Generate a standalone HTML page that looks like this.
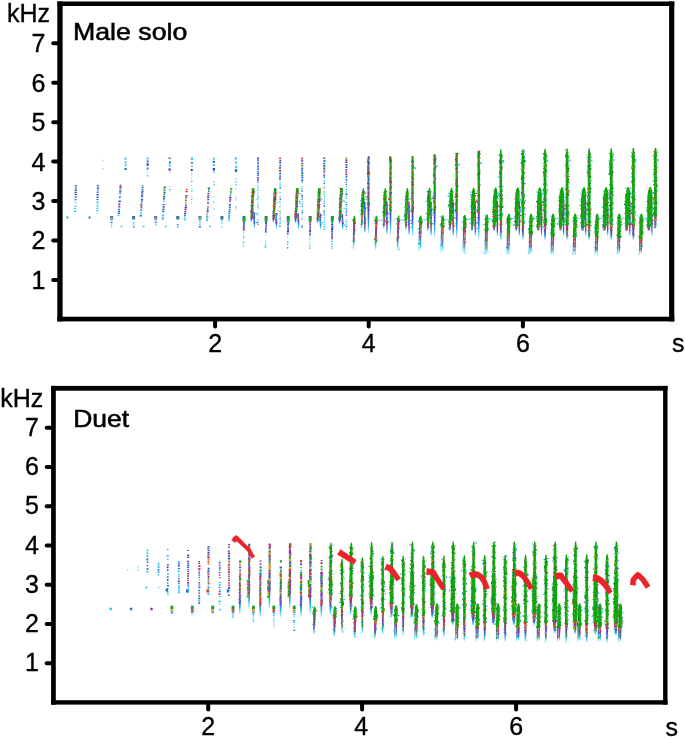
<!DOCTYPE html>
<html><head><meta charset="utf-8"><style>
html,body{margin:0;padding:0;background:#fff;width:685px;height:740px;overflow:hidden;font-family:"Liberation Sans",sans-serif}
svg{display:block;will-change:transform}
</style></head><body><svg width="685" height="740" viewBox="0 0 685 740" font-family="'Liberation Sans', sans-serif"><style>text{stroke:#000;stroke-width:0.35px}</style><rect width="685" height="740" fill="#fff"/><defs><linearGradient id="ta" x1="0" y1="0" x2="0" y2="1"><stop offset="0" stop-color="#7040b0"/><stop offset="0.3" stop-color="#3a58d4"/><stop offset="0.65" stop-color="#2cb8ec"/><stop offset="1" stop-color="#c4f0fa"/></linearGradient><linearGradient id="tb" x1="0" y1="0" x2="0" y2="1"><stop offset="0" stop-color="#2f6ad8"/><stop offset="0.5" stop-color="#2cc0ee"/><stop offset="1" stop-color="#c4f0fa"/></linearGradient><linearGradient id="tp" x1="0" y1="0" x2="0" y2="1"><stop offset="0" stop-color="#d8302c"/><stop offset="0.3" stop-color="#8a3aa8"/><stop offset="0.55" stop-color="#3560d8"/><stop offset="0.8" stop-color="#2cc8ee"/><stop offset="1" stop-color="#c4f0fa"/></linearGradient><linearGradient id="tg" x1="0" y1="0" x2="0" y2="1"><stop offset="0" stop-color="#0fa80f"/><stop offset="0.3" stop-color="#3560d8"/><stop offset="0.7" stop-color="#2cc8ee"/><stop offset="1" stop-color="#c4f0fa"/></linearGradient><linearGradient id="tc" x1="0" y1="0" x2="0" y2="1"><stop offset="0" stop-color="#2cc8ee"/><stop offset="1" stop-color="#d0f4fc"/></linearGradient></defs><g><path fill="#0fa80f" d="M251.9 188.5 251.7 193.5 251.4 198.4 251.2 203.4 250.9 208.3 250.7 213.3 250.4 218.2 252.5 218.2 252.8 213.3 253.2 208.3 253.5 203.4 253.8 198.4 254.2 193.5 254.5 188.5zM273.9 188.4 273.7 193.4 273.5 198.5 273.2 203.5 273 208.5 272.7 213.6 272.5 218.6 274.6 218.6 274.9 213.6 275.3 208.5 275.6 203.5 276 198.5 276.3 193.4 276.6 188.4zM296 188.3 295.7 193.4 295.5 198.5 295.2 203.7 295 208.8 294.8 213.9 294.5 219 296.7 219 297 213.9 297.4 208.8 297.7 203.7 298.1 198.5 298.4 193.4 298.8 188.3zM318 188.2 317.8 193.4 317.5 198.6 317.3 203.8 317 209 316.8 214.2 316.6 219.3 318.8 219.3 319.2 214.2 319.5 209 319.9 203.8 320.2 198.6 320.6 193.4 320.9 188.2zM340 188.2 339.8 193.4 339.5 198.7 339.3 203.9 339.1 209.2 338.8 214.4 338.6 219.7 340.9 219.7 341.3 214.4 341.6 209.2 342 203.9 342.3 198.7 342.7 193.4 343 188.2zM353.8 216 353.7 216.5 353.6 217 353.5 217.5 353.4 218 353.2 218.5 353.1 219 353 219.5 353 220 353 220.5 353 220.9 355.6 220.9 355.6 220.5 355.6 220 355.6 219.5 355.5 219 355.4 218.5 355.3 218 355.2 217.5 355.2 217 355.1 216.5 355 216zM362.9 188.1 362.2 190.9 361.8 193.7 361.5 196.5 361.4 199.3 361.3 202.1 361.2 204.8 361.2 207.6 361.1 210.4 361.1 213.2 361 216 363.2 216 363.4 213.2 363.6 210.4 363.7 207.6 363.9 204.8 364.1 202.1 364.2 199.3 364.3 196.5 364.3 193.7 364.1 190.9 363.7 188.1zM375.9 215.8 375.7 216.3 375.6 216.9 375.5 217.4 375.4 218 375.2 218.5 375.1 219.1 375 219.6 375 220.1 375 220.7 375 221.2 377.7 221.2 377.7 220.7 377.7 220.1 377.7 219.6 377.7 219.1 377.6 218.5 377.5 218 377.4 217.4 377.3 216.9 377.2 216.3 377.1 215.8zM384.9 188 384.2 191 383.8 194.1 383.5 197.1 383.4 200.1 383.3 203.2 383.2 206.2 383.2 209.2 383.1 212.3 383.1 215.3 383 218.3 385.2 218.3 385.4 215.3 385.6 212.3 385.8 209.2 386 206.2 386.2 203.2 386.4 200.1 386.5 197.1 386.5 194.1 386.3 191 385.8 188zM389.5 156.5 389.5 165.6 389.5 174.8 389.5 183.9 389.5 193.1 389.5 202.2 389.5 211.4 391.5 211.4 391.5 202.2 391.5 193.1 391.5 183.9 391.5 174.8 391.5 165.6 391.5 156.5zM397.9 215.6 397.8 216.2 397.7 216.8 397.5 217.4 397.4 218 397.2 218.6 397.1 219.1 397.1 219.7 397.1 220.3 397 220.9 397 221.5 399.8 221.5 399.8 220.9 399.8 220.3 399.8 219.7 399.8 219.1 399.7 218.6 399.6 218 399.5 217.4 399.4 216.8 399.3 216.2 399.2 215.6zM407 187.9 406.1 191.2 405.7 194.5 405.5 197.8 405.4 201 405.3 204.3 405.2 207.6 405.1 210.9 405.1 214.2 405 217.5 405 220.7 407.3 220.7 407.5 217.5 407.7 214.2 407.9 210.9 408.1 207.6 408.3 204.3 408.5 201 408.6 197.8 408.6 194.5 408.5 191.2 407.9 187.9zM411.5 156 411.5 165.4 411.5 174.7 411.5 184.1 411.5 193.5 411.5 202.9 411.5 212.2 413.6 212.2 413.6 202.9 413.6 193.5 413.6 184.1 413.6 174.7 413.6 165.4 413.6 156zM420 215.4 419.8 216.2 419.6 217.1 419.4 217.9 419.2 218.7 419.1 219.6 419.1 220.4 419.1 221.3 419 222.1 419 222.9 419 223.8 421.8 223.8 421.8 222.9 421.8 222.1 421.9 221.3 421.9 220.4 421.9 219.6 421.9 218.7 421.7 217.9 421.6 217.1 421.4 216.2 421.3 215.4zM429 187.8 428.1 191.4 427.7 194.9 427.5 198.5 427.3 202 427.2 205.5 427.2 209.1 427.1 212.6 427.1 216.2 427 219.7 427 223.2 429.3 223.2 429.5 219.7 429.8 216.2 430 212.6 430.2 209.1 430.4 205.5 430.6 202 430.8 198.5 430.8 194.9 430.7 191.4 430 187.8zM430.1 201.8 430.1 205.8 430.1 209.8 430.2 213.8 430.2 217.8 430.2 221.8 430.2 225.8 431.9 225.8 431.9 221.8 431.9 217.8 431.9 213.8 431.8 209.8 431.8 205.8 431.8 201.8zM433.6 154.3 433.6 164.1 433.6 173.8 433.6 183.6 433.6 193.3 433.6 203 433.6 212.8 435.7 212.8 435.7 203 435.7 193.3 435.7 183.6 435.7 173.8 435.7 164.1 435.7 154.3zM442.1 215.2 441.8 216.3 441.5 217.4 441.2 218.5 441.1 219.7 441.1 220.8 441.1 221.9 441 223 441 224.1 441 225.2 440.9 226.3 443.9 226.3 443.9 225.2 443.9 224.1 444 223 444 221.9 444 220.8 444.1 219.7 444 218.5 443.8 217.4 443.6 216.3 443.4 215.2zM451.1 187.8 450 191.4 449.6 195.1 449.4 198.7 449.2 202.4 449.2 206.1 449.1 209.7 449.1 213.4 449 217 449 220.7 448.9 224.4 451.4 224.4 451.7 220.7 451.9 217 452.1 213.4 452.4 209.7 452.6 206.1 452.8 202.4 453 198.7 453 195.1 452.9 191.4 452.1 187.8zM452.2 201.8 452.2 205.7 452.2 209.7 452.2 213.7 452.3 217.7 452.3 221.7 452.3 225.7 454 225.7 454 221.7 454 217.7 453.9 213.7 453.9 209.7 453.9 205.7 453.9 201.8zM455.6 152.7 455.6 162.7 455.6 172.7 455.6 182.7 455.6 192.8 455.6 202.8 455.6 212.8 457.8 212.8 457.8 202.8 457.8 192.8 457.8 182.7 457.8 172.7 457.8 162.7 457.8 152.7zM464.1 215 463.7 216.4 463.4 217.8 463.2 219.2 463.1 220.6 463.1 222 463 223.4 463 224.7 463 226.1 462.9 227.5 462.9 228.9 466 228.9 466 227.5 466 226.1 466.1 224.7 466.1 223.4 466.1 222 466.2 220.6 466.2 219.2 466.1 217.8 465.8 216.4 465.5 215zM473.1 187.7 472 191.5 471.5 195.2 471.3 199 471.1 202.8 471.1 206.6 471.1 210.4 471 214.2 471 217.9 470.9 221.7 470.9 225.5 473.5 225.5 473.8 221.7 474 217.9 474.3 214.2 474.5 210.4 474.8 206.6 475 202.8 475.2 199 475.3 195.2 475.1 191.5 474.3 187.7zM474.2 201.7 474.3 205.7 474.3 209.7 474.3 213.7 474.3 217.7 474.4 221.7 474.4 225.7 476.1 225.7 476.1 221.7 476 217.7 476 213.7 476 209.7 476 205.7 475.9 201.7zM477.6 150.8 477.6 161.2 477.6 171.5 477.6 181.8 477.6 192.1 477.6 202.4 477.6 212.7 479.9 212.7 479.9 202.4 479.9 192.1 479.9 181.8 479.9 171.5 479.9 161.2 479.9 150.8zM486.1 214.4 485.7 216.1 485.2 217.8 485.1 219.5 485.1 221.2 485.1 222.9 485 224.6 485 226.3 484.9 228 484.9 229.7 484.9 231.5 488 231.5 488.1 229.7 488.1 228 488.2 226.3 488.2 224.6 488.2 222.9 488.3 221.2 488.3 219.5 488.3 217.8 488 216.1 487.6 214.4zM495.1 187.6 493.9 191.5 493.4 195.4 493.2 199.3 493.1 203.2 493 207.1 493 211 493 214.9 492.9 218.8 492.9 222.8 492.8 226.7 495.6 226.7 495.9 222.8 496.2 218.8 496.4 214.9 496.7 211 497 207.1 497.2 203.2 497.4 199.3 497.5 195.4 497.3 191.5 496.4 187.6zM496.3 201.6 496.3 205.6 496.4 209.6 496.4 213.6 496.4 217.6 496.4 221.7 496.5 225.7 498.2 225.7 498.1 221.7 498.1 217.6 498.1 213.6 498.1 209.6 498 205.6 498 201.6zM500.3 149 499.6 156.3 499.6 163.6 499.6 170.8 499.6 178.1 499.6 185.4 499.6 192.7 499.6 200 499.6 207.2 499.6 214.5 499.6 221.8 502.1 221.8 502.1 214.5 502.1 207.2 502.1 200 502.1 192.7 502.1 185.4 502.1 178.1 502.1 170.8 502.1 163.6 502.1 156.3 501.4 149zM508.2 213.8 507.7 215.7 507.2 217.6 507.2 219.5 507.1 221.4 507.1 223.3 507 225.3 507 227.2 506.9 229.1 506.9 231 506.8 232.9 510.1 232.9 510.2 231 510.2 229.1 510.3 227.2 510.3 225.3 510.4 223.3 510.4 221.4 510.5 219.5 510.5 217.6 510.1 215.7 509.7 213.8zM517.2 187.5 515.9 191.4 515.4 195.4 515.2 199.3 515 203.2 515 207.2 515 211.1 514.9 215 514.9 219 514.9 222.9 514.9 226.8 517.8 226.8 518 222.9 518.3 219 518.6 215 518.9 211.1 519.1 207.2 519.4 203.2 519.6 199.3 519.7 195.4 519.5 191.4 518.5 187.5zM518.4 201.5 518.4 205.5 518.4 209.6 518.5 213.6 518.5 217.6 518.5 221.6 518.5 225.7 520.2 225.7 520.2 221.6 520.2 217.6 520.2 213.6 520.1 209.6 520.1 205.5 520.1 201.5zM522.4 148.9 521.6 156.3 521.6 163.7 521.6 171.1 521.6 178.5 521.6 185.9 521.6 193.3 521.6 200.7 521.6 208.2 521.6 215.6 521.6 223 524.2 223 524.2 215.6 524.2 208.2 524.2 200.7 524.2 193.3 524.2 185.9 524.2 178.5 524.2 171.1 524.2 163.7 524.2 156.3 523.5 148.9zM530.3 213.8 529.7 215.9 529.2 218 529.2 220.1 529.1 222.1 529.1 224.2 529 226.3 529 228.4 528.9 230.5 528.9 232.6 528.8 234.7 532.2 234.7 532.2 232.6 532.3 230.5 532.3 228.4 532.4 226.3 532.4 224.2 532.5 222.1 532.5 220.1 532.6 218 532.3 215.9 531.8 213.8zM539.2 187.4 537.9 191.4 537.4 195.3 537.2 199.3 537 203.3 537 207.2 537 211.2 536.9 215.1 536.9 219.1 536.9 223.1 536.9 227 539.9 227 540.2 223.1 540.4 219.1 540.7 215.1 541 211.2 541.3 207.2 541.6 203.3 541.8 199.3 541.8 195.3 541.6 191.4 540.6 187.4zM540.5 201.4 540.5 205.5 540.5 209.5 540.5 213.5 540.6 217.6 540.6 221.6 540.6 225.6 542.3 225.6 542.3 221.6 542.3 217.6 542.2 213.5 542.2 209.5 542.2 205.5 542.2 201.4zM544.4 148.7 543.7 156.3 543.7 163.8 543.7 171.4 543.7 178.9 543.7 186.4 543.7 194 543.7 201.5 543.7 209.1 543.7 216.6 543.7 224.2 546.4 224.2 546.4 216.6 546.4 209.1 546.4 201.5 546.4 194 546.4 186.4 546.4 178.9 546.4 171.4 546.4 163.8 546.4 156.3 545.6 148.7zM552.3 213.8 551.7 216.1 551.3 218.3 551.2 220.6 551.2 222.9 551.1 225.1 551.1 227.4 551 229.7 551 231.9 550.9 234.2 550.9 236.5 554.2 236.5 554.3 234.2 554.3 231.9 554.4 229.7 554.4 227.4 554.5 225.1 554.6 222.9 554.6 220.6 554.7 218.3 554.4 216.1 553.9 213.8zM561.3 187.3 559.9 191.3 559.4 195.3 559.1 199.3 559 203.3 559 207.3 559 211.3 558.9 215.2 558.9 219.2 558.9 223.2 558.9 227.2 562 227.2 562.3 223.2 562.6 219.2 562.9 215.2 563.2 211.3 563.5 207.3 563.8 203.3 563.9 199.3 564 195.3 563.8 191.3 562.7 187.3zM562.5 201.3 562.6 205.4 562.6 209.4 562.6 213.5 562.6 217.5 562.7 221.6 562.7 225.6 564.4 225.6 564.4 221.6 564.3 217.5 564.3 213.5 564.3 209.4 564.3 205.4 564.2 201.3zM566.5 148.6 565.7 156.3 565.7 163.9 565.7 171.6 565.7 179.3 565.7 187 565.7 194.7 565.7 202.3 565.7 210 565.7 217.7 565.7 225.4 568.5 225.4 568.5 217.7 568.5 210 568.5 202.3 568.5 194.7 568.5 187 568.5 179.3 568.5 171.6 568.5 163.9 568.5 156.3 567.7 148.6zM574.4 213.8 573.7 216.1 573.4 218.4 573.3 220.8 573.2 223.1 573.2 225.4 573.1 227.7 573.1 230 573 232.3 573 234.7 572.9 237 576.3 237 576.4 234.7 576.4 232.3 576.5 230 576.5 227.7 576.6 225.4 576.6 223.1 576.7 220.8 576.8 218.4 576.5 216.1 575.9 213.8zM583.4 187.2 581.9 191.3 581.4 195.3 581.2 199.3 581 203.3 581 207.3 581 211.3 581 215.3 581 219.3 581 223.4 580.9 227.4 584.1 227.4 584.4 223.4 584.7 219.3 585 215.3 585.3 211.3 585.6 207.3 585.8 203.3 586 199.3 586.1 195.3 585.9 191.3 584.8 187.2zM584.6 201.2 584.6 205.3 584.7 209.4 584.7 213.4 584.7 217.5 584.7 221.5 584.8 225.6 586.5 225.6 586.4 221.5 586.4 217.5 586.4 213.4 586.4 209.4 586.3 205.3 586.3 201.2zM588.5 148.4 587.8 156.1 587.8 163.9 587.8 171.6 587.8 179.3 587.8 187 587.8 194.7 587.8 202.4 587.8 210.1 587.8 217.9 587.8 225.6 590.6 225.6 590.6 217.9 590.6 210.1 590.6 202.4 590.6 194.7 590.6 187 590.6 179.3 590.6 171.6 590.6 163.9 590.6 156.1 589.8 148.4zM596.5 213.8 595.8 216.2 595.4 218.5 595.4 220.9 595.3 223.3 595.2 225.6 595.2 228 595.1 230.4 595.1 232.8 595 235.1 595 237.5 598.4 237.5 598.4 235.1 598.5 232.8 598.6 230.4 598.6 228 598.7 225.6 598.7 223.3 598.8 220.9 598.8 218.5 598.6 216.2 598 213.8zM605.4 187.2 604 191.2 603.5 195.2 603.2 199.3 603.1 203.3 603.1 207.4 603.1 211.4 603 215.4 603 219.5 603 223.5 603 227.6 606.2 227.6 606.5 223.5 606.8 219.5 607.1 215.4 607.4 211.4 607.6 207.4 607.9 203.3 608.1 199.3 608.2 195.2 608 191.2 606.9 187.2zM606.7 201.2 606.7 205.2 606.7 209.3 606.8 213.4 606.8 217.4 606.8 221.5 606.8 225.6 608.5 225.6 608.5 221.5 608.5 217.4 608.5 213.4 608.4 209.3 608.4 205.2 608.4 201.2zM610.6 148.3 609.8 156 609.8 163.8 609.8 171.5 609.8 179.3 609.8 187 609.8 194.8 609.8 202.5 609.8 210.3 609.8 218 609.8 225.8 612.7 225.8 612.7 218 612.7 210.3 612.7 202.5 612.7 194.8 612.7 187 612.7 179.3 612.7 171.5 612.7 163.8 612.7 156 611.9 148.3zM618.5 213.8 617.8 216.2 617.5 218.6 617.4 221.1 617.4 223.5 617.3 225.9 617.2 228.3 617.2 230.7 617.1 233.2 617.1 235.6 617 238 620.5 238 620.5 235.6 620.6 233.2 620.6 230.7 620.7 228.3 620.8 225.9 620.8 223.5 620.9 221.1 620.9 218.6 620.7 216.2 620.1 213.8zM627.5 187.1 626.1 191.1 625.5 195.2 625.3 199.3 625.2 203.3 625.1 207.4 625.1 211.5 625.1 215.5 625.1 219.6 625.1 223.7 625.1 227.7 628.2 227.7 628.5 223.7 628.8 219.6 629.1 215.5 629.4 211.5 629.7 207.4 630 203.3 630.2 199.3 630.3 195.2 630.1 191.1 628.9 187.1zM628.8 201.1 628.8 205.2 628.8 209.2 628.8 213.3 628.9 217.4 628.9 221.5 628.9 225.5 630.6 225.5 630.6 221.5 630.6 217.4 630.5 213.3 630.5 209.2 630.5 205.2 630.5 201.1zM632.7 148.1 631.9 155.9 631.9 163.7 631.9 171.5 631.9 179.3 631.9 187.1 631.9 194.9 631.9 202.6 631.9 210.4 631.9 218.2 631.9 226 634.8 226 634.8 218.2 634.8 210.4 634.8 202.6 634.8 194.9 634.8 187.1 634.8 179.3 634.8 171.5 634.8 163.7 634.8 155.9 634 148.1zM640.6 213.8 639.9 216.3 639.5 218.7 639.5 221.2 639.4 223.7 639.4 226.2 639.3 228.6 639.2 231.1 639.2 233.6 639.1 236 639.1 238.5 642.6 238.5 642.6 236 642.7 233.6 642.7 231.1 642.8 228.6 642.9 226.2 642.9 223.7 643 221.2 643 218.7 642.8 216.3 642.2 213.8zM649.6 187 648.1 191.1 647.5 195.2 647.3 199.3 647.2 203.4 647.2 207.5 647.2 211.6 647.2 215.6 647.1 219.7 647.1 223.8 647.1 227.9 650.3 227.9 650.6 223.8 650.9 219.7 651.2 215.6 651.5 211.6 651.8 207.5 652.1 203.4 652.3 199.3 652.4 195.2 652.2 191.1 651 187zM650.9 201 650.9 205.1 650.9 209.2 650.9 213.2 650.9 217.3 651 221.4 651 225.5 652.7 225.5 652.7 221.4 652.6 217.3 652.6 213.2 652.6 209.2 652.6 205.1 652.6 201zM654.7 148 654 154.9 654 161.8 654 168.7 654 175.5 654 182.4 654 189.3 654 196.2 654 203.1 654 210 654 216.8 656.9 216.8 656.9 210 656.9 203.1 656.9 196.2 656.9 189.3 656.9 182.4 656.9 175.5 656.9 168.7 656.9 161.8 656.9 154.9 656.1 148zM314 606.5 313.8 607.3 313.6 608.1 313.4 609 313.1 609.8 313.1 610.6 313.1 611.5 313 612.3 313 613.1 313 613.9 313 614.8 315.8 614.8 315.8 613.9 315.8 613.1 315.8 612.3 315.9 611.5 315.9 610.6 315.9 609.8 315.7 609 315.5 608.1 315.4 607.3 315.2 606.5zM330.4 542.7 329.7 547.9 329.7 553.1 329.6 558.2 329.6 563.4 329.4 568.6 329.2 573.8 329 579 329 584.2 329 589.3 328.9 594.5 332 594.5 332.1 589.3 332.1 584.2 332.2 579 332.1 573.8 331.9 568.6 331.9 563.4 331.9 558.2 332 553.1 332 547.9 331.4 542.7zM334.3 606.3 334.1 607.4 333.8 608.5 333.5 609.6 333.4 610.6 333.4 611.7 333.4 612.8 333.3 613.8 333.3 614.9 333.3 616 333.3 617.1 336.2 617.1 336.2 616 336.2 614.9 336.2 613.8 336.3 612.8 336.3 611.7 336.3 610.6 336.3 609.6 336.1 608.5 335.9 607.4 335.6 606.3zM341.5 558.7 340.9 563.7 340.9 568.7 340.9 573.7 340.9 578.7 340.9 583.7 340.9 588.7 340.9 593.7 340.9 598.7 340.9 603.7 340.9 608.7 343.1 608.7 343.1 603.7 343.1 598.7 343.1 593.7 343.1 588.7 343.1 583.7 343.1 578.7 343.1 573.7 343.1 568.7 343.1 563.7 342.5 558.7zM350.8 542.4 350.1 547.8 350 553.3 350 558.7 349.9 564.1 349.7 569.6 349.5 575 349.3 580.4 349.3 585.9 349.2 591.3 349.2 596.7 352.5 596.7 352.5 591.3 352.6 585.9 352.6 580.4 352.6 575 352.4 569.6 352.3 564.1 352.3 558.7 352.4 553.3 352.4 547.8 351.8 542.4zM354.7 606.2 354.4 607.4 354 608.7 353.8 610 353.8 611.2 353.7 612.5 353.7 613.8 353.7 615 353.6 616.3 353.6 617.6 353.6 618.8 356.6 618.8 356.6 617.6 356.6 616.3 356.7 615 356.7 613.8 356.7 612.5 356.8 611.2 356.8 610 356.6 608.7 356.3 607.4 356.1 606.2zM361.9 557.3 361.2 562.7 361.2 568 361.2 573.3 361.2 578.6 361.2 584 361.2 589.3 361.2 594.6 361.2 600 361.2 605.3 361.2 610.6 363.5 610.6 363.5 605.3 363.5 600 363.5 594.6 363.5 589.3 363.5 584 363.5 578.6 363.5 573.3 363.5 568 363.5 562.7 362.9 557.3zM371.1 542.1 370.4 547.8 370.4 553.5 370.3 559.2 370.3 564.8 370 570.5 369.7 576.2 369.6 581.9 369.6 587.6 369.5 593.3 369.5 599 372.9 599 373 593.3 373 587.6 373.1 581.9 373.1 576.2 372.9 570.5 372.7 564.8 372.7 559.2 372.8 553.5 372.8 547.8 372.2 542.1zM375.1 606 374.7 607.5 374.3 608.9 374.1 610.4 374.1 611.9 374 613.3 374 614.8 374 616.3 373.9 617.7 373.9 619.2 373.9 620.7 377 620.7 377 619.2 377 617.7 377.1 616.3 377.1 614.8 377.1 613.3 377.2 611.9 377.2 610.4 377.1 608.9 376.8 607.5 376.5 606zM382.2 556 381.6 561.7 381.6 567.3 381.6 573 381.6 578.6 381.6 584.3 381.6 590 381.6 595.6 381.6 601.3 381.6 606.9 381.6 612.6 383.9 612.6 383.9 606.9 383.9 601.3 383.9 595.6 383.9 590 383.9 584.3 383.9 578.6 383.9 573 383.9 567.3 383.9 561.7 383.3 556zM391.5 541.8 390.8 548 390.8 554.1 390.7 560.3 390.6 566.5 390.3 572.7 390 578.8 389.9 585 389.9 591.2 389.8 597.3 389.8 603.5 393.4 603.5 393.5 597.3 393.5 591.2 393.5 585 393.6 578.8 393.4 572.7 393.1 566.5 393.1 560.3 393.2 554.1 393.2 548 392.6 541.8zM395.4 605.2 395 606.9 394.5 608.6 394.4 610.3 394.4 612 394.4 613.7 394.3 615.4 394.3 617.1 394.2 618.9 394.2 620.6 394.2 622.3 397.4 622.3 397.4 620.6 397.4 618.9 397.5 617.1 397.5 615.4 397.6 613.7 397.6 612 397.6 610.3 397.7 608.6 397.3 606.9 396.9 605.2zM402.6 555.8 402 561.7 402 567.5 402 573.3 402 579.1 402 585 402 590.8 402 596.6 402 602.4 402 608.3 402 614.1 404.4 614.1 404.4 608.3 404.4 602.4 404.4 596.6 404.4 590.8 404.4 585 404.4 579.1 404.4 573.3 404.4 567.5 404.4 561.7 403.7 555.8zM411.9 541.5 411.2 547.9 411.1 554.4 411.1 560.8 411 567.2 410.5 573.6 410.2 580.1 410.2 586.5 410.1 592.9 410.1 599.3 410.1 605.8 413.8 605.8 413.9 599.3 414 592.9 414 586.5 414.1 580.1 413.9 573.6 413.5 567.2 413.5 560.8 413.6 554.4 413.6 547.9 413 541.5zM415.8 604.3 415.3 606.3 414.8 608.2 414.8 610.1 414.8 612.1 414.7 614 414.7 616 414.6 617.9 414.6 619.8 414.5 621.8 414.5 623.7 417.7 623.7 417.8 621.8 417.8 619.8 417.9 617.9 417.9 616 417.9 614 418 612.1 418 610.1 418.1 608.2 417.7 606.3 417.3 604.3zM423 555.7 422.3 561.7 422.3 567.7 422.3 573.6 422.3 579.6 422.3 585.6 422.3 591.6 422.3 597.6 422.3 603.6 422.3 609.6 422.3 615.6 424.8 615.6 424.8 609.6 424.8 603.6 424.8 597.6 424.8 591.6 424.8 585.6 424.8 579.6 424.8 573.6 424.8 567.7 424.8 561.7 424.1 555.7zM432.3 541.5 431.5 548 431.5 554.4 431.4 560.9 431.3 567.3 430.8 573.8 430.5 580.2 430.5 586.7 430.4 593.1 430.4 599.6 430.4 606 434.3 606 434.4 599.6 434.5 593.1 434.5 586.7 434.6 580.2 434.3 573.8 434 567.3 434 560.9 434 554.4 434.1 548 433.4 541.5zM436.2 603.5 435.6 605.7 435.2 607.9 435.2 610 435.1 612.2 435.1 614.4 435 616.5 435 618.7 434.9 620.9 434.9 623.1 434.8 625.2 438.1 625.2 438.1 623.1 438.2 620.9 438.2 618.7 438.3 616.5 438.3 614.4 438.4 612.2 438.4 610 438.5 607.9 438.2 605.7 437.7 603.5zM443.4 555.5 442.7 561.7 442.7 567.8 442.7 574 442.7 580.1 442.7 586.3 442.7 592.5 442.7 598.6 442.7 604.8 442.7 611 442.7 617.1 445.2 617.1 445.2 611 445.2 604.8 445.2 598.6 445.2 592.5 445.2 586.3 445.2 580.1 445.2 574 445.2 567.8 445.2 561.7 444.5 555.5zM452.7 541.5 451.9 548.6 451.9 555.7 451.8 562.9 451.7 570 451.2 577.1 450.8 584.2 450.8 591.3 450.7 598.4 450.7 605.6 450.7 612.7 454.8 612.7 454.9 605.6 454.9 598.4 455 591.3 455 584.2 454.8 577.1 454.4 570 454.4 562.9 454.4 555.7 454.5 548.6 453.8 541.5zM456.6 603.5 455.9 605.8 455.6 608.2 455.5 610.5 455.5 612.8 455.4 615.2 455.4 617.5 455.3 619.8 455.3 622.2 455.2 624.5 455.2 626.8 458.5 626.8 458.5 624.5 458.6 622.2 458.6 619.8 458.7 617.5 458.7 615.2 458.8 612.8 458.8 610.5 458.9 608.2 458.6 605.8 458.1 603.5zM463.8 555.3 463.1 561.9 463.1 568.5 463.1 575.1 463.1 581.7 463.1 588.2 463.1 594.8 463.1 601.4 463.1 608 463.1 614.5 463.1 621.1 465.6 621.1 465.6 614.5 465.6 608 465.6 601.4 465.6 594.8 465.6 588.2 465.6 581.7 465.6 575.1 465.6 568.5 465.6 561.9 464.9 555.3zM473.1 541.5 472.3 548.6 472.2 555.8 472.2 562.9 472.1 570.1 471.5 577.2 471.2 584.4 471.2 591.5 471.1 598.7 471.1 605.8 471.1 613 475.1 613 475.3 605.8 475.3 598.7 475.4 591.5 475.4 584.4 475.2 577.2 474.8 570.1 474.8 562.9 474.8 555.8 474.9 548.6 474.2 541.5zM477 603.5 476.3 605.8 476 608.2 475.9 610.5 475.9 612.9 475.8 615.2 475.8 617.6 475.7 619.9 475.7 622.3 475.6 624.6 475.6 627 478.9 627 478.9 624.6 479 622.3 479 619.9 479.1 617.6 479.1 615.2 479.2 612.9 479.2 610.5 479.3 608.2 479 605.8 478.5 603.5zM484.1 555.2 483.4 561.9 483.4 568.6 483.4 575.3 483.4 582 483.4 588.7 483.4 595.5 483.4 602.2 483.4 608.9 483.4 615.6 483.4 622.3 486 622.3 486 615.6 486 608.9 486 602.2 486 595.5 486 588.7 486 582 486 575.3 486 568.6 486 561.9 485.3 555.2zM493.4 541.5 492.7 548.7 492.6 555.9 492.6 563 492.4 570.2 491.9 577.4 491.6 584.6 491.5 591.7 491.5 598.9 491.4 606.1 491.5 613.3 495.5 613.3 495.7 606.1 495.7 598.9 495.8 591.7 495.8 584.6 495.6 577.4 495.2 570.2 495.2 563 495.2 555.9 495.3 548.7 494.6 541.5zM497.4 603.5 496.7 605.9 496.3 608.2 496.3 610.6 496.2 613 496.2 615.3 496.1 617.7 496.1 620.1 496 622.4 496 624.8 495.9 627.1 499.3 627.1 499.3 624.8 499.4 622.4 499.4 620.1 499.5 617.7 499.5 615.3 499.6 613 499.6 610.6 499.7 608.2 499.4 605.9 498.9 603.5zM504.5 555 503.8 561.8 503.8 568.5 503.8 575.3 503.8 582.1 503.8 588.9 503.8 595.6 503.8 602.4 503.8 609.2 503.8 615.9 503.8 622.7 506.4 622.7 506.4 615.9 506.4 609.2 506.4 602.4 506.4 595.6 506.4 588.9 506.4 582.1 506.4 575.3 506.4 568.5 506.4 561.8 505.7 555zM513.8 541.5 513.1 548.7 513 555.9 513 563.1 512.8 570.3 512.2 577.5 511.9 584.8 511.9 592 511.8 599.2 511.8 606.4 511.9 613.6 515.9 613.6 516.1 606.4 516.2 599.2 516.2 592 516.3 584.8 516.1 577.5 515.6 570.3 515.5 563.1 515.6 555.9 515.7 548.7 515 541.5zM517.7 603.5 517.1 605.9 516.7 608.3 516.7 610.6 516.6 613 516.6 615.4 516.5 617.8 516.5 620.2 516.4 622.5 516.4 624.9 516.3 627.3 519.7 627.3 519.7 624.9 519.8 622.5 519.8 620.2 519.9 617.8 519.9 615.4 520 613 520 610.6 520.1 608.3 519.8 605.9 519.3 603.5zM524.9 554.8 524.2 561.7 524.2 568.5 524.2 575.3 524.2 582.1 524.2 589 524.2 595.8 524.2 602.6 524.2 609.5 524.2 616.3 524.2 623.1 526.8 623.1 526.8 616.3 526.8 609.5 526.8 602.6 526.8 595.8 526.8 589 526.8 582.1 526.8 575.3 526.8 568.5 526.8 561.7 526.1 554.8zM534.2 541.5 533.5 548.7 533.4 556 533.3 563.2 533.2 570.5 532.6 577.7 532.3 584.9 532.3 592.2 532.2 599.4 532.2 606.7 532.2 613.9 536.3 613.9 536.5 606.7 536.6 599.4 536.6 592.2 536.7 584.9 536.5 577.7 536 570.5 535.9 563.2 536 556 536 548.7 535.4 541.5zM538.1 603.5 537.4 605.9 537.1 608.3 537 610.7 537 613.1 536.9 615.5 536.9 617.9 536.8 620.3 536.8 622.7 536.7 625.1 536.7 627.5 540.1 627.5 540.1 625.1 540.2 622.7 540.2 620.3 540.3 617.9 540.3 615.5 540.4 613.1 540.4 610.7 540.5 608.3 540.2 605.9 539.7 603.5zM545.3 554.7 544.6 561.6 544.6 568.4 544.6 575.3 544.6 582.2 544.6 589.1 544.6 596 544.6 602.9 544.6 609.8 544.6 616.6 544.6 623.5 547.2 623.5 547.2 616.6 547.2 609.8 547.2 602.9 547.2 596 547.2 589.1 547.2 582.2 547.2 575.3 547.2 568.4 547.2 561.6 546.5 554.7zM554.6 541.5 553.8 549.5 553.8 557.4 553.7 565.4 553.6 573.3 553 581.3 552.7 589.3 552.6 597.2 552.6 605.2 552.5 613.2 552.6 621.1 556.7 621.1 556.9 613.2 557 605.2 557 597.2 557.1 589.3 556.9 581.3 556.4 573.3 556.3 565.4 556.4 557.4 556.4 549.5 555.8 541.5zM558.5 603.5 557.8 605.9 557.5 608.3 557.4 610.7 557.4 613.2 557.3 615.6 557.3 618 557.2 620.4 557.2 622.8 557.1 625.2 557.1 627.6 560.5 627.6 560.5 625.2 560.6 622.8 560.6 620.4 560.7 618 560.7 615.6 560.8 613.2 560.8 610.7 560.9 608.3 560.6 605.9 560 603.5zM565.7 554.5 565 561.4 565 568.4 565 575.3 565 582.3 565 589.2 565 596.2 565 603.1 565 610.1 565 617 565 623.9 567.6 623.9 567.6 617 567.6 610.1 567.6 603.1 567.6 596.2 567.6 589.2 567.6 582.3 567.6 575.3 567.6 568.4 567.6 561.4 566.9 554.5zM575 541.5 574.2 549.5 574.2 557.6 574.1 565.6 573.9 573.7 573.3 581.7 573.1 589.8 573 597.8 573 605.9 572.9 613.9 573 622 577.1 622 577.3 613.9 577.4 605.9 577.4 597.8 577.5 589.8 577.3 581.7 576.8 573.7 576.7 565.6 576.8 557.6 576.8 549.5 576.2 541.5zM578.9 603.5 578.2 605.9 577.8 608.4 577.8 610.8 577.7 613.2 577.7 615.7 577.6 618.1 577.6 620.5 577.5 622.9 577.5 625.4 577.4 627.8 580.9 627.8 580.9 625.4 581 622.9 581 620.5 581.1 618.1 581.1 615.7 581.2 613.2 581.2 610.8 581.3 608.4 581.1 605.9 580.4 603.5zM586.1 554.3 585.3 561.3 585.3 568.3 585.3 575.3 585.3 582.3 585.3 589.3 585.3 596.4 585.3 603.4 585.3 610.4 585.3 617.4 585.3 624.4 588 624.4 588 617.4 588 610.4 588 603.4 588 596.4 588 589.3 588 582.3 588 575.3 588 568.3 588 561.3 587.3 554.3zM595.4 541.5 594.6 549.6 594.6 557.8 594.5 565.9 594.3 574.1 593.7 582.2 593.4 590.3 593.4 598.5 593.3 606.6 593.3 614.7 593.4 622.9 597.5 622.9 597.7 614.7 597.8 606.6 597.8 598.5 597.9 590.3 597.7 582.2 597.2 574.1 597.1 565.9 597.2 557.8 597.2 549.6 596.6 541.5zM599.3 603.5 598.6 605.9 598.2 608.4 598.2 610.8 598.1 613.3 598.1 615.7 598 618.2 598 620.6 597.9 623.1 597.9 625.5 597.8 628 601.3 628 601.3 625.5 601.4 623.1 601.4 620.6 601.5 618.2 601.5 615.7 601.6 613.3 601.6 610.8 601.7 608.4 601.5 605.9 600.8 603.5zM606.5 554.2 605.7 561.2 605.7 568.3 605.7 575.4 605.7 582.4 605.7 589.5 605.7 596.5 605.7 603.6 605.7 610.7 605.7 617.7 605.7 624.8 608.4 624.8 608.4 617.7 608.4 610.7 608.4 603.6 608.4 596.5 608.4 589.5 608.4 582.4 608.4 575.4 608.4 568.3 608.4 561.2 607.7 554.2zM615.8 541.5 615 549.7 614.9 558 614.9 566.2 614.7 574.4 614.1 582.6 613.8 590.9 613.8 599.1 613.7 607.3 613.7 615.5 613.8 623.8 617.9 623.8 618.1 615.5 618.2 607.3 618.2 599.1 618.3 590.9 618.1 582.6 617.6 574.4 617.5 566.2 617.6 558 617.6 549.7 617 541.5zM619.7 603.5 618.9 606 618.6 608.4 618.5 610.9 618.5 613.4 618.4 615.8 618.4 618.3 618.3 620.7 618.3 623.2 618.2 625.7 618.2 628.1 621.7 628.1 621.7 625.7 621.8 623.2 621.8 620.7 621.9 618.3 621.9 615.8 622 613.4 622 610.9 622.1 608.4 621.9 606 621.2 603.5z"/><path fill="#2f6ad8" d="M253.2 212.3 253.3 214.2 253.3 216 253.4 217.9 253.4 219.8 253.4 221.6 253.5 223.5 255.1 223.5 255 221.6 255 219.8 255 217.9 254.9 216 254.9 214.2 254.8 212.3zM275.3 212.7 275.3 214.6 275.4 216.5 275.4 218.3 275.5 220.2 275.5 222.1 275.6 223.9 277.2 223.9 277.1 222.1 277.1 220.2 277 218.3 277 216.5 276.9 214.6 276.9 212.7zM297.4 213.2 297.4 215 297.5 216.9 297.5 218.8 297.6 220.6 297.6 222.5 297.7 224.3 299.3 224.3 299.2 222.5 299.2 220.6 299.1 218.8 299.1 216.9 299 215 299 213.2zM319.4 213.6 319.5 215.4 319.5 217.3 319.6 219.2 319.6 221 319.7 222.9 319.7 224.8 321.3 224.8 321.3 222.9 321.2 221 321.2 219.2 321.1 217.3 321.1 215.4 321 213.6zM341.5 214 341.6 215.9 341.6 217.7 341.7 219.6 341.7 221.5 341.8 223.3 341.8 225.2 343.4 225.2 343.4 223.3 343.3 221.5 343.3 219.6 343.2 217.7 343.2 215.9 343.1 214zM363.9 202.1 363.9 205.7 363.9 209.3 363.9 212.9 363.9 216.5 364 220.1 364 223.7 365.7 223.7 365.7 220.1 365.6 216.5 365.6 212.9 365.6 209.3 365.6 205.7 365.6 202.1zM367.5 156.9 367.5 165.9 367.5 174.8 367.5 183.7 367.5 192.6 367.5 201.6 367.5 210.5 369.4 210.5 369.4 201.6 369.4 192.6 369.4 183.7 369.4 174.8 369.4 165.9 369.4 156.9zM385.9 202 386 205.7 386 209.5 386 213.2 386 216.9 386 220.7 386.1 224.4 387.8 224.4 387.7 220.7 387.7 216.9 387.7 213.2 387.7 209.5 387.7 205.7 387.6 202zM408 201.9 408 205.8 408.1 209.6 408.1 213.5 408.1 217.4 408.1 221.2 408.1 225.1 409.8 225.1 409.8 221.2 409.8 217.4 409.8 213.5 409.8 209.6 409.7 205.8 409.7 201.9z"/><g><path d="M250.5 217.7 252.4 217.7 251.7 222.3 250.7 222.3z" fill="url(#ta)"/><path d="M253.6 223 255 223 254.9 228.3 253.9 228.3z" fill="url(#tb)"/><path d="M272.6 218.1 274.5 218.1 273.8 222.7 272.8 222.7z" fill="url(#ta)"/><path d="M275.7 223.4 277.1 223.4 277 228.7 276 228.7z" fill="url(#tb)"/><path d="M294.6 218.5 296.6 218.5 295.9 223.2 294.8 223.2z" fill="url(#ta)"/><path d="M297.7 223.8 299.2 223.8 299.1 229.2 298.1 229.2z" fill="url(#tb)"/><path d="M316.7 218.8 318.7 218.8 318 223.6 316.9 223.6z" fill="url(#ta)"/><path d="M319.8 224.3 321.2 224.3 321.1 229.6 320.1 229.6z" fill="url(#tb)"/><path d="M338.7 219.2 340.8 219.2 340.1 224 338.9 224z" fill="url(#ta)"/><path d="M341.9 224.7 343.3 224.7 343.2 230 342.2 230z" fill="url(#tb)"/><path d="M353.1 220.4 355.4 220.4 354.1 249 352.8 249z" fill="url(#tp)"/><path d="M361.2 215.5 363 215.5 362.2 228 361 228z" fill="url(#tp)"/><path d="M364.1 223.2 365.6 223.2 365.4 233 364.4 233z" fill="url(#tp)"/><path d="M367.5 210 369.3 210 368.9 233.4 367.9 233.4z" fill="url(#ta)"/><path d="M375.2 220.7 377.5 220.7 376.1 249.7 374.8 249.7z" fill="url(#tp)"/><path d="M383.2 217.8 385.1 217.8 384.3 229 383.1 229z" fill="url(#tp)"/><path d="M386.2 223.9 387.7 223.9 387.5 234 386.5 234z" fill="url(#tp)"/><path d="M389.6 210.9 391.4 210.9 391 234.9 390 234.9z" fill="url(#ta)"/><path d="M397.2 221 399.5 221 398.2 250.3 396.9 250.3z" fill="url(#tp)"/><path d="M405.1 220.2 407.1 220.2 406.4 230 405.2 230z" fill="url(#tp)"/><path d="M408.2 224.6 409.8 224.6 409.6 235 408.6 235z" fill="url(#tp)"/><path d="M411.6 211.7 413.5 211.7 413.1 236.4 412 236.4z" fill="url(#ta)"/><path d="M419.1 223.3 420.4 223.3 419.3 251 418.3 251z" fill="url(#tg)"/><path d="M420.4 223.3 421.7 223.3 420.9 250 419.8 250z" fill="url(#tp)"/><path d="M427.1 222.7 429.1 222.7 428.4 231 427.2 231z" fill="url(#tp)"/><path d="M430.3 225.2 431.8 225.2 431.6 236 430.6 236z" fill="url(#tp)"/><path d="M433.7 212.3 435.6 212.3 435.2 237.8 434.1 237.8z" fill="url(#ta)"/><path d="M441.1 225.8 442.4 225.8 441.4 252.3 440.3 252.3z" fill="url(#tg)"/><path d="M442.5 225.8 443.8 225.8 443 251.3 441.9 251.3z" fill="url(#tp)"/><path d="M449.1 223.9 451.2 223.9 450.5 231 449.3 231z" fill="url(#tp)"/><path d="M452.4 225.2 453.9 225.2 453.7 236 452.7 236z" fill="url(#tp)"/><path d="M455.7 212.3 457.7 212.3 457.3 238.5 456.2 238.5z" fill="url(#ta)"/><path d="M463.1 228.4 464.4 228.4 463.4 253.7 462.4 253.7z" fill="url(#tg)"/><path d="M464.5 228.4 465.8 228.4 465.1 252.7 464 252.7z" fill="url(#tp)"/><path d="M471.1 225 473.3 225 472.6 231 471.4 231z" fill="url(#tp)"/><path d="M474.5 225.2 476 225.2 475.8 236 474.8 236z" fill="url(#tp)"/><path d="M477.8 212.2 479.8 212.2 479.4 239.3 478.2 239.3z" fill="url(#ta)"/><path d="M485 231 486.4 231 485.5 255 484.4 255z" fill="url(#tg)"/><path d="M486.5 231 487.9 231 487.2 254 486.1 254z" fill="url(#tp)"/><path d="M493.1 226.2 495.4 226.2 494.7 231 493.4 231z" fill="url(#tp)"/><path d="M496.5 225.2 498.1 225.2 497.9 236 496.9 236z" fill="url(#tp)"/><path d="M499.8 221.3 501.9 221.3 501.5 240 500.2 240z" fill="url(#tp)"/><path d="M507 232.4 508.4 232.4 507.5 255 506.4 255z" fill="url(#tg)"/><path d="M508.6 232.4 510 232.4 509.3 254 508.2 254z" fill="url(#tp)"/><path d="M515.1 226.3 517.5 226.3 516.8 231 515.5 231z" fill="url(#tp)"/><path d="M518.6 225.2 520.1 225.2 519.9 236 518.9 236z" fill="url(#tp)"/><path d="M521.8 222.5 524 222.5 523.6 240 522.3 240z" fill="url(#tp)"/><path d="M529 234.2 530.4 234.2 529.6 255 528.5 255z" fill="url(#tg)"/><path d="M530.6 234.2 532 234.2 531.4 254 530.3 254z" fill="url(#tp)"/><path d="M537.1 226.5 539.7 226.5 538.9 231 537.5 231z" fill="url(#tp)"/><path d="M540.7 225.1 542.2 225.1 542 236 541 236z" fill="url(#tp)"/><path d="M543.9 223.7 546.2 223.7 545.7 240 544.3 240z" fill="url(#tp)"/><path d="M551 236 552.5 236 551.7 255 550.5 255z" fill="url(#tg)"/><path d="M552.6 236 554.1 236 553.5 254 552.4 254z" fill="url(#tp)"/><path d="M559.1 226.7 561.8 226.7 561 231 559.6 231z" fill="url(#tp)"/><path d="M562.8 225.1 564.3 225.1 564.1 236 563.1 236z" fill="url(#tp)"/><path d="M565.9 224.9 568.3 224.9 567.8 240 566.4 240z" fill="url(#tp)"/><path d="M573.1 236.5 574.5 236.5 573.7 255 572.6 255z" fill="url(#tg)"/><path d="M574.7 236.5 576.1 236.5 575.6 254 574.5 254z" fill="url(#tp)"/><path d="M581.2 226.9 583.9 226.9 583.1 231 581.6 231z" fill="url(#tp)"/><path d="M584.8 225.1 586.4 225.1 586.2 236 585.2 236z" fill="url(#tp)"/><path d="M588 225.1 590.4 225.1 589.9 240 588.5 240z" fill="url(#tp)"/><path d="M595.1 237 596.6 237 595.8 255 594.6 255z" fill="url(#tg)"/><path d="M596.8 237 598.2 237 597.7 254 596.5 254z" fill="url(#tp)"/><path d="M603.2 227.1 605.9 227.1 605.2 231 603.7 231z" fill="url(#tp)"/><path d="M606.9 225.1 608.5 225.1 608.2 236 607.2 236z" fill="url(#tp)"/><path d="M610 225.3 612.5 225.3 612 240 610.5 240z" fill="url(#tp)"/><path d="M617.2 237.5 618.6 237.5 617.9 255 616.7 255z" fill="url(#tg)"/><path d="M618.8 237.5 620.3 237.5 619.8 254 618.6 254z" fill="url(#tp)"/><path d="M625.3 227.2 628 227.2 627.3 231 625.8 231z" fill="url(#tp)"/><path d="M629 225 630.5 225 630.3 236 629.3 236z" fill="url(#tp)"/><path d="M632.1 225.5 634.5 225.5 634 240 632.6 240z" fill="url(#tp)"/><path d="M639.2 238 640.7 238 640 255 638.8 255z" fill="url(#tg)"/><path d="M640.9 238 642.4 238 641.9 254 640.7 254z" fill="url(#tp)"/><path d="M647.4 227.4 650.1 227.4 649.4 231 647.9 231z" fill="url(#tp)"/><path d="M651.1 225 652.6 225 652.4 236 651.4 236z" fill="url(#tp)"/><path d="M654.2 216.3 656.6 216.3 656.1 229 654.7 229z" fill="url(#tp)"/><path d="M238.9 602.4 240.8 602.4 240.3 614 239.1 614z" fill="url(#tb)"/><path d="M248 592.5 250 592.5 249.5 608.8 248.3 608.8z" fill="url(#tb)"/><path d="M259.3 604.5 261.2 604.5 260.7 617 259.5 617z" fill="url(#tb)"/><path d="M268.4 592.5 270.4 592.5 269.9 608.8 268.7 608.8z" fill="url(#tb)"/><path d="M279.7 604.6 281.6 604.6 281.1 617.2 279.9 617.2z" fill="url(#tb)"/><path d="M288.8 592.4 290.8 592.4 290.3 608.8 289.1 608.8z" fill="url(#tb)"/><path d="M300.1 604.7 302 604.7 301.5 617.3 300.3 617.3z" fill="url(#tb)"/><path d="M309.2 596.6 311.2 596.6 310.7 614.5 309.5 614.5z" fill="url(#tb)"/><path d="M313.2 614.2 315.6 614.2 314.5 634 313.1 634z" fill="url(#tp)"/><path d="M320.5 604.8 322.4 604.8 321.9 617.5 320.7 617.5z" fill="url(#tb)"/><path d="M329.1 594 331.8 594 330.9 614.7 329.7 614.7z" fill="url(#tp)"/><path d="M333.5 616.6 335.9 616.6 334.9 637 333.5 637z" fill="url(#tp)"/><path d="M341 608.2 342.9 608.2 342.6 633 341.4 633z" fill="url(#tp)"/><path d="M349.4 596.2 352.2 596.2 351.3 614.8 350.1 614.8z" fill="url(#tp)"/><path d="M353.8 618.3 356.3 618.3 355.3 637.8 353.8 637.8z" fill="url(#tp)"/><path d="M361.4 610.1 363.4 610.1 363 633.8 361.8 633.8z" fill="url(#tp)"/><path d="M369.7 598.5 372.7 598.5 371.7 615 370.5 615z" fill="url(#tp)"/><path d="M374.1 620.2 376.7 620.2 375.7 638.6 374.2 638.6z" fill="url(#tp)"/><path d="M381.8 612.1 383.8 612.1 383.4 634.6 382.2 634.6z" fill="url(#tp)"/><path d="M390 603 393.1 603 392.1 618 390.8 618z" fill="url(#tp)"/><path d="M394.3 621.8 395.7 621.8 395 639.4 393.9 639.4z" fill="url(#tg)"/><path d="M395.8 621.8 397.2 621.8 396.7 638.4 395.6 638.4z" fill="url(#tp)"/><path d="M402.1 613.6 404.2 613.6 403.8 635.4 402.6 635.4z" fill="url(#tp)"/><path d="M410.4 605.3 413.5 605.3 412.5 618 411.2 618z" fill="url(#tp)"/><path d="M414.7 623.2 416 623.2 415.3 640.2 414.2 640.2z" fill="url(#tg)"/><path d="M416.2 623.2 417.6 623.2 417.1 639.2 416 639.2z" fill="url(#tp)"/><path d="M422.5 615.1 424.6 615.1 424.2 636.2 422.9 636.2z" fill="url(#tp)"/><path d="M430.7 605.5 434 605.5 433 618 431.5 618z" fill="url(#tp)"/><path d="M435 624.8 436.4 624.8 435.7 641 434.6 641z" fill="url(#tg)"/><path d="M436.6 624.8 437.9 624.8 437.5 640 436.4 640z" fill="url(#tp)"/><path d="M442.9 616.6 445 616.6 444.6 637 443.3 637z" fill="url(#tp)"/><path d="M451 612.2 454.5 612.2 453.4 625.5 451.9 625.5z" fill="url(#tp)"/><path d="M455.4 626.3 456.8 626.3 456.1 641.1 455 641.1z" fill="url(#tg)"/><path d="M456.9 626.3 458.3 626.3 457.9 640.1 456.8 640.1z" fill="url(#tp)"/><path d="M463.2 620.6 465.4 620.6 465 641 463.7 641z" fill="url(#tp)"/><path d="M471.4 612.5 474.8 612.5 473.8 625.5 472.3 625.5z" fill="url(#tp)"/><path d="M475.7 626.5 477.1 626.5 476.5 641.2 475.4 641.2z" fill="url(#tg)"/><path d="M477.3 626.5 478.7 626.5 478.3 640.2 477.2 640.2z" fill="url(#tp)"/><path d="M483.6 621.8 485.8 621.8 485.4 641.2 484.1 641.2z" fill="url(#tp)"/><path d="M491.8 612.8 495.2 612.8 494.2 625.5 492.6 625.5z" fill="url(#tp)"/><path d="M496.1 626.6 497.5 626.6 496.9 641.3 495.8 641.3z" fill="url(#tg)"/><path d="M497.7 626.6 499.1 626.6 498.7 640.3 497.6 640.3z" fill="url(#tp)"/><path d="M504 622.2 506.2 622.2 505.8 641.5 504.5 641.5z" fill="url(#tp)"/><path d="M512.2 613.1 515.6 613.1 514.6 625.5 513 625.5z" fill="url(#tp)"/><path d="M516.5 626.8 517.9 626.8 517.3 641.4 516.1 641.4z" fill="url(#tg)"/><path d="M518.1 626.8 519.5 626.8 519.1 640.4 518 640.4z" fill="url(#tp)"/><path d="M524.4 622.6 526.6 622.6 526.2 641.8 524.8 641.8z" fill="url(#tp)"/><path d="M532.6 613.4 536 613.4 535 625.5 533.4 625.5z" fill="url(#tp)"/><path d="M536.9 627 538.3 627 537.7 641.6 536.5 641.6z" fill="url(#tg)"/><path d="M538.5 627 539.9 627 539.5 640.6 538.4 640.6z" fill="url(#tp)"/><path d="M544.8 623 547 623 546.6 642 545.2 642z" fill="url(#tp)"/><path d="M552.9 620.6 556.4 620.6 555.4 633.5 553.8 633.5z" fill="url(#tp)"/><path d="M557.2 627.1 558.7 627.1 558 641.7 556.9 641.7z" fill="url(#tg)"/><path d="M558.9 627.1 560.3 627.1 559.9 640.7 558.8 640.7z" fill="url(#tp)"/><path d="M565.2 623.4 567.4 623.4 566.9 642.2 565.6 642.2z" fill="url(#tp)"/><path d="M573.3 621.5 576.8 621.5 575.8 634.1 574.2 634.1z" fill="url(#tp)"/><path d="M577.6 627.3 579.1 627.3 578.4 641.8 577.3 641.8z" fill="url(#tg)"/><path d="M579.2 627.3 580.7 627.3 580.3 640.8 579.2 640.8z" fill="url(#tp)"/><path d="M585.5 623.9 587.8 623.9 587.3 642.5 586 642.5z" fill="url(#tp)"/><path d="M593.7 622.4 597.2 622.4 596.2 634.8 594.6 634.8z" fill="url(#tp)"/><path d="M598 627.5 599.5 627.5 598.8 641.9 597.6 641.9z" fill="url(#tg)"/><path d="M599.6 627.5 601.1 627.5 600.7 640.9 599.6 640.9z" fill="url(#tp)"/><path d="M605.9 624.3 608.2 624.3 607.7 642.8 606.4 642.8z" fill="url(#tp)"/><path d="M614.1 623.3 617.6 623.3 616.6 635.4 614.9 635.4z" fill="url(#tp)"/><path d="M618.4 627.6 619.8 627.6 619.2 642 618 642z" fill="url(#tg)"/><path d="M620 627.6 621.5 627.6 621.1 641 619.9 641z" fill="url(#tp)"/></g><path fill="#2f6ad8" d="M74.6 185.3h2.5v1.2h-2.5zM74.9 187.4h1.9v1.3h-1.9zM74.5 191.8h2.4v1.3h-2.4zM74.5 193.8h2.6v1.2h-2.6zM74.7 196.3h1.9v1.5h-1.9zM74.5 199h2v1.3h-2zM96.8 184.9h2.3v1.3h-2.3zM96.7 187.2h2.4v1.6h-2.4zM97.1 189.5h2v1.1h-2zM96.8 191.6h1.8v1.3h-1.8zM96.3 196.8h2.5v1.3h-2.5zM96.5 198.9h2.2v1.1h-2.2zM110.5 222h2v1h-2zM119.8 184.6h1.6v1.1h-1.6zM119.4 187.8h2.1v1.3h-2.1zM119.3 189.7h2.1v1h-2.1zM119.2 195.7h1.8v1h-1.8zM118.8 197.3h1.8v0.9h-1.8zM118.2 202.7h2.2v0.9h-2.2zM118 203.9h2.4v1.1h-2.4zM118.1 207.4h2.3v0.9h-2.3zM118 208.9h1.8v1.2h-1.8zM118.1 210.5h1.9v1.4h-1.9zM117.7 212.6h2.2v1.3h-2.2zM124.5 168h2.2v2.1h-2.2zM133 226.6h1.5v1.2h-1.5zM141.5 185.6h2.1v0.9h-2.1zM141.6 188.8h1.7v1.1h-1.7zM141.4 190.6h2.2v1.3h-2.2zM141 192.2h2.4v1.4h-2.4zM141 194.2h2.3v1.5h-2.3zM141.2 197.4h1.6v0.9h-1.6zM140.8 198.9h2.4v1.3h-2.4zM140.7 200.6h2.1v1h-2.1zM140.8 202.2h1.7v1.4h-1.7zM140.6 206.3h1.7v1.6h-1.7zM140.3 208.4h2.1v0.9h-2.1zM140.4 209.7h1.6v1.4h-1.6zM139.6 215h2.1v1.5h-2.1zM146.7 160.5h2.1v1.7h-2.1zM146.6 167.5h1.8v2.1h-1.8zM154.8 221.8h2v1.2h-2zM163.4 188.5h2.1v1.3h-2.1zM163.1 195.8h2.1v1.5h-2.1zM163 197.6h2v1.2h-2zM162.9 199.2h1.9v0.9h-1.9zM163 200.7h1.9v0.9h-1.9zM162.4 203.9h2.2v1.2h-2.2zM162.6 205.7h1.9v1.5h-1.9zM162.6 207.6h2.1v1h-2.1zM162.3 209.1h2v1.5h-2zM162.1 210.9h2.2v1.4h-2.2zM161.7 218.6h1.9v1.1h-1.9zM168.6 157.5h2.1v1.6h-2.1zM168.9 161.3h1.7v2.4h-1.7zM176.9 224h1.6v1.2h-1.6zM185.4 196.8h1.6v1.1h-1.6zM185 205h1.7v1.6h-1.7zM184.3 211h2v1h-2zM184 212.4h2.3v1.5h-2.3zM184.1 214.5h1.7v1.4h-1.7zM190.7 161.9h2.4v1.7h-2.4zM198.9 226h2v1.4h-2zM207.7 187.6h2.3v1.3h-2.3zM208 189.2h1.8v0.9h-1.8zM207.3 194.8h1.9v1.6h-1.9zM207.1 196.7h2.1v1.5h-2.1zM207.1 202.2h2v1.5h-2zM206.9 208.3h1.6v1.6h-1.6zM206.1 219.5h1.8v1.3h-1.8zM212.7 160.7h2.1v2.3h-2.1zM229.6 195.3h1.6v1.2h-1.6zM228.9 203.7h2v1.5h-2zM228.8 205.6h1.9v1h-1.9zM228.9 207.1h1.8v1.2h-1.8zM228.8 209.1h1.8v1.3h-1.8zM228.4 211h2v1.2h-2zM228.2 212.8h2.1v1h-2.1zM228.1 216.5h2v1.2h-2zM243.1 222h2v1.1h-2zM243.1 224.6h1.7v1.5h-1.7zM257.1 159.6h1.7v1.8h-1.7zM257.3 162.2h1.7v1.5h-1.7zM257.3 164.2h1.5v1.3h-1.5zM257.1 166h1.9v1.5h-1.9zM257.2 168.2h1.8v1.8h-1.8zM257.3 170.9h1.5v1.5h-1.5zM257.1 172.7h1.7v1.2h-1.7zM257.2 174.5h1.8v1.5h-1.8zM257.1 177h1.7v1.9h-1.7zM257.3 181.4h1.3v1.4h-1.3zM257.5 196.5h1.2v1.1h-1.2zM257.3 206.3h1.1v1.1h-1.1zM257.2 223.4h1.4v1.4h-1.4zM265.1 223h2v1.3h-2zM264.9 227.8h1.8v1.7h-1.8zM264.9 231.1h1.7v1.7h-1.7zM279.3 162.1h1.7v1.7h-1.7zM279.4 164.7h1.6v1.8h-1.6zM279.1 167.1h1.8v1.9h-1.8zM279.3 172.6h1.7v1.9h-1.7zM279.4 187h1.6v1.5h-1.6zM279.4 196.5h1.3v1h-1.3zM279.6 198.5h1.3v1.4h-1.3zM279.5 213.2h1.4v0.9h-1.4zM279.5 217.6h1.2v1.5h-1.2zM279.3 225.3h1.3v1.4h-1.3zM287.3 222h2v1.5h-2zM287.1 223.5h1.9v1.4h-1.9zM287.1 225.2h1.8v1h-1.8zM287.2 227.8h1.9v1.4h-1.9zM286.9 232.4h1.8v1.8h-1.8zM286.8 247.3h1.6v1.2h-1.6zM301.2 159.8h2v2h-2zM301.2 167.5h2v2.1h-2zM301.1 170.1h1.9v1.4h-1.9zM301.4 172.1h1.8v1.9h-1.8zM301.4 176.3h1.8v2.1h-1.8zM301.3 190.5h1.6v1.2h-1.6zM301.2 194.6h1.6v1.4h-1.6zM301.5 196.6h1.4v1.2h-1.4zM301.5 198.6h1.3v1.5h-1.3zM301.6 205.9h1.3v1h-1.3zM301.6 212.1h1.5v1.1h-1.5zM301.4 225.3h1.6v1.1h-1.6zM301.4 227h1.3v1h-1.3zM309.2 225.2h1.7v1.5h-1.7zM309.2 228.8h1.8v0.9h-1.8zM309.2 232.4h1.7v1.6h-1.7zM309.1 234.3h1.6v1.5h-1.6zM323.3 157.4h2v1.7h-2zM323.5 159.9h1.9v2.2h-1.9zM323.3 162.7h1.9v1.7h-1.9zM323.3 174.5h1.8v1.5h-1.8zM323.4 176.3h1.7v1.4h-1.7zM323.4 187.3h1.6v1h-1.6zM323.4 205.3h1.6v1.4h-1.6zM323.4 210.5h1.4v1.5h-1.4zM331.4 222h1.7v1.7h-1.7zM331.5 225.4h1.8v1.7h-1.8zM331.2 230.8h1.9v1.6h-1.9zM331.2 234.3h1.8v1h-1.8zM345.5 163.9h2v1.9h-2zM345.4 175.7h1.9v1.5h-1.9zM345.6 179.3h1.6v1.6h-1.6zM345.5 182.2h1.6v1h-1.6zM345.6 184.1h1.4v0.9h-1.4zM345.5 193.3h1.8v1.6h-1.8zM345.6 204h1.7v1.3h-1.7zM345.5 210.4h1.8v1.1h-1.8zM345.5 212.2h1.7v1h-1.7zM345.5 214.5h1.5v1.3h-1.5zM345.6 225.8h1.7v1.3h-1.7zM146.4 558.6h1.9v2h-1.9zM146.7 561.4h1.6v1.7h-1.6zM146.7 564.7h1.5v1.5h-1.5zM146.7 567.9h1.6v2h-1.6zM166.9 563.9h1.9v1.7h-1.9zM166.7 576.3h2v1.5h-2zM166.9 579h1.7v2h-1.7zM167 582.4h1.4v1.4h-1.4zM178 563h1.8v1.4h-1.8zM177.8 565h2v1.7h-2zM177.9 568h2.1v1.3h-2.1zM178.1 577.8h1.6v1.5h-1.6zM178.2 583h1.5v1.1h-1.5zM187.1 550.1h2.1v1h-2.1zM187.3 562.4h1.9v1.8h-1.9zM187.1 564.8h2.2v1.4h-2.2zM187 566.7h2.2v1.3h-2.2zM187.2 568.9h1.9v1.5h-1.9zM187.1 575.2h2.1v1.6h-2.1zM187.3 584.5h1.9v1.4h-1.9zM198.2 562.8h1.9v1.1h-1.9zM198.3 570.4h1.8v1.2h-1.8zM198.4 572.2h1.6v1.6h-1.6zM198.4 574.6h1.7v1.1h-1.7zM198.6 576.8h1.4v1.2h-1.4zM198.1 584.5h2.2v1.1h-2.2zM198.4 586.6h1.9v1.7h-1.9zM198.3 589.7h1.8v1.6h-1.8zM198.3 594.9h1.8v1.7h-1.8zM198.2 597.6h2v1.6h-2zM198.3 602.3h1.8v1.7h-1.8zM207.5 546h1.9v1.8h-1.9zM207.3 548.2h2.3v1.4h-2.3zM207.4 553.5h2.2v1.9h-2.2zM207.4 570.1h2.2v1.6h-2.2zM207.5 580.5h1.9v1.3h-1.9zM207.5 586.7h2v1.5h-2zM218.6 562.3h2.1v1.1h-2.1zM218.9 564.4h1.5v1.8h-1.5zM218.8 574.4h1.5v1.7h-1.5zM218.9 577.2h1.6v1.1h-1.6zM218.6 586.8h1.8v1.1h-1.8zM218.8 591.1h2v1.2h-2zM228 546.4h1.7v1.7h-1.7zM227.8 550.6h1.9v1.8h-1.9zM228.1 555.3h1.9v2h-1.9zM227.9 559.5h2.3v1.1h-2.3zM227.9 568.9h2.2v1.6h-2.2zM228.2 577.9h1.7v1.7h-1.7zM228 587h2.2v1.9h-2.2zM228.1 594.3h1.6v1.6h-1.6zM239.1 566.6h2.1v1.6h-2.1zM239.1 577.3h1.8v1h-1.8zM239 593.5h1.7v1.3h-1.7zM238.9 596.3h1.9v1.8h-1.9zM238.7 597.8h2.2v1.3h-2.2zM239.2 599.9h1.7v1h-1.7zM238.7 600.7h2.2v1.8h-2.2zM238.7 602.2h2.2v1.5h-2.2zM248.1 543.8h2.2v2.1h-2.2zM248.5 555.1h1.9v1.7h-1.9zM248.1 556.9h2.1v1.3h-2.1zM248.1 559h2.3v1.5h-2.3zM248 564.2h2.1v1.5h-2.1zM248.1 577.7h1.9v1.9h-1.9zM248.1 580.6h2.1v1.1h-2.1zM247.9 581.6h2.2v2h-2.2zM248.2 586h1.9v1.3h-1.9zM247.8 588.9h2.3v1.4h-2.3zM248.1 590.1h2.1v1.3h-2.1zM252.7 612.5h1.5v1h-1.5zM259.6 566.3h1.9v2.1h-1.9zM259.3 572.4h2.2v1.6h-2.2zM259.4 573.9h2.3v1.3h-2.3zM259.5 575.1h1.9v1.1h-1.9zM259.4 601.3h2v1h-2zM268.5 551.1h2.3v1.7h-2.3zM268.5 558.7h2.3v1.6h-2.3zM268.7 562.7h1.9v1.1h-1.9zM268.7 570.7h1.9v1.7h-1.9zM268.5 574h2.1v1.9h-2.1zM268.4 575.7h2.1v2.2h-2.1zM268.4 577.6h2.4v1.2h-2.4zM268.4 581.6h2.3v1.2h-2.3zM268.4 582.5h2.4v2h-2.4zM268.1 584.5h2.5v1.7h-2.5zM268.2 586.2h2.4v1.7h-2.4zM279.6 566.6h2.4v1.9h-2.4zM279.8 584.8h2v2.1h-2zM279.7 593.6h1.9v2.2h-1.9zM279.5 598.8h1.9v2h-1.9zM279.8 602.5h1.9v1.3h-1.9zM279.5 603.6h2.2v1.6h-2.2zM288.9 561.3h2.3v2h-2.3zM288.7 586h2.3v1.9h-2.3zM288.8 588.9h2.3v1.5h-2.3zM293.2 620h1.7v1.2h-1.7zM293.3 629.8h1.9v1.1h-1.9zM300.1 563.1h1.9v2.1h-1.9zM300.1 572.1h2.1v1.5h-2.1zM300.2 584h2.2v1.6h-2.2zM299.9 589h2.3v1.6h-2.3zM299.9 595.3h2.4v1.4h-2.4zM300.2 597.9h2v1h-2zM300 598.7h2.2v1.5h-2.2zM299.8 602.4h2.2v2h-2.2zM299.8 604.3h2.2v1.7h-2.2zM309.3 549.4h2.1v1.8h-2.1zM309.2 557.8h2.6v1.1h-2.6zM309.2 562.1h2.4v2h-2.4zM309.2 564.2h2.4v1.2h-2.4zM309.2 578.3h2.5v1.9h-2.5zM309.1 583.7h2.3v1.5h-2.3zM309.3 585.2h2.2v1.4h-2.2zM309.1 589.9h2.3v2h-2.3zM320.7 560h1.9v1.3h-1.9zM320.4 571.8h2.3v1.6h-2.3zM320.2 577.1h2.5v1.6h-2.5zM320.4 581.2h2.4v1.9h-2.4zM320.5 583.9h2v1.1h-2zM320.3 595.3h2.3v2.1h-2.3z"/><path fill="#2a3cc0" d="M74.5 189.5h2.6v1.3h-2.6zM96.5 194h2.2v1.5h-2.2zM119.1 191.3h2.3v0.9h-2.3zM119.3 192.8h1.6v0.9h-1.6zM118.7 200.6h2.1v1.3h-2.1zM146.5 163.3h2.2v2.4h-2.2zM163.6 192h1.9v1.3h-1.9zM168.5 168.4h2.3v2h-2.3zM184.7 207.1h2.2v1.4h-2.2zM190.7 168.9h2v2.1h-2zM207.3 198.9h1.8v1h-1.8zM206.7 210.5h2v1.4h-2zM212.8 167.9h2.2v2.5h-2.2zM229.1 196.9h2.3v1.1h-2.3zM234.8 169.2h2.3v2.5h-2.3zM242.9 223.3h2v1.1h-2zM257.2 157.4h1.7v1.9h-1.7zM265.1 222h2v1h-2zM279.4 160h1.7v1.5h-1.7zM279.2 175.4h1.9v1.4h-1.9zM279.1 177.6h1.7v2h-1.7zM287 231h1.9v1.1h-1.9zM301.3 179.2h1.9v2.1h-1.9zM309.1 231.1h1.8v1h-1.8zM323.4 167.6h1.8v2h-1.8zM323.2 170.4h1.9v1.3h-1.9zM331.2 224.1h2v1.2h-2zM331.3 227.2h2v1.6h-2zM331.2 228.8h1.9v1.8h-1.9zM331.3 237.6h1.7v1.3h-1.7zM345.2 161.5h2.1v1.5h-2.1zM345.4 166.4h2v1.7h-2zM345.3 169.1h1.8v1.3h-1.8zM157.6 569.3h1.7v1.4h-1.7zM166.8 566.5h1.7v1.8h-1.7zM167 569.6h1.5v1.4h-1.5zM166.9 584.9h2.1v1.4h-2.1zM187.2 554.5h1.9v1.6h-1.9zM187.3 556.8h2v1.2h-2zM207.5 552h2.1v1.1h-2.1zM207.7 567.7h1.8v1.9h-1.8zM207.7 575.9h1.6v1.8h-1.6zM227.9 557.9h2.2v1.1h-2.2z"/><path fill="#94e2f4" d="M74 201.6h2.5v1.5h-2.5zM96.1 212.5h1.8v1.3h-1.8zM147 171.5h1.3v1.6h-1.3zM168.9 171.5h1.5v1h-1.5zM169 185.9h1.4v1.3h-1.4zM191.1 171.5h1.1v1.2h-1.1zM190.9 173.8h1.5v1.6h-1.5zM191.1 177.6h1v1.5h-1zM191.1 184.4h1.2v1.3h-1.2zM191 187.9h1.7v1.2h-1.7zM190.9 196.2h1.6v1.1h-1.6zM191.1 202.2h1.2v1.6h-1.2zM212.9 181.1h1.8v1.7h-1.8zM213.4 196.6h1.2v1.1h-1.2zM213.2 208.2h1.5v1.6h-1.5zM235.2 177.8h1.7v1.7h-1.7zM235.4 187.8h1.4v1.4h-1.4zM235.1 196.5h1.7v1.2h-1.7zM235 198.8h1.7v1.6h-1.7zM235.1 208.6h1.4v1.3h-1.4zM242.9 232.3h1.8v1.1h-1.8zM242.9 243.9h1.3v1.2h-1.3zM257.4 183.4h1.2v0.9h-1.2zM257.3 202.9h1.4v1.1h-1.4zM257.5 214.8h1.1v1.2h-1.1zM265.1 234.2h1.4v1.3h-1.4zM264.9 242.5h1.6v1.4h-1.6zM279.4 180.4h1.4v1h-1.4zM279.6 203.8h1.3v1h-1.3zM287.1 234.3h1.2v1.4h-1.2zM287 236.9h1.4v1.1h-1.4zM301.3 179.4h1.5v0.9h-1.5zM301.6 213.9h1.3v1.3h-1.3zM301.5 216.2h1.4v1.1h-1.4zM309 236.6h1.6v1.4h-1.6zM309.1 238.6h1.5v1.3h-1.5zM308.9 240.7h1.9v0.9h-1.9zM309.3 242.6h1.2v1.3h-1.2zM323.5 184.7h1.5v1.3h-1.5zM331.1 238.8h1.7v1.2h-1.7zM345.4 219h1.8v0.9h-1.8zM126.8 569h1.6v1.6h-1.6zM137.5 566h1.5v1.4h-1.5zM137.4 569.1h1.4v1.6h-1.4zM191.3 614.4h1.8v1.1h-1.8zM272.8 616.4h1.7v1.2h-1.7zM273 624.2h1.7v1.2h-1.7zM272.8 626.4h1.8v0.9h-1.8zM293.3 612.5h1.7v0.9h-1.7zM293.4 623.8h1.7v1.4h-1.7zM293.2 626.1h1.9v1.1h-1.9z"/><path fill="#2ccbee" d="M74.1 205.9h2.5v1.1h-2.5zM74.1 208h1.8v1.1h-1.8zM73.9 210.4h2.4v1.6h-2.4zM96.3 201.2h2.2v1.2h-2.2zM96.5 203.2h2.1v1.1h-2.1zM96.5 205.4h2v1.4h-2zM96.4 207.8h1.9v1.3h-1.9zM96.2 209.9h2.1v1.4h-2.1zM111 219.8h1.3v1.2h-1.3zM111 223.7h1.3v1.1h-1.3zM110.9 225.9h1.3v1h-1.3zM117.4 214.7h2.1v1.4h-2.1zM124.6 157.5h1.7v2.3h-1.7zM124.5 161.4h2.2v1.6h-2.2zM124.6 164h1.8v2.3h-1.8zM132.7 222.1h1.6v1.4h-1.6zM132.8 224.6h1.6v1h-1.6zM140 211.9h1.8v1.1h-1.8zM139.9 213.4h2v1.2h-2zM146.7 157.5h2v1.9h-2zM146.8 175.1h1.6v1.5h-1.6zM155 219.8h1.4v1.1h-1.4zM155.1 224.2h1.5v1.3h-1.5zM161.9 214.6h2.2v1.4h-2.2zM161.9 216.7h2.2v1.2h-2.2zM168.6 164.7h2.4v1.6h-2.4zM169 189.1h1.8v1.1h-1.8zM176.9 226.1h1.7v1.3h-1.7zM184.1 216.3h1.7v1.2h-1.7zM183.8 218.1h1.9v1.1h-1.9zM184.1 219.8h1.8v0.9h-1.8zM190.8 157.5h2.2v2.6h-2.2zM191.1 165.4h1.7v1.7h-1.7zM190.9 180.8h1.7v1.2h-1.7zM191.3 190.3h1.2v1.7h-1.2zM191 198.7h1.5v1.2h-1.5zM199.1 219.8h1.6v1.1h-1.6zM199.1 221.6h1.7v1.2h-1.7zM199.2 223.7h1.5v1.3h-1.5zM206.2 214.2h1.8v1.3h-1.8zM206 215.9h2.4v1.1h-2.4zM206 217.3h2.3v1.5h-2.3zM213 157.5h1.6v2.3h-1.6zM212.8 164.2h2.3v1.7h-2.3zM213.1 171.5h1.7v1.6h-1.7zM213.3 183.9h1.4v1.7h-1.4zM213.1 201.3h1.5v1.1h-1.5zM221.1 219.8h1.5v1.4h-1.5zM221.1 222.5h1.7v1h-1.7zM221.1 226.5h1.5v1h-1.5zM228.3 214.5h2v1.5h-2zM228.1 218.2h2.2v1.1h-2.2zM228.1 219.8h1.7v1.3h-1.7zM234.7 157.4h2.3v2h-2.3zM234.8 161.5h2v2.2h-2zM235.1 165.8h2v2.2h-2zM235.5 171.4h1.1v1.1h-1.1zM235.2 181.4h1.4v1.3h-1.4zM235.5 183.9h1.2v1.6h-1.2zM235.2 206.3h1.4v1.1h-1.4zM242.9 229.8h1.6v1.4h-1.6zM242.9 235.7h1.3v1.2h-1.3zM243 237.4h1.2v1.4h-1.2zM242.7 241.8h1.8v1.1h-1.8zM242.7 245.7h1.4v1.1h-1.4zM257.4 185.2h1.2v1.1h-1.2zM257.4 187h1.4v1.4h-1.4zM257.4 189.6h1.4v1.5h-1.4zM257.3 192.2h1.3v0.9h-1.3zM257.3 194h1.2v1.3h-1.2zM257.2 198.2h1.5v1.1h-1.5zM257.6 200.7h1.1v1h-1.1zM257.3 204.6h1.3v1h-1.3zM257.5 208.4h1.1v0.9h-1.1zM257.2 212.7h1.5v1.1h-1.5zM257.4 218.9h1.3v1.4h-1.3zM257.4 221.3h1.5v1.1h-1.5zM265.2 232.1h1.3v1h-1.3zM264.9 240.4h1.3v1h-1.3zM264.6 244.7h1.6v1.2h-1.6zM264.6 246.6h2v1.2h-2zM279.4 182.5h1.5v1h-1.5zM279.4 184.4h1.5v1.5h-1.5zM279.2 192h1.5v1.1h-1.5zM279.2 201.1h1.5v1.4h-1.5zM279.2 206h1.4v1.6h-1.4zM279.4 215.4h1.4v1.1h-1.4zM279.5 219.8h1.3v1.5h-1.3zM279.3 222.6h1.6v1.5h-1.6zM287 241h1.5v1.5h-1.5zM287.1 243.6h1.2v1.3h-1.2zM301.5 181.4h1.6v1.4h-1.6zM301.7 186.1h1.3v1h-1.3zM301.4 188h1.3v1.4h-1.3zM301.6 201.2h1.3v1.2h-1.3zM301.5 203.5h1.5v1.4h-1.5zM301.4 209.8h1.4v1.6h-1.4zM301.3 218.2h1.6v1.2h-1.6zM309 244.9h1.5v1.4h-1.5zM308.8 247.4h1.7v1.4h-1.7zM323.5 180.7h1.5v1.5h-1.5zM323.5 191.3h1.6v1.5h-1.6zM323.4 194h1.4v1.3h-1.4zM323.6 196.3h1.4v1h-1.4zM323.6 198.5h1.6v0.9h-1.6zM323.5 200.4h1.3v1.5h-1.3zM323.4 202.7h1.7v1.4h-1.7zM323.6 214.4h1.6v1.4h-1.6zM323.6 216.9h1.5v1h-1.5zM323.6 219.3h1.4v1h-1.4zM323.4 221.4h1.5v1.3h-1.5zM323.5 223.7h1.7v1.1h-1.7zM323.4 226.1h1.7v1.4h-1.7zM323.5 228.7h1.7v1.4h-1.7zM330.9 240.7h1.9v1.4h-1.9zM331.2 243.1h1.5v1.5h-1.5zM330.9 245.5h1.6v1h-1.6zM330.8 247.4h1.7v1.4h-1.7zM345.3 177.4h1.7v1.1h-1.7zM345.6 186.3h1.5v1h-1.5zM345.6 188.5h1.7v1.6h-1.7zM345.5 191.2h1.6v1.3h-1.6zM345.5 195.8h1.4v1.3h-1.4zM345.3 197.8h1.8v1h-1.8zM345.5 202.1h1.7v0.9h-1.7zM345.5 206.3h1.4v1h-1.4zM345.6 208.1h1.6v1.6h-1.6zM345.5 220.9h1.8v1.3h-1.8zM345.5 223.5h1.6v1.2h-1.6zM345.3 228.4h1.7v1h-1.7zM146.5 549.5h1.7v1.8h-1.7zM146.5 552.3h1.6v1.7h-1.6zM146.3 555.1h1.9v1.8h-1.9zM146.2 570.9h2.1v1.7h-2.1zM157.8 562.8h1.7v2.1h-1.7zM157.6 565.7h2v2.2h-2zM157.5 571.6h2.2v1.4h-2.2zM157.8 574h1.4v1.5h-1.4zM166.9 548.8h1.6v1.5h-1.6zM166.6 555h2.1v1.7h-2.1zM167 558.4h1.5v1.6h-1.5zM167.2 573h1.5v2h-1.5zM166.9 587.7h1.6v1.8h-1.6zM166.9 590.8h1.6v2.2h-1.6zM166.9 593.8h1.9v1.2h-1.9zM171.2 612.5h1.5v1.4h-1.5zM177.9 561h2.2v1.4h-2.2zM177.6 570.4h2.2v1.7h-2.2zM178 573.4h1.6v1.3h-1.6zM178 575.4h1.7v1.4h-1.7zM178 584.9h1.7v1.4h-1.7zM177.9 587.1h2v1.4h-2zM177.9 589.4h2v1.5h-2zM177.9 591.5h2.1v1.7h-2.1zM187.3 586.6h2v1.2h-2zM187.1 588.6h2.1v1.8h-2.1zM187.4 591h1.6v1.7h-1.6zM191.5 612.5h1.3v1.1h-1.3zM198.4 579.2h1.9v1.4h-1.9zM198.1 599.8h2.1v1.6h-2.1zM207.6 584.8h2v1h-2zM207.7 588.7h1.7v1.7h-1.7zM207.7 590.9h1.8v1.6h-1.8zM207.4 593.5h2.3v1.5h-2.3zM212.1 612.5h1.4v1h-1.4zM218.8 560.7h1.5v1h-1.5zM218.8 569.3h1.7v1.7h-1.7zM218.8 581.8h1.8v1.4h-1.8zM218.7 583.9h2.2v1.6h-2.2zM218.9 589.1h1.6v1.4h-1.6zM219 596h1.5v1.3h-1.5zM218.6 600.5h2.1v1.7h-2.1zM218.8 603.6h1.6v1.2h-1.6zM218.9 608.8h1.8v1.7h-1.8zM228 589.6h1.8v1.5h-1.8zM232.5 612.5h1.4v1.4h-1.4zM232.2 614.6h1.7v1.1h-1.7zM232 616.5h2v1.3h-2zM239 572.1h2v2.1h-2zM252.3 614.1h2v1.3h-2zM252.6 616.4h1.4v1.2h-1.4zM252.4 618.8h1.8v1h-1.8zM252.5 620.7h1.9v1.3h-1.9zM272.8 612.5h2v1.3h-2zM272.9 614.8h1.7v1.1h-1.7zM273 618.2h1.4v1.4h-1.4zM272.8 620.4h1.9v1.1h-1.9zM273.3 622.5h1.3v1h-1.3zM293.1 614h2.1v1.2h-2.1zM293.5 616.2h1.4v1.3h-1.4zM293.3 621.6h2v1.3h-2zM300.3 569.6h1.8v1.7h-1.8z"/><path fill="#e0302a" d="M119.3 186.1h2.4v1.3h-2.4zM118.2 205.7h2.1v1.4h-2.1zM141 196.1h2.1v0.9h-2.1zM140.1 204.3h2.3v1.5h-2.3zM185.9 188.7h1.7v1.5h-1.7zM185.4 191h2.3v1.2h-2.3zM185.2 194.9h2.4v1.5h-2.4zM184.4 209.1h2.3v1.2h-2.3zM207.6 192.7h1.9v1.5h-1.9zM207 206.3h1.8v1.3h-1.8zM242.8 228.9h2v1.3h-2zM279.2 157.4h1.7v1.9h-1.7zM279.1 169.9h1.9v1.8h-1.9zM301.3 157.4h1.7v1.8h-1.7zM301.3 162.7h1.9v1.5h-1.9zM309.3 222h1.6v1.4h-1.6zM323.4 172.4h1.8v1.2h-1.8zM345.3 159.3h2.1v1.8h-2.1zM345.3 171.3h1.9v1.4h-1.9zM186.9 560.7h2.2v1.3h-2.2zM187.1 572.9h2.1v1.5h-2.1zM198.3 560.9h1.8v1.3h-1.8zM198.3 565.2h2.2v1.8h-2.2zM198.2 568.1h2.2v1.6h-2.2zM198.3 582h1.7v1.5h-1.7zM198.5 592.4h1.6v1.7h-1.6zM207.5 550.1h2.3v1.2h-2.3zM207.4 556.1h2v2h-2zM207.5 558.5h2.4v1h-2.4zM207.6 560.5h1.6v1.9h-1.6zM207.5 574.2h1.9v1.3h-1.9zM207.7 582.5h1.8v1.7h-1.8zM218.7 572.1h1.9v1.2h-1.9zM228.2 544h1.8v1.6h-1.8zM227.9 552.8h2.3v1.7h-2.3zM227.9 565.3h1.8v1.3h-1.8zM227.8 567.2h2.1v1.3h-2.1zM227.8 571.3h2.3v2h-2.3zM227.9 575.9h1.9v1h-1.9zM228.1 582.3h1.7v1.5h-1.7zM228.1 584.6h1.7v1.6h-1.7zM239.3 574h1.9v1.6h-1.9zM239.1 584.8h2v1.1h-2zM238.8 588h2v2h-2zM238.6 599h2.1v1.2h-2.1zM248.3 545.6h1.8v2h-1.8zM248.3 551.8h1.9v1.1h-1.9zM248.1 552.8h2.2v1h-2.2zM248.3 558h2.3v1.3h-2.3zM248.1 560.6h2.3v2h-2.3zM248.3 569.3h2v1.8h-2zM248.4 572.1h2v2.1h-2zM248.2 576.1h1.9v1.8h-1.9zM248.2 587.3h2.1v1.8h-2.1zM246.7 583.4h2v1.4h-2zM246.9 590.3h1.7v1.2h-1.7zM259.2 575.9h2.1v1.1h-2.1zM259.2 578.6h2.1v1.9h-2.1zM259.4 583.2h1.9v1.5h-1.9zM259 591.5h2.2v1h-2.2zM259 594.2h2.2v1.1h-2.2zM259.2 595.2h2v1.4h-2zM259.2 596.7h1.8v1.3h-1.8zM259.4 597.7h2v2.2h-2zM259.3 599.8h1.9v1.6h-1.9zM259.1 602.1h2.3v1.1h-2.3zM259.2 603.1h2.2v2h-2.2zM268.8 544.6h2.2v1.7h-2.2zM268.7 557.2h2.2v1.6h-2.2zM268.6 566.4h2.4v1.2h-2.4zM268.4 572.5h2.4v1.7h-2.4zM268.5 580.4h2.1v1.4h-2.1zM267.1 580h1.7v1.3h-1.7zM267.5 583.1h1.5v1.5h-1.5zM279.5 573.7h2.3v1.9h-2.3zM279.8 575.4h2v1.5h-2zM279.8 588h2.1v1h-2.1zM288.8 545.1h2.5v2.1h-2.5zM289.1 553.1h2.3v1.5h-2.3zM288.9 555.2h2v1.6h-2zM288.8 568.5h2.5v1.3h-2.5zM288.7 569.8h2.4v2.1h-2.4zM288.7 575.1h2.3v1.9h-2.3zM288.7 583.6h2.2v1.6h-2.2zM287.7 594h1.8v1.1h-1.8zM300.1 560.1h2v2.2h-2zM299.9 575.3h2.5v1.4h-2.5zM300.2 580.7h2.1v1.3h-2.1zM299.8 591.4h2.4v1.6h-2.4zM300.1 592.9h1.9v1.6h-1.9zM309.1 572.6h2.5v1.4h-2.5zM309 573.7h2.5v1.6h-2.5zM309.3 588.1h2.3v2h-2.3zM309.2 593.6h2.1v1.4h-2.1zM308 591.2h1.7v1.4h-1.7zM307.9 594.8h2.1v1.7h-2.1zM308.2 596.3h1.9v1.5h-1.9zM320.7 562.1h1.8v2.2h-1.8zM320.2 597.4h2.5v1.2h-2.5zM320.4 601.9h2.3v2.1h-2.3zM320.2 604h2.2v1.8h-2.2z"/><path fill="#0fa80f" d="M141.8 187h1.6v1.3h-1.6zM163.6 186.6h2.3v1.5h-2.3zM163.5 190.2h1.9v1.2h-1.9zM163.5 193.7h1.6v1.6h-1.6zM185.1 199.6h1.7v1.4h-1.7zM207.9 190.6h1.7v1.5h-1.7zM230 188h2.4v0.9h-2.4zM230.1 189.4h2v1.1h-2zM229.9 191.2h1.8v1.6h-1.8zM229.6 193.5h1.9v1h-1.9zM279.3 211h1.4v1h-1.4zM301.3 165.1h1.9v1.4h-1.9zM301.2 174.5h2v1.4h-2zM323.3 165h1.9v2h-1.9zM323.5 183.1h1.5v0.9h-1.5zM323.6 212.8h1.5v1h-1.5zM345.3 157.4h1.8v1.2h-1.8zM239 560.6h2.4v2.1h-2.4zM239 578h2.3v2.2h-2.3zM238.7 585.8h2.2v1.3h-2.2zM239 590h1.8v1.8h-1.8zM248.2 562.4h1.8v2h-1.8zM248.1 570.8h2.3v1.3h-2.3zM248.1 579.5h1.8v1.3h-1.8zM246.7 580h1.7v1.8h-1.7zM247 587h1.7v1.4h-1.7zM246.9 588.4h1.8v1h-1.8zM246.7 595.5h1.8v1.3h-1.8zM259.4 569.5h2.3v2h-2.3zM259.2 580.5h1.9v1.1h-1.9zM259.2 586.4h1.8v1.4h-1.8zM259.2 587.7h2.3v1.8h-2.3zM259.2 592.5h2.3v2h-2.3zM268.6 556.3h2.3v1.2h-2.3zM268.7 561.3h2v1.5h-2zM267.1 581.4h1.7v1.8h-1.7zM267.2 586.3h1.5v1.7h-1.5zM267.1 587.9h2.1v1.5h-2.1zM267.2 589.3h1.6v1.1h-1.6zM267.2 595.8h1.9v1.9h-1.9zM279.9 560.3h2v2.2h-2zM280 569.6h1.8v2.1h-1.8zM279.6 572.3h2.1v1.4h-2.1zM279.9 580.2h2.1v2.2h-2.1zM279.6 582.1h2.2v1.5h-2.2zM279.7 583.4h2.4v1.4h-2.4zM279.5 586.9h2.3v1.3h-2.3zM279.5 589h2v1.3h-2zM279.5 591.2h2.3v1.3h-2.3zM289 543.2h2.5v1.9h-2.5zM288.9 556.5h2v1.9h-2zM289 558.3h2v1h-2zM289 564.5h2.2v1.3h-2.2zM289 565.6h2.3v1.7h-2.3zM288.6 573.9h2.5v1.5h-2.5zM287.7 582h1.4v1.6h-1.4zM287.7 585.1h1.9v1.2h-1.9zM287.6 586.3h2v1.6h-2zM287.9 589.3h1.4v1.8h-1.4zM287.7 591h1.7v1.8h-1.7zM287.8 592.9h1.7v1.2h-1.7zM287.6 595h2.1v1.2h-2.1zM300 573.6h2.3v1.9h-2.3zM300 582h2.3v1.3h-2.3zM299.7 585.4h2.5v2.2h-2.5zM299.8 587.6h2.4v1.4h-2.4zM300 590.5h1.9v1.1h-1.9zM299.9 594.4h2.1v1.1h-2.1zM309.5 545h2v1.7h-2zM309.3 547.5h2.6v2h-2.6zM309.2 551h2.2v1.6h-2.2zM309.2 556.1h2.6v1.9h-2.6zM309.3 558.7h2.4v1.9h-2.4zM309.2 565.4h2.2v1.9h-2.2zM309.3 577h2.2v1.5h-2.2zM307.6 580h2.1v1.7h-2.1zM307.7 581.6h1.8v1.7h-1.8zM307.6 583.2h2.1v1.1h-2.1zM307.8 584.5h1.9v1.9h-1.9zM308 586.2h2.2v1.1h-2.2zM308.1 589.2h1.5v1.8h-1.5zM308.1 592.7h1.8v1.9h-1.8zM320.6 565.9h2.1v1.7h-2.1zM320.7 568.6h1.8v1.8h-1.8zM320.4 575.7h2.2v1.5h-2.2zM320.3 578.7h2.3v1.7h-2.3zM320.5 585h2.4v1.1h-2.4zM320.6 589.2h2.1v1.2h-2.1zM320.3 590.3h2.1v1.4h-2.1z"/><path fill="#e09a2a" d="M185.4 198.2h1.8v1.1h-1.8zM185.2 201.8h1.7v1h-1.7zM207.1 200.6h2.1v1h-2.1zM206.2 212.4h2v1.4h-2zM187 579.4h2v1.7h-2zM207.6 563.1h2v1.6h-2zM207.6 578.1h1.9v1.9h-1.9zM227.9 561.3h2.4v1.8h-2.4zM239 563.7h2.1v2h-2.1zM239 572.6h2.1v1.6h-2.1zM238.9 580.2h2.1v1.5h-2.1zM239.2 586.9h1.7v1.1h-1.7zM246.7 581.7h1.7v1.7h-1.7zM246.9 584.7h1.7v1.3h-1.7zM247 586h1.5v1.1h-1.5zM246.7 591.7h1.9v1.2h-1.9zM247.2 593h1.4v1h-1.4zM246.8 594.1h1.9v1.4h-1.9zM268.3 552.7h2.4v1.4h-2.4zM268.3 553.8h2.5v1.4h-2.5zM268.4 565h2.4v1.4h-2.4zM268.4 567.7h2.4v1.1h-2.4zM267 584.6h2v1.7h-2zM267.5 590.4h1.5v1.7h-1.5zM289 548.2h2v1.5h-2zM288.9 559.4h2.5v1.9h-2.5zM288.8 567.2h2.3v1.3h-2.3zM289 577.1h2.1v1.8h-2.1zM287.5 583.6h1.5v1.6h-1.5zM287.7 587.8h1.9v1.7h-1.9zM287.6 596.2h1.9v1.6h-1.9zM299.9 579.2h2.2v1.4h-2.2zM299.8 583h2.3v1h-2.3zM309.1 543h2.6v2h-2.6zM309.3 552.7h2.2v1.4h-2.2zM309.1 580.2h2.6v2h-2.6zM308.1 587.4h2.1v1.7h-2.1z"/><path fill="#8a3aa8" d="M184.9 203.5h1.9v1h-1.9zM229.1 198.4h2.4v1.3h-2.4zM229.1 200.3h1.9v1.4h-1.9zM242.9 226.2h2v1.2h-2zM242.7 227.5h2v1.2h-2zM257.1 179.4h1.9v1.7h-1.9zM265.2 224.4h1.8v1.1h-1.8zM265.3 225.8h1.6v1.7h-1.6zM265 229.6h1.6v1.3h-1.6zM287.2 226.4h1.6v1.3h-1.6zM287.1 229.3h1.9v1.7h-1.9zM309.3 223.5h1.6v1.4h-1.6zM309.4 227h1.6v1.8h-1.6zM309.3 229.9h1.9v1.1h-1.9zM331.4 232.7h1.6v1.4h-1.6zM331.2 235.6h1.7v1.8h-1.7zM345.4 173.6h2v1.7h-2zM177.8 580.4h2.1v1.8h-2.1zM187.5 571.1h1.6v1.2h-1.6zM187.1 577.7h1.9v1.4h-1.9zM187.1 581.7h2.1v2h-2.1zM207.2 572.6h2.4v1.2h-2.4zM218.8 567.2h2v1.6h-2zM218.5 593.3h2.1v1.6h-2.1zM228.1 563.7h1.9v1.2h-1.9zM228 574.2h1.7v1.2h-1.7zM228.2 579.9h1.7v1.4h-1.7zM239.2 569.6h1.8v1.6h-1.8zM238.9 575.6h1.9v1.7h-1.9zM238.9 581.8h1.8v1h-1.8zM238.9 582.9h1.8v2h-1.8zM238.7 591.7h2v2h-2zM238.8 594.7h2.3v1.6h-2.3zM248.4 547.6h1.8v1.7h-1.8zM248 549.3h2.2v1.3h-2.2zM248.2 550.5h2.2v1.4h-2.2zM248.2 553.8h1.9v1.6h-1.9zM248.4 565.6h1.9v2.1h-1.9zM248.2 567.6h2.1v1.8h-2.1zM248.1 574h2.1v2.2h-2.1zM248.1 583.6h2.3v1.2h-2.3zM248.1 584.5h2.1v1.5h-2.1zM248 591.5h2v2.1h-2zM259.5 560.4h2v1.3h-2zM259.7 563.2h1.6v1.9h-1.6zM259.4 576.8h1.9v1.9h-1.9zM259.6 581.6h1.8v1.7h-1.8zM259.4 584.5h1.9v2h-1.9zM259.1 589.5h2.1v1.9h-2.1zM268.6 543.5h1.9v1.4h-1.9zM268.8 546.2h2.1v1.5h-2.1zM268.4 547.6h2.4v1.2h-2.4zM268.4 555h2.3v1.4h-2.3zM268.6 560.2h1.9v1.3h-1.9zM268.5 569.9h2.4v1h-2.4zM268.6 587.7h2.1v2.1h-2.1zM268.2 589.7h2.3v1.7h-2.3zM268.3 591.4h2v1.4h-2zM279.7 578.6h2.1v1.4h-2.1zM279.7 590.4h1.9v1h-1.9zM279.7 595.6h1.9v2.1h-1.9zM279.3 597.5h2.4v1.4h-2.4zM279.5 600.6h2.4v2.1h-2.4zM288.8 547h2.3v1.5h-2.3zM288.8 549.6h2.2v2.1h-2.2zM288.8 551.8h2.4v1.5h-2.4zM289 554.4h2.3v1.1h-2.3zM288.8 563.2h2.5v1.2h-2.5zM288.8 572h2.3v2.2h-2.3zM288.6 578.7h2.2v1.2h-2.2zM288.8 580h2.5v2h-2.5zM288.6 581.9h2.5v1.9h-2.5zM289 585h2v1.2h-2zM288.6 587.7h2.4v1.5h-2.4zM289 590.5h2v2h-2zM288.9 592.2h2v1h-2zM300.1 576.4h2v1.9h-2zM300.2 578.1h2v1.1h-2zM299.9 596.7h2.4v1.2h-2.4zM299.9 600.3h2.3v2.1h-2.3zM309.6 546.6h2v1.1h-2zM309 554h2.6v2.2h-2.6zM309.3 560.7h2.3v1.7h-2.3zM309.1 568.8h2.6v1.8h-2.6zM309 570.5h2.3v2h-2.3zM308.9 575.4h2.6v1.8h-2.6zM309.1 586.6h2.2v1.6h-2.2zM309.2 591.9h2.2v1.7h-2.2zM308.9 594.9h2.5v2h-2.5zM320.5 572h2.6v1.4h-2.6zM320.2 573.2h2.4v1.4h-2.4zM320.6 574.5h2.1v1.4h-2.1zM320.1 580.2h2.6v1h-2.6zM320.4 582.9h2.5v1.2h-2.5zM320.4 585.9h2.3v1.6h-2.3zM320.5 591.5h2.1v2.1h-2.1zM320.4 593.6h2.5v1.8h-2.5zM320.5 598.6h2.1v1.4h-2.1zM320.4 599.8h2.4v1.3h-2.4zM320.3 600.8h2.5v1.4h-2.5z"/><path fill="#b8b41c" d="M246.8 589.4h1.8v1h-1.8zM246.9 596.8h1.7v1.1h-1.7zM268.6 548.8h1.9v1.4h-1.9zM268.7 550.3h2.2v1h-2.2zM268.7 563.5h2.2v1.7h-2.2zM268.4 568.6h2.3v1.6h-2.3zM268.3 578.6h2.3v1.8h-2.3zM267.4 592.3h1.5v1.9h-1.5zM267.4 594.3h1.9v1.4h-1.9zM279.6 576.7h2.1v1.9h-2.1zM279.7 592.6h2v1.3h-2zM287.8 580h1.6v2h-1.6zM299.9 566.9h2.3v1.4h-2.3zM309.3 567.4h2.3v1.2h-2.3zM309 582.3h2.2v1.5h-2.2zM320.1 587.4h2.6v1.8h-2.6z"/><path fill="#20b8a0" d="M66.4 216.5h2v2h-2z"/><path fill="#2f6ad8" d="M88.5 216.5h2v2h-2zM110.1 216h3v3.6h-3zM132.1 216h3v3.6h-3zM154.2 216h3v3.6h-3zM176.3 216h3v3.6h-3zM198.4 216h3v3.6h-3zM220.4 216h3v3.6h-3zM242.5 216h3v3.6h-3zM252.3 208.5h1.4v1.2h-1.4zM251.5 214.3h1v1.3h-1zM251.3 213.1h1v1h-1zM252.7 201.9h1v0.9h-1zM252.6 204.9h1.1v1.3h-1.1zM252.3 202.2h1.2v1h-1.2zM250.9 195.4h1.4v1.4h-1.4zM251.3 217.3h1v1.1h-1zM250.6 210.9h1v1.3h-1zM252.3 211.1h0.9v1.3h-0.9zM252.8 189.1h1.4v1.3h-1.4zM255.6 222.1h1.7v0.8h-1.7zM264.6 216h3v3.6h-3zM273.6 215.8h1v1.2h-1zM274.4 188h1.1v1.3h-1.1zM273.9 192.8h0.9v1h-0.9zM274.4 208h0.8v0.8h-0.8zM273.3 197.4h1.2v1.2h-1.2zM273.4 204.3h1.4v1h-1.4zM274.9 189.4h1v1.2h-1zM272.6 213.3h1v0.8h-1zM275.1 199.3h1.3v1.5h-1.3zM272.5 215.2h1.4v1h-1.4zM273 213.9h1.4v1.4h-1.4zM273.4 193.6h1.2v1.1h-1.2zM273.1 215.3h1.4v1.5h-1.4zM274.7 197.7h1.3v0.8h-1.3zM286.7 216h3v3.6h-3zM296.2 202.7h1.3v0.8h-1.3zM296.2 198.4h1.1v1.2h-1.1zM295.2 216.7h1v1h-1zM297.1 200.5h0.9v1.4h-0.9zM296.8 198.1h1.2v0.9h-1.2zM295.4 199h1v0.9h-1zM296.3 204.3h1.4v1.4h-1.4zM295.5 207h1.4v0.8h-1.4zM296.8 194.7h1.2v0.8h-1.2zM299.2 202.7h1.7v0.9h-1.7zM298.8 193.3h1.7v0.8h-1.7zM308.7 216h3v3.6h-3zM318.2 212.7h1v1.1h-1zM318.6 210.6h1v1.5h-1zM317.2 200.9h1.4v1.1h-1.4zM318.4 198.7h1v1.3h-1zM317.9 214.4h1.2v1.2h-1.2zM317.4 198.6h1v0.8h-1zM318.5 202.8h1.3v1h-1.3zM316.6 217.9h0.9v1.1h-0.9zM317.3 214.3h1.4v1.5h-1.4zM319 199.4h0.8v1.3h-0.8zM318.3 197.3h0.8v1h-0.8zM318.7 204.1h1.3v1.2h-1.3zM319.3 197.6h1.1v1.4h-1.1zM320.7 198.7h1.3v1h-1.3zM330.8 216h3v3.6h-3zM340.6 211.1h1.3v1.1h-1.3zM338.9 206.7h0.8v1.3h-0.8zM340.4 215.5h1.3v1.2h-1.3zM340.2 198.1h1.4v1.2h-1.4zM340.7 199.1h0.9v1.3h-0.9zM338.5 217.5h0.8v1.2h-0.8zM339.6 202.8h1.1v1.1h-1.1zM341.9 193.4h1.1v1.4h-1.1zM339.9 211.9h0.8v1.4h-0.8zM338.6 218.5h1.2v0.8h-1.2zM339.7 217.1h0.9v1.1h-0.9zM340.2 202.9h1.4v1h-1.4zM343.7 224.4h1.1v1h-1.1zM354.8 222h0.9v1h-0.9zM353.8 224.8h1.2v1.5h-1.2zM362.5 199.5h0.9v1.2h-0.9zM361 198.3h0.9v1.2h-0.9zM362.1 202.1h1.2v1h-1.2zM359.6 210.6h0.9v1h-0.9zM364.3 190.7h0.9v1.2h-0.9zM363.9 218.1h1.4v1.1h-1.4zM363.5 202.7h1.2v0.9h-1.2zM366.7 202.2h1.4v1.1h-1.4zM365.2 196.4h1.9v0.9h-1.9zM368 178.6h0.9v0.8h-0.9zM367.6 160.4h0.8v1.1h-0.8zM368.3 177.9h1v0.9h-1zM368.1 158h1.1v1.4h-1.1zM366.8 160.9h1.4v1.5h-1.4zM367.9 162.5h1.5v1h-1.5zM367.9 171.8h1.4v1.1h-1.4zM367.4 176.1h1v1h-1zM367.6 206.7h1.4v0.8h-1.4zM367.3 173.7h1v1.1h-1zM367.9 194.2h1.4v1.1h-1.4zM368.5 158.3h1.1v1.4h-1.1zM367.7 182.2h0.8v1.2h-0.8zM368.1 204.6h0.8v1h-0.8zM367.4 159.4h1v1.3h-1zM375.2 235.6h1.2v1h-1.2zM382.9 206.6h1.1v0.8h-1.1zM382.9 224.8h1.3v1.1h-1.3zM383.1 225.2h1.2v0.9h-1.2zM386.3 222.3h1.1v1.5h-1.1zM386.5 211.4h1.3v1.3h-1.3zM386.9 204.8h1.3v1.1h-1.3zM386.2 217.4h1.5v1.3h-1.5zM386 202.6h1.3v1.2h-1.3zM387 221.3h1.9v1.2h-1.9zM388.4 213.1h1.7v1.1h-1.7zM390.2 172h1.3v1.2h-1.3zM389.3 180h1.1v1h-1.1zM390.1 181h1.4v1.2h-1.4zM389.5 181.2h1.4v1.2h-1.4zM391 163.5h0.9v0.8h-0.9zM390.7 192.6h1.3v1.5h-1.3zM390.5 160.3h1.4v0.8h-1.4zM389.3 196.3h0.9v0.9h-0.9zM389.2 204.7h1.2v1.2h-1.2zM390.8 201.6h1v1.3h-1zM390.7 166.1h1.2v1.1h-1.2zM390.7 159.2h1.4v1.3h-1.4zM390.2 193.5h1.1v0.9h-1.1zM396.9 229.5h1.4v1.3h-1.4zM396.9 223.6h1v0.9h-1zM398.2 228.2h1.3v1.4h-1.3zM407.4 202.4h1v1.1h-1zM405.1 203.5h0.9v1.2h-0.9zM408.6 207.3h1v1.2h-1zM404.5 199.6h1.1v0.9h-1.1zM404.2 214.9h1.3v1.1h-1.3zM404.4 212.2h1.1v1.2h-1.1zM403.6 215.7h0.9v1.2h-0.9zM405.8 223.7h1.3v1.5h-1.3zM408.2 211.7h1.5v0.9h-1.5zM407.7 217.1h1.4v1.2h-1.4zM407.5 221.5h1.4v1.4h-1.4zM408.8 224.1h0.9v1.3h-0.9zM409.9 220.1h1.5v0.9h-1.5zM413 162.4h1v0.8h-1zM411.1 176.5h0.9v1.4h-0.9zM412.3 209.2h1.2v1.1h-1.2zM411.6 161.8h1.4v0.9h-1.4zM412.6 175.7h1.1v0.9h-1.1zM410.9 165.3h1.3v1h-1.3zM411.6 161.9h1.5v1h-1.5zM418 220.6h1.1v1.3h-1.1zM420.4 230.7h1.2v0.9h-1.2zM418.6 231.7h1.3v1.2h-1.3zM419.8 239h1v1h-1zM420.7 232.1h0.9v1.3h-0.9zM426.6 218.7h1v1.3h-1zM428.9 190.8h1v0.8h-1zM430.8 191.4h1.1v0.9h-1.1zM429.6 218.1h1.4v1h-1.4zM426.7 190.9h1.4v1.4h-1.4zM431.4 198.6h0.8v1.1h-0.8zM430.4 218.3h1.4v0.9h-1.4zM429.7 222.7h1.3v1h-1.3zM430.1 208.6h1.4v1.5h-1.4zM429.8 211.9h1v1.3h-1zM430.4 214.5h1.1v0.8h-1.1zM430.6 210.6h1.3v1h-1.3zM431.2 207.8h1.3v1.4h-1.3zM433.6 182h1v1.4h-1zM435 156.7h0.9v1h-0.9zM433.1 159.8h1.4v0.9h-1.4zM434 198.7h1.4v1.2h-1.4zM433.8 180.1h0.9v0.9h-0.9zM434.2 173h1.1v0.9h-1.1zM433.5 176.2h1.1v1.1h-1.1zM434.7 164.7h1v1h-1zM433.4 197.4h0.9v1.2h-0.9zM433.8 197.4h1.3v1h-1.3zM434.9 156.9h1.5v1.4h-1.5zM433.6 209.8h1.2v1.3h-1.2zM433.7 194.8h1.3v1.4h-1.3zM435.1 205.5h1.1v1.3h-1.1zM433.3 198.3h1.4v1.3h-1.4zM434.8 183.6h1v0.9h-1zM441.4 243.2h0.9v1.1h-0.9zM442.7 227.3h1.1v1h-1.1zM447.7 195.9h1.2v1.2h-1.2zM448.5 192.8h1.1v1.2h-1.1zM449.2 227.9h0.9v1h-0.9zM448.7 228.3h1.2v1.2h-1.2zM452.9 204.6h1.4v1.4h-1.4zM453.2 209.2h0.8v0.9h-0.8zM452.9 201.8h1.1v1.4h-1.1zM451.7 218h1.4v1.4h-1.4zM452.7 203.7h0.8v0.9h-0.8zM453.1 212.1h1.3v1h-1.3zM455.6 202.4h1.1v1.2h-1.1zM457 171.5h1.5v1.4h-1.5zM455.6 192.8h1.3v1.4h-1.3zM456.9 189.6h1v1.4h-1zM455.5 180h1.1v1.4h-1.1zM464.6 238.5h0.9v1.5h-0.9zM472.4 223.4h1.2v1h-1.2zM472.3 194h1v1.2h-1zM474.4 213.6h0.8v1.2h-0.8zM470.2 194.3h0.9v1.2h-0.9zM470.1 191.6h1.2v0.9h-1.2zM471.2 227.6h1.1v1.3h-1.1zM474.9 224.5h1.2v1.2h-1.2zM474.8 205.4h0.9v0.9h-0.9zM474.4 223.7h1.3v0.9h-1.3zM474.9 223.9h1.1v1.4h-1.1zM474.4 209.4h1.5v1.2h-1.5zM474.1 211.3h1v1.3h-1zM475.5 220.6h0.9v1.2h-0.9zM476.5 222.3h1.4v1.2h-1.4zM475.5 209.4h1.7v1.2h-1.7zM478.6 180.9h0.9v1.2h-0.9zM477.3 155.2h0.9v1h-0.9zM477 163h1.4v0.9h-1.4zM478.4 190h1.3v0.8h-1.3zM478.9 177h1.1v1.2h-1.1zM478.1 202.3h1.1v1.3h-1.1zM483.4 224.1h0.9v1.2h-0.9zM485.2 237.6h1.2v1h-1.2zM485.7 244.3h0.9v0.8h-0.9zM486.9 235.5h1.3v1.2h-1.3zM495.5 209.8h0.9v1.1h-0.9zM494.1 194.4h1.3v1.2h-1.3zM493.3 226.2h1v1.2h-1zM496.6 201.1h1.4v1h-1.4zM496.9 206.4h0.9v1.3h-0.9zM496.4 221.1h1.3v1.1h-1.3zM498.5 215.2h1.6v1.1h-1.6zM500.7 159.6h0.9v1h-0.9zM499.9 176.5h0.7v0.8h-0.7zM501.2 193.6h0.9v1.1h-0.9zM502.8 206.2h0.9v0.9h-0.9zM501.1 231.3h1.2v1h-1.2zM501.1 223.7h1v1.3h-1zM506.5 246.4h1.2v1.5h-1.2zM518.3 221.7h1.2v0.9h-1.2zM514 221h1v1.2h-1zM516.3 227.2h0.9v1.2h-0.9zM518.4 214.4h1.2v0.9h-1.2zM519.5 210.9h1.2v1.5h-1.2zM518.5 201.9h1.1v1.1h-1.1zM519.2 201.2h1.1v1.1h-1.1zM518.1 204.8h1.2v1h-1.2zM518.7 221.4h1.2v1.1h-1.2zM521 192.1h1.9v1.3h-1.9zM521.7 182.2h1.3v0.8h-1.3zM520.6 162.7h1.1v1.2h-1.1zM524.1 183h1.4v1.3h-1.4zM524.8 213.6h0.9v1.4h-0.9zM524 150.3h1.1v1.2h-1.1zM519.8 209.5h1.3v1.3h-1.3zM522.3 229.1h0.9v0.9h-0.9zM522.4 230.4h1.2v1.2h-1.2zM522.5 232.6h1.3v0.9h-1.3zM529.4 241.6h0.9v1h-0.9zM530.7 238h1.3v1.2h-1.3zM530.7 244.3h1v1.5h-1zM538.2 228.7h1.1v1.5h-1.1zM541.4 217h1.2v0.9h-1.2zM541.1 219.9h1.5v1.1h-1.5zM541.2 213.9h1.4v1h-1.4zM545.8 218h0.8v1.2h-0.8zM545 210.7h1.1v0.8h-1.1zM544.7 151.8h1.2v0.9h-1.2zM542.8 153.8h0.9v1.2h-0.9zM546.8 189.6h1v1.3h-1zM546.1 222.2h1.4v0.9h-1.4zM544.2 226.6h0.9v0.8h-0.9zM545.4 224.2h1.3v1h-1.3zM551.6 242.7h1v1.2h-1zM560.3 210.6h0.9v1h-0.9zM557.3 223.1h1v1.3h-1zM563.5 187.2h0.9v1.1h-0.9zM563.3 211.1h1.2v1.1h-1.2zM560.4 228h1.4v1.4h-1.4zM563 204h0.9v1h-0.9zM562 217.3h1.4v1.4h-1.4zM563.2 204.9h1.1v1.3h-1.1zM562 215.3h1.4v1h-1.4zM564.5 219.7h1.5v1.2h-1.5zM565.1 212.4h2v1h-2zM565.9 212.3h0.8v1.3h-0.8zM566.5 162.1h0.9v1.1h-0.9zM566.5 210.8h0.8v1.1h-0.8zM567.2 219.4h0.9v1h-0.9zM566.5 193.7h1v1.1h-1zM564.2 208.5h1.3v1.4h-1.3zM564 213.1h1.1v1.2h-1.1zM564.2 196.8h0.9v1h-0.9zM569.1 165.2h1.2v0.9h-1.2zM568.7 175.9h0.9v1.3h-0.9zM568.6 182h1.3v1.2h-1.3zM565.9 231.2h1.3v1.1h-1.3zM567.2 235h1.1v1.3h-1.1zM574.4 223h1v0.8h-1zM576.4 216.9h1.2v0.8h-1.2zM572.9 238.3h1v1.2h-1zM573.7 245.7h1v1.2h-1zM572.8 244.1h1.2v0.9h-1.2zM573.3 240.4h0.8v0.9h-0.8zM573.8 249.7h1.1v1.4h-1.1zM583.2 215.1h1.1v1h-1.1zM582.7 195.6h1.3v0.8h-1.3zM582.5 210.9h0.7v0.9h-0.7zM581.6 227.3h1v1h-1zM584.2 201.8h1.3v1.2h-1.3zM584.2 218.8h1.4v1.4h-1.4zM585.4 213.8h1.5v1h-1.5zM585.3 222h1.1v1.1h-1.1zM584.9 204.4h1.1v1.1h-1.1zM585.4 209.2h1.1v0.9h-1.1zM586.8 191.7h1.7v1.3h-1.7zM586.4 224.1h1.7v0.9h-1.7zM588.4 169.9h1v1.2h-1zM588.4 159.2h1.2v1.1h-1.2zM589.3 171.3h1v0.8h-1zM590.3 164.4h1.3v0.9h-1.3zM586.7 170.9h0.8v1.3h-0.8zM587 209.6h1v0.9h-1zM586.7 224.2h0.9v1.1h-0.9zM586.9 221.7h0.8v0.8h-0.8zM590.4 167.4h0.9v1h-0.9zM586.6 200.3h0.8v0.9h-0.8zM587.9 234.4h1v1.1h-1zM596.7 217.6h1.1v1.3h-1.1zM595.9 247.9h1.3v1.4h-1.3zM605.7 224.3h1.1v1h-1.1zM603.1 229.3h1.3v1.1h-1.3zM607.9 213.3h0.9v1.1h-0.9zM606.3 202.9h1.5v1.1h-1.5zM607.1 215.9h0.8v1.3h-0.8zM606.2 221.7h1.3v0.8h-1.3zM606.3 210.8h0.9v1.2h-0.9zM608.5 195.6h1.5v1h-1.5zM608.6 209.6h1.4v1h-1.4zM609.2 193.8h1.9v1h-1.9zM610.6 179.5h1.3v1h-1.3zM610.2 223.1h1v1.2h-1zM608.3 173.6h1.3v1.2h-1.3zM612.6 207.7h1.1v1.1h-1.1zM610.9 225.1h1.4v1.3h-1.4zM621.2 223.8h1.3v1.3h-1.3zM620.3 236h1.3v1.4h-1.3zM618.1 240.3h0.9v1h-0.9zM618.9 247.2h1.3v1.2h-1.3zM625.2 216.2h1.2v1h-1.2zM624.2 204.2h1.4v1h-1.4zM625.1 188.2h1.4v0.9h-1.4zM630 218.8h0.9v1.1h-0.9zM629.5 217.4h1v1h-1zM629.2 216.6h1.4v0.8h-1.4zM629.1 222.4h1.5v1.3h-1.5zM633.9 202.7h1v1h-1zM632.6 181.7h1v0.9h-1zM632.3 172h1.2v0.7h-1.2zM631.8 187.6h0.9v0.7h-0.9zM634.1 188.5h0.8v1h-0.8zM633.2 219.3h1.1v1.1h-1.1zM630.3 192.9h1v1.3h-1zM630.7 154.8h0.8v1.3h-0.8zM633.1 227.7h1.3v0.9h-1.3zM642.9 221.7h1v0.8h-1zM640.9 248.4h1.1v1h-1.1zM652.9 193.1h1.2v0.9h-1.2zM648.2 228.7h1.3v1.1h-1.3zM650.8 224.1h1.1v1h-1.1zM651 211.1h0.9v1.5h-0.9zM653.4 192.2h2v1.1h-2zM652.4 207.7h1.9v0.9h-1.9zM653.5 226.5h2v1.3h-2zM655.5 174.7h1.1v1h-1.1zM656.8 184.8h1.1v1h-1.1zM652.7 155.6h0.9v1.4h-0.9zM653.8 217.3h1v0.9h-1zM654.4 222h1.2v1.2h-1.2zM129.9 607.8h2.4v2.4h-2.4zM165.6 588.5h2.4v3h-2.4zM170.8 605.5h2.2v1h-2.2zM170.7 611.6h2.4v1.2h-2.4zM186 589.5h2.4v3h-2.4zM191.2 605.5h2.2v1h-2.2zM191.1 611.6h2.4v1.2h-2.4zM211.6 605.5h2.2v1h-2.2zM211.5 611.6h2.4v1.2h-2.4zM226.8 589.5h2.4v3h-2.4zM231.9 605.5h2.2v1h-2.2zM231.8 611.6h2.4v1.2h-2.4zM252.3 605.5h2.2v1h-2.2zM252.2 611.6h2.4v1.2h-2.4zM272.7 605.5h2.2v1h-2.2zM272.6 611.6h2.4v1.2h-2.4zM293.1 605.5h2.2v1h-2.2zM293 611.6h2.4v1.2h-2.4zM313.2 627.4h1.2v1h-1.2zM314.4 619h1.4v1.1h-1.4zM314.2 624.8h0.9v1.1h-0.9zM329.9 578.8h0.9v1.2h-0.9zM331.4 555.5h1v1.2h-1zM329.3 592.3h0.8v0.8h-0.8zM328.8 576.4h1v1h-1zM331.3 562.5h0.8v1.2h-0.8zM330 590h0.7v0.9h-0.7zM332 554.8h1.3v1.4h-1.3zM332.6 574h0.9v0.8h-0.9zM330.3 606h1.2v1.2h-1.2zM331.2 594.3h0.9v1.3h-0.9zM335.7 607.8h1.2v1.2h-1.2zM334.9 621h1.2v1.5h-1.2zM334.9 618.7h1.2v0.9h-1.2zM340.9 601.7h1v0.8h-1zM341.5 574.2h1.2v1.2h-1.2zM341 591.8h1.1v0.8h-1.1zM342.1 598.3h0.8v1.2h-0.8zM339.1 602.1h1.2v1h-1.2zM343.7 598.9h1.1v1h-1.1zM341.1 615.1h1.4v1h-1.4zM348.8 594.2h1.3v0.9h-1.3zM351.1 573.8h0.7v1.1h-0.7zM352.5 582.7h1.1v1.1h-1.1zM354.8 608h1.1v0.9h-1.1zM354.5 625.1h1.4v1.1h-1.4zM362.2 602.6h0.9v1.2h-0.9zM362 563.3h0.8v0.9h-0.8zM362.2 576.4h0.9v1h-0.9zM361.5 584.4h0.8v1.3h-0.8zM362.7 563.5h1.2v0.8h-1.2zM361.9 613.6h0.9v0.9h-0.9zM362.4 611.7h1.4v1.3h-1.4zM362.4 625.2h1.3v1.2h-1.3zM369.9 590.4h0.9v0.7h-0.9zM371 569.9h1v0.8h-1zM369.3 579.3h1.3v1.2h-1.3zM371.1 565.9h1.3v0.9h-1.3zM371.6 595h0.9v0.8h-0.9zM368.6 565.7h1.3v1.3h-1.3zM372.8 552.9h1.3v1.1h-1.3zM373.2 572.2h0.9v1.1h-0.9zM371.5 606.6h0.8v1.3h-0.8zM371.9 598.8h1.3v0.8h-1.3zM376.6 615.3h1v1.2h-1zM373.9 632.7h1.4v1.1h-1.4zM381.2 570.5h0.9v1.1h-0.9zM381.1 569.6h1.2v0.9h-1.2zM382.1 568.4h1.3v0.9h-1.3zM383.2 590.8h1.1v1h-1.1zM381.3 558.2h1.2v1.2h-1.2zM382.9 561.3h0.8v0.7h-0.8zM384.6 589.3h1v1.3h-1zM380.6 560.8h0.9v1.3h-0.9zM382.3 615.9h0.9v1.4h-0.9zM382.3 623h1.2v1.3h-1.2zM390.7 572h0.8v1.1h-0.8zM389.3 565.1h1v1h-1zM389 586.2h1.2v1.2h-1.2zM391.1 603.4h1.2v1h-1.2zM391 606.7h0.8v0.9h-0.8zM390.7 611.2h0.8v0.9h-0.8zM396.3 619h1.3v1h-1.3zM395.1 618.6h0.9v1h-0.9zM397.9 614.9h1.3v1.3h-1.3zM396 625.7h1.3v0.8h-1.3zM402.7 561.8h1.1v0.8h-1.1zM400.2 573.4h1.2v1.1h-1.2zM404.9 558.4h1v0.9h-1zM402.8 623.4h1.3v1.2h-1.3zM402.7 626.9h0.9v0.9h-0.9zM410 600.6h0.9v0.8h-0.9zM411.7 574.1h1v1.3h-1zM412.6 604.9h0.7v1.2h-0.7zM411.9 558.5h0.8v1h-0.8zM409.5 544.3h1.1v1.1h-1.1zM414.7 584.7h0.8v0.9h-0.8zM415.8 617.1h1.1v0.8h-1.1zM415.8 614.1h1v1.1h-1zM413.4 615.7h0.8v1.1h-0.8zM416 632h0.9v1.2h-0.9zM415.3 625.5h1.2v1.5h-1.2zM423.7 595.3h1.1v0.8h-1.1zM422 605.1h0.8v1.3h-0.8zM422 574.8h1.2v0.9h-1.2zM422.6 622.2h1.3v1.1h-1.3zM422.3 627h1v0.9h-1zM423.9 620.5h1v1.2h-1zM431 585.4h0.7v1.1h-0.7zM431.8 589h1.2v1.2h-1.2zM429.6 584.4h1.2v1.3h-1.2zM431.5 606.5h1.4v1h-1.4zM431.9 607.1h0.8v1.3h-0.8zM431.5 607h0.9v1.3h-0.9zM437.1 609.8h1v1h-1zM435.2 615.2h0.8v0.9h-0.8zM442.4 612h0.8v1.2h-0.8zM442.5 600.6h0.7v1.3h-0.7zM442.6 586.8h1v1h-1zM444.7 584.1h0.9v1.2h-0.9zM443.7 604.3h1v1.2h-1zM445.8 576.6h1.1v1.3h-1.1zM445.1 580.8h1v0.9h-1zM441.8 559h1v1.2h-1zM455.6 593h0.9v1.3h-0.9zM449 589.8h1.2v1.2h-1.2zM454.9 589.1h0.9v1.3h-0.9zM452.8 620.5h0.9v1.4h-0.9zM451.1 614.4h0.9v1.2h-0.9zM455.2 615.7h1.3v0.8h-1.3zM463.4 599.3h1.1v1h-1.1zM464 586.6h1.1v0.8h-1.1zM465 609.1h1.1v0.7h-1.1zM466.1 583h0.9v1.2h-0.9zM464.7 627.9h1.1v1.3h-1.1zM473.5 551.5h1.3v0.8h-1.3zM472.4 608.4h0.8v0.9h-0.8zM475.6 542.5h0.9v1.4h-0.9zM470.3 569.5h1.3v1.2h-1.3zM470 605.5h1.2v1h-1.2zM475.6 603.8h1.1v1.4h-1.1zM473.5 615h1.2v1.3h-1.2zM471.7 616.5h1v0.8h-1zM472.9 615.3h1.1v1.3h-1.1zM471.8 614.3h1.3v1.3h-1.3zM474 618.3h1.2v1.1h-1.2zM475.5 636.2h1.4v1.4h-1.4zM485.3 601.5h1v0.8h-1zM483.2 602.5h0.8v1.1h-0.8zM485.4 619.8h1.1v0.8h-1.1zM481.6 574.1h1.3v1h-1.3zM485.7 606.1h1.2v1h-1.2zM484 632.6h1.3v1.1h-1.3zM484 623.8h0.9v1.2h-0.9zM485.1 621.8h1v1.4h-1zM494.6 603.2h1v1h-1zM493.7 574h1.3v1.2h-1.3zM493 577.4h1.1v1h-1.1zM490.5 601h0.9v1.1h-0.9zM492.4 617.4h0.9v1.3h-0.9zM493 615.5h1.3v1.4h-1.3zM498.7 610.7h1.2v1.2h-1.2zM505.5 581.5h1v0.7h-1zM506.2 555.5h1v1.4h-1zM502.4 557.2h1.2v0.8h-1.2zM506.3 573.6h1.3v1.4h-1.3zM502.7 610.1h1v0.9h-1zM505.2 632.9h1.3v1.5h-1.3zM504.1 623.1h1v0.8h-1zM504.1 627.5h1.1v1.5h-1.1zM512.1 575h1.1v1.3h-1.1zM514.6 593.7h1.3v0.7h-1.3zM512.7 600h0.8v0.9h-0.8zM513.6 554.8h1.2v1.1h-1.2zM513.3 551.3h1v1.3h-1zM514.2 553.7h1.1v0.7h-1.1zM515.4 559.3h0.8v1.4h-0.8zM510.6 586.6h0.9v1.1h-0.9zM515.4 557.6h1.2v1.3h-1.2zM512.3 618.6h1.4v1.1h-1.4zM513.1 617.2h1v0.9h-1zM517.2 624.2h1.1v0.8h-1.1zM516.4 610.5h1.2v0.9h-1.2zM515.6 619.4h1v1.2h-1zM518 636.3h1.1v1.1h-1.1zM526 610.9h1v0.9h-1zM526.1 565.2h1v1h-1zM524.2 561.6h1v1.2h-1zM525.7 585.4h1.3v0.9h-1.3zM527.4 601.1h1.1v0.9h-1.1zM522.6 615.3h1v1.1h-1zM527.3 574.1h1.3v1.3h-1.3zM527 590.5h1.3v1h-1.3zM523 602.9h1.3v1h-1.3zM525.2 625.3h1v1.4h-1zM533.6 549h0.8v0.8h-0.8zM536.9 596.2h1.4v0.9h-1.4zM536.1 576.2h1.3v1h-1.3zM531.4 590.1h1v1.3h-1zM531.5 582.4h1.2v0.9h-1.2zM533.3 620.1h0.9v0.8h-0.9zM535.8 609.4h1v0.9h-1zM538.5 632.5h1.2v0.9h-1.2zM544.7 562h0.7v1h-0.7zM546.3 607.4h0.9v1h-0.9zM545.2 589.5h1.2v0.7h-1.2zM545.6 574.5h1v1.1h-1zM543.8 559h0.9v0.9h-0.9zM547.3 557.9h1.2v1.1h-1.2zM547.1 564.3h1v1.2h-1zM555.7 560.6h1.3v1.3h-1.3zM555 624.8h1v0.8h-1zM553.2 622.5h1.2v1h-1.2zM554.4 628.8h1.1v1h-1.1zM558.7 606.5h0.7v1.2h-0.7zM556.1 615.9h0.9v1h-0.9zM561.6 606.5h0.8v0.9h-0.8zM558 627.6h1.3v1.4h-1.3zM557.2 632h1.1v0.8h-1.1zM566 568h1v1.2h-1zM566.7 603.1h1v0.7h-1zM566.5 585.5h1v1h-1zM565.8 597h1.2v1.2h-1.2zM563.5 590h1v1.3h-1zM567.5 606.3h1.3v1.3h-1.3zM565.2 626.1h1.1v1.3h-1.1zM566.1 633.6h0.9v1h-0.9zM565.6 631.8h1.3v1.2h-1.3zM575.9 575.1h0.9v1.2h-0.9zM575.2 545h1v1.1h-1zM573.8 556.1h0.9v1.1h-0.9zM577.3 591.7h0.9v1.2h-0.9zM578.2 630.1h0.9v0.9h-0.9zM586.5 569.1h1v0.8h-1zM585.9 603.4h1v0.8h-1zM585.1 606.1h0.8v0.8h-0.8zM587 615.5h1v0.8h-1zM583.8 601.5h1v1.4h-1zM585.2 629.5h1.1v1.2h-1.1zM586.6 631.9h1.4v1.1h-1.4zM593.8 579h1.2v1h-1.2zM597.7 604.7h1.3v1.1h-1.3zM593.7 556.5h0.9v0.9h-0.9zM594.9 625.2h1.3v1.3h-1.3zM596 627.8h1.2v1.2h-1.2zM600.2 615.3h0.8v1.2h-0.8zM598.1 609.7h1.1v1.2h-1.1zM596.4 623.4h1v0.8h-1zM599.4 632.3h1v0.9h-1zM607.1 562.8h0.9v1.2h-0.9zM607.1 563.2h1.3v0.9h-1.3zM606.4 576.3h1.1v1.1h-1.1zM606 565.4h1.1v0.8h-1.1zM604.3 620.4h1.3v0.9h-1.3zM608.2 565.3h1.3v0.9h-1.3zM606.3 637.2h1.2v1h-1.2zM605.6 625.2h1v1.2h-1zM617.4 583.8h1v0.9h-1zM615.3 602.9h0.9v1h-0.9zM615.5 545.4h1.1v0.8h-1.1zM619 620.5h1.2v0.7h-1.2zM622.3 620.6h1.2v0.9h-1.2zM620.4 629.1h0.9v1.2h-0.9z"/><path fill="#94e2f4" d="M102.2 168.1h1.5v1.5h-1.5zM102.4 159.8h1.2v1.2h-1.2zM351.5 219.1h0.8v1.1h-0.8zM355.2 233.4h1v1.2h-1zM352.3 237.7h0.8v0.8h-0.8zM351.2 247.4h1.2v1.1h-1.2zM354.9 240.1h0.8v1h-0.8zM364.4 195.7h0.8v0.8h-0.8zM360.2 226.2h1v0.7h-1zM360.3 227.4h0.8v0.8h-0.8zM374.2 245.9h0.9v0.8h-0.9zM373.8 222.9h1.2v1.2h-1.2zM381.5 215.3h1v1.3h-1zM386.7 193.4h1v0.9h-1zM382.8 190.4h1.1v1.2h-1.1zM386.5 192.3h0.9v1.2h-0.9zM382.5 204.3h1v0.8h-1zM385 222.1h1.2v0.9h-1.2zM398.6 247.3h0.9v1h-0.9zM395.8 222.9h1v0.8h-1zM404.8 192.1h1.2v1.3h-1.2zM404.9 193.9h0.9v1.2h-0.9zM404.6 196.2h1.2v1.1h-1.2zM421.8 225.1h0.9v0.8h-0.9zM420.8 241.4h0.9v1.1h-0.9zM421 245.7h0.9v1.2h-0.9zM425.6 216h1.3v1.2h-1.3zM439.6 224.2h1.2v1h-1.2zM440.1 240.8h0.9v0.8h-0.9zM440.1 236.6h0.9v1.1h-0.9zM442.8 237.2h1v1.1h-1zM443.1 240.1h0.8v0.9h-0.8zM452.2 222.3h1v1.2h-1zM447.7 206.7h1.4v1.4h-1.4zM452.2 219.8h1.3v0.8h-1.3zM453.4 190.6h1v1h-1zM448 227.8h0.9v1h-0.9zM464.6 252.3h0.9v1.1h-0.9zM462 246.8h1v1h-1zM474.8 203.4h1v1.1h-1zM470 230.2h1.1v0.8h-1.1zM486.6 249.6h1.1v1.1h-1.1zM487.2 249.9h1.1v1h-1.1zM484 239.3h1.1v1.1h-1.1zM496.7 213.4h0.8v1.1h-0.8zM498.2 177.1h1.4v1.2h-1.4zM498.7 183.3h1.3v1h-1.3zM498.2 208.7h1.4v1.3h-1.4zM498.8 164h0.9v1.4h-0.9zM502.2 172.1h1v1h-1zM502.3 185.7h1.3v1.3h-1.3zM501.9 222h1v1.2h-1zM501.4 238.1h0.8v0.8h-0.8zM498.6 234.4h1.2v1.1h-1.2zM510.7 213.9h0.9v1.1h-0.9zM506 228.8h1.1v1.2h-1.1zM510.6 222.2h1v1.3h-1zM509.8 244.1h0.8v0.7h-0.8zM518.1 220h0.9v1.2h-0.9zM520.6 163.3h1.2v0.8h-1.2zM524.6 198.8h1v0.9h-1zM524.2 156.7h1.3v0.9h-1.3zM520 159.2h1v0.9h-1zM520.7 201.5h1.3v1.4h-1.3zM520.9 211.8h0.9v1h-0.9zM524.3 225.7h0.9v0.7h-0.9zM527.8 222h0.8v0.8h-0.8zM527.9 252.4h0.9v1.1h-0.9zM528.3 253h1v0.9h-1zM542 196.5h1.1v1h-1.1zM541.5 202.3h1.3v1.1h-1.3zM536.3 194.5h1v1h-1zM536 211.7h1.2v0.8h-1.2zM546.9 184.4h1.2v1.3h-1.2zM546.1 181.5h0.9v1.1h-0.9zM542.5 197.9h1.2v0.8h-1.2zM542.4 180.6h0.8v1.3h-0.8zM545.7 236.7h1v0.8h-1zM543.3 230h0.7v1h-0.7zM549.7 214.4h0.9v1.2h-0.9zM549.6 227.5h0.9v1.3h-0.9zM557.3 203.4h1v1.3h-1zM562.4 222.4h1.2v0.8h-1.2zM568.2 190h1.1v0.9h-1.1zM568.5 170.6h1.2v1h-1.2zM564.8 180.2h1.2v0.9h-1.2zM564.4 177.3h0.9v1.1h-0.9zM564.1 173.9h1v1.3h-1zM568.8 214h0.8v0.9h-0.8zM564.5 188.1h1.4v1.3h-1.4zM565 233.8h0.8v0.9h-0.8zM575.7 245.6h1.2v0.8h-1.2zM579.4 204.5h1.4v1.3h-1.4zM579.8 224.9h1.2v1h-1.2zM579.7 205h1v1.2h-1zM579.9 222.9h0.9v1.1h-0.9zM590.9 214.4h0.9v1h-0.9zM591.2 216.6h0.9v1.2h-0.9zM590.4 195.3h1.3v1.2h-1.3zM587 191.5h0.9v0.8h-0.9zM586.9 159.2h0.9v1.3h-0.9zM590.5 178.5h1.2v1.4h-1.2zM590.5 231.8h1.1v0.8h-1.1zM594.2 227.4h1.2v1.1h-1.2zM594.3 214.6h1.1v0.8h-1.1zM593.7 239.6h1.2v0.7h-1.2zM594.2 249.9h0.9v0.9h-0.9zM601.9 216.5h0.9v1.1h-0.9zM601.2 224.2h1.3v1.1h-1.3zM608 203.7h1.3v1.2h-1.3zM612.4 201.6h1.4v1.1h-1.4zM612.9 175.8h0.9v1.3h-0.9zM608.5 188.7h0.8v1.3h-0.8zM609.1 236.6h1.2v0.8h-1.2zM621.1 228h0.9v1.3h-0.9zM621.1 214.2h0.8v1h-0.8zM620.3 233.3h1.4v1.3h-1.4zM616.4 238.3h1.2v1.1h-1.2zM616.3 247.2h0.9v0.8h-0.9zM619.7 247.5h0.9v0.9h-0.9zM624.3 197.1h0.9v1.2h-0.9zM623.5 217.8h0.9v1.1h-0.9zM624.2 207.2h0.9v1.1h-0.9zM631 165.4h1v1.1h-1zM630.6 188.6h1.2v1.2h-1.2zM630.5 177.2h0.9v0.9h-0.9zM635 178.3h1.3v0.9h-1.3zM630.8 180.1h0.9v0.9h-0.9zM634.6 205.6h1v0.8h-1zM634.8 165.8h1.1v1.2h-1.1zM635 225h1.2v0.9h-1.2zM630.8 175.7h1.3v1h-1.3zM635.4 173.2h1v1.3h-1zM634.3 237.2h0.7v0.9h-0.7zM638.8 215.8h1v1h-1zM638.2 237.8h0.9v1.4h-0.9zM642.1 244.5h0.9v1.1h-0.9zM638.2 253.5h0.9v1h-0.9zM646.3 217.3h1v1.3h-1zM647.1 188.2h1.2v1.3h-1.2zM652.4 190h0.9v1.3h-0.9zM650 226.3h1.3v0.9h-1.3zM645.7 224.7h1.4v1.3h-1.4zM657.3 188.2h1.3v1.1h-1.3zM657.3 207.2h1.2v1h-1.2zM652.9 171.6h0.9v1.1h-0.9zM653 201.8h1v1h-1zM657.1 201.7h1.1v0.9h-1.1zM657.2 189.7h1.2v1.2h-1.2zM656.6 225.1h0.8v0.9h-0.8zM656.7 222.8h1.1v1.1h-1.1zM157.7 586.5h1.6v2h-1.6zM312.5 622.1h0.7v1.1h-0.7zM328.6 556.8h0.8v1h-0.8zM327.9 547.3h1.3v0.9h-1.3zM331.8 583.9h1.3v1.4h-1.3zM332.3 579.9h0.9v1h-0.9zM328.1 608.4h0.9v1h-0.9zM328.1 598.8h0.9v0.7h-0.9zM331.8 600.8h0.9v1.1h-0.9zM332.1 606.9h1.3v1.4h-1.3zM339.4 564.9h1v0.8h-1zM343.4 596.3h1.1v1.2h-1.1zM343.6 570.5h1.4v1.4h-1.4zM342.8 584.2h1.2v1.4h-1.2zM339.4 562.8h0.8v1.4h-0.8zM342.5 619.5h1.2v0.9h-1.2zM340 622.7h0.9v1.2h-0.9zM343.3 613.8h0.9v1.1h-0.9zM348.6 564.5h1.1v0.9h-1.1zM348.7 547.2h1.3v1.2h-1.3zM348.4 570.6h1.2v0.9h-1.2zM352.1 558.1h1v1.3h-1zM352.4 571.4h1.2v1.4h-1.2zM352.8 553.8h0.9v1.4h-0.9zM353.1 573.2h1v1h-1zM348.7 612.1h1.2v1.2h-1.2zM351.8 603.9h1.2v1.2h-1.2zM352.1 612.2h1.3v1.1h-1.3zM352.9 632.7h1.1v1.2h-1.1zM352.6 635.9h1.1v0.7h-1.1zM363.3 579.4h0.9v1.3h-0.9zM359.7 608.6h1.2v1.3h-1.2zM360.4 602.5h1v1h-1zM363.6 603.1h1.1v1.2h-1.1zM363.3 604.7h0.9v0.9h-0.9zM360.2 585.8h0.9v1h-0.9zM360.4 558.4h0.8v1.4h-0.8zM363.4 613.7h0.9v0.8h-0.9zM373.2 564.4h1.2v1h-1.2zM368.7 545.6h1.2v0.9h-1.2zM369.6 543.6h1v0.8h-1zM372.3 555.6h1.3v1h-1.3zM373.1 577.1h0.8v1h-0.8zM373.2 582.8h1.3v1.3h-1.3zM368.6 603.8h0.9v0.8h-0.9zM372.2 603h0.8v1.1h-0.8zM372.4 604.8h1.1v1h-1.1zM372.7 618.2h1v0.9h-1zM373.2 636.2h1v0.7h-1zM375.9 630.1h1v0.8h-1zM380.5 602.6h1.3v1h-1.3zM384.1 609h1.4v1.1h-1.4zM383.9 609.9h1.1v1.3h-1.1zM384.6 591.8h0.9v1h-0.9zM383.9 626.4h0.8v1.1h-0.8zM380.6 631.4h1.2v0.9h-1.2zM383.7 627.8h0.9v1h-0.9zM393.3 550.4h0.9v1.4h-0.9zM393.2 601.9h1.2v0.9h-1.2zM393.7 574.6h1.1v0.9h-1.1zM389.3 571.9h0.8v0.9h-0.8zM389.9 546.7h0.9v1.4h-0.9zM393.7 552.7h0.9v0.9h-0.9zM389 608.9h1.2v0.8h-1.2zM393.5 608.5h1v0.9h-1zM396.6 634.4h1.1v0.8h-1.1zM396.5 635.3h0.9v1.1h-0.9zM400.6 611.6h1v1.3h-1zM404.5 608.8h0.9v1.1h-0.9zM401 578.3h0.9v1.1h-0.9zM404.6 597.7h0.9v0.9h-0.9zM404.3 612.2h0.9v0.8h-0.9zM400.8 609.5h1.1v1.2h-1.1zM403.9 614.1h1v1.2h-1zM400.8 615.7h1v0.8h-1zM401.7 624.2h0.8v0.7h-0.8zM414.3 603.2h1.2v1.3h-1.2zM414 561.6h0.8v1.2h-0.8zM413.5 594.6h1.4v0.9h-1.4zM409.8 569.2h1v1h-1zM413.6 572.1h0.9v1.3h-0.9zM409.8 616.5h1v1.1h-1zM413.4 620.7h1.3v1.4h-1.3zM413.3 620.1h1.1v0.9h-1.1zM417.1 625.8h1.1v0.9h-1.1zM425 577.3h1.4v1h-1.4zM421.3 594.7h1.3v1.4h-1.3zM425.1 585.7h1.3v1.2h-1.3zM421.6 589.1h0.9v1.2h-0.9zM424.7 582.9h1.4v1.3h-1.4zM424.8 572.1h1v1.3h-1zM420.7 589.9h1.3v0.9h-1.3zM422.1 630.6h0.8v1.2h-0.8zM435 591.3h1.1v0.9h-1.1zM430.2 552.6h1.3v1h-1.3zM434.3 543.4h1.1v1.3h-1.1zM430.4 546.5h1v1.1h-1zM430.5 555.5h0.9v0.9h-0.9zM434.1 553.9h0.8v1.1h-0.8zM429.6 607.3h0.8v0.8h-0.8zM433.7 608.9h1v0.8h-1zM434 628.6h1.1v0.9h-1.1zM437.9 630.3h1.1v1.1h-1.1zM441 575.6h1.4v1.2h-1.4zM441.1 564.5h0.9v1h-0.9zM441.3 581.1h1.1v1.2h-1.1zM441.8 574.2h1.1v0.8h-1.1zM445.4 578.4h1v1.3h-1zM441 597.2h1.1v1h-1.1zM454.5 569.6h1v0.8h-1zM449.5 577.5h1.1v0.9h-1.1zM454.6 559h1.3v1.2h-1.3zM450.6 556.8h1.1v1.1h-1.1zM455 570.2h0.9v0.9h-0.9zM450 586.1h1v1.4h-1zM450.6 619.7h0.9v1h-0.9zM454 617.8h1.3v1.2h-1.3zM458.6 615.4h0.9v1.1h-0.9zM454.2 620.9h1v1.4h-1zM457.8 631.6h0.8v0.9h-0.8zM461.8 561.4h1.1v1.1h-1.1zM465.9 602h0.9v1.2h-0.9zM462.2 591.8h1.1v1.3h-1.1zM462.3 614.3h0.8v1.1h-0.8zM462.2 582.8h0.8v1h-0.8zM465.7 590.7h1.1v1.3h-1.1zM462.2 598h1v1h-1zM461.5 556.8h1.4v1.1h-1.4zM461.5 568.3h1.1v0.9h-1.1zM462.1 632.6h1.1v0.9h-1.1zM469.3 609h1.1v1.1h-1.1zM475 541.1h1.3v1.2h-1.3zM471 567.4h0.8v1.4h-0.8zM469.9 601.7h1.1v0.8h-1.1zM470.4 579.6h1.3v1.4h-1.3zM471.4 561.8h1.1v1.1h-1.1zM475.3 587.3h1v1.4h-1zM471 616.7h0.8v0.9h-0.8zM479 614.6h0.9v1.2h-0.9zM474.8 617.1h1v1.3h-1zM474.7 630.4h1v0.7h-1zM485.9 564.8h1v1.3h-1zM482.2 609.4h1.4v1.2h-1.4zM481.8 563h0.8v1.3h-0.8zM482.3 559.4h1v1.2h-1zM485.7 627.3h1v1.1h-1zM495.6 601.9h1.3v1.1h-1.3zM495.8 612.3h1.1v0.9h-1.1zM495.2 553.4h0.9v1.2h-0.9zM496 586.2h0.9v1.3h-0.9zM495.2 572.2h1.3v1.1h-1.3zM495.7 609.4h1.4v0.9h-1.4zM491.2 544.7h1.3v0.9h-1.3zM491.4 571.6h1.3v1h-1.3zM495.1 613.8h1.2v1.1h-1.2zM495.1 615.5h1.3v1h-1.3zM495.4 629.3h1v1.2h-1zM503 598.5h0.9v1.1h-0.9zM506.9 559.7h1v1.2h-1zM502.7 564.2h1.1v1h-1.1zM502.8 556.7h1.4v1h-1.4zM505.9 634.5h1.1v0.9h-1.1zM506.2 624.7h0.9v0.9h-0.9zM512.3 548.1h1v1.4h-1zM511.7 570.6h1.3v0.9h-1.3zM515.9 543.9h1.1v1.1h-1.1zM515.8 566.3h1v1.1h-1zM511 590.7h1.3v0.8h-1.3zM511.1 585h0.8v1.1h-0.8zM516.6 604.3h1v1.2h-1zM516.1 614h0.8v1h-0.8zM519.3 625h1.3v1.2h-1.3zM520.2 606.3h0.9v0.9h-0.9zM515.5 629.4h0.7v0.8h-0.7zM526.8 571.6h1.3v1.2h-1.3zM526.8 605.7h0.9v1h-0.9zM527.1 561h1v0.9h-1zM523.1 589.8h1.1v1.3h-1.1zM526.9 624.5h1.1v1.1h-1.1zM523.7 637.7h1.2v1.1h-1.2zM526.5 640h1v0.9h-1zM535.9 552.8h1.1v1.3h-1.1zM531.5 577.4h1v1.2h-1zM532.1 551.7h1.2v1.1h-1.2zM536.6 601h1.3v0.9h-1.3zM536.1 615.1h0.8v0.8h-0.8zM540.4 621.8h0.9v1.2h-0.9zM535.8 603.9h1.1v1.4h-1.1zM547.7 614.2h1v1h-1zM543.6 588.8h1v1.2h-1zM547.1 613.2h1.1v1.2h-1.1zM543.4 568.5h1v1.3h-1zM543 616.4h1.1v1.1h-1.1zM544.1 641.4h0.9v1h-0.9zM552.1 576.4h1.2v1.1h-1.2zM556.9 612.2h1.4v1h-1.4zM556.3 565.9h1.4v1h-1.4zM551.2 603.2h1v1.3h-1zM551.1 584.6h1.1v1.2h-1.1zM556.9 594.1h0.9v0.9h-0.9zM557 614.9h1.3v1.2h-1.3zM552.2 549.4h0.9v1.3h-0.9zM556.9 551h0.8v1.1h-0.8zM552.8 551.8h1.4v1.4h-1.4zM552 560.2h1.2v1.3h-1.2zM551.6 590.4h1.4v1.3h-1.4zM552.4 627.3h0.7v0.8h-0.7zM555.6 632.9h1.2v1.1h-1.2zM555.7 623.1h1v1.3h-1zM560.4 615.1h1.4v0.8h-1.4zM561.2 614.8h0.8v1.1h-0.8zM567.5 584.9h0.9v1.1h-0.9zM564.1 603.7h1.2v0.9h-1.2zM567.9 562h1.3v1.4h-1.3zM567.7 614.6h1.4v1.3h-1.4zM563.6 608.2h1.1v1.2h-1.1zM563.8 596.1h1.1v1.4h-1.1zM564.2 590.1h1v1.1h-1zM564.7 641.1h0.8v1.1h-0.8zM572 587.9h1.1v0.8h-1.1zM577 566.7h1.1v1.1h-1.1zM577.7 620.8h1.1v1h-1.1zM573.1 561.7h1.3v1.1h-1.3zM571.7 590.9h0.8v1.2h-0.8zM576.4 564.8h1.2v1.2h-1.2zM571.1 615.7h1.4v1h-1.4zM577 564.4h1.1v1.3h-1.1zM577.2 572.6h1.2v0.8h-1.2zM577.1 546.6h1v1.3h-1zM572.6 625.3h0.8v0.8h-0.8zM581.1 614.5h1.2v1.3h-1.2zM588.6 595.9h1.1v0.9h-1.1zM588.3 619.3h0.9v0.8h-0.9zM584.1 597.3h1.4v0.9h-1.4zM588.7 587h0.9v1.2h-0.9zM584.9 635.6h0.9v1.2h-0.9zM584.3 631.9h0.9v0.9h-0.9zM597.9 591.7h1.3v1h-1.3zM592.4 613.1h1.1v1.4h-1.1zM597.8 600.2h1.4v1.2h-1.4zM591.8 605.7h0.9v1.3h-0.9zM602.3 609.5h1v1.2h-1zM601.3 616.8h1.3v1.1h-1.3zM601 630.9h0.8v0.7h-0.8zM604.2 585.9h1.2v1.3h-1.2zM603.9 623.4h1.3v1h-1.3zM608 573.8h1.4v1.3h-1.4zM608.8 578.7h1.3v1h-1.3zM604.2 568.5h1v1h-1zM608.2 569.8h1.2v1.4h-1.2zM605.3 632.7h0.9v1.2h-0.9zM608.4 629.5h0.8v1h-0.8zM608.2 628h1.1v0.8h-1.1zM613.6 548.6h1v1.3h-1zM617.4 573.6h0.9v1.1h-0.9zM618 570.9h0.8v1.4h-0.8zM617.8 623h0.9v1.1h-0.9zM614 558.4h1v1.1h-1zM617.9 578.8h1.2v1.2h-1.2zM614.2 555.4h1v1.3h-1zM614.1 552.8h1v0.8h-1zM621.9 608.3h1v1.4h-1zM621.9 626.1h1.2v1h-1.2zM617.7 639h1v0.7h-1zM621.6 630.5h0.8v0.8h-0.8z"/><path fill="#e09a2a" d="M110.7 216.8h1.8v2h-1.8zM154.8 216.8h1.8v2h-1.8zM199 216.8h1.8v2h-1.8zM252.9 192.2h1v1.4h-1zM251.8 200.8h1v1.5h-1zM251 198.4h1.2v1.1h-1.2zM253.4 188.8h0.9v1.4h-0.9zM251.6 197.6h1.1v1.3h-1.1zM252.1 203.1h1v0.9h-1zM251.4 197.4h1v1.4h-1zM251.7 201.3h1.5v1.3h-1.5zM252.3 200.5h1.2v1h-1.2zM252.3 209h0.9v0.9h-0.9zM272.5 205.1h1.4v1.4h-1.4zM273.8 213.2h1.5v1.2h-1.5zM274.6 199.9h1v1.3h-1zM273.1 193.4h1.2v1.1h-1.2zM273.9 204.8h1.4v1h-1.4zM274.1 194.1h1v1.3h-1zM294.7 203.6h1.4v1.3h-1.4zM295.2 207.3h0.8v1h-0.8zM294.8 205.6h1.3v1.1h-1.3zM297.1 201.1h1.2v1.3h-1.2zM318.4 210.7h1.4v1.2h-1.4zM316.6 211.7h1v1.1h-1zM318.5 203.1h1.4v1.4h-1.4zM319.7 196.2h0.9v1.2h-0.9zM318.4 203.2h1.2v1.2h-1.2zM316.7 207.6h1.4v1.5h-1.4zM341 207.3h1v1.2h-1zM338.5 212.5h0.9v1.3h-0.9zM339.9 190.3h1.1v1h-1.1zM339.6 201.7h1.3v1h-1.3zM353.1 226.4h1.1v0.9h-1.1zM352.5 240.9h0.9v1.2h-0.9zM352.8 234.4h1v1.4h-1zM361.9 193.6h1.2v0.9h-1.2zM361.9 215.6h1.4v1.3h-1.4zM368.4 175h1.4v1.3h-1.4zM367.4 168.4h1.4v1h-1.4zM368.2 184.6h1.4v1.3h-1.4zM367.1 159.3h1.3v1.2h-1.3zM368.1 189h1.2v1.3h-1.2zM368.5 157.1h1.4v1.3h-1.4zM375.4 224.4h0.9v1.2h-0.9zM374.3 236.3h1.3v1.4h-1.3zM374.6 226h1.1v0.9h-1.1zM375.8 225.2h1.1v1h-1.1zM374.7 225.4h1.4v1.3h-1.4zM383.4 202h0.7v1.2h-0.7zM383.5 217.6h1.2v0.8h-1.2zM385.7 200.5h0.9v1.2h-0.9zM382.8 221.4h1.3v0.9h-1.3zM389.4 160.8h1.1v1.2h-1.1zM390.8 199.2h0.8v1.1h-0.8zM390.2 198.3h1.4v0.9h-1.4zM399.3 220.7h0.8v0.8h-0.8zM397.1 227.3h0.8v1.2h-0.8zM396.6 237.5h1v1.4h-1zM396.8 222.1h1.2v0.9h-1.2zM396.7 240.6h0.9v1.5h-0.9zM405.4 212h0.9v1.1h-0.9zM412.3 195.5h1v1.2h-1zM412.8 182.9h0.9v1.5h-0.9zM411.3 175.2h0.9v1.3h-0.9zM411.2 194.4h1v1.3h-1zM411.5 200.8h1.4v1.2h-1.4zM412 169.2h1.3v1.2h-1.3zM412.5 202.1h1.4v1.3h-1.4zM411.8 156.5h1.1v1.1h-1.1zM411.1 198.9h1.5v1.2h-1.5zM411.9 164.5h0.9v1h-0.9zM419.5 235h0.8v0.9h-0.8zM419.3 237.2h0.9v1.1h-0.9zM426.9 220.5h1.3v0.8h-1.3zM429.1 193.7h1v0.9h-1zM434 203.3h1v1.3h-1zM435 207.9h1.3v1.3h-1.3zM434.2 198.7h1v0.9h-1zM433.5 172.7h1v1.1h-1zM434.2 164.2h1.2v1.5h-1.2zM434.2 166.2h1.1v1h-1.1zM433.9 179h0.9v0.9h-0.9zM435.2 200.2h0.9v1.4h-0.9zM442.4 222.1h1.1v0.9h-1.1zM441.9 237.1h1.2v0.9h-1.2zM441.9 231.1h1.1v1.5h-1.1zM442.8 227h1.2v1.3h-1.2zM441.9 241h0.9v1.1h-0.9zM442.3 238.3h1.4v0.9h-1.4zM440.7 227.6h1.3v1h-1.3zM450.2 213.7h1v1h-1zM455.8 192.2h1.3v0.9h-1.3zM455.6 210.5h1.2v1.4h-1.2zM456.1 157.1h1.3v1.1h-1.3zM456.4 171.3h1.4v1.2h-1.4zM455.2 192.4h1.4v1.4h-1.4zM455.5 173.4h0.9v0.8h-0.9zM456.5 198.2h1.1v1.4h-1.1zM457.1 169.9h0.9v1.2h-0.9zM464.9 231.3h1v0.9h-1zM464.1 234.9h1.4v1.3h-1.4zM462.7 241.7h1.3v1.2h-1.3zM463.7 243.7h1.2v1h-1.2zM463.2 237.4h1.1v1.5h-1.1zM473.5 210.6h1.1v0.8h-1.1zM471.2 226h1.1v1.4h-1.1zM479 173.5h1.3v1.1h-1.3zM478.9 158.1h0.9v1.4h-0.9zM477.8 182.9h0.8v1.1h-0.8zM479.1 165.6h0.9v1.2h-0.9zM477.3 171.9h1.3v0.9h-1.3zM477.8 195.6h1.4v1.4h-1.4zM485.5 241.3h0.9v1.3h-0.9zM487 234.6h0.9v1.2h-0.9zM484.9 240.7h1.2v1.3h-1.2zM486.2 245.5h0.9v1.2h-0.9zM485.7 247.6h0.9v1.3h-0.9zM495.5 210.5h0.8v0.7h-0.8zM493.3 228.3h1.3v1.2h-1.3zM500.7 190.5h1.2v0.8h-1.2zM499.8 166.2h0.9v0.9h-0.9zM508.8 217h0.8v0.9h-0.8zM508.4 240.7h1.3v1.1h-1.3zM508.1 236.4h1v0.9h-1zM507.7 245.9h1v1.2h-1zM508 236.8h1v1.3h-1zM506.8 246h1.2v0.8h-1.2zM518.2 195.7h0.8v0.9h-0.8zM518.3 207.4h0.8v1.1h-0.8zM523.4 168.1h0.9v1.1h-0.9zM521.1 186h1.2v1.3h-1.2zM523.1 235.1h1.1v1.3h-1.1zM529.6 219.6h1.2v0.9h-1.2zM529 244.4h1.3v0.9h-1.3zM530.4 241.7h1.4v1.5h-1.4zM537.7 229.1h1v1.4h-1zM543.9 173.9h0.9v1h-0.9zM562.8 208.5h0.8v0.9h-0.8zM560.7 215.9h1v0.7h-1zM566.1 177.6h0.8v1.2h-0.8zM566.3 190.9h1.2v1.3h-1.2zM565.7 174.3h1.1v0.7h-1.1zM567.2 174.2h0.8v1.1h-0.8zM567.8 186.7h1.1v0.9h-1.1zM565.7 235.4h1.2v1.1h-1.2zM575.5 235.1h1.2v1.1h-1.2zM574.2 248.9h1.1v1.2h-1.1zM574.3 241h1.2v1.2h-1.2zM574.6 241.5h0.8v0.9h-0.8zM588 189.6h1v1.1h-1zM588.9 230.9h1.2v1.5h-1.2zM589.6 226h0.9v1.4h-0.9zM597.3 229.5h0.8v1.3h-0.8zM595.7 237.5h1.1v1.5h-1.1zM596.2 238.3h0.8v1h-0.8zM596.2 247.4h1.2v1.5h-1.2zM605.5 213.2h0.8v1h-0.8zM603.4 228.1h1.3v0.9h-1.3zM611.6 171.5h1.1v0.8h-1.1zM610.4 224.9h1v0.8h-1zM611.7 229.8h1.2v1.1h-1.2zM610.5 233.5h0.9v1h-0.9zM611.2 229.8h1v0.9h-1zM618.1 226.8h0.9v0.9h-0.9zM618.8 242.4h1.1v1.4h-1.1zM625.1 209h0.9v1h-0.9zM625.5 229.5h1v0.9h-1zM631.7 204.5h1.3v0.7h-1.3zM634.1 184.7h1.1v1h-1.1zM633.4 164.3h0.8v1.3h-0.8zM640.2 236.7h1.1v0.8h-1.1zM639.3 238h1.1v1.3h-1.1zM640.9 243.2h1v1.4h-1zM653.5 212.8h0.9v1.1h-0.9zM653.6 152.4h1v1.1h-1zM654.1 198.9h1.3v1.2h-1.3zM655.9 193.6h1.2v1.2h-1.2zM655.3 181.9h0.7v0.9h-0.7zM655.6 217.6h1.2v1.3h-1.2zM170.5 609.3h2.8v2.2h-2.8zM211.2 609.3h2.8v2.2h-2.8zM252 609.3h2.8v2.2h-2.8zM292.8 609.3h2.8v2.2h-2.8zM313.7 627.9h1.1v1.4h-1.1zM330.4 558.5h1.3v0.9h-1.3zM329.8 588.4h0.9v0.8h-0.9zM330.6 594.1h1.2v0.9h-1.2zM329.2 598.2h0.8v1.2h-0.8zM333 623.9h1.1v1h-1.1zM333.8 621.2h1v1.2h-1zM341.4 567.1h1.1v0.7h-1.1zM342 623.4h1.3v1h-1.3zM342.4 613.4h0.9v1h-0.9zM351.9 583.9h1.1v1h-1.1zM351.9 582.2h1v1h-1zM350.5 564.4h0.8v0.9h-0.8zM349.9 556.2h1v0.7h-1zM350.9 581.7h0.9v0.9h-0.9zM350.1 602.9h1v1.4h-1zM353.6 626.6h1v1.4h-1zM353.5 626.6h1.4v0.9h-1.4zM353.3 622.5h1v1.2h-1zM362.3 560.5h0.7v0.8h-0.7zM362.6 582.4h0.9v1h-0.9zM360.7 579.9h1.2v0.8h-1.2zM361.7 619.7h1.3v1.4h-1.3zM362.1 624.7h1.4v1.1h-1.4zM371 569.6h0.8v0.7h-0.8zM370.9 549.7h1.2v0.8h-1.2zM370.2 604.5h1.1v1.2h-1.1zM382.7 593.1h1.2v1h-1.2zM381.5 626.6h1.1v1.4h-1.1zM391.1 569.8h0.9v0.7h-0.9zM391.2 554.1h1v0.8h-1zM391.8 553.4h1v0.8h-1zM389.9 590.6h1v1h-1zM390.8 571.8h0.9v1h-0.9zM391.7 605.8h1.3v1h-1.3zM390.2 612.9h1.2v1.3h-1.2zM394.4 627.4h1.2v0.8h-1.2zM395.2 624.3h0.9v1.1h-0.9zM403.9 609.9h0.8v1.2h-0.8zM402.8 624.7h0.9v0.9h-0.9zM403.3 624.6h1v1h-1zM409.9 597.7h1v1h-1zM412.5 596.7h1.2v0.8h-1.2zM410 597.9h1v1.1h-1zM412.2 569h1.2v0.9h-1.2zM410.3 580.4h1.2v1.1h-1.2zM412.2 595.3h1.1v0.7h-1.1zM413.3 587h0.9v1.1h-0.9zM413.1 566.4h0.9v0.9h-0.9zM412.4 613.4h1v1.2h-1zM415.8 622.2h0.7v0.9h-0.7zM415.7 632.7h1.4v1.2h-1.4zM414.4 634.1h1.1v1h-1.1zM424 607.5h1.3v1.2h-1.3zM424.2 597.2h0.7v1h-0.7zM424 571h1v0.8h-1zM424 599.5h1v0.9h-1zM424.2 592.4h0.8v1.2h-0.8zM431.4 548.9h1.1v1.1h-1.1zM431.6 546.1h0.8v0.7h-0.8zM431.8 602.4h1.2v0.9h-1.2zM431 581.4h1v0.9h-1zM432.2 560.2h0.8v1.1h-0.8zM431 613.1h0.8v1.2h-0.8zM434.9 624.7h0.8v1.4h-0.8zM443.8 569.1h1.3v1h-1.3zM444.2 559h0.8v1h-0.8zM442.7 607.8h0.8v1h-0.8zM442.5 579.1h1.2v1h-1.2zM443.5 627.9h0.9v1.3h-0.9zM452.5 550.9h0.7v0.8h-0.7zM452.4 591h1.2v1h-1.2zM451.5 616.5h0.9v1h-0.9zM451.2 615.5h1v0.9h-1zM457.1 607.8h0.8v0.8h-0.8zM455.1 634.4h1.1v1.3h-1.1zM455.6 634h1v0.9h-1zM463 584.8h0.9v0.9h-0.9zM464.3 615.3h1.2v1.1h-1.2zM464.3 605.2h0.8v1.2h-0.8zM464.1 631.7h1v1.1h-1zM471.3 614.6h1.2v1.1h-1.2zM472.1 620.7h1.2v0.9h-1.2zM472 615.3h1.4v1.3h-1.4zM471.4 615.4h1v1h-1zM478.4 625.2h0.7v0.8h-0.7zM478.2 621.2h1.3v1h-1.3zM477.3 621.4h1v0.9h-1zM477.5 626.7h1.2v1.3h-1.2zM476.3 636.2h1.4v0.9h-1.4zM483.4 571.6h1v0.7h-1zM483.6 605.9h1.2v0.9h-1.2zM484 564.8h1.1v1h-1.1zM483.2 564.7h0.9v1.1h-0.9zM483.1 560.9h1.2v1.2h-1.2zM484.8 601.8h1.1v0.8h-1.1zM494 609.2h0.7v1.3h-0.7zM494.1 577.9h0.9v1.1h-0.9zM491.4 609.5h0.8v0.9h-0.8zM494.6 603.6h0.9v1h-0.9zM494.1 614.8h0.9v1.1h-0.9zM497.7 636.1h1.2v0.9h-1.2zM496.2 632.5h1v1.2h-1zM497.5 628.6h1.3v1.2h-1.3zM504.4 584.6h0.7v1.2h-0.7zM505.2 568h0.9v1h-0.9zM503.3 609h1.3v0.7h-1.3zM504.5 600.7h0.9v1.2h-0.9zM504.9 575h0.8v0.8h-0.8zM504.1 615.7h0.9v0.8h-0.9zM503.9 627h1.2v0.9h-1.2zM505.1 623.5h1.3v1h-1.3zM514.6 587h0.9v1h-0.9zM511.9 602.6h1.2v1.3h-1.2zM513.3 596.6h0.9v1.3h-0.9zM514 603.1h1.3v1.3h-1.3zM511.7 583.8h1.2v1h-1.2zM512.6 616.3h1v0.9h-1zM514.5 617.7h0.9v1.3h-0.9zM516.5 625.6h0.9v1h-0.9zM516.6 612.6h1.2v1.1h-1.2zM516.3 627.6h1v0.8h-1zM524.9 613.1h1.1v0.7h-1.1zM524.6 612.5h1.2v1.1h-1.2zM523.7 568.7h1.3v1.3h-1.3zM524.9 635.8h1.3v1.3h-1.3zM525 629.5h1v0.8h-1zM523.8 625.8h1.3v1.1h-1.3zM525.7 629h0.8v1h-0.8zM524.7 625.8h0.9v0.8h-0.9zM534.4 579.6h1.3v1h-1.3zM533 582.3h1.2v0.9h-1.2zM534.5 562.1h1v0.7h-1zM534.2 564.5h1.3v0.7h-1.3zM532.4 613.9h1.3v1.1h-1.3zM533.9 618.1h1.4v0.8h-1.4zM532.9 613.7h1.1v1.4h-1.1zM538 632.9h1.2v0.8h-1.2zM538.3 631.7h1.3v0.9h-1.3zM537.5 629h1v1.1h-1zM544.6 583.4h0.8v1.2h-0.8zM544.9 574.5h1.2v1h-1.2zM545.9 590.4h1.3v0.7h-1.3zM545.7 624.9h1v1h-1zM546.2 635.9h0.9v1.4h-0.9zM544.6 632.1h1.3v0.9h-1.3zM552.6 585.6h0.7v1.1h-0.7zM554.2 562.6h1v0.8h-1zM553.2 560.4h1.1v1.1h-1.1zM555.7 574.3h1.2v1.1h-1.2zM554 551.5h1.1v1h-1.1zM553.3 569.1h1.1v1.2h-1.1zM555.4 604.2h1v1.3h-1zM565.9 601.7h0.8v0.7h-0.8zM565.8 627h1.2v1h-1.2zM565 635.2h1.3v1.2h-1.3zM566.2 633.9h1.2v1.3h-1.2zM576.3 605.2h0.7v0.7h-0.7zM574.2 607.9h1.2v1.2h-1.2zM573.4 587.9h1.2v1h-1.2zM573.8 628.4h1v1.3h-1zM573.1 622h1.3v1.5h-1.3zM573.9 629.2h0.9v1.2h-0.9zM574 621.8h1v0.9h-1zM580.6 608.9h0.9v1.2h-0.9zM578.1 627.6h1v0.9h-1zM577.8 635.4h0.9v1.1h-0.9zM577.3 630h1v0.9h-1zM587.4 600h0.8v1.3h-0.8zM585.1 560.1h1.2v0.8h-1.2zM586.9 635.8h1v1h-1zM586.4 633.3h1.1v1.1h-1.1zM594.5 569.8h1v1.3h-1zM596.7 587.5h0.7v0.8h-0.7zM598.7 631.4h1.1v1.4h-1.1zM598.9 636.2h1.1v0.9h-1.1zM600 627.9h0.9v1.4h-0.9zM606.3 559.7h0.9v0.9h-0.9zM606.1 599.7h0.9v0.8h-0.9zM607.2 584.9h1.1v0.7h-1.1zM605.9 622.6h1.1v1.1h-1.1zM607.3 624.7h0.8v1h-0.8zM605.6 627.3h1v1.1h-1zM614 587.4h0.9v1.2h-0.9zM615.7 564.6h0.9v1.1h-0.9zM616.5 594.5h1.2v1.2h-1.2zM615.2 571.2h1v0.7h-1zM614.2 625.7h1.1v1.2h-1.1zM614.5 624.3h1.1v1h-1.1zM619 635.6h1.1v1.1h-1.1zM619.8 628.2h1.4v1.2h-1.4zM619.1 637.1h1v1h-1z"/><path fill="#0fa80f" d="M110.8 216.1h1.6v1h-1.6zM132.7 216.8h1.8v2h-1.8zM154.9 216.1h1.6v1h-1.6zM176.9 216.8h1.8v2h-1.8zM199.1 216.1h1.6v1h-1.6zM221 216.8h1.8v2h-1.8zM243.1 216.8h1.8v2h-1.8zM243.2 216.1h1.6v1h-1.6zM242.5 219.3h3v2.4h-3zM265.2 216.8h1.8v2h-1.8zM264.6 219.3h3v2.4h-3zM287.3 216.8h1.8v2h-1.8zM287.4 216.1h1.6v1h-1.6zM286.7 219.3h3v2.4h-3zM309.3 216.8h1.8v2h-1.8zM308.7 219.3h3v2.4h-3zM331.4 216.8h1.8v2h-1.8zM331.5 216.1h1.6v1h-1.6zM330.8 219.3h3v2.4h-3zM352.1 220h1v0.8h-1zM354.3 230.3h1v1h-1zM354 222.4h1.2v1.4h-1.2zM353.6 240.9h1.3v1.2h-1.3zM353.7 231.2h1.3v1.4h-1.3zM354.2 221h1.1v1.2h-1.1zM363.2 210.3h1.1v1.3h-1.1zM361 199.1h1.2v1.6h-1.2zM360.3 206h0.9v1h-0.9zM363.7 205.7h1v0.8h-1zM360.2 213.4h1.1v1.2h-1.1zM363.4 202h1.2v1.1h-1.2zM361.3 194.2h0.8v1.2h-0.8zM364.1 198.2h1v1.2h-1zM360.8 223.5h1.1v0.9h-1.1zM360.7 223.7h1v1.3h-1zM361.5 221.1h1.3v1.2h-1.3zM367.6 160.7h0.8v1.1h-0.8zM368.6 179h1.1v0.9h-1.1zM368.6 204.1h1.3v1.3h-1.3zM367.1 167.1h0.9v1.1h-0.9zM367.1 165.7h0.8v0.8h-0.8zM374.1 220h1.2v1.4h-1.2zM375.8 240.1h1.3v1h-1.3zM374.9 241.9h1.3v1h-1.3zM374.5 238h1.3v1h-1.3zM375.8 240h1.1v1.2h-1.1zM375.7 240.7h1.3v1.3h-1.3zM382.7 207.3h0.7v1.4h-0.7zM385.5 207h0.8v0.9h-0.8zM383.2 194.8h0.9v1.2h-0.9zM382.7 212.5h1v1.1h-1zM382.8 207.6h0.7v1.5h-0.7zM386.2 198.4h0.8v1.3h-0.8zM385.4 212h0.8v1h-0.8zM385.9 195.3h0.9v1.2h-0.9zM383.9 192.3h0.9v1.1h-0.9zM384.1 218.8h1.3v0.8h-1.3zM383.9 223.7h1.2v0.8h-1.2zM390 192.4h1.2v0.9h-1.2zM389 160.8h1.3v0.9h-1.3zM389.3 173.3h1.1v1.2h-1.1zM390.3 167.5h1.2v1.3h-1.2zM389.3 208h1v1.2h-1zM390.6 161.3h1.4v0.9h-1.4zM390.6 209.6h1.2v1.3h-1.2zM390.7 192.3h1.3v0.9h-1.3zM389.1 191.9h1.5v1.3h-1.5zM390.8 206.2h0.9v1.5h-0.9zM389.8 201.4h0.9v1h-0.9zM389.1 208.7h1.2v1.3h-1.2zM389.5 197.9h1.1v1.4h-1.1zM390.6 181.7h1.4v1.3h-1.4zM389.8 176.3h1.4v1.3h-1.4zM390.2 174.2h1.2v1h-1.2zM390.8 188.3h0.9v1.3h-0.9zM389.3 159.2h0.8v1h-0.8zM389.3 177h1.2v0.9h-1.2zM396.9 219h0.8v1.4h-0.8zM396.8 228.3h1.1v1h-1.1zM397.2 227h0.8v1.3h-0.8zM396.9 237.3h1v1.3h-1zM407.9 209.4h0.9v1.6h-0.9zM404.4 209.4h0.7v1.5h-0.7zM404.6 216.1h1.1v1.4h-1.1zM404.8 206.7h1.1v1.1h-1.1zM404.2 213.8h1.1v1.2h-1.1zM407.6 209.3h0.8v1.4h-0.8zM404.6 217.7h1v1.4h-1zM404.5 216.3h0.8v1.2h-0.8zM404.1 219.2h1.1v1.5h-1.1zM405.3 197.5h0.8v0.8h-0.8zM404.4 206.1h0.9v1.5h-0.9zM405.1 225.1h1v0.9h-1zM404.7 221.5h0.9v1.5h-0.9zM406.2 224.1h1v1.3h-1zM411.7 181.5h1.5v1.4h-1.5zM411.3 200.9h1v1.2h-1zM413 166.1h0.9v1.4h-0.9zM412.6 184h1.5v1.4h-1.5zM411.3 160.6h1.1v1.4h-1.1zM411.1 207.9h1.2v1.1h-1.2zM411.4 171.8h1.3v0.9h-1.3zM412.1 210.5h1.3v1.4h-1.3zM411.6 188h1.3v1h-1.3zM412.3 183.6h0.9v0.8h-0.9zM411.8 202.1h0.8v1h-0.8zM411 195.6h1.2v1.3h-1.2zM412.6 181.6h1.2v1.4h-1.2zM411.9 162.8h1.1v0.9h-1.1zM412.1 205.7h1.3v0.9h-1.3zM411.7 185.1h1.4v1.2h-1.4zM412.9 201.2h1v1.3h-1zM412 207.9h1.2v1.3h-1.2zM411.4 192.7h1.4v0.9h-1.4zM411.3 198h1.1v1.3h-1.1zM411.9 182.2h1.4v1.1h-1.4zM412.9 173.6h1.3v1h-1.3zM420.7 223.5h1v1.4h-1zM419.8 230.2h1.3v1.2h-1.3zM419.6 225.9h1.3v1.3h-1.3zM420.1 223.7h1.1v1.2h-1.1zM420.6 226.5h1.3v0.9h-1.3zM420.2 239.4h0.9v0.9h-0.9zM418.4 243.1h1.4v1.5h-1.4zM427 204.1h1v1.3h-1zM426.3 212.8h1v1.4h-1zM430.5 201.2h0.8v0.8h-0.8zM429.4 212.3h1v1.4h-1zM430.3 208.8h0.7v1.5h-0.7zM430.1 204.7h1v1.4h-1zM427.4 197.6h0.8v1.1h-0.8zM427.5 192.4h0.7v1.2h-0.7zM428 225.8h0.9v1h-0.9zM433.5 171.2h1.3v0.8h-1.3zM434.2 174.3h1.4v1h-1.4zM434.9 208.6h0.9v1h-0.9zM434.9 161.8h1.3v1.3h-1.3zM434.6 191.8h1.2v1h-1.2zM434.4 166.9h1.5v0.9h-1.5zM434.3 209.9h0.8v1.2h-0.8zM433.4 174.5h1.1v0.9h-1.1zM433.1 162.3h1.1v0.9h-1.1zM434.7 198.1h0.8v1.1h-0.8zM433.9 208.2h1.3v1.1h-1.3zM433.5 209.6h1.4v1.2h-1.4zM435.3 195.2h0.9v0.9h-0.9zM434 197.4h1.2v1.5h-1.2zM434.7 195.8h1.3v1.1h-1.3zM434.7 188.7h1.5v0.9h-1.5zM435.2 186.9h1.1v1.2h-1.1zM433.3 182.3h1.5v1.4h-1.5zM434.6 206.7h1.2v1.2h-1.2zM434.1 190.1h1.1v1.3h-1.1zM433.7 206.9h1.1v1h-1.1zM434 206.6h1v1.2h-1zM433.1 181.3h1.3v1.1h-1.3zM440.3 223.3h0.9v1.2h-0.9zM440.3 224.3h0.9v1.1h-0.9zM443.8 225.6h1v1.4h-1zM444 222.8h0.7v1h-0.7zM442.5 232.1h1.4v1h-1.4zM442.6 226.6h1.1v0.9h-1.1zM452.4 192h1.1v1.2h-1.1zM451.5 218h1.1v1.3h-1.1zM451.8 211.2h1.1v1h-1.1zM451.5 219h0.9v0.9h-0.9zM449.9 193.4h0.8v1.3h-0.8zM452.7 191.7h0.9v1.2h-0.9zM448.4 205.8h0.8v1.1h-0.8zM451.5 213.5h1v1h-1zM448.8 201.1h1.1v1.1h-1.1zM449.5 225h0.9v1.4h-0.9zM448.8 226.7h0.9v1.2h-0.9zM456.5 154.9h1.1v1.2h-1.1zM457.1 199.7h1v1h-1zM456.7 182.1h1.2v1.3h-1.2zM457.1 153.2h1.5v1.4h-1.5zM456.3 196h1.1v1.1h-1.1zM455.9 208.4h0.9v0.8h-0.9zM456 157.8h1.3v1.2h-1.3zM457.1 190.1h1.1v1.3h-1.1zM456.7 154.2h1v1.4h-1zM456.3 196.4h1.5v0.8h-1.5zM455.6 178.8h1v0.9h-1zM456.4 168.4h1.2v1.4h-1.2zM455.1 208.8h1.1v1.2h-1.1zM455.6 199.3h1.5v1h-1.5zM455.9 194.7h1.3v1.1h-1.3zM456 185.2h1.3v1h-1.3zM457.3 198.9h0.8v1h-0.8zM456.3 157.8h0.9v1.3h-0.9zM457 186.5h0.9v0.8h-0.9zM455.8 171.9h1v1.3h-1zM456.9 177h0.9v1.1h-0.9zM456.4 165.5h1.2v0.9h-1.2zM456.8 179.9h1.5v0.9h-1.5zM455.4 160.2h1v1.5h-1zM455.2 183h1.3v1.4h-1.3zM456.8 178.9h1.2v1.1h-1.2zM456.3 182.6h1.4v1.5h-1.4zM456.9 186.8h1.3v1.2h-1.3zM457.2 193.7h1v1.4h-1zM455.2 168.6h1.2v1.3h-1.2zM455.9 174.3h0.9v1.4h-0.9zM465.6 226h1.2v1.5h-1.2zM462.9 221.3h0.8v1.2h-0.8zM462.6 229h1.2v1h-1.2zM463.7 243.5h1.1v1.1h-1.1zM470.9 201.4h0.8v1.5h-0.8zM473.7 219.9h1v1.4h-1zM470.5 204.9h0.8v1.5h-0.8zM474.3 206.4h0.9v1.5h-0.9zM470.6 198.9h0.9v1.1h-0.9zM470.5 217.8h0.8v1.4h-0.8zM470.9 196.3h1.1v1.4h-1.1zM474.8 199.4h0.9v1h-0.9zM470.4 204.6h1.2v1.4h-1.2zM473.6 220.7h1.1v1h-1.1zM471.2 195.9h1.2v1.5h-1.2zM473.9 213.2h0.7v1.1h-0.7zM471.5 228.8h1.1v0.9h-1.1zM471.8 225.8h1.3v1.2h-1.3zM477.5 190.2h1v1.3h-1zM477.7 199.5h1.5v0.8h-1.5zM479.3 205h0.8v0.9h-0.8zM478.2 178.6h1.4v1h-1.4zM477.9 158.3h1.1v1.5h-1.1zM478 190.5h1.1v0.9h-1.1zM479 170.8h1.3v1.4h-1.3zM477.2 210.8h1.4v0.8h-1.4zM477.7 209.1h1.3v1.5h-1.3zM477.9 194.6h1.4v1.3h-1.4zM478 200.3h1.1v0.8h-1.1zM477.4 195.3h1.1v1h-1.1zM478.3 171.8h0.8v1.5h-0.8zM478.1 181.5h0.8v1.5h-0.8zM478.1 206h1.2v0.9h-1.2zM478.4 204.1h1.1v1.1h-1.1zM478 197.2h1.1v1.4h-1.1zM477.7 157.7h1.1v1.1h-1.1zM479 208h1.3v1h-1.3zM479 180h1.2v1.3h-1.2zM478.5 185.5h1.2v1.5h-1.2zM477.2 202.7h1.5v0.8h-1.5zM478.9 169.7h1.5v1h-1.5zM477.8 186.1h1v1.3h-1zM479.4 185.1h1.1v1h-1.1zM479 161.3h1v0.8h-1zM477.2 164.4h1.5v1.4h-1.5zM478.8 180h1.3v1.1h-1.3zM477.3 175.2h0.9v1h-0.9zM478.5 180.6h1.3v0.8h-1.3zM479.1 202h0.9v0.9h-0.9zM477.7 177.4h1v1.2h-1zM478.3 207.9h1.2v0.8h-1.2zM478.7 187.8h1.4v1.5h-1.4zM477.6 168.5h1v1.4h-1zM477.3 209.1h0.8v1.5h-0.8zM478.1 198.2h1.3v1h-1.3zM479.2 157.2h1.4v1.4h-1.4zM477.7 210.1h1.5v1.2h-1.5zM477.5 152.6h1.1v1.1h-1.1zM478.5 187.6h1.4v1.4h-1.4zM478.9 178.1h1.4v0.9h-1.4zM479.1 156.7h0.8v1.1h-0.8zM477.1 200.7h1.1v0.9h-1.1zM477.8 152.8h1.4v1.4h-1.4zM478.1 176.9h1v1.2h-1zM484.4 218.5h1.1v1.4h-1.1zM484.7 223.6h0.8v1.5h-0.8zM487.8 222.2h0.8v1.1h-0.8zM488.2 221.5h0.8v1h-0.8zM485.1 237.6h1.3v1.4h-1.3zM485.9 240.3h1.3v1.1h-1.3zM484.5 240.4h1.4v0.8h-1.4zM486.2 246.3h1.2v0.8h-1.2zM485.2 235.1h1.1v1.3h-1.1zM492.5 200.7h1.1v1.1h-1.1zM496.7 208.9h0.8v1.1h-0.8zM493.3 195.9h0.7v1.5h-0.7zM496.9 206.4h1.2v0.9h-1.2zM496.5 208.9h0.8v1.4h-0.8zM492.4 203.2h1.2v0.8h-1.2zM492.1 208.7h1.1v1.3h-1.1zM491.8 220h1.2v1.2h-1.2zM496.6 192.6h0.9v0.9h-0.9zM492.6 201h1.1v1.6h-1.1zM498.8 218.1h0.8v1h-0.8zM498.7 155.1h1.1v0.9h-1.1zM499.2 192.7h1v0.9h-1zM499.1 203.8h1v0.9h-1zM501.7 188.6h0.7v1.2h-0.7zM502 198.1h1.1v1.6h-1.1zM501.9 160h0.9v1h-0.9zM501.7 185.7h0.8v1.2h-0.8zM499.1 209.6h1v0.9h-1zM501.9 201.3h1.1v1.2h-1.1zM501.4 162.3h1.1v1.3h-1.1zM501.7 154.7h1.2v1.1h-1.2zM499.2 172h1.1v0.8h-1.1zM499.1 153.9h0.7v1h-0.7zM498.7 160.6h1.1v1.5h-1.1zM501.5 194.8h0.9v1h-0.9zM501.6 193.6h0.9v1.1h-0.9zM499.3 159.6h0.8v1.2h-0.8zM501.7 214h1.2v1.4h-1.2zM499.2 194.3h1v1h-1zM501.9 203.7h1.2v1.1h-1.2zM501 226.8h1.1v0.8h-1.1zM501 224h1.3v1.3h-1.3zM499.9 225.2h1v1.2h-1zM506.8 221.4h0.8v1.3h-0.8zM510.3 221.7h0.8v0.9h-0.8zM510.2 218.5h0.8v1.2h-0.8zM506.6 237.4h1.3v1.2h-1.3zM506.7 233.8h1v1.4h-1zM506.8 246.2h1v1.1h-1zM508.4 232.7h1.1v1.3h-1.1zM508.6 234.9h1.2v1.3h-1.2zM507.3 239.2h1.1v1.3h-1.1zM508.5 243.4h1.2v1.2h-1.2zM507 235.5h1.4v0.8h-1.4zM517.5 224.6h1v1.1h-1zM514.3 207.5h0.9v1.6h-0.9zM518.6 215h0.8v1h-0.8zM518.8 208.7h0.9v1.4h-0.9zM514.6 216.1h1v1.4h-1zM514.6 207.6h0.8v1.3h-0.8zM518.7 205.1h1.1v1.6h-1.1zM521.2 161.9h1v1h-1zM523.5 194.7h1.2v0.8h-1.2zM523.8 200.4h0.8v1.1h-0.8zM523.8 164.3h1v1.3h-1zM521.1 181.8h0.7v1.1h-0.7zM523.9 220.8h0.8v1h-0.8zM523.6 177.2h1.1v0.9h-1.1zM521.1 170.7h0.9v1h-0.9zM524.2 172.1h0.8v0.9h-0.8zM524 195.8h0.8v1h-0.8zM521.4 195h0.9v0.9h-0.9zM520.9 177.7h1.2v1h-1.2zM523.6 177.3h0.9v1.5h-0.9zM521.2 178.9h0.9v1h-0.9zM523.9 222.4h1.1v1.1h-1.1zM523.8 172.4h1v1.5h-1zM521.2 201.9h0.7v1h-0.7zM523.8 208h1v0.9h-1zM520.9 177.7h1.1v1.4h-1.1zM521.2 176.2h0.9v0.8h-0.9zM523.9 156h0.7v1.4h-0.7zM521.1 161.6h1.1v1.2h-1.1zM524.1 161.6h1.2v1.4h-1.2zM521.3 205.7h1v1.1h-1zM523.7 164.7h1.1v1.3h-1.1zM522.1 224h1.2v1.5h-1.2zM522.6 228.9h1.1v1.2h-1.1zM521.5 229.1h1.2v1.1h-1.2zM528.6 232.1h0.7v1.4h-0.7zM528.2 229.2h1.1v1.1h-1.1zM532.1 220.8h0.9v1.1h-0.9zM528.2 228.1h1v0.9h-1zM532 231.1h1v1.3h-1zM532.5 218h1.2v1.2h-1.2zM532.1 217.8h0.9v1.3h-0.9zM531.1 235.7h1.3v1.1h-1.3zM530.7 235.1h1v1.3h-1zM529 246.3h1.2v1.2h-1.2zM540.9 209.7h0.9v1.4h-0.9zM541.8 200.6h0.8v1.3h-0.8zM539.6 222.8h0.8v1.6h-0.8zM541.5 202.5h0.8v1h-0.8zM536.2 220.3h1v1.1h-1zM541.1 206.5h0.8v1h-0.8zM536.6 200.5h1v1.5h-1zM536.2 224.3h1.1v1.3h-1.1zM540.5 219.1h0.7v1.3h-0.7zM539.7 221.1h1.1v1.6h-1.1zM536 226.2h1.1v1.3h-1.1zM543.2 219.1h0.8v1.2h-0.8zM545.8 157.8h1v1.1h-1zM543.1 168.1h0.9v1h-0.9zM543 190.4h0.8v1.4h-0.8zM545.8 193.3h1.1v1h-1.1zM546.2 199.6h0.8v1.1h-0.8zM546 154.4h0.7v1h-0.7zM546.2 219h0.8v0.9h-0.8zM542.7 152.7h1v1h-1zM545.7 155.7h1.2v0.8h-1.2zM543.2 184h0.7v1.3h-0.7zM543 210.1h1v1.1h-1zM543.2 174.4h1v1.6h-1zM542.8 171.7h1.2v1.6h-1.2zM546.3 155.3h1.2v1.5h-1.2zM542.7 189.9h1.1v1.2h-1.1zM542.9 221.3h0.9v1.2h-0.9zM543.2 173h1.1v1.1h-1.1zM543 171h0.8v0.9h-0.8zM546 220.8h1v1.1h-1zM544.3 227.5h1.4v0.8h-1.4zM554 220.4h1.2v1.3h-1.2zM553.9 233.3h1v1.4h-1zM554.1 225.2h1.1v1h-1.1zM554 235.4h1.2v1h-1.2zM550.5 232.5h1v1.2h-1zM550.7 229.6h1.1v1.3h-1.1zM554.2 225.9h1v1.5h-1zM550.9 225.3h0.8v1.5h-0.8zM550.7 235.9h1.2v1.2h-1.2zM551.1 244.2h1.3v1.1h-1.3zM550.8 236.1h0.9v0.9h-0.9zM562.4 219.9h1.1v1.3h-1.1zM558.7 210.6h0.9v1.1h-0.9zM563.6 203.4h0.8v1h-0.8zM558.7 196.6h1.1v1.6h-1.1zM561.8 223.8h0.8v1.5h-0.8zM558.4 210.1h1v1.3h-1zM561.5 224.7h0.9v1.2h-0.9zM559.1 195.2h1v0.9h-1zM559.1 197.1h1.1v1.2h-1.1zM563.2 211.1h0.8v1.2h-0.8zM558.3 200.1h0.9v1.1h-0.9zM563.6 199.4h1v0.9h-1zM558.5 197.1h1.2v1.4h-1.2zM558.6 212.2h1.2v1.2h-1.2zM568.4 212.9h1.1v1h-1.1zM568.1 192.2h1.2v1.2h-1.2zM568.2 190.2h0.9v1.3h-0.9zM568 223.4h0.9v1.1h-0.9zM564.8 220.1h0.9v0.9h-0.9zM568.6 205h0.8v1h-0.8zM567.9 219.4h0.9v1.4h-0.9zM568.2 178.7h1v1h-1zM568.1 156.8h1.2v1h-1.2zM568.2 178.6h0.7v0.9h-0.7zM568.4 215h0.8v1.6h-0.8zM564.8 189h1.1v1.1h-1.1zM565 223.8h1v1h-1zM568 186.9h0.7v1.2h-0.7zM565.7 230.7h0.9v1.2h-0.9zM572.8 229.6h0.8v1.1h-0.8zM572.6 220.4h1.2v1.5h-1.2zM576 224.3h1.1v1.5h-1.1zM572.8 217.7h1.1v1.2h-1.1zM576.1 226.7h1.1v1.4h-1.1zM576.4 220.6h0.9v1h-0.9zM576.8 224.4h0.8v1.2h-0.8zM576.2 221.8h1.1v1.4h-1.1zM575.2 236.7h1v1.1h-1zM573 240.9h1v1.3h-1zM574.8 236.6h0.8v1.1h-0.8zM581.7 191.4h0.9v0.9h-0.9zM585.5 194.4h1.2v0.9h-1.2zM580.4 200.8h0.9v1h-0.9zM584.6 216.6h0.9v1h-0.9zM580.3 204.7h1.1v1.6h-1.1zM580.7 202.5h0.9v0.9h-0.9zM580.3 214.2h1v1.6h-1zM585.5 194.1h1.2v1h-1.2zM585 214h0.9v1h-0.9zM580.5 214h0.8v1h-0.8zM585.3 208.5h1.1v1.5h-1.1zM590.6 224.9h0.9v1.1h-0.9zM587.2 161h0.9v0.9h-0.9zM590.3 165.4h1v1.3h-1zM589.9 191.5h1v1.5h-1zM587.2 201h1.1v1.4h-1.1zM587 206.3h1.2v0.8h-1.2zM590.5 165.6h0.8v0.9h-0.8zM589.9 176.3h1.1v1.2h-1.1zM590.6 221.2h0.9v1.1h-0.9zM586.9 203.3h1v1.6h-1zM590.5 209.8h0.7v1h-0.7zM586.9 175.6h1v0.8h-1zM590.1 213.4h0.8v0.9h-0.8zM590.5 168.7h0.8v1.6h-0.8zM590.3 210.9h0.9v0.8h-0.9zM587.4 157.1h0.9v1.4h-0.9zM587.3 214.5h0.9v0.9h-0.9zM589.1 233.9h1.2v1.2h-1.2zM588.2 232.9h1.4v1.3h-1.4zM589 229.5h1.2v1.1h-1.2zM588.8 227.8h1.1v0.9h-1.1zM588.3 235.4h1.2v1.3h-1.2zM588.5 227h1v1.2h-1zM587.6 230.1h1.3v1.4h-1.3zM598.3 227.9h0.9v1.1h-0.9zM598.1 236.6h0.9v1.1h-0.9zM594.6 228h0.8v0.8h-0.8zM594.9 228.6h0.7v1.3h-0.7zM594.8 226.9h0.8v1.3h-0.8zM597.3 239.2h1v1.2h-1zM595 248.9h1.2v1.3h-1.2zM595.9 248.5h1.3v1.1h-1.3zM595.6 248.2h0.8v1.2h-0.8zM595.2 243.1h1.1v1.3h-1.1zM594.9 241.7h1.3v1.4h-1.3zM602.4 221.3h1.2v1.1h-1.2zM608.3 198h0.9v1.2h-0.9zM602.7 223.9h0.8v0.9h-0.8zM602.6 197h1.1v1.1h-1.1zM602.3 206.6h0.8v1.1h-0.8zM602.8 203h0.7v1.5h-0.7zM603.8 193.4h1v1.4h-1zM606.2 219.2h0.9v0.8h-0.9zM602.5 218.6h0.9v0.9h-0.9zM607.3 190.8h0.8v1h-0.8zM602.4 224.3h1v0.9h-1zM602.8 198.4h0.9v1.3h-0.9zM602.6 215h0.8v1.2h-0.8zM603.1 197.5h0.9v1.3h-0.9zM609.2 196.1h0.7v1h-0.7zM612.1 184.3h0.9v1.3h-0.9zM609.1 184h1v1.1h-1zM612.6 171.2h1.1v1.6h-1.1zM608.9 162.9h1.1v1.6h-1.1zM609.1 220.2h0.9v1h-0.9zM609.1 162.4h0.8v1.1h-0.8zM608.8 189.8h1.1v1.5h-1.1zM609.2 219.1h0.9v1.3h-0.9zM612 155.7h1.2v1.5h-1.2zM612 185.3h0.9v1.3h-0.9zM608.8 160.7h1.2v1.1h-1.2zM612.4 184.4h0.7v0.9h-0.7zM612.1 192.5h1.1v1.2h-1.1zM609.3 197.8h1.1v1.2h-1.1zM609 217.2h0.9v1.4h-0.9zM611.2 226.3h1.3v0.8h-1.3zM610.6 225.5h1v1h-1zM610.6 228.3h1.3v1.3h-1.3zM616.2 234.4h0.8v0.9h-0.8zM620.3 219.2h1.2v1.2h-1.2zM620.8 224.8h0.9v0.9h-0.9zM616.6 235h1.1v1.2h-1.1zM616.8 229.5h0.8v1h-0.8zM620.4 220h1v1.1h-1zM620.1 236.5h1v1.5h-1zM618.6 237.4h1.4v1.5h-1.4zM617.2 246.2h1.4v0.8h-1.4zM618.3 246.2h0.9v1.3h-0.9zM624.4 202.8h1.1v1.2h-1.1zM629.5 191.5h1v0.9h-1zM625.3 196.6h0.9v1.6h-0.9zM628.8 215.3h0.8v1.5h-0.8zM628.4 224h1.1v0.8h-1.1zM628.8 216h1v1.1h-1zM629.5 192h0.9v0.9h-0.9zM625.1 196.3h1.2v1h-1.2zM624.4 201.1h1v1h-1zM629.2 207.3h1.1v1.5h-1.1zM626.1 191.6h1v1.2h-1zM624.3 204.1h1.2v1.2h-1.2zM628.6 215.4h0.9v0.9h-0.9zM624.5 212.9h1v1.3h-1zM634.7 205.7h0.9v0.9h-0.9zM631.1 152.2h0.7v1.4h-0.7zM631.1 173h0.8v1h-0.8zM634.5 167.1h1v1.5h-1zM631.2 181.8h1v1h-1zM634.6 220.6h0.8v1.5h-0.8zM631.7 156.3h0.8v1.3h-0.8zM631.4 207.2h1v0.9h-1zM634.2 179.5h1.1v1.4h-1.1zM631.4 207.7h1.1v0.8h-1.1zM634.7 199h1.1v1.6h-1.1zM630.9 202.8h1.1v1.5h-1.1zM634.6 165.1h0.8v1h-0.8zM634.4 188.4h0.7v0.9h-0.7zM631 206.2h1v1h-1zM631.2 222.8h0.8v1.5h-0.8zM634.6 191.6h1.1v0.9h-1.1zM634.4 172.4h1v0.9h-1zM634.6 162h0.8v1.2h-0.8zM633.1 234.5h1.2v1.1h-1.2zM642.6 225.5h1.1v0.9h-1.1zM639.1 223.2h1v1h-1zM642.7 220h1v1.1h-1zM642.3 230.8h0.8v1h-0.8zM642.3 225.1h0.9v1.3h-0.9zM642.2 232.8h0.9v1.2h-0.9zM639.5 238.6h1.4v1.2h-1.4zM641.4 239.8h1v1.3h-1zM639.9 245.9h1.1v1.2h-1.1zM646.4 220.9h0.7v0.8h-0.7zM646.4 218.1h1v1.3h-1zM646.8 209h0.7v1.1h-0.7zM646.4 207.1h0.9v0.8h-0.9zM651.2 208.4h1.1v1.1h-1.1zM650.5 217.6h1v0.9h-1zM646.8 224.4h0.9v1.3h-0.9zM646.8 210.5h0.8v1.2h-0.8zM650.6 218h0.7v1.2h-0.7zM651.6 192.1h0.8v1.3h-0.8zM651.7 207.4h0.9v1.6h-0.9zM656.8 159.2h1v1.3h-1zM656.5 176.7h1.1v1.2h-1.1zM656.5 179.6h1.2v1.3h-1.2zM656.3 184.2h1.1v1.1h-1.1zM656.3 210.2h0.8v0.8h-0.8zM656.7 155.2h1.2v0.9h-1.2zM653.7 161.5h0.7v1.5h-0.7zM653.1 197.4h1.1v1.3h-1.1zM653.5 192.3h1.1v1.1h-1.1zM656.4 167h1.2v1.3h-1.2zM656.2 215h1.1v0.8h-1.1zM656.5 184.9h1v1.3h-1zM653.1 158.4h0.9v1.2h-0.9zM653.1 184.1h0.8v1.4h-0.8zM653.5 154.2h1v1.2h-1zM653.6 215.1h1.1v1.1h-1.1zM653.2 165.6h1.1v0.9h-1.1zM656.5 191.2h1v1h-1zM653.5 162.2h0.9v1.6h-0.9zM655.2 224.8h1.1v1.4h-1.1zM655.3 225.1h1v0.9h-1zM170.4 606.3h3v2.6h-3zM190.8 606.3h3v2.6h-3zM211.2 606.3h3v2.6h-3zM231.5 606.3h3v2.6h-3zM251.9 606.3h3v2.6h-3zM272.3 606.3h3v2.6h-3zM292.7 606.3h3v2.6h-3zM312.2 613.4h1v0.9h-1zM313.9 620.7h0.9v1.4h-0.9zM314.4 617.2h0.9v1.4h-0.9zM314.2 615.6h1.2v1h-1.2zM313.6 622.8h1.2v1h-1.2zM314.5 617.7h1v1.1h-1zM313.6 619h1.3v0.9h-1.3zM331.5 589.4h1.1v1.5h-1.1zM328.9 570.2h0.7v1.2h-0.7zM329 546.5h0.8v1.2h-0.8zM328.8 557.6h1v1.2h-1zM331.8 584.4h1.2v1.6h-1.2zM331.9 586.8h0.8v0.8h-0.8zM332 584.9h1.1v0.9h-1.1zM329.1 560.3h1.1v0.9h-1.1zM328.3 571.9h1.1v0.8h-1.1zM328.6 563.6h0.9v0.9h-0.9zM328.1 588.8h1.2v1.5h-1.2zM329.3 597.4h0.9v1.1h-0.9zM329.2 595.1h1.1v1.4h-1.1zM330.4 594.2h0.8v1.3h-0.8zM332.7 615.6h1.1v0.8h-1.1zM335.6 615.6h1.1v1.6h-1.1zM332.9 617.1h1.3v1.3h-1.3zM334.8 621.8h0.8v1.4h-0.8zM334.9 623h1v0.9h-1zM334.6 630.6h0.8v1h-0.8zM339.9 569.6h1.2v1.4h-1.2zM340.1 599.1h0.9v1.4h-0.9zM342.9 576.4h0.9v1h-0.9zM342.9 602.8h1.2v1.2h-1.2zM342.6 571.1h1.1v1.4h-1.1zM340.3 601.5h0.8v1h-0.8zM342.7 567.5h0.7v1.3h-0.7zM340.6 581.6h0.8v1.3h-0.8zM340.5 582.9h0.9v0.9h-0.9zM340.3 567.2h0.7v0.9h-0.7zM343 604.5h0.9v1h-0.9zM342.8 601.3h1.1v1h-1.1zM342.7 587.4h1.1v1.5h-1.1zM342.5 587.6h1.2v1h-1.2zM341.6 611.8h1.1v0.9h-1.1zM341.5 618h1.2v1.4h-1.2zM341.9 609.8h1v1.2h-1zM341.9 626.3h1.2v1.3h-1.2zM340.6 614.6h1.3v1.1h-1.3zM348.9 580.1h0.9v1.2h-0.9zM349.6 565.8h1v1h-1zM352.4 547h0.8v1.3h-0.8zM349.5 547h1.1v0.8h-1.1zM349.3 552.9h1v1.4h-1zM352 548.5h1.1v0.9h-1.1zM352.3 552.3h0.9v1.3h-0.9zM349.6 555.8h1.2v1.2h-1.2zM348.6 594.6h0.8v1.1h-0.8zM349.9 608h0.9v0.9h-0.9zM349.2 596.2h1v1.1h-1zM349.6 602.7h0.9v1.3h-0.9zM352.9 613.9h1v1.5h-1zM356.6 615.7h0.9v1.4h-0.9zM354.7 628.5h1.4v0.9h-1.4zM353.4 618.3h1.1v1.3h-1.1zM360.9 562.5h0.9v1.3h-0.9zM360.5 599.1h0.8v1h-0.8zM360.5 565.8h1v1.2h-1zM363.1 579.2h1v1h-1zM363.2 600.5h0.7v0.9h-0.7zM360.6 579.4h0.8v1h-0.8zM363.1 566h0.9v1.6h-0.9zM360.2 580.9h1.2v0.9h-1.2zM363.3 578.7h0.9v0.9h-0.9zM361 575.2h0.7v1.1h-0.7zM360.4 569.3h0.9v1.2h-0.9zM360.4 594.9h0.9v1.6h-0.9zM360.8 567.2h1.1v1.4h-1.1zM360.8 600.3h0.7v1.2h-0.7zM360.9 575.3h0.7v1h-0.7zM362.8 584.2h1.1v0.9h-1.1zM362.2 621h1.1v1.3h-1.1zM361.6 625.8h1.4v1.1h-1.4zM361.9 624h0.9v1h-0.9zM361.6 621.1h1v1.3h-1zM361.6 619h1v1h-1zM361 610.9h1.2v1.4h-1.2zM372.2 562.3h0.9v1.3h-0.9zM373.1 588.6h0.8v1.1h-0.8zM369.8 563.4h0.9v1.2h-0.9zM369.3 575.7h1v0.9h-1zM369.7 556.9h0.7v1h-0.7zM368.6 580.9h1.2v1.3h-1.2zM372.8 578h1.1v1.4h-1.1zM369.5 572.5h1.2v1.4h-1.2zM368.6 593h0.9v1.4h-0.9zM372.7 576.4h0.8v1.3h-0.8zM372.8 594.2h1v1.2h-1zM372.5 551.2h1.2v1.1h-1.2zM372.1 554h1.1v1.5h-1.1zM370 558h0.9v1.1h-0.9zM368.7 593.3h1.1v1.1h-1.1zM371.2 601.4h1.1v1.1h-1.1zM369.8 608.1h1v0.9h-1zM373 618.2h1.1v1.1h-1.1zM373.5 617.9h0.9v0.9h-0.9zM374.4 632.3h1v1.2h-1zM383.7 582.2h1.1v1.4h-1.1zM381.3 570h1v1.2h-1zM383.4 610.3h1.2v1.4h-1.2zM380.7 563.6h1.2v1.2h-1.2zM383.8 608.5h1.2v1.5h-1.2zM383.6 583.9h1.1v1h-1.1zM383.4 583.1h1v1.4h-1zM380.8 583.2h1v0.8h-1zM381 588.5h0.7v1.5h-0.7zM383.4 607.9h0.8v1.2h-0.8zM381.1 611.1h1.1v1h-1.1zM380.6 568.6h1v1.5h-1zM380.8 579.9h1.1v1.1h-1.1zM380.6 607h0.9v1.4h-0.9zM382.5 617.5h1v1.1h-1zM381.9 619.6h0.9v1.4h-0.9zM382.1 627.1h1v1.1h-1zM382.3 624.5h1.1v1.4h-1.1zM382.8 625.4h1.1v0.9h-1.1zM392.5 571.3h1.1v0.9h-1.1zM393 574.7h0.9v1.5h-0.9zM389.6 580.7h0.9v1.5h-0.9zM388.9 602.1h0.8v0.9h-0.8zM393.2 580.3h1v1.3h-1zM389 587.3h0.9v1h-0.9zM390 558h1.1v1.2h-1.1zM393.2 572.4h1.1v1.4h-1.1zM390.1 550.2h1v1.1h-1zM390.3 551.5h1.1v1.1h-1.1zM392.9 581.2h1.1v1.5h-1.1zM389.9 551.3h1.1v1.3h-1.1zM393.4 579.2h0.8v1.1h-0.8zM390 560.1h0.8v1.5h-0.8zM392.9 575.3h0.9v0.9h-0.9zM389.8 574.7h0.8v1.1h-0.8zM389.8 565.1h1v1.2h-1zM389.8 605.9h1.1v1.2h-1.1zM391.4 604.7h1.4v1.4h-1.4zM394.1 611.3h0.7v1.1h-0.7zM394 609h1.1v1.5h-1.1zM397 618.6h1.1v1.5h-1.1zM394.2 610h1.1v1h-1.1zM397.3 610h0.8v0.8h-0.8zM395.3 625h0.8v1.1h-0.8zM395.2 632.4h0.8v0.9h-0.8zM394.9 622.7h1.1v0.9h-1.1zM401.1 582.6h1v1.1h-1zM401.5 586.4h0.9v1h-0.9zM403.9 571.3h0.8v0.9h-0.8zM401.6 607.1h1v1.5h-1zM401.3 602.4h0.9v1.3h-0.9zM401.5 563.8h1.2v1.4h-1.2zM403.7 594.6h1.1v1.1h-1.1zM403.8 579.7h0.9v1.4h-0.9zM404.4 568.7h0.8v1.1h-0.8zM404.2 573.8h1.2v1.6h-1.2zM401.4 577.2h1.1v0.8h-1.1zM401 579.7h1.1v1h-1.1zM401.5 588.4h1v1.5h-1zM404.2 563.1h1v1.2h-1zM401 608.2h1v1.2h-1zM401.4 559.3h1v1.4h-1zM403.8 589h1.2v1h-1.2zM401.1 608.4h1v0.9h-1zM402.2 624.4h1.1v1.3h-1.1zM403.4 623.4h0.8v1.4h-0.8zM402.1 629.2h1.2v1.4h-1.2zM403.1 616.3h1.2v1h-1.2zM410.6 552.8h0.9v1h-0.9zM410.3 572.1h1v0.8h-1zM410.4 564h0.9v1.6h-0.9zM413.6 603.7h0.9v1.3h-0.9zM409.8 582.4h0.9v1.5h-0.9zM413.4 597.9h0.9v1.3h-0.9zM410.2 574.9h0.8v0.9h-0.8zM410.1 572.9h0.8v1.4h-0.8zM409.6 581.9h1.1v1.3h-1.1zM413.4 593.1h0.8v1.5h-0.8zM413 564.1h1.2v1.1h-1.2zM413.6 549.5h0.8v1h-0.8zM413.7 585.1h1.1v1.4h-1.1zM413.4 576.2h0.8v1.6h-0.8zM409.2 596h0.9v1.2h-0.9zM410.2 564h0.8v1.5h-0.8zM409.5 586.3h1v1.6h-1zM412.1 606.7h1.1v0.9h-1.1zM410.7 614.2h1.1v1.2h-1.1zM412.1 613.1h0.8v0.9h-0.8zM412.1 613.4h0.9v1.3h-0.9zM412.3 608.3h1v1.5h-1zM414.1 614.6h1.2v1.1h-1.2zM414.1 612.5h1v1.2h-1zM418.1 609.2h1v1.1h-1zM417.9 609.9h1v1.5h-1zM413.6 619.1h1.1v1.2h-1.1zM414.1 621.9h1v1.1h-1zM415.9 630.8h1.2v1.3h-1.2zM414.4 627.4h1.3v1.3h-1.3zM415.8 623.2h1.3v1.1h-1.3zM422.1 579.6h0.9v1.3h-0.9zM424.5 579.7h1.2v1.2h-1.2zM424.3 581.3h1v1h-1zM424.5 611.8h1.1v1.4h-1.1zM421.8 570.7h1.1v1.4h-1.1zM424.7 564.9h1.1v1.3h-1.1zM421.9 598.1h1v1.3h-1zM421.8 614.5h0.9v0.9h-0.9zM421.4 608.8h0.9v1h-0.9zM424.2 609.8h1v1.4h-1zM421.6 574.6h0.7v1.1h-0.7zM424.6 609.6h0.9v1.1h-0.9zM424.5 582.9h1v1.3h-1zM424.6 566.7h1.1v1.6h-1.1zM424.4 583.6h1.2v1.1h-1.2zM424.6 573.6h0.8v1.3h-0.8zM421.7 575.2h1.1v1.5h-1.1zM424 572.1h1.2v1.3h-1.2zM422 620.5h1.3v1h-1.3zM422.2 616h1v1.4h-1zM423.6 628.6h1.2v1h-1.2zM422.4 627.1h1v1.1h-1zM422.9 628.2h1.1v1h-1.1zM422.3 616.6h1.3v1.2h-1.3zM431.2 552.9h0.8v1.4h-0.8zM433.5 561.3h0.9v1.6h-0.9zM434.4 593h0.8v1.2h-0.8zM433.6 567.2h1v1.4h-1zM434.2 576.4h0.8v1.5h-0.8zM430.6 571h0.7v1h-0.7zM430.6 572.5h0.9v1.2h-0.9zM430.8 564.1h1.1v1h-1.1zM430.8 545.8h1.2v1.3h-1.2zM430.5 575.4h0.8v1.2h-0.8zM433.8 555.9h1.1v1.1h-1.1zM433.6 545.1h1.1v1.1h-1.1zM433.9 582h1v1.6h-1zM430.6 557h1v1h-1zM434 564.9h0.9v1.3h-0.9zM433.8 601.5h1.1v1h-1.1zM434.2 586h1v1.4h-1zM430.4 573.8h0.8v1.1h-0.8zM431.2 610.3h0.8v0.8h-0.8zM431.7 613.3h1v1.1h-1zM431.2 614.2h1v1h-1zM434.2 620.1h0.9v1.3h-0.9zM434.5 621.7h0.7v0.9h-0.7zM433.9 620.5h1.2v1.2h-1.2zM434.6 617.2h1v1.2h-1zM437.9 621.6h1.1v1h-1.1zM434.6 634.9h1.4v1.3h-1.4zM434.9 627.4h1.3v1.1h-1.3zM436.5 630.1h1.2v1.2h-1.2zM435.4 629.4h1.3v0.9h-1.3zM442.2 589h0.9v0.8h-0.9zM441.9 583.5h1v0.9h-1zM444.8 613h1.1v1.1h-1.1zM442 565.2h0.8v1.5h-0.8zM444.7 593.7h1.1v1.4h-1.1zM442.2 574.8h0.9v1.5h-0.9zM444.9 607.4h1.1v1.1h-1.1zM442.2 614.1h1.1v1.4h-1.1zM444.8 591.2h1.1v1.1h-1.1zM441.7 615.1h1.1v1.5h-1.1zM442.1 570.8h1.1v0.8h-1.1zM441.7 593.2h1.1v0.9h-1.1zM445.1 567.1h0.9v1h-0.9zM444.7 563.7h1v1.6h-1zM444.5 608.3h1.1v0.8h-1.1zM442.2 568.8h0.8v1.3h-0.8zM444.1 625.6h0.8v1.3h-0.8zM443.2 625.6h1.3v1.1h-1.3zM451.3 545.2h1.2v1.6h-1.2zM450.8 573.8h1.1v1.2h-1.1zM450 582.4h0.8v1.2h-0.8zM454.3 589.9h1.2v1.1h-1.2zM454.7 611.8h0.9v0.9h-0.9zM450.1 603.3h0.9v1.3h-0.9zM451.3 551.5h1v1.2h-1zM450.3 598.6h0.7v1.1h-0.7zM451.3 567.1h1.1v0.8h-1.1zM454.5 583.8h0.7v1h-0.7zM453.7 559.2h1v1.3h-1zM450.4 580h0.9v1.4h-0.9zM454.9 588.7h1.1v0.9h-1.1zM454.4 588.3h1v0.9h-1zM454.5 581.2h1.1v1.5h-1.1zM450.4 611h0.9v1.2h-0.9zM454 560.5h0.7v1h-0.7zM454.1 566.6h1.1v0.9h-1.1zM450.7 573.4h0.9v1.2h-0.9zM454.6 578.2h0.9v1.4h-0.9zM454 552.5h1.2v1.4h-1.2zM450.8 567.9h1.1v1.5h-1.1zM451.2 548.7h0.9v0.9h-0.9zM454.1 576.5h1.2v0.9h-1.2zM453 619.2h1.2v1.2h-1.2zM451.6 620.8h1v1.2h-1zM451.4 612.1h1v1.5h-1zM451.1 619.7h1.3v1.5h-1.3zM452.6 620.8h1.2v1.3h-1.2zM454.8 611.6h1v1.1h-1zM458.5 607.6h1.2v1.4h-1.2zM455.3 608.6h1v1.4h-1zM458.5 621.2h0.7v0.9h-0.7zM456.8 633.6h1v0.9h-1zM455.1 627.7h0.8v1.1h-0.8zM456.9 634.2h0.9v1.2h-0.9zM457 636.6h1.1v1.5h-1.1zM462.5 592.4h0.8v1.2h-0.8zM462.6 558.9h1.2v1.4h-1.2zM465.5 604.7h1.2v1.4h-1.2zM465.5 583.1h1.1v1.6h-1.1zM462.8 560.5h0.9v1.5h-0.9zM462.5 584.1h1.1v1.5h-1.1zM465.1 602.2h0.8v1.5h-0.8zM462.4 598.6h1.1v1h-1.1zM464.9 565.4h0.9v1.1h-0.9zM465.2 579h0.9v1.4h-0.9zM462.4 560.2h0.7v0.9h-0.7zM465.7 603.8h0.9v1.2h-0.9zM465.4 569.6h1.2v1.2h-1.2zM465.3 577.8h1.1v1.2h-1.1zM462.6 560.3h0.9v1.4h-0.9zM465.1 597.9h1.1v1.3h-1.1zM462.2 593.6h1v1.5h-1zM465.5 590.7h1.1v1.2h-1.1zM462.1 579.2h1.1v1.1h-1.1zM465.4 609.1h1v1h-1zM462.5 604.1h1.2v1.6h-1.2zM462.3 563h1.1v1.3h-1.1zM465.5 572.6h1.1v0.9h-1.1zM463.1 621.3h1.3v1.4h-1.3zM463.5 620.7h1v1.3h-1zM462.9 621.9h1v1h-1zM464.3 625.7h1.3v1.4h-1.3zM464.1 634.9h1.2v1h-1.2zM475 590.4h1v1.5h-1zM470.2 609.8h1.1v1.1h-1.1zM470.7 582.2h0.7v1.1h-0.7zM471.8 547h1.1v1.1h-1.1zM474.9 589h1v1.2h-1zM474.3 553.3h0.9v1.2h-0.9zM475.1 589.2h0.9v1.2h-0.9zM471 587.7h0.7v1.1h-0.7zM474.9 600.9h0.9v1.3h-0.9zM471.6 574.5h0.9v1.3h-0.9zM474.5 566.4h1.2v1.5h-1.2zM470.9 597.1h0.7v1.5h-0.7zM474.3 554.1h0.9v1.4h-0.9zM471.4 545.4h1.2v1.4h-1.2zM475.3 589.8h1v1.4h-1zM471.7 612.3h1.3v1.4h-1.3zM472.5 615.6h1.1v0.9h-1.1zM471.9 615.1h1.1v0.8h-1.1zM478.8 623.4h1v1.3h-1zM478.8 618.1h0.8v1.2h-0.8zM478.7 622.6h0.8v1.5h-0.8zM475.1 617.5h0.9v1.1h-0.9zM475.2 621.1h0.9v1h-0.9zM478 627.6h1.1v0.8h-1.1zM477.5 630.7h0.9v1.1h-0.9zM477.5 626.7h0.9v1.1h-0.9zM482.5 584.3h0.8v0.9h-0.8zM482.9 579.2h0.9v1.5h-0.9zM483 585h1.1v1.5h-1.1zM483.2 621.2h0.8v1h-0.8zM482.9 609.8h1.1v1.1h-1.1zM485.7 621.2h1v0.9h-1zM482.8 571.1h0.7v1.4h-0.7zM482.7 559.8h0.8v1.4h-0.8zM485.8 562.4h0.7v1.3h-0.7zM485.9 574.9h0.9v1.4h-0.9zM482.5 615.5h0.9v1.1h-0.9zM483.1 604.5h0.8v1.2h-0.8zM483.1 581.3h0.8v1.1h-0.8zM486 572.4h0.9v1.5h-0.9zM483.2 560.2h0.8v1.2h-0.8zM482.8 614.6h1.1v1.5h-1.1zM485.5 594.3h1.1v1.1h-1.1zM485.6 593.5h1v0.9h-1zM484.7 623.3h1.3v1.4h-1.3zM495.3 607.8h1.2v0.8h-1.2zM491.8 556.4h0.9v1.3h-0.9zM495 557.4h0.7v1.1h-0.7zM490.9 581.8h1.2v1h-1.2zM491.8 575.2h1.1v1.1h-1.1zM495.2 594.1h1.1v1.5h-1.1zM494.7 557.8h1.1v1.2h-1.1zM495 605.4h1.1v1.4h-1.1zM492.1 573.9h0.8v1.2h-0.8zM491.9 563.4h0.9v1.4h-0.9zM495.5 582.1h0.8v1.1h-0.8zM490.9 600.1h1v1h-1zM495.5 594.4h1.1v0.9h-1.1zM491.2 601.7h0.9v1.3h-0.9zM492 550.5h1.1v0.9h-1.1zM491 599.8h1.1v1.5h-1.1zM491.7 555.4h1v1h-1zM493.7 612.8h1.3v1.2h-1.3zM493.1 615.4h1.3v1h-1.3zM492.7 615.4h0.9v1.1h-0.9zM492.4 618.3h1.4v1h-1.4zM495.7 614.5h1.1v0.9h-1.1zM495.8 623.4h0.9v1.4h-0.9zM495.6 609.4h0.7v0.9h-0.7zM495 623.4h1.1v1.2h-1.1zM495.9 610h0.9v0.8h-0.9zM499.4 608.4h1.2v1.2h-1.2zM499.5 615.5h1v1.4h-1zM496.1 608h0.9v1.1h-0.9zM496 637h1.3v1.5h-1.3zM496.7 630.8h0.9v1.1h-0.9zM496.1 630.3h0.9v1.5h-0.9zM503 566.5h1v1.4h-1zM506.4 561.9h0.9v1.2h-0.9zM505.8 569.5h1.1v1.1h-1.1zM506.2 609.5h0.9v1.4h-0.9zM503.5 621.1h0.9v1.1h-0.9zM505.8 572.1h1.1v1.3h-1.1zM506.3 619.7h0.7v1.3h-0.7zM506.1 578.1h0.9v1.4h-0.9zM505.9 587.4h0.8v0.8h-0.8zM503 576.6h1.1v1.1h-1.1zM505.8 612.6h0.9v0.8h-0.9zM503.1 617.4h1v1.5h-1zM505.9 560.6h0.8v1.4h-0.8zM506.2 573.4h0.9v1.2h-0.9zM505.5 629.5h1v1.1h-1zM504.2 626.6h1.3v0.8h-1.3zM504.7 629.9h0.8v1.1h-0.8zM510.7 605.5h1.2v1.3h-1.2zM511.3 596.7h0.9v1.1h-0.9zM512.4 569.8h0.9v1.1h-0.9zM512.8 552.1h1v1.1h-1zM515.4 560.5h0.9v0.8h-0.9zM515.6 595.1h0.9v1.5h-0.9zM516.1 582.9h1v0.9h-1zM512.1 572.1h0.7v1.3h-0.7zM515.5 548.9h0.8v1.2h-0.8zM512 578h0.7v0.9h-0.7zM515.7 583.6h1.1v1.4h-1.1zM511.8 578.9h0.9v0.9h-0.9zM515.4 549.8h1.2v1.3h-1.2zM512.8 558.7h0.8v1.4h-0.8zM515.7 593h0.9v1.4h-0.9zM512.2 551.9h0.9v1.1h-0.9zM515.3 553.7h0.8v1.2h-0.8zM515.9 603.2h1v1.5h-1zM512.3 560.2h1.1v0.8h-1.1zM512.3 557.4h0.9v1.1h-0.9zM515.3 567.2h0.9v1.4h-0.9zM515.1 565.1h1v1.4h-1zM515.7 607.2h0.8v1h-0.8zM512.3 560.1h0.9v1h-0.9zM515.4 604.9h1.1v1.5h-1.1zM512.1 617.3h1.1v1.1h-1.1zM513 616.6h1v1.3h-1zM513.1 621h1v1.3h-1zM516.3 608.6h0.9v1.5h-0.9zM515.9 626.5h0.8v0.9h-0.8zM516 624.8h1v1.3h-1zM515.8 614.1h0.9v1.5h-0.9zM519.3 611.7h1.2v1.6h-1.2zM516 617.2h0.8v1h-0.8zM519.6 621h1.1v1.3h-1.1zM518.4 629.5h1v1.1h-1zM526.7 574.2h1.1v1.5h-1.1zM523.2 622.2h1.1v1.1h-1.1zM526.8 595.7h0.9v1.3h-0.9zM523.3 615.5h1.1v1.5h-1.1zM526.2 575.6h1v1h-1zM523.9 592.4h0.7v1.3h-0.7zM526.2 600.6h1.1v1.5h-1.1zM523.5 585.1h0.9v0.8h-0.9zM526.8 572.9h0.8v1.2h-0.8zM526.3 598.6h1v1h-1zM523.2 580.6h1.1v0.9h-1.1zM523.4 574.7h1.1v1.4h-1.1zM523.6 596h0.9v1.5h-0.9zM526.2 595.2h0.9v0.9h-0.9zM526.6 617.4h0.8v1.4h-0.8zM526.1 565.7h1.2v1.3h-1.2zM526.3 600.7h1.2v1.4h-1.2zM523.4 600h0.8v1.4h-0.8zM523.7 569.5h0.9v1.3h-0.9zM523.5 599.5h0.7v1.6h-0.7zM524.2 631.7h1.4v1.2h-1.4zM525.3 628.1h1v1.1h-1zM535.6 553.7h1v1.4h-1zM532.8 546.2h0.7v1.3h-0.7zM531.8 596.7h0.7v1.3h-0.7zM531.2 610.5h1.1v0.9h-1.1zM535.6 567.4h0.9v1.2h-0.9zM531.7 600.2h1.1v1.5h-1.1zM536.5 582.9h1.1v1.4h-1.1zM536 549.7h1.1v1.1h-1.1zM532.4 562.5h1v1.1h-1zM535.6 577h1v1.3h-1zM535.5 549h1.1v1.6h-1.1zM535.7 565.8h0.8v1h-0.8zM536 562.5h0.8v1.2h-0.8zM531.8 595.8h1v0.8h-1zM531.6 583.7h1.1v1.1h-1.1zM535.6 567.2h1.1v1.5h-1.1zM532.8 564h0.8v1.2h-0.8zM532 582.9h1v1.5h-1zM531.6 580.5h1.1v1.6h-1.1zM535.9 573.9h0.8v0.9h-0.8zM532.7 560.4h1.1v0.9h-1.1zM531.5 585.4h0.7v1.4h-0.7zM532.5 555h0.9v1.3h-0.9zM533.5 613.2h0.9v1.5h-0.9zM535 615.5h0.9v1.1h-0.9zM540 616.5h0.8v1.6h-0.8zM536.5 612.2h1.2v1.2h-1.2zM536.4 616.9h0.9v1.5h-0.9zM537.2 636h1.1v1.5h-1.1zM539.2 629.6h0.8v1.3h-0.8zM544.2 604h0.8v1.4h-0.8zM547.2 562.3h0.8v1.3h-0.8zM543.9 576.4h1.1v1h-1.1zM544.1 579.4h0.9v0.9h-0.9zM546.6 579.3h1.1v1h-1.1zM544.3 568.1h0.9v1h-0.9zM544.1 566.1h1.2v1.5h-1.2zM543.8 579.1h1.1v1.4h-1.1zM546.9 621.6h0.8v1.1h-0.8zM544 612.8h1.1v1.2h-1.1zM544.3 620.8h0.7v1.4h-0.7zM544 571.2h1v0.9h-1zM543.7 559.1h1.2v1h-1.2zM543.8 593.3h1v1.4h-1zM547.1 579.4h0.9v1.6h-0.9zM545 633.6h0.8v1.4h-0.8zM545.7 625.6h1.4v1.3h-1.4zM556.2 575.9h1.2v1.5h-1.2zM553.3 545.1h0.7v1.3h-0.7zM556.1 613h1.2v0.8h-1.2zM552.9 557.6h1.2v1.5h-1.2zM552.1 583.6h1v0.8h-1zM552.1 613.2h1v1.5h-1zM553.6 551.5h0.9v1.1h-0.9zM556.6 584.1h0.8v1.4h-0.8zM552.3 589.8h1v0.9h-1zM552.2 586.6h1.1v1.3h-1.1zM551.9 589.8h0.9v1.3h-0.9zM556.5 614.3h0.9v1.4h-0.9zM556.6 592.4h0.8v0.9h-0.8zM552.2 600.2h1.1v1.3h-1.1zM556.3 568.8h1v1.1h-1zM552 617.1h0.9v1.1h-0.9zM552.3 608.9h0.8v1.4h-0.8zM553.1 561.7h0.9v1.1h-0.9zM553.1 557.2h0.9v0.9h-0.9zM553.3 548.9h1v1.1h-1zM556.3 569.9h0.8v1.4h-0.8zM554.1 624.4h1.1v0.8h-1.1zM561 608.4h0.8v1.3h-0.8zM560.1 622.8h0.7v1.6h-0.7zM557 611.3h1.1v1.1h-1.1zM560.4 621h0.9v0.9h-0.9zM559.4 627.5h1.2v1.2h-1.2zM567.3 581.1h1.1v1.2h-1.1zM567.5 590.2h1v1.3h-1zM566.9 619.7h1v1.4h-1zM567.6 567.3h1v1.4h-1zM564 612.8h1v0.9h-1zM567 623.1h1.2v1.5h-1.2zM567 586h0.9v1.1h-0.9zM566.9 613.8h1v0.8h-1zM564.3 579.3h0.8v0.9h-0.8zM567.3 609.6h0.8v1.4h-0.8zM567.4 558.8h1.1v1.6h-1.1zM567 558.9h1.2v1.3h-1.2zM567.2 620.6h0.8v0.8h-0.8zM567.1 567.9h0.7v1.3h-0.7zM564.1 601.9h0.9v1h-0.9zM564.3 622.4h0.9v1h-0.9zM567.2 568.3h0.8v1.1h-0.8zM566.7 625h0.9v1.5h-0.9zM565.7 624.1h0.9v1h-0.9zM565.9 634.9h1.2v1.3h-1.2zM566.4 627.1h1.2v1.2h-1.2zM573.4 563.3h1v1.3h-1zM572.3 614h0.8v1.1h-0.8zM572.8 593h0.8v1.1h-0.8zM576.3 555.2h1.1v1.4h-1.1zM573.6 555.1h0.9v1.2h-0.9zM572.7 592.3h0.7v1.5h-0.7zM577.3 606.5h1.1v0.9h-1.1zM572.6 597.6h0.8v1h-0.8zM576.7 548.2h1v1.6h-1zM573.4 559.6h0.9v1h-0.9zM572.1 599h1.2v1.5h-1.2zM572.1 601.2h1.2v1.5h-1.2zM572.5 600.9h0.8v1h-0.8zM572.4 612.9h1.1v1.5h-1.1zM572.5 599.2h0.8v1.1h-0.8zM572.8 576.5h1v1.5h-1zM573.5 548h0.9v1.3h-0.9zM574.1 628h0.9v1h-0.9zM573.8 626.1h0.9v1.4h-0.9zM577.3 609h1.2v1.1h-1.2zM580.6 625h0.7v1h-0.7zM577.4 614h0.8v1.1h-0.8zM581.2 614.4h0.9v1.2h-0.9zM581 622.2h1.1v1.3h-1.1zM576.9 624h1.1v1.5h-1.1zM576.9 622.2h1.2v1.2h-1.2zM581.2 617.2h0.8v0.9h-0.8zM577.7 631.1h1.2v1.3h-1.2zM577.7 636.4h1.1v0.8h-1.1zM577.4 627.6h0.9v1.2h-0.9zM587.7 609.2h1v1.2h-1zM588.1 611.2h0.7v1.4h-0.7zM587.5 576.9h0.8v1.5h-0.8zM584.5 595.6h1.2v1.3h-1.2zM587.4 617.5h0.8v1.5h-0.8zM585.1 621.1h0.8v0.9h-0.8zM587.3 571.1h1.2v1.5h-1.2zM587.5 598h0.9v1.2h-0.9zM587.3 623.4h1.1v0.9h-1.1zM584.3 620.1h1.2v1.2h-1.2zM587.6 579.3h0.9v1.3h-0.9zM587.5 559.4h0.9v1.2h-0.9zM587.8 559.5h1.1v1.6h-1.1zM584.8 561.8h0.8v1.1h-0.8zM584.9 568.7h0.8v1.1h-0.8zM587.4 589.5h1v1.5h-1zM584.5 567.2h1.2v1.2h-1.2zM585.5 630.7h0.9v1h-0.9zM594.1 571.8h0.8v1.3h-0.8zM597.2 566.9h0.7v0.9h-0.7zM593.6 576.4h1.2v1.6h-1.2zM592.7 621.9h0.8v1h-0.8zM597.9 598.1h0.7v0.9h-0.7zM597.2 547.8h0.8v1.4h-0.8zM593.5 576.6h0.8v1.5h-0.8zM596.8 557.7h1.1v0.8h-1.1zM594 557.1h0.8v0.9h-0.8zM596.6 569.2h0.7v1h-0.7zM597.5 611.5h0.9v1.1h-0.9zM597 566.7h0.9v1.3h-0.9zM597.1 579.2h1.2v1h-1.2zM597.6 592.5h0.8v1.2h-0.8zM597.3 619h0.8v1.5h-0.8zM597.1 607.3h1v1.3h-1zM597.3 545.5h0.8v1.3h-0.8zM596.8 564.5h0.7v1.3h-0.7zM592.7 607h1v0.9h-1zM597.4 579h0.8v1.2h-0.8zM592.8 583.6h1v0.9h-1zM593.1 596.9h0.7v1.1h-0.7zM595.4 623.8h1.3v1.2h-1.3zM594.5 624.5h0.8v0.9h-0.8zM596.1 629.9h0.9v1.4h-0.9zM601 625.3h1.2v0.8h-1.2zM601.6 613.4h1v0.9h-1zM601.2 619.3h1v0.9h-1zM597.7 610.4h1.1v1.4h-1.1zM601.7 607.8h1.1v1.4h-1.1zM597.8 631.7h0.8v1.1h-0.8zM599.3 636.4h1v1.5h-1zM597.8 637.6h1.1v1.1h-1.1zM607.7 598.4h1.1v1h-1.1zM608.2 582h1v0.9h-1zM608.2 600.2h0.9v1.4h-0.9zM608.4 613.7h0.7v1.1h-0.7zM604.9 602.4h0.9v1.4h-0.9zM604.8 620.4h1.1v1.5h-1.1zM608 611.2h0.9v1.4h-0.9zM605.1 572.5h1.1v1.3h-1.1zM604.9 609.7h1.1v1.3h-1.1zM608 588.5h1.1v1.2h-1.1zM608.3 569.7h0.7v1.4h-0.7zM605.5 582.8h0.7v1.6h-0.7zM607.7 589.3h1.1v1.1h-1.1zM604.8 624.1h1.1v1.2h-1.1zM607.9 580.7h1v1.3h-1zM608 613.9h1.1v1.4h-1.1zM606.6 637h1.3v1.3h-1.3zM605.5 626.5h0.9v1.2h-0.9zM607.3 627.6h1.4v1.4h-1.4zM607.3 635.5h1v1.1h-1zM617.4 559.4h0.8v1.1h-0.8zM617.6 573.6h0.8v1.4h-0.8zM614.1 571.7h0.7v1.2h-0.7zM618.2 615.5h0.8v1.4h-0.8zM617.4 544.9h1v1.4h-1zM612.9 602.9h0.9v1.1h-0.9zM617.2 571.8h0.7v1.2h-0.7zM614.2 577.4h0.8v1.4h-0.8zM617 569.2h0.8v1.3h-0.8zM613.1 615.4h1v0.9h-1zM612.7 616.5h1.1v1.4h-1.1zM614.1 564.8h1.1v1.5h-1.1zM614 547.6h1v1.4h-1zM612.9 601.1h1.2v1.4h-1.2zM618 614.4h1.1v1.1h-1.1zM614.4 556.4h0.8v1.2h-0.8zM613.3 589.9h1v1.4h-1zM617.7 595.7h0.9v1.2h-0.9zM614.8 551.6h0.7v0.9h-0.7zM617.7 613.5h0.7v1.3h-0.7zM617.6 581.6h0.8v1.1h-0.8zM613.5 603.5h0.7v0.9h-0.7zM617.5 574.8h1.2v1h-1.2zM615.9 627.6h0.9v1.2h-0.9zM614.6 631.8h1.3v0.8h-1.3zM615.2 631.2h0.9v0.9h-0.9zM617.9 611.3h1.1v1.2h-1.1zM622 618.3h0.7v0.9h-0.7zM621.6 613.4h0.7v1.4h-0.7zM621.1 625.6h1.1v1.2h-1.1zM617.5 625.8h0.7v1.3h-0.7zM620 631.6h0.9v1.2h-0.9zM619.6 634h0.9v1.2h-0.9z"/><path fill="#2ccbee" d="M120.7 225.7h1.8v1.6h-1.8zM142.7 225.7h1.8v1.6h-1.8zM164.8 225.7h1.8v1.6h-1.8zM209 225.7h1.8v1.6h-1.8zM253.6 219.4h1.3v1.5h-1.3zM253.1 217.5h1.5v0.9h-1.5zM254.6 212.7h1.6v0.9h-1.6zM255.6 213.7h1.7v1.2h-1.7zM255.8 199h1.2v0.8h-1.2zM275.6 216.2h1.2v1.3h-1.2zM275.6 218.1h1.1v1.3h-1.1zM277.3 209.7h1.5v1h-1.5zM276.7 193.2h1.2v0.9h-1.2zM277.2 213.9h1.1v1.1h-1.1zM276.6 202h1.5v1h-1.5zM297.9 223.6h1.2v1.3h-1.2zM297.6 219.4h1.3v0.9h-1.3zM299.6 205.7h1.1v0.9h-1.1zM319.9 221.1h1.1v1.5h-1.1zM320.2 222.9h0.8v1.1h-0.8zM321.7 221.7h1.3v0.8h-1.3zM321.1 223.2h1.2v0.9h-1.2zM321.6 215.3h1.1v1h-1.1zM341 214.2h1.4v0.9h-1.4zM341.9 223.8h1.1v1.2h-1.1zM343.8 200.9h1.6v1.1h-1.6zM343.6 207.7h1.4v1h-1.4zM343.2 200.3h1.4v0.9h-1.4zM351.8 240.6h0.8v0.9h-0.8zM364.6 195.7h1.1v1.3h-1.1zM360 200h1v0.8h-1zM360.5 203.5h0.8v1.1h-0.8zM364.9 222.2h0.9v1.4h-0.9zM364.1 209.8h1v1h-1zM363.7 222.5h1.2v1h-1.2zM365.3 199.1h1.6v1h-1.6zM365.4 207.4h1.9v1.1h-1.9zM373.8 216.2h1.1v0.9h-1.1zM373.8 244.2h1.1v0.9h-1.1zM377 239.3h1.1v0.9h-1.1zM373.6 238.9h1.1v1h-1.1zM383.1 192h1v1.1h-1zM385.9 205.8h1.4v0.9h-1.4zM382.2 223.8h1v0.9h-1zM386 208h0.8v1.3h-0.8zM385.9 215.7h1.4v1h-1.4zM385.4 216h1.4v0.9h-1.4zM388.5 213h1.6v1.2h-1.6zM387.7 197.3h1.6v0.9h-1.6zM395.3 218h1.4v1.4h-1.4zM398.8 249h1v1.1h-1zM396.2 223.7h0.9v1h-0.9zM398.5 248.8h1v1h-1zM406.4 226h1.1v0.9h-1.1zM408.8 215.6h1.3v0.9h-1.3zM407.6 210.6h1v1.3h-1zM409.6 198.5h1.1v1.2h-1.1zM410.2 227h1.4v1h-1.4zM409.6 211h1.7v1h-1.7zM413.9 167.1h1.8v1.8h-1.8zM422 221.2h1v0.9h-1zM420.3 244.3h1.1v0.9h-1.1zM417.8 228.1h1.2v1.1h-1.2zM430.7 208.9h1.1v1h-1.1zM425.5 200.9h1.4v1h-1.4zM429.4 217.1h1.2v1h-1.2zM428.6 226.8h1v0.9h-1zM430.3 207.8h1.4v1h-1.4zM429.9 218.6h1.3v1h-1.3zM430.4 214.7h1v1.2h-1zM431 220.7h1v1.2h-1zM432.6 195.3h1.6v0.9h-1.6zM431.3 212.5h2v1.2h-2zM432.1 223.1h2v1.1h-2zM432 195.9h1.4v1h-1.4zM432.3 214.7h1.2v1h-1.2zM435.9 165.4h1.8v1.8h-1.8zM439.7 216.1h1v0.8h-1zM443.2 247.6h0.7v0.8h-0.7zM451.5 219.1h1.2v1.2h-1.2zM447.9 195.3h1.2v1.4h-1.2zM447.7 204.8h1v1.3h-1zM453.3 216.8h1.1v1.5h-1.1zM451.8 216.7h1.4v1.2h-1.4zM452.8 214h1.3v1h-1.3zM451.9 208.7h1v1.1h-1zM453.8 210.1h1.1v1.1h-1.1zM454.5 210.2h1.2v1.1h-1.2zM453.6 212.3h1.3v1h-1.3zM455.1 223.3h1.1v1.2h-1.1zM458 163.8h1.8v1.8h-1.8zM461.3 227.4h1.3v1.2h-1.3zM461.6 221.8h0.9v1.3h-0.9zM462 220.4h0.9v0.8h-0.9zM465.1 240.5h1.1v0.8h-1.1zM465 252.6h0.9v1h-0.9zM473.7 223.8h1.1v0.8h-1.1zM469.4 222.6h1.3v1.1h-1.3zM470.2 208.8h1.3v1.3h-1.3zM473.5 223.6h1.3v1h-1.3zM474.7 209.6h0.9v1.3h-0.9zM476.8 228.2h1.9v1h-1.9zM476.6 211h1.8v1.3h-1.8zM476.1 227.2h1.3v1.2h-1.3zM480.1 161.9h1.8v1.8h-1.8zM488.4 217.7h1.1v1h-1.1zM484.1 215.4h1.3v0.8h-1.3zM488.4 220.5h0.9v0.9h-0.9zM483.6 252.3h1.1v1.1h-1.1zM496 224.2h1.2v1.3h-1.2zM497.5 198h1v1.2h-1zM491.5 219.5h1.2v0.9h-1.2zM498.2 195h0.8v1.1h-0.8zM491.9 206.3h1.1v1.2h-1.1zM497.8 198h1.2v0.9h-1.2zM493.4 189.2h0.9v1.3h-0.9zM497.2 191.9h1.1v0.9h-1.1zM498.4 214h1.2v1h-1.2zM498.8 193.3h1.8v0.8h-1.8zM498 204.9h1.5v0.8h-1.5zM498 192.9h1.1v1.2h-1.1zM499 211.7h1.2v1.2h-1.2zM497.7 218.1h1.4v1.2h-1.4zM498.1 194.7h1.5v1h-1.5zM501.9 213h1.3v1.1h-1.3zM498.7 185.7h1.1v0.8h-1.1zM502.6 160.8h1.3v1.3h-1.3zM498 194.3h1v1.2h-1zM502.2 186.2h1.2v0.9h-1.2zM502 205.3h1.3v1h-1.3zM498.3 176.4h1v1.4h-1zM498.6 211.9h0.8v1h-0.8zM502.1 196.7h1.1v0.8h-1.1zM502.7 162h1.2v1.2h-1.2zM498.5 185.9h1.2v1.4h-1.2zM502.2 160h2v2h-2zM510.5 218.3h1.3v1.2h-1.3zM509.4 236.8h1.1v0.8h-1.1zM509.2 252.8h1.1v0.7h-1.1zM509.1 246.5h1v0.7h-1zM513.1 224.7h1.2v1.2h-1.2zM513.6 215.7h1v0.9h-1zM513.8 224.1h1.4v1.3h-1.4zM519.1 210.4h1.4v1h-1.4zM518.9 218.8h0.8v0.8h-0.8zM518.2 218.6h1v1.1h-1zM518.5 209.9h1v1.3h-1zM519.6 214.8h1.6v1h-1.6zM519.9 207.6h1.1v0.8h-1.1zM521 196.2h1.8v1.1h-1.8zM519.7 198.8h1.7v1.2h-1.7zM521.1 208h1.5v1.3h-1.5zM520.3 210.4h1.4v1.1h-1.4zM520.1 199.6h2v1.3h-2zM520.3 153.9h1.3v0.9h-1.3zM524.8 200.1h1.4v1.3h-1.4zM524.9 153.7h0.9v1.1h-0.9zM524.4 209.4h1v0.9h-1zM524.1 157.7h1.4v1.1h-1.4zM520.9 182.9h1v1.3h-1zM523.9 221.7h1.2v1.1h-1.2zM521.1 228.8h1v1.1h-1zM524.1 223h1v1h-1zM524.2 159.9h2v2h-2zM533.3 216h1v1.4h-1zM532.6 229.4h0.9v1.1h-0.9zM527.8 220.8h0.8v1h-0.8zM527.9 229.2h0.9v1.1h-0.9zM527.8 251.1h1v0.8h-1zM531.6 250.3h0.7v1.2h-0.7zM542 192.4h1.2v0.9h-1.2zM536.2 191.4h1.3v1.3h-1.3zM535.3 205.9h1.3v1.2h-1.3zM541.7 193.5h1.3v1.2h-1.3zM542 201.8h0.9v1.3h-0.9zM541.6 216.5h0.8v1.2h-0.8zM540.4 217.1h0.8v1.2h-0.8zM540.6 211.1h1.3v1.1h-1.3zM542.9 199h1.6v0.8h-1.6zM543.2 194.3h1v1h-1zM542.2 226.6h1.2v1.2h-1.2zM542.7 225.8h1.2v0.9h-1.2zM543.5 227.9h1.1v1.2h-1.1zM542.9 202.6h1.5v1h-1.5zM543.3 203.6h1.4v1.2h-1.4zM542.9 175.6h0.9v1.3h-0.9zM546.2 173.4h1.3v0.9h-1.3zM542 162.9h0.9v1.2h-0.9zM546.3 191h0.8v0.8h-0.8zM546.1 211.9h1.3v1.2h-1.3zM546.8 176.3h1v1h-1zM546.1 198.8h1.4v1.2h-1.4zM542.3 189h1.4v1.2h-1.4zM542.9 192.3h0.9v1.4h-0.9zM542.8 175.2h1v1.1h-1zM546.9 184.4h1.1v0.9h-1.1zM546.2 228.2h1.2v0.9h-1.2zM546.3 159.7h2v2h-2zM549.8 231.9h1.1v1.3h-1.1zM554.8 219.3h1.4v1h-1.4zM550.5 216.3h1.3v0.9h-1.3zM550.5 251h0.8v1.2h-0.8zM553.5 251.5h0.8v1h-0.8zM550.4 245.7h0.8v0.9h-0.8zM564.1 193.5h1.1v1.2h-1.1zM558.6 189h1v0.9h-1zM558.1 208.4h0.8v1h-0.8zM557.3 223.6h1.2v1.3h-1.2zM563.3 218.1h1.2v0.9h-1.2zM562.1 208.8h1.4v1h-1.4zM563.8 224.3h0.9v1h-0.9zM562.7 203.6h1v1.4h-1zM563.7 218.8h1.7v1h-1.7zM564.3 205h1.9v1.3h-1.9zM565.1 200.8h1.8v1.1h-1.8zM564.1 221.3h1.6v1.3h-1.6zM564.1 208.2h1.1v1h-1.1zM564 220.5h1.2v1.3h-1.2zM564.7 149.3h1.1v1.4h-1.1zM564.6 196.9h0.9v1.3h-0.9zM568.4 191.8h1.2v1.4h-1.2zM568.6 190.5h1.1v1.2h-1.1zM568.5 207.4h0.8v1.1h-0.8zM568.7 174h1.2v1.1h-1.2zM565.5 233.3h1v1h-1zM568.4 159.6h2v2h-2zM577.1 226h0.9v1.2h-0.9zM572.4 217.4h1.2v0.8h-1.2zM576.1 235.6h1.3v1.3h-1.3zM577.2 214.9h1.1v1.3h-1.1zM575.2 253.3h1v1.1h-1zM572.1 253.8h0.9v1h-0.9zM585.4 209.8h0.9v1.4h-0.9zM584.8 220.7h1.2v1.1h-1.2zM581.3 189.1h1.1v1.2h-1.1zM579.6 199.2h0.8v1.3h-0.8zM585.6 203.4h1.1v1.2h-1.1zM580.1 193.2h1.2v0.9h-1.2zM584.4 204.9h1v0.8h-1zM584.1 209.7h1.3v1.5h-1.3zM584.3 219.5h1.5v1.4h-1.5zM584.1 219.8h1.3v0.9h-1.3zM586 209.3h1.8v0.8h-1.8zM586.2 209.3h1.1v0.9h-1.1zM587.3 210.4h1.8v1.1h-1.8zM587 196.8h2v0.9h-2zM587 217.8h1.8v1.3h-1.8zM586.8 201.3h1.3v1.1h-1.3zM587.1 196.2h0.8v1.3h-0.8zM586.9 205.2h1.2v0.9h-1.2zM586.7 207.1h0.9v0.8h-0.9zM586.9 192.5h1.2v1h-1.2zM586.4 154.4h1.1v0.8h-1.1zM590.3 198.8h1v1.3h-1zM586.7 225.3h1v1.1h-1zM590.5 159.4h2v2h-2zM598.9 218.9h1.1v1.2h-1.1zM594.2 231h1.2v1.2h-1.2zM598.7 217.3h0.9v1.1h-0.9zM597.4 254.1h1v1.1h-1zM607.3 208.2h1.2v1.2h-1.2zM607.8 207.2h0.9v1.2h-0.9zM607.6 211.9h1.2v1.2h-1.2zM601.8 206.6h1.2v0.8h-1.2zM608.5 198.1h1.2v1.4h-1.2zM602.6 190.8h1v0.9h-1zM608.8 193.9h0.9v1.1h-0.9zM607.7 221.4h0.9v0.8h-0.9zM607.4 214.9h1.3v1.4h-1.3zM606.1 220.5h1.4v1.2h-1.4zM607.1 215.3h1.3v1.2h-1.3zM608.4 193.1h1.2v0.9h-1.2zM608.4 199.2h1.5v1.1h-1.5zM608.3 195.1h1.9v1h-1.9zM609.3 219h1.8v1h-1.8zM608.2 199.7h1.2v0.9h-1.2zM608.3 167h1.1v1.2h-1.1zM609 164.1h0.8v0.9h-0.8zM612.6 152.6h1v1.1h-1zM608.9 222h1v1.2h-1zM608.6 194h1.4v1.3h-1.4zM609 216.3h1v1.2h-1zM613.1 191.6h1.3v1h-1.3zM612.8 156.7h1.1v0.9h-1.1zM613 154.1h1.2v1.1h-1.2zM612.6 189.8h1.3v1h-1.3zM608.5 212.4h1.3v1.4h-1.3zM608.4 159.7h0.9v1h-0.9zM608.9 152.9h1.2v1.2h-1.2zM612.7 194.8h1.3v0.9h-1.3zM609.1 228.1h1.2v0.8h-1.2zM612.5 159.3h2v2h-2zM616.1 222.5h1v0.9h-1zM630.2 201.4h0.8v0.8h-0.8zM623.6 222.9h1.3v0.8h-1.3zM630 191.6h1.3v1.2h-1.3zM629.6 187.6h1.4v1h-1.4zM630.6 192.7h1.1v1.3h-1.1zM628.3 219.8h1.4v1.2h-1.4zM629.7 203.5h0.8v1.4h-0.8zM628.9 206.5h1.4v1h-1.4zM629.1 213.2h1.5v1.2h-1.5zM631.6 194.2h1.1v1h-1.1zM630.7 226.5h1.4v0.8h-1.4zM630.4 206.4h1.2v1.1h-1.2zM631.1 212.2h1.1v1.1h-1.1zM631.8 222.6h1.1v1.2h-1.1zM630.5 224h1.2v1.1h-1.2zM631.1 219.5h1.6v0.8h-1.6zM630.5 221.8h1.4v1.2h-1.4zM630.6 176.6h1.1v1h-1.1zM635.6 170.1h0.8v1.3h-0.8zM634.6 211h1.4v1.3h-1.4zM630.9 208.6h1.1v1.2h-1.1zM630.9 156.5h1.3v1.2h-1.3zM634.8 214.5h0.9v1.4h-0.9zM634.7 211.8h1.2v1.4h-1.2zM631.5 230h1v1.1h-1zM634.6 159.1h2v2h-2zM637.8 215.5h1.2v1.1h-1.2zM642.7 227.7h1.4v1.3h-1.4zM642.8 218.6h1v1.4h-1zM641.9 245.9h1.1v0.9h-1.1zM651.4 214.5h0.8v1.3h-0.8zM646.4 208.2h1v1h-1zM645.5 219.8h0.9v0.9h-0.9zM650.9 216.3h1.2v0.9h-1.2zM651.8 216.7h1.4v0.9h-1.4zM651.9 223.4h1.5v1.3h-1.5zM650.8 200.8h0.8v0.8h-0.8zM651 212.3h1v1.4h-1zM651.6 205.3h0.9v1.4h-0.9zM651.3 224.5h1.4v1.5h-1.4zM652.6 209h1.6v0.8h-1.6zM653.3 204.1h1.9v0.9h-1.9zM652.5 203.5h1.4v1h-1.4zM652 193.1h1.6v0.9h-1.6zM652.5 209h1.3v0.9h-1.3zM652.3 213.6h2v1.2h-2zM657.3 161.4h1v1h-1zM657 203.1h1v1.2h-1zM656.6 149.3h1.4v1h-1.4zM652.7 176.4h1.1v1.2h-1.1zM653.1 179.6h1.2v1.1h-1.2zM652.7 181h1.4v1.1h-1.4zM652.7 210.4h1.1v1.1h-1.1zM652.6 174.1h1.1v1.2h-1.1zM656.8 171.3h1v1h-1zM656.7 159h2v2h-2zM109.5 607.8h2.4v2.4h-2.4zM145.5 586.4h1.8v2.2h-1.8zM178.1 586.5h1.6v2h-1.6zM311.9 606.8h1.2v1.2h-1.2zM316.3 610.4h1.3v1.1h-1.3zM312.2 624.1h1.1v0.9h-1.1zM314.5 631.2h1.1v1.1h-1.1zM331.5 558.6h1.2v0.9h-1.2zM328.1 577.4h1v1.2h-1zM327.4 579h0.9v1.1h-0.9zM332.2 544.7h1.2v1.2h-1.2zM327.4 591.8h0.8v1h-0.8zM332.2 592h1.2v1h-1.2zM330.9 614.2h0.8v0.8h-0.8zM331.9 607.2h0.9v1.2h-0.9zM332.3 629.1h1.1v1h-1.1zM332.3 618.7h0.7v0.7h-0.7zM332.6 621.8h1.1v0.7h-1.1zM343.4 579.6h1v0.8h-1zM342.7 569h1.3v0.9h-1.3zM343.6 577.9h1.3v1.2h-1.3zM343.3 595.4h1.3v1h-1.3zM339.7 601.5h1.2v1.2h-1.2zM343.2 631.3h0.9v1.1h-0.9zM348.9 560.5h1.2v1.3h-1.2zM352.8 567.5h1.4v1.3h-1.4zM347.7 587.8h0.8v1h-0.8zM348.6 560.6h0.8v0.9h-0.8zM352.3 563.9h1.4v1.4h-1.4zM352 606.2h0.9v0.7h-0.9zM357.2 612.2h1.3v1h-1.3zM351.9 618.4h1.3v0.8h-1.3zM355.6 636h0.8v1.2h-0.8zM360.2 606.8h1.2v1h-1.2zM360 594.5h1v1.2h-1zM364.1 586.5h1v1.2h-1zM360.4 567.9h1.2v0.9h-1.2zM363.5 595.2h0.8v1h-0.8zM363.5 572.4h1.4v1.3h-1.4zM363.7 615h0.8v1.1h-0.8zM360.5 632.2h0.7v0.9h-0.7zM360.4 622.4h0.7v1h-0.7zM373.5 595.9h1.3v0.8h-1.3zM368.3 577.5h1.3v0.8h-1.3zM372.9 580.4h1.1v0.9h-1.1zM373.1 556.1h1v1h-1zM368.1 574.6h0.9v1.2h-0.9zM377 620h1.2v0.8h-1.2zM372.7 605.4h0.9v1.4h-0.9zM372.9 635.3h0.9v1h-0.9zM380.3 558.7h1.1v1.4h-1.1zM380.8 598h1v0.9h-1zM384.4 598.9h1.1v1.3h-1.1zM384.4 593.1h1.2v1.3h-1.2zM380.5 607.5h1.1v1.3h-1.1zM380.6 593.2h1v1h-1zM380.6 581.3h1.1v1.1h-1.1zM384.2 586.1h1.4v1h-1.4zM380.9 628.8h0.9v1.2h-0.9zM392.9 567.7h0.9v0.9h-0.9zM388.8 571.3h1.1v1.1h-1.1zM388.8 589.3h1.3v1.2h-1.3zM389.8 552.6h1.2v1.1h-1.2zM389.8 568.7h0.9v1.2h-0.9zM393.7 553h1.3v0.9h-1.3zM393.1 568.8h1.2v1.2h-1.2zM389.5 615.8h0.9v1.1h-0.9zM392.8 614.4h1.2v1.2h-1.2zM393.4 606.1h0.9v1.2h-0.9zM393.1 630.4h0.9v0.8h-0.9zM405 595.3h0.9v1.1h-0.9zM405 569.4h1v0.9h-1zM404.1 594.7h1.1v1.2h-1.1zM400.8 583.8h0.9v1.1h-0.9zM400.9 590h1.1v1.3h-1.1zM400.4 578.5h1.2v0.8h-1.2zM401.3 634.9h0.9v0.7h-0.9zM409 597h1.3v1.3h-1.3zM413.9 550.3h1.2v1.1h-1.2zM409.2 585.7h1.3v1.3h-1.3zM409.3 567.3h0.9v1.4h-0.9zM414.3 585.9h1.1v0.8h-1.1zM409.2 570.9h0.8v1.4h-0.8zM409.1 588.5h0.9v1.3h-0.9zM409.6 556.9h1v1h-1zM413.8 591.8h1.3v1.1h-1.3zM410.2 615.6h0.7v1.2h-0.7zM413.1 622.8h0.9v1h-0.9zM417.3 623.9h0.8v1h-0.8zM417.4 629.5h1.1v0.8h-1.1zM421.3 599.6h1.1v1h-1.1zM424.8 590.3h1.4v1.3h-1.4zM421.5 577.2h1.3v1.2h-1.3zM421.5 576.7h1.1v0.8h-1.1zM420.8 575.8h1.3v1.1h-1.3zM425.2 560.8h1.4v0.8h-1.4zM425 577.7h0.8v0.8h-0.8zM421.4 618.3h1v0.8h-1zM424.6 621.9h0.8v0.9h-0.8zM424 632.7h1.2v1.1h-1.2zM430.6 552.5h0.8v1.4h-0.8zM430 552.7h0.8v1.3h-0.8zM430.4 550.8h1v1h-1zM429.8 576.6h0.8v0.8h-0.8zM434.5 594.1h0.9v1.2h-0.9zM434.3 551.1h0.9v1.1h-0.9zM434.2 567h1.3v0.8h-1.3zM429.6 585.4h0.8v1h-0.8zM429.5 579.6h1.1v1.2h-1.1zM433.7 611.7h0.9v1.2h-0.9zM438.7 622.9h1.2v1h-1.2zM438.3 621.7h0.9v1.2h-0.9zM438.2 605.2h1.3v1.3h-1.3zM433.7 615h1.3v1h-1.3zM434 629.6h1.1v1h-1.1zM441.5 558.3h1v1.2h-1zM441.7 587.6h1.1v1.2h-1.1zM445.6 608.7h1.2v1.2h-1.2zM441.9 581.9h1.1v1.4h-1.1zM442 568.9h1v1h-1zM445.2 566.3h1.1v1.3h-1.1zM444.7 620.9h1v0.9h-1zM441.8 619.1h0.9v0.8h-0.9zM441.8 627.7h1.2v1h-1.2zM454.9 580.6h1.2v1.2h-1.2zM449.8 577.6h0.9v1.1h-0.9zM454.6 545.6h1.2v1.1h-1.2zM454.7 607.6h0.9v1h-0.9zM449.6 576h1v1.4h-1zM449.3 610.4h0.9v1.2h-0.9zM454.8 552.8h0.9v1.2h-0.9zM454.6 587.5h1.3v1.2h-1.3zM454.2 613.8h1.1v0.8h-1.1zM459.3 607.2h1.4v1.3h-1.4zM458.6 614h0.9v0.9h-0.9zM454.2 638.8h1.1v1.1h-1.1zM461.8 593.7h1.1v1h-1.1zM465.9 570.2h1.1v1.3h-1.1zM461.9 604.5h0.9v1.2h-0.9zM462 566.2h0.8v1.2h-0.8zM461.2 570h1.4v1.4h-1.4zM462.2 591.7h1.1v1.3h-1.1zM462.4 623h1.1v1.1h-1.1zM465.4 631.7h0.7v1.1h-0.7zM475.4 588.6h1.2v1.2h-1.2zM471.1 550.7h1.1v0.9h-1.1zM470.2 604.6h1.1v1.4h-1.1zM470.3 589.6h1.2v0.9h-1.2zM469.4 594.1h1v0.9h-1zM475.1 596.9h1.3v1.3h-1.3zM475 615.3h0.9v0.9h-0.9zM478.9 619.2h1.3v1.4h-1.3zM474.8 612.2h0.9v1.3h-0.9zM478.1 635.6h0.9v1.1h-0.9zM482.4 599.9h1v0.8h-1zM481.8 603.5h1.3v1.1h-1.3zM486.4 593.5h1.3v1.2h-1.3zM486.5 589.6h0.9v0.9h-0.9zM486.7 570.9h0.9v1.2h-0.9zM481.8 600.2h0.9v0.8h-0.9zM486.4 605.6h1v1.2h-1zM481.8 559.9h1.1v1.2h-1.1zM485.8 621.7h1.4v1h-1.4zM482.5 562.9h1.2v1.3h-1.2zM483 638.2h1v0.9h-1zM483.1 628.3h0.7v1.1h-0.7zM490.9 571h1.2v1.4h-1.2zM490.6 603.5h1.1v1.1h-1.1zM496.1 578.9h1.2v0.9h-1.2zM495 541.8h1v1.3h-1zM491.4 542.7h1.3v0.9h-1.3zM495.7 603.5h1.4v1.1h-1.4zM491.4 552.4h1v1.1h-1zM491.7 556.5h1.1v0.9h-1.1zM491.2 619.4h1.1v0.8h-1.1zM495.1 619.7h1.1v1.1h-1.1zM495 616.9h1v0.9h-1zM494.4 613.1h1.3v1.3h-1.3zM495.2 609.9h0.9v1h-0.9zM498.8 632.9h1.1v1.1h-1.1zM502.5 571.8h0.9v0.9h-0.9zM506.9 597.2h1.1v0.9h-1.1zM502.5 608.5h1.3v0.9h-1.3zM506 619.7h1.3v0.9h-1.3zM506.6 579.9h1.3v1.2h-1.3zM502.9 562.8h0.9v0.8h-0.9zM506.4 617.7h1v1.4h-1zM502.9 572.1h0.8v1.1h-0.8zM503 628.7h1.1v0.9h-1.1zM510.4 581.3h1v1.1h-1zM510.2 608.4h1.2v1.3h-1.2zM512.3 549.7h1v0.9h-1zM515.4 550.7h1.1v0.9h-1.1zM515.8 610.6h1.1v0.8h-1.1zM515.3 568.1h1.1v1.4h-1.1zM515.9 547.9h1.3v1.4h-1.3zM512.1 558.8h1.2v0.9h-1.2zM511.1 613.9h1v0.8h-1zM520.1 616.2h1v1.4h-1zM515 606.1h1.4v0.9h-1.4zM519.2 635h1.1v0.7h-1.1zM522.5 593.7h1.1v1.3h-1.1zM526.5 618.4h1.1v1.2h-1.1zM522.8 585h1.2v1.2h-1.2zM526.7 583.2h1v1.1h-1zM526.7 616h1v0.8h-1zM526.8 596.1h0.8v1.1h-0.8zM522.6 586.1h1.3v0.9h-1.3zM523.1 566.8h0.9v1.3h-0.9zM537.3 583h0.9v0.8h-0.9zM536.8 582.5h0.9v1.1h-0.9zM531.9 543.3h1.3v1h-1.3zM536.7 610.9h1v1.1h-1zM536.5 600.7h0.9v1.1h-0.9zM532.3 543.8h1.2v1.2h-1.2zM531.4 593.1h1v1.2h-1zM536.4 600.7h0.9v1.1h-0.9zM536.5 581.7h1.2v0.8h-1.2zM537.1 605h1.2v1.1h-1.2zM531.2 613.7h1v0.7h-1zM540.8 616.7h0.9v0.9h-0.9zM540.8 616.2h1.1v1.1h-1.1zM536.2 628.5h0.7v0.8h-0.7zM538.8 636.8h1.2v1.1h-1.2zM543.4 611.7h1.2v1.4h-1.2zM543.7 605h1v1.3h-1zM543.3 594h1.3v0.9h-1.3zM547.2 621.5h0.8v0.9h-0.8zM547 580.4h1v1.4h-1zM547.4 595.2h1.3v1.2h-1.3zM547 588.8h0.9v0.9h-0.9zM547.8 588h0.9v1.3h-0.9zM543.7 584h1v1h-1zM543.6 624.2h1v0.9h-1zM546.8 629.2h1v0.8h-1zM552.2 582.8h0.8v1.1h-0.8zM557.4 617.8h1v1.3h-1zM556.1 544.2h1.3v1h-1.3zM552.3 559.9h0.8v0.9h-0.8zM552.8 561.5h0.9v0.8h-0.9zM557.7 608.8h0.9v1.3h-0.9zM552.4 557.6h1.4v0.9h-1.4zM556.7 603.6h1.1v1h-1.1zM559.5 637.8h1v0.8h-1zM556.1 629.3h0.8v1.1h-0.8zM563.5 568.8h1.4v1.4h-1.4zM567.9 569h1v0.9h-1zM568.1 556.3h0.9v1.3h-0.9zM563.7 582.1h1.2v1h-1.2zM568.1 619.2h1.3v1.2h-1.3zM563.4 615h1.2v0.8h-1.2zM568 582.4h1.3v0.8h-1.3zM567.9 611h1.1v1.1h-1.1zM564.7 636.1h1v1h-1zM567.6 628.2h0.8v1.2h-0.8zM577.3 609.5h1.1v0.8h-1.1zM572.1 621.5h1.3v0.8h-1.3zM572.9 548.6h1.2v0.8h-1.2zM577.1 613.1h1.2v1h-1.2zM577.5 588.3h1.2v1.2h-1.2zM572.2 596.4h1v1.1h-1zM572.3 599h1v1.1h-1zM571.4 603.5h1v0.9h-1zM577.3 576.9h1.1v1.1h-1.1zM572.5 624.3h0.8v0.9h-0.8zM580.9 609.2h1.4v1h-1.4zM580.6 621.9h1.4v1.3h-1.4zM576.2 618h1.3v0.9h-1.3zM581.1 618.6h1.1v1h-1.1zM576.8 606.8h1.3v1.1h-1.3zM576.3 629.3h0.9v0.9h-0.9zM580.5 631.4h1.1v0.7h-1.1zM587.8 615.2h1v1.2h-1zM583.9 607.5h1.2v1.3h-1.2zM588.2 615h1.2v0.9h-1.2zM587.8 613.8h1.3v0.8h-1.3zM583.7 560.6h1.3v1.3h-1.3zM588.4 623.3h0.9v1.1h-0.9zM583.8 611.1h1.3v1h-1.3zM588.5 586.5h1.4v0.9h-1.4zM588.7 606.2h0.8v1.4h-0.8zM587.7 602.6h1.4v0.8h-1.4zM583.7 592.2h1.1v0.9h-1.1zM587.8 610.1h1v1h-1zM584.6 635h1.2v1h-1.2zM593 547h1.2v0.9h-1.2zM592.7 622h0.9v1.3h-0.9zM598.3 592.7h1.1v1.3h-1.1zM592.7 568.8h1.1v1.2h-1.1zM593.4 546.3h1.3v1.4h-1.3zM593.8 546.6h1.1v1.4h-1.1zM592.3 616.2h1.1v0.9h-1.1zM592.2 608.3h1.2v0.8h-1.2zM598 600.7h1v1.2h-1zM591.5 616.1h1.3v0.8h-1.3zM593.3 546.1h0.8v1.4h-0.8zM597.6 558.4h1.3v1.1h-1.3zM597.9 618.9h1v0.9h-1zM593.4 574.5h0.9v1.3h-0.9zM593.1 629.3h0.9v0.9h-0.9zM593.1 629.7h0.8v1.2h-0.8zM601.9 611h1.2v1.2h-1.2zM601.9 608.3h1.3v0.8h-1.3zM596.6 618.9h1v1.1h-1zM600.6 636.2h0.9v0.7h-0.9zM608.8 575.1h0.9v1.2h-0.9zM604.9 563.8h1.2v1.3h-1.2zM604.6 592.6h1.3v1h-1.3zM604.7 620.8h1.4v1.2h-1.4zM608.9 603.6h1.1v1.1h-1.1zM608.1 597.8h1.4v1.2h-1.4zM609 574.5h0.9v1.3h-0.9zM608.7 578.3h0.8v1.3h-0.8zM608.8 593.3h1.1v1.2h-1.1zM613.3 577.5h1.4v0.9h-1.4zM618 579h1.3v1h-1.3zM618.2 604h1.3v1.3h-1.3zM612.6 582.9h1.1v1.4h-1.1zM613.3 553.3h1.1v0.9h-1.1zM618.1 552.5h1.3v1.3h-1.3zM613.7 547.1h1.3v1.2h-1.3zM618 567.7h1.3v1.2h-1.3zM617.9 560h1.1v1.3h-1.1zM612.9 576.7h1.4v1.1h-1.4zM618.5 594.6h1v1h-1zM612.1 588.1h1.2v0.9h-1.2zM617.6 629.6h0.9v1.1h-0.9zM613.4 628.4h0.8v1.2h-0.8zM617.5 618.2h1.3v1.3h-1.3zM617.1 620.1h0.9v1.1h-0.9zM622.3 611.9h1.4v1.3h-1.4z"/><path fill="#e0302a" d="M132.8 216.1h1.6v1h-1.6zM177 216.1h1.6v1h-1.6zM221.1 216.1h1.6v1h-1.6zM253.3 191.5h1v1.4h-1zM252.9 192h1.1v1h-1.1zM252.4 188.2h0.9v1.2h-0.9zM252.7 196.4h1v1.3h-1zM251.1 212.8h0.9v1.1h-0.9zM251.8 210.5h1.4v1.2h-1.4zM251.5 199.7h1.1v1.5h-1.1zM251.9 201.2h1.2v1.5h-1.2zM253.2 193.8h1.2v1.1h-1.2zM251.6 215.3h0.8v1.2h-0.8zM251.4 191.8h1.5v1.1h-1.5zM251.4 215.5h1.4v1.4h-1.4zM253.5 191.5h1.4v1.1h-1.4zM253.2 192.3h0.9v1.4h-0.9zM251 196.4h1.3v0.8h-1.3zM251.3 208.1h1.2v0.9h-1.2zM251 207.4h1.2v0.9h-1.2zM251.3 201.9h0.9v1.2h-0.9zM253.3 218h1.1v1.2h-1.1zM253.1 216.3h1.2v1.4h-1.2zM265.3 216.1h1.6v1h-1.6zM274.1 208.9h1.2v1.3h-1.2zM274.3 215.1h1v0.8h-1zM273.2 201.3h1.4v1.3h-1.4zM274.7 197.6h1.1v0.9h-1.1zM275 194h1.4v1h-1.4zM273.7 203h1.3v1.3h-1.3zM273.6 205.4h1.5v1h-1.5zM273.6 195.8h1.1v1.4h-1.1zM274.2 207.1h1.3v0.9h-1.3zM275.1 198.4h1.4v1.4h-1.4zM272.4 217.9h1.2v1.3h-1.2zM275.2 192.1h1.3v1.4h-1.3zM273.5 217.3h1.4v1.5h-1.4zM274.4 194.5h0.9v1h-0.9zM275 194.1h1v1h-1zM273.7 199.5h0.9v0.9h-0.9zM272.9 200.6h0.9v1.3h-0.9zM276.3 213.1h1.2v1h-1.2zM275.5 222.1h1.1v1.5h-1.1zM275.1 219.4h0.8v1.2h-0.8zM296 192.5h1.1v1.1h-1.1zM297.3 194.7h1.3v0.8h-1.3zM296.4 190h1.5v1.2h-1.5zM294.9 215.3h1.5v1.1h-1.5zM295.8 192.8h1.4v1.4h-1.4zM297 195.5h1.1v1.4h-1.1zM296 214.9h1.4v1h-1.4zM296.8 206.2h0.8v1h-0.8zM296 215h1.4v1.1h-1.4zM295.8 199.6h1.3v0.9h-1.3zM295.6 197.1h1.5v1.2h-1.5zM294.1 213.8h1.5v1.5h-1.5zM294.9 195.7h1.4v0.9h-1.4zM296.5 192.7h0.9v1.4h-0.9zM294.4 211h1.1v1.2h-1.1zM297.7 219.8h0.8v1.2h-0.8zM297.1 214.3h1.1v1.3h-1.1zM297.9 217.9h1.2v1.4h-1.2zM299 200.8h1v1h-1zM309.4 216.1h1.6v1h-1.6zM318.5 199h1.3v1.1h-1.3zM318.1 203.7h1.4v1.3h-1.4zM318.9 190.5h0.9v1.2h-0.9zM319.2 200.4h0.8v1.4h-0.8zM318.4 197.7h1.2v0.8h-1.2zM317.3 206.2h1.5v0.8h-1.5zM319.5 190.4h1.1v0.9h-1.1zM317.4 214.6h1v1.4h-1zM318.2 216.2h1.4v1.4h-1.4zM316.6 204.5h1.3v0.9h-1.3zM318.7 207.1h1.5v1.1h-1.5zM319.8 189.6h1.1v1.3h-1.1zM317.6 214.5h1.4v1.4h-1.4zM319 219.3h1.3v1.3h-1.3zM320.1 217.4h1v0.9h-1zM319.3 216.4h1.2v1.4h-1.2zM338.7 206.7h1.2v1.2h-1.2zM340.5 196.9h1.4v0.8h-1.4zM338.8 211.2h1.2v1.1h-1.2zM339 204.3h1.5v0.8h-1.5zM339.7 217.6h0.9v0.9h-0.9zM340.5 198.8h1.2v1.3h-1.2zM340.8 204.6h1.3v1.4h-1.3zM340 212.6h1.4v1.3h-1.4zM342.7 222.6h1v1.4h-1zM341.9 221.9h0.9v1.4h-0.9zM353.6 218.3h0.7v1.2h-0.7zM353.8 238.5h0.8v0.8h-0.8zM353.9 229.2h0.9v0.9h-0.9zM354.6 222.6h1.2v1.3h-1.2zM353.8 229.6h1.4v1.3h-1.4zM354.5 225.9h0.8v1.1h-0.8zM353.4 239h1.2v1.5h-1.2zM361.7 212.2h1.3v1h-1.3zM361.4 198h0.9v0.8h-0.9zM360.9 223.9h0.9v1h-0.9zM363.9 222h1.4v1.4h-1.4zM363.8 201.6h1v1.4h-1zM364.9 208h0.9v1.3h-0.9zM363.7 213.3h1.2v1.1h-1.2zM365.2 192.5h1.3v1.2h-1.3zM368.2 171.5h1v1.5h-1zM368.1 206h1.4v1.1h-1.4zM367.8 193.9h0.8v1.3h-0.8zM367.5 165.4h1.1v1.3h-1.1zM367.5 197.4h1.3v1h-1.3zM367.1 169.7h1.2v1.2h-1.2zM368.1 188.3h1.2v1.2h-1.2zM367.5 198.8h1v0.8h-1zM368.3 192.6h1.3v1.1h-1.3zM368.7 185.6h0.8v1.2h-0.8zM368.2 170.2h1.2v1.1h-1.2zM368.4 162.1h1.3v1.1h-1.3zM368.7 183.7h1.3v0.8h-1.3zM367.4 174.4h1v0.8h-1zM366.8 196.3h1.5v1.1h-1.5zM367.8 173.2h1.2v1.4h-1.2zM368 196.8h1.2v1.3h-1.2zM367.1 169.5h1.3v1.5h-1.3zM374.7 219.8h1v0.9h-1zM375.2 235.2h1.2v1.2h-1.2zM375.9 236.5h1.3v1.3h-1.3zM374.5 239.1h1.3v1h-1.3zM375.3 231.9h1.1v0.9h-1.1zM375.6 227.5h1v1h-1zM375.8 225.4h0.8v1h-0.8zM376 238.2h1.2v0.8h-1.2zM384.3 205.3h0.8v1h-0.8zM383.3 213.3h1v1.3h-1zM384.5 198.1h0.9v1.2h-0.9zM384.9 196.8h1.2v1.1h-1.2zM385.1 202.3h0.9v0.7h-0.9zM383.5 211.7h0.9v0.7h-0.9zM383.8 224h0.8v1.1h-0.8zM385.8 207.9h1.2v1.2h-1.2zM385.9 222.7h1.4v1h-1.4zM385.6 220.6h1.3v1.5h-1.3zM385.7 214.5h0.8v1.2h-0.8zM386.1 221.3h1v1.3h-1zM386.4 210.9h1.2v1.4h-1.2zM385.9 201.6h1.2v0.9h-1.2zM388.1 198.6h1.7v1.3h-1.7zM389.2 158.3h0.8v1.5h-0.8zM389.5 161.4h1.3v1.2h-1.3zM390.9 192.7h1v1.4h-1zM390.1 173.7h0.9v0.8h-0.9zM389.6 190.4h0.9v0.9h-0.9zM390.1 180.2h1.4v0.9h-1.4zM390.5 169.3h1v1h-1zM389.5 186.9h1.4v1.4h-1.4zM389.6 171.9h1.3v1.1h-1.3zM389.8 203.5h1.3v1.1h-1.3zM389.4 180.7h1.3v1.1h-1.3zM389.4 158.3h1.5v1.1h-1.5zM390 205.1h0.9v1.3h-0.9zM389.9 172.2h0.8v0.9h-0.8zM389.3 182h1.5v0.9h-1.5zM390.6 178.2h1.1v1h-1.1zM389.8 194.9h0.9v1.3h-0.9zM389.8 199h0.9v1.3h-0.9zM389.5 194.6h1.1v1.1h-1.1zM389.7 179.7h1v1.3h-1zM389.3 167.7h1.2v1.2h-1.2zM397.9 220.9h1.4v1.3h-1.4zM398.2 220.9h1v1.3h-1zM398.1 236.1h1.2v1.3h-1.2zM396.7 239.9h1.3v1.3h-1.3zM397.3 223.7h1.3v1.2h-1.3zM405.1 204.6h0.9v0.9h-0.9zM406.7 209.6h1.1v1h-1.1zM405.6 211.4h0.8v1.1h-0.8zM405 195.7h0.9v1.3h-0.9zM404.8 200.9h0.9v1.3h-0.9zM405.9 224.5h1.2v1.2h-1.2zM408.9 205.5h0.8v1h-0.8zM408.2 201.7h1v0.8h-1zM407.9 216.6h1.1v1.3h-1.1zM409 206.4h1.2v1.2h-1.2zM407.7 203.5h1.1v1.2h-1.1zM408.4 216.2h1.3v1.2h-1.3zM408.6 215.1h1.3v1.3h-1.3zM410.6 222.7h1.2v1.3h-1.2zM410.3 209.7h1.7v1h-1.7zM411.5 156.9h1v1.2h-1zM412.8 161h1.1v1.1h-1.1zM411.7 182.2h1.4v1.4h-1.4zM411.7 192.7h1v1.4h-1zM411.8 171.8h0.9v1h-0.9zM412.6 165h1.3v1h-1.3zM411.9 184.8h1.4v1.4h-1.4zM412.1 171.5h0.8v0.9h-0.8zM410.9 210.5h1.5v0.9h-1.5zM412.1 177.3h1.4v1.3h-1.4zM411.3 184.1h1.1v1.1h-1.1zM411.6 198.4h1.3v1.3h-1.3zM413 173.7h0.9v1.2h-0.9zM412.2 206h1.2v1.1h-1.2zM411.6 205.8h1v1.4h-1zM412.7 209.4h1.2v0.9h-1.2zM413 192.5h1v1.3h-1zM412.3 205.7h1.4v1h-1.4zM420.5 224.7h0.9v1.1h-0.9zM419.4 236.2h1.3v1.3h-1.3zM419.7 227.5h0.8v0.8h-0.8zM418.6 232.2h1.1v1.1h-1.1zM418.5 235.8h1.3v0.8h-1.3zM426.8 212.5h0.7v1.3h-0.7zM429.1 199.8h0.8v0.9h-0.8zM427.4 222.9h1v1.3h-1zM428.2 226.4h0.9v0.9h-0.9zM427.4 222.9h0.9v1.3h-0.9zM426.9 223.3h1.3v1.4h-1.3zM430.8 223.1h1.5v1.3h-1.5zM430.4 203.3h1.4v1.2h-1.4zM430.2 216.4h0.9v0.9h-0.9zM433 201.8h1.4v1h-1.4zM431.5 198.3h1.5v0.8h-1.5zM434.6 205.5h1.2v1h-1.2zM433.8 196.6h0.9v1.2h-0.9zM432.9 209.5h1.4v1.3h-1.4zM434.5 158.3h1.1v0.9h-1.1zM434.4 160h1.2v1h-1.2zM433.5 175.5h0.9v0.9h-0.9zM433.7 156h0.8v1.2h-0.8zM433.3 168.3h0.9v1.3h-0.9zM432.9 158.8h1.5v1h-1.5zM441.2 216.7h1.1v1.1h-1.1zM441.3 233h1v1.4h-1zM442.3 241.4h1.1v1.2h-1.1zM441 236.7h1.2v1.1h-1.2zM441.5 227h1.1v1.2h-1.1zM441 229.2h1.4v0.9h-1.4zM440.8 244.5h0.9v1.4h-0.9zM442.1 231.1h1.2v1.1h-1.2zM450.8 209.9h0.7v0.7h-0.7zM449.3 222.4h0.9v0.8h-0.9zM452.8 199.4h1v1.5h-1zM453.2 206.7h0.9v0.9h-0.9zM453 221.4h1.1v1.2h-1.1zM451.7 223.1h1.5v0.8h-1.5zM452.7 208.9h0.8v0.8h-0.8zM451.6 219.8h1.5v1.4h-1.5zM454.4 196.5h1.3v1.3h-1.3zM453.5 217.6h2v1h-2zM453.2 225.4h1.9v1.2h-1.9zM454.3 203.5h1.6v1h-1.6zM456.1 171.2h0.9v0.8h-0.9zM455.2 205.3h1v0.9h-1zM455.7 181.4h1.3v1.4h-1.3zM455.6 196.3h1v1.4h-1zM456.7 160.2h0.9v1.2h-0.9zM456 182.8h1.4v1h-1.4zM455.2 194.2h1.2v1.4h-1.2zM456.2 170.6h1v1.4h-1zM457.3 195.8h0.9v0.9h-0.9zM456.1 193.4h1v0.8h-1zM456.3 199.6h0.9v1.2h-0.9zM456.9 185.5h1.4v1h-1.4zM456.3 178h1v0.9h-1zM456 159.3h1v1.3h-1zM456.1 206.8h1v1.1h-1zM456.2 155.5h1.3v1.1h-1.3zM463.6 222.2h1.3v0.8h-1.3zM465.7 223.4h1.1v1.5h-1.1zM464 231.6h1v0.8h-1zM464.4 228.5h0.9v1.3h-0.9zM463.6 230.1h1.2v1.2h-1.2zM464.3 241.8h1.3v1.5h-1.3zM463.6 228.7h1.1v1.2h-1.1zM464.4 230.4h1.1v1h-1.1zM465 231.1h1.1v1.2h-1.1zM463.5 245.6h1.1v1.4h-1.1zM471.6 208.6h0.8v1.1h-0.8zM471.1 202.2h1v1h-1zM471.2 216.4h0.8v1h-0.8zM472.5 222.5h1.2v1.2h-1.2zM473.9 216.1h0.9v1.3h-0.9zM474.9 195h1.1v1.2h-1.1zM470.6 211.3h0.9v1.4h-0.9zM474.5 225.1h1.3v1h-1.3zM474.9 225.1h1.3v0.8h-1.3zM474 212h0.9v1.2h-0.9zM475.5 222.7h0.9v1.4h-0.9zM474.7 201.8h1.2v1.4h-1.2zM474.6 219.7h1.5v1h-1.5zM476.2 199.7h1.1v1.3h-1.1zM475.5 192.8h1.6v1.1h-1.6zM476.7 217.2h1.2v1h-1.2zM475.3 201.4h1.7v1.1h-1.7zM478 150.8h1.3v1.1h-1.3zM477.4 173.4h1.1v1h-1.1zM478 159.5h0.9v1.4h-0.9zM479.2 153.7h0.8v0.9h-0.8zM477.6 206.7h1v1h-1zM477.9 196.3h1v1.4h-1zM479 193.8h1.2v0.9h-1.2zM477.4 211.9h1.4v1.2h-1.4zM479.2 153.8h1.4v1.3h-1.4zM478.2 186.5h1.3v1.4h-1.3zM478.5 189.8h1.2v1.3h-1.2zM477.1 156.3h1v0.9h-1zM477.4 210.1h1.1v1.4h-1.1zM485.9 231.7h1.2v0.9h-1.2zM486.3 247.8h0.9v0.9h-0.9zM486.2 239.1h1.2v1.3h-1.2zM494.2 210.3h1.3v1.3h-1.3zM493.7 216.1h1.1v1.2h-1.1zM492.1 215.8h0.8v1.1h-0.8zM492.4 225.5h1v1.4h-1zM496.7 211.5h0.9v1h-0.9zM496.9 206.7h0.9v1.3h-0.9zM497.2 213.9h1v1.5h-1zM496.4 208.2h0.9v0.9h-0.9zM496.5 203.4h1.1v1.3h-1.1zM497.1 223.3h1.4v1.2h-1.4zM498.3 205.6h1.7v1.1h-1.7zM498.9 206.2h1.9v1.1h-1.9zM501.1 162.9h0.8v0.7h-0.8zM499.8 195.4h1.2v1.3h-1.2zM500.4 179.5h1.3v1.3h-1.3zM499.7 187.7h0.8v0.9h-0.8zM500.2 162.5h0.9v1.1h-0.9zM500 161.1h1.2v0.9h-1.2zM501.2 169.5h1.2v1.2h-1.2zM498.9 185.8h0.8v1.2h-0.8zM499.2 162.2h0.9v1.6h-0.9zM501.8 195h1.2v1.2h-1.2zM501.5 198.9h1.1v1.5h-1.1zM500.6 221.9h1v0.9h-1zM499.7 224h0.9v1.1h-0.9zM500.4 231.1h0.9v1.5h-0.9zM499.8 224.4h1.3v1.5h-1.3zM500 223h1v1.2h-1zM499.9 223.3h1.4v1.3h-1.4zM507.4 216.6h1v0.7h-1zM506.2 221.7h1v0.8h-1zM507.2 232.8h1v1.3h-1zM507.3 244.1h1v0.8h-1zM507.3 248.1h0.9v1.2h-0.9zM517.1 222.4h1v0.8h-1zM515.9 189.4h0.9v0.8h-0.9zM515.3 192h1.2v0.8h-1.2zM514.1 210.2h1.1v1.1h-1.1zM514.5 198.8h0.8v1.2h-0.8zM514.7 220.3h0.7v1.6h-0.7zM515.1 226.9h1.4v1.3h-1.4zM518.9 208.9h0.8v1h-0.8zM518.5 204.2h1.2v0.9h-1.2zM518.2 220.4h1.1v1.1h-1.1zM519 203.3h1.1v1.3h-1.1zM519.9 214.9h1.5v1.2h-1.5zM520.8 192.8h1.4v1h-1.4zM523.4 191.3h0.7v1h-0.7zM522.3 196.4h0.8v1.3h-0.8zM521.8 178.8h0.9v1.1h-0.9zM523.3 213.1h0.8v0.9h-0.8zM522.3 190.4h1v1.1h-1zM524.2 207.1h1v1.4h-1zM521.1 153.1h1.1v1.3h-1.1zM523.1 228.7h1v0.9h-1zM522.9 223.1h1.3v0.8h-1.3zM521.9 234.6h0.9v1h-0.9zM523 229.2h0.8v1.1h-0.8zM528.6 230.9h1.1v0.8h-1.1zM529.7 242.2h1v1.5h-1zM530.1 239.8h0.9v1h-0.9zM530.6 246.9h1.2v0.9h-1.2zM530.4 245.6h1.1v1.2h-1.1zM530.6 240.8h0.9v1.3h-0.9zM537.6 204.6h0.8v1.2h-0.8zM540.8 216.4h1.5v1.1h-1.5zM540.9 204.7h1.2v0.8h-1.2zM540.7 201.7h0.9v1.4h-0.9zM541.1 217.4h1.4v1h-1.4zM540.8 222.7h0.8v1.2h-0.8zM540.5 217.2h1.4v0.9h-1.4zM542.9 200.8h1v1.2h-1zM542.6 209h1.2v1.3h-1.2zM542.3 204.9h1.4v0.9h-1.4zM544.8 200h0.8v0.9h-0.8zM545.6 174h0.8v1h-0.8zM543.3 166h0.9v0.8h-0.9zM544 197.8h1.1v1.1h-1.1zM542.7 204.2h1.1v0.9h-1.1zM545.2 224.1h1.1v1.3h-1.1zM544.7 234.3h0.9v1.1h-0.9zM545 230.3h1.2v1h-1.2zM543.9 223.6h1.4v1.4h-1.4zM545 232.7h1.1v0.8h-1.1zM550.9 238.9h0.9v1.4h-0.9zM552 243.3h0.9v1.3h-0.9zM553.1 238h1.2v1.3h-1.2zM559.2 213.6h1.3v0.7h-1.3zM559 217.3h0.8v1.1h-0.8zM559.9 219.6h1.3v0.7h-1.3zM558.7 205.1h1v1.5h-1zM563.1 218.1h1.2v1.1h-1.2zM563.3 208.2h0.9v0.8h-0.9zM562.1 213.4h1.4v1h-1.4zM563.3 217.1h1v1h-1zM562.6 205.1h1.4v1.5h-1.4zM564.5 207.7h1.9v1.2h-1.9zM564.1 204.5h1.8v1.1h-1.8zM566.7 184.3h1v0.8h-1zM567.8 191.7h0.8v0.9h-0.8zM566.2 191.1h0.7v1.3h-0.7zM567.5 160.2h1v0.9h-1zM565.1 207.5h1v1.4h-1zM565.2 165.9h1.1v1h-1.1zM567.9 169.2h1v1.1h-1zM568 194h1v1.5h-1zM568 175.8h1.1v1h-1.1zM568.3 190.5h1v0.9h-1zM565.5 175.3h0.8v1h-0.8zM567 231.7h1v1.2h-1zM575.7 223.8h1.2v1h-1.2zM573.2 242.5h1.2v1.3h-1.2zM573.3 242.4h1.1v1.4h-1.1zM573.9 243.2h0.9v1.3h-0.9zM573.7 238.6h1.4v1.1h-1.4zM574.7 246h1.2v1h-1.2zM574.5 246.3h0.8v1h-0.8zM582.6 211.7h0.9v1.1h-0.9zM584.4 205.5h1.1v0.9h-1.1zM583.1 222.7h1.2v1.2h-1.2zM582.8 229.4h1v1h-1zM584.5 201.3h1.1v0.9h-1.1zM585.8 208.4h1.8v1.1h-1.8zM587.2 212.9h1v1.2h-1zM589.9 176.5h0.8v0.8h-0.8zM590.2 172.5h0.7v0.8h-0.7zM588.3 160.8h0.9v0.9h-0.9zM587.1 172.4h1.2v1.4h-1.2zM590.1 202.2h1v1.6h-1zM590.3 208.4h1.1v1.5h-1.1zM587 188.5h1v0.9h-1zM588.5 225.7h0.8v0.9h-0.8zM597.8 218.8h0.9v0.8h-0.9zM595.9 215.5h0.7v0.9h-0.7zM597 221.8h1.1v1h-1.1zM594.6 232.3h0.9v1.5h-0.9zM596.8 249.3h1.2v1.1h-1.2zM596.4 247.1h0.9v1.2h-0.9zM596 241.5h1v0.8h-1zM604 200.3h1.2v0.8h-1.2zM607.1 209h0.9v0.8h-0.9zM602.4 224.8h0.9v1.1h-0.9zM604.5 227.5h1.2v1.4h-1.2zM606.4 202.2h1.2v1.1h-1.2zM606.8 214.3h1.3v1.5h-1.3zM608 215.2h0.9v1.5h-0.9zM606 201.9h1.4v1.3h-1.4zM606.8 214.4h1.5v1.3h-1.5zM607.2 219.4h0.9v1.1h-0.9zM608.1 222.1h1.2v1.3h-1.2zM608.3 192.4h1.7v1.2h-1.7zM610.7 164.5h1.2v0.8h-1.2zM609.9 204.5h1.2v1.1h-1.2zM609.5 218.1h0.8v1h-0.8zM610.4 196.8h1.1v1h-1.1zM611.1 152.6h0.7v0.9h-0.7zM612.6 181.2h1.1v1.1h-1.1zM610.8 226.5h1.3v0.9h-1.3zM610.9 229.7h1v1.4h-1zM617.2 228.3h0.7v1h-0.7zM618.7 232.8h0.9v1.3h-0.9zM618.6 228.4h0.9v0.8h-0.9zM617.6 237.4h1.2v1.2h-1.2zM618.8 239.7h1.3v0.9h-1.3zM619 245.5h1v0.9h-1zM626.5 229.2h1.2v1.1h-1.2zM629 201.3h1.2v1.1h-1.2zM629.3 203.1h0.9v0.9h-0.9zM628.4 202.1h0.9v1.2h-0.9zM629.4 221.7h1v1h-1zM629.2 211.1h0.9v1.4h-0.9zM630.5 223.8h1.5v1.1h-1.5zM630.4 209.4h1.5v1.2h-1.5zM632 189.8h0.9v0.8h-0.9zM633.1 202.3h0.9v1.1h-0.9zM633.1 170.7h0.8v0.7h-0.8zM631.8 216.5h1.2v1.2h-1.2zM632.7 165.1h1v1.3h-1zM633.3 171h1.1v1h-1.1zM632.3 175.3h1v1h-1zM631.5 166.7h0.9v1h-0.9zM634.7 219h1v1h-1zM631.4 167.9h0.9v1.4h-0.9zM632.4 233h1.2v0.9h-1.2zM633.8 234.3h0.8v1.5h-0.8zM633.1 227.1h1.2v1.5h-1.2zM632.8 229.6h1.1v1.2h-1.1zM641.5 225.1h0.9v0.9h-0.9zM642.5 230.9h0.8v1.3h-0.8zM638.3 236.1h0.9v1h-0.9zM642.5 232.9h0.7v1.4h-0.7zM639.3 243.2h1.3v1h-1.3zM639.5 238h0.8v1.2h-0.8zM639.5 249.6h1.4v1.1h-1.4zM640 239.9h0.9v1.1h-0.9zM639 249.1h1v1.3h-1zM640.9 238.2h1.4v0.9h-1.4zM639.8 241.7h1.2v1.5h-1.2zM647.9 203.8h0.8v1.2h-0.8zM647.3 200.7h1.3v1h-1.3zM648.4 190.8h0.9v0.9h-0.9zM650.2 199.9h1.3v1.2h-1.3zM646.9 197.1h0.9v1h-0.9zM648.9 229h1.3v1.1h-1.3zM651.5 204.4h1v1.1h-1zM650.8 212.8h1.1v1.1h-1.1zM651.2 222.9h0.8v1.2h-0.8zM650.7 217.5h1v0.9h-1zM653.3 219.8h1.6v1.2h-1.6zM654.8 204.4h1.2v1h-1.2zM653.7 150.8h1.3v1.1h-1.3zM654 195.4h0.9v0.9h-0.9zM655.5 181.7h1.2v0.8h-1.2zM653.1 168.9h0.9v1h-0.9zM654.1 224.3h1.4v0.9h-1.4zM655.8 219.1h0.8v1.4h-0.8zM654.1 220h1.2v0.9h-1.2zM190.9 609.3h2.8v2.2h-2.8zM206.4 589.5h2.4v3h-2.4zM231.6 609.3h2.8v2.2h-2.8zM272.4 609.3h2.8v2.2h-2.8zM315.8 610h1v1.1h-1zM314.1 624.6h1v1.1h-1zM313.7 627.5h0.8v1.2h-0.8zM314.5 621.6h1.1v1h-1.1zM329.6 547.5h1v1.1h-1zM330.6 564.7h1.2v0.8h-1.2zM331.3 560.5h0.8v0.9h-0.8zM331.3 556.3h1.2v1.1h-1.2zM329.9 579.5h1.2v1.3h-1.2zM331.2 594h1.1v1.4h-1.1zM329.1 600.4h1.2v1.4h-1.2zM330.3 596.9h1v1.3h-1zM334.6 612.4h1.1v1.2h-1.1zM335.7 613.2h1v1h-1zM335.1 616.7h0.8v0.9h-0.8zM333.8 624.9h1.3v1.4h-1.3zM335.1 625.5h0.8v0.9h-0.8zM334.3 617.8h0.9v1.1h-0.9zM334 622.4h1.3v1.2h-1.3zM333.7 629.6h1.2v1.5h-1.2zM341.3 564.5h1.2v0.8h-1.2zM340.8 579.3h0.8v1h-0.8zM341.5 594.7h1v1.2h-1zM341 591.7h1v1.2h-1zM340.5 597.9h1.2v1h-1.2zM342.3 581.6h0.7v1.2h-0.7zM341.1 604.9h1.1v0.8h-1.1zM340.6 599.3h1.2v1.2h-1.2zM341.1 591.2h1.2v1h-1.2zM342.3 590.5h1.2v0.8h-1.2zM339.9 590.8h1v1h-1zM342.8 590h0.8v1.5h-0.8zM342.2 610.7h1.3v1.1h-1.3zM341.5 608.5h0.8v1.5h-0.8zM341.8 624.7h1.1v1.2h-1.1zM341.2 622.6h1.2v1h-1.2zM349.5 566.8h1.1v0.8h-1.1zM349.8 546.9h1.1v1.1h-1.1zM351.2 568.5h0.7v1.3h-0.7zM350 584.4h1.1v1.1h-1.1zM352 587.8h1v0.9h-1zM351.3 597.5h0.9v1.1h-0.9zM350.2 608.3h0.9v1h-0.9zM349.2 596.5h1v1.2h-1zM349.1 599.2h1.3v1h-1.3zM349.9 597.7h1.3v1.4h-1.3zM356.6 614.2h0.7v1.2h-0.7zM353.4 627.7h1.3v1.2h-1.3zM354.3 629.4h1.4v1.3h-1.4zM354.3 626.7h1.4v1.4h-1.4zM355 626.3h0.9v0.8h-0.9zM355.3 619.9h1.3v1.2h-1.3zM353.5 622.1h1v1.1h-1zM354.5 627.1h1.1v1h-1.1zM360.8 577.6h1.1v1.1h-1.1zM362.4 607.9h1.3v1h-1.3zM362 592.4h0.7v0.9h-0.7zM362.4 559.4h1.3v1h-1.3zM361.9 603.2h1.2v1.2h-1.2zM362.9 602.4h1.1v1.3h-1.1zM360.4 571.3h0.8v1.3h-0.8zM360.5 560.9h1.2v1.4h-1.2zM361.3 615.5h1.3v1.3h-1.3zM362.1 613.2h1v1.2h-1zM370.6 568h0.7v0.8h-0.7zM370.4 596.4h1.2v1.1h-1.2zM370.8 585.6h1.1v1.2h-1.1zM371.1 554h0.7v1.1h-0.7zM369.7 596.3h0.9v1.1h-0.9zM371.7 564.9h1.1v1.2h-1.1zM371.8 568.5h1v1.2h-1zM370.7 555.4h1.1v1.3h-1.1zM372.6 591.3h0.8v0.8h-0.8zM368.8 586.5h1.1v0.9h-1.1zM370 599.5h1v0.8h-1zM370.8 601.1h1.1v1.3h-1.1zM371.7 603.3h1v1h-1zM370.1 607.4h0.9v1h-0.9zM370.7 601.2h0.8v1h-0.8zM377 616.6h1.2v1.6h-1.2zM377 615.3h1v0.8h-1zM374.6 629.2h1.1v1h-1.1zM374.1 625.9h1.1v0.9h-1.1zM375 629.3h0.9v1.4h-0.9zM374.4 630.7h1v1.2h-1zM375.1 629.8h0.8v1.2h-0.8zM382.9 609.3h1v0.7h-1zM381.3 583.8h1.2v1.3h-1.2zM382.8 558.3h1v1.1h-1zM380.9 578.4h0.8v1.1h-0.8zM382.8 614.5h1v1.1h-1zM382.5 612.6h1.4v1h-1.4zM382.2 620.1h1.4v1.1h-1.4zM391 561.4h0.8v1.2h-0.8zM393.1 582.2h0.9v0.8h-0.9zM392.7 596.7h0.7v0.7h-0.7zM390.3 568.2h1.3v0.9h-1.3zM392.6 549.3h0.9v0.9h-0.9zM390.6 549.4h1.1v1.2h-1.1zM391.5 590.8h1.2v1h-1.2zM392.4 555.4h0.8v0.9h-0.8zM390.7 573.2h1v0.8h-1zM391.8 570.3h1v1.3h-1zM390 571.6h1.1v1.6h-1.1zM391.8 603.1h1v1.1h-1zM390.2 609.3h0.9v0.9h-0.9zM389.7 605.8h1.1v1.2h-1.1zM397.1 609.3h0.8v1h-0.8zM395.6 612.4h0.9v1.1h-0.9zM397.4 620h0.7v1.5h-0.7zM395.8 622.4h1v1.3h-1zM395.7 627h0.9v1h-0.9zM395.7 621.9h1.3v1.1h-1.3zM394.6 633.1h0.8v1h-0.8zM394.8 625h1v1.1h-1zM395.2 623.5h0.9v1.1h-0.9zM402 593.6h1.2v1.1h-1.2zM403.8 608.2h1v1h-1zM403.6 561.8h1.3v0.8h-1.3zM402.5 625.6h1.1v1.4h-1.1zM402.4 625.8h1v1.4h-1zM403.4 617.4h0.9v1.2h-0.9zM411.1 579.4h1v1.2h-1zM412.7 566.6h1.2v1h-1.2zM410.3 559.8h1.1v1.1h-1.1zM413.3 588.9h1.1v1.4h-1.1zM410 579.4h0.8v1.2h-0.8zM410.3 612.8h1.1v0.9h-1.1zM412.8 607.2h1v0.9h-1zM410.5 605.5h1v1.2h-1zM417.5 612.1h1v1h-1zM416.5 625.5h1.1v0.9h-1.1zM416.9 623.5h1.1v1h-1.1zM414.4 627.9h1.3v1.5h-1.3zM423.1 566.2h1.1v1h-1.1zM422 577.9h1.2v1.3h-1.2zM424.1 602h0.7v1.2h-0.7zM422.2 568.4h0.9v1.1h-0.9zM424.2 606.8h1.1v0.8h-1.1zM424 576.9h1.1v1h-1.1zM422 603.7h0.8v1h-0.8zM422.4 620.5h0.9v1.3h-0.9zM422.6 625.4h0.9v1.2h-0.9zM430.6 598.1h0.8v1.1h-0.8zM431.5 596.5h1.1v1.1h-1.1zM430.7 582.8h1v0.8h-1zM432 562.1h0.9v1.3h-0.9zM432.2 553.7h1.2v1.3h-1.2zM430 584.8h1v1.2h-1zM430.8 581.6h0.7v1.2h-0.7zM431.7 544.2h0.7v1h-0.7zM433.4 559.3h0.9v1.1h-0.9zM432.2 594h1v0.9h-1zM432.5 608.1h0.8v1.4h-0.8zM432.8 606h1v0.9h-1zM432.4 605.6h1.3v1.1h-1.3zM434.8 609.9h1.2v1.2h-1.2zM435.9 607h1.1v1h-1.1zM437.1 612.1h1v1.2h-1zM435 628.7h1.3v1.2h-1.3zM435.3 625.4h1v1.2h-1zM436.5 632.1h1.3v1.4h-1.3zM435.3 635.6h1.1v1h-1.1zM442.8 600.5h1.1v0.7h-1.1zM442.8 591.4h1.3v0.8h-1.3zM442.6 567.3h1.1v1.2h-1.1zM444 561.6h1v0.9h-1zM443.4 587.6h1.2v1.1h-1.2zM442.5 587.8h1.1v1.1h-1.1zM444.6 608.7h0.9v1.3h-0.9zM444.9 602.1h1v1.5h-1zM443.8 624.3h1.3v1.2h-1.3zM443.5 626.5h1v1.3h-1zM443.6 627.7h1.1v1h-1.1zM444 620h1.2v1.4h-1.2zM443.8 624.7h1.2v0.8h-1.2zM443.7 621.1h1.4v1.2h-1.4zM451.8 573.2h0.7v0.8h-0.7zM451.3 564.6h1.2v1.2h-1.2zM454.5 596.6h0.9v1.3h-0.9zM453.1 602h1v0.9h-1zM451.8 562h0.9v0.8h-0.9zM452.7 576.8h1.3v0.8h-1.3zM454.3 570.8h1v1.6h-1zM454.1 548.3h1.1v1.4h-1.1zM453 619.7h1.4v1.4h-1.4zM451.5 616.9h0.9v1h-0.9zM451 619.6h1.4v1.1h-1.4zM457.9 611.5h0.7v0.8h-0.7zM457.6 626.1h0.9v1.5h-0.9zM455.1 629.2h0.9v0.9h-0.9zM455.7 631.7h1.4v1.4h-1.4zM457 634.4h1.3v1.2h-1.3zM457.2 628.2h1v1.5h-1zM463.6 600.2h1.3v1.3h-1.3zM462.7 569.9h0.8v0.9h-0.8zM465.6 614.7h0.8v0.9h-0.8zM463.1 626.7h1.1v0.9h-1.1zM464.8 625.5h1v1.1h-1zM464.4 633.4h1.1v1.5h-1.1zM473.9 601.9h1.1v0.8h-1.1zM471.5 608.3h1.2v1.2h-1.2zM471.9 554.2h1v0.9h-1zM472.8 565.8h0.8v0.8h-0.8zM472.5 596.3h1.1v1h-1.1zM475.3 587.4h1v1.4h-1zM473.1 615.6h0.9v0.9h-0.9zM472.1 613.7h1v1.4h-1zM472.9 615.4h1.3v1.5h-1.3zM476.2 606.2h0.7v1h-0.7zM476.6 626h1v1.3h-1zM476.7 635h1v1.2h-1zM477.6 627h1.2v1.5h-1.2zM475.9 636.8h1.3v0.9h-1.3zM484.5 608.5h1.3v0.9h-1.3zM483.2 586.3h0.9v0.9h-0.9zM484.6 626.2h1.4v1.3h-1.4zM484.7 625.8h0.9v1.1h-0.9zM484.3 623.1h0.9v1.1h-0.9zM484.4 623.2h1.4v0.9h-1.4zM484.9 628.2h0.9v1.3h-0.9zM493.9 603.9h0.9v1.1h-0.9zM491.5 586h0.9v1h-0.9zM492.5 588.6h0.9v0.8h-0.9zM495.2 587.5h0.8v1.2h-0.8zM493.5 615h1v1.3h-1zM492.4 619.4h1.1v0.8h-1.1zM493.5 615.9h1.3v1.1h-1.3zM493.4 615.9h1.2v1.4h-1.2zM492.4 612.7h0.9v1.3h-0.9zM497.4 614.4h1.2v1h-1.2zM496.1 633.1h1.3v1.1h-1.3zM496.9 634.4h1.3v0.9h-1.3zM496.2 628.9h1.1v0.9h-1.1zM497.5 630.4h1.3v1.5h-1.3zM505.3 590.5h0.9v1h-0.9zM505.5 618.2h1v1.3h-1zM503.7 590.9h0.9v0.9h-0.9zM504.6 597.5h1.2v1.2h-1.2zM505.5 622.6h1.4v1.4h-1.4zM505 626.6h1.2v0.9h-1.2zM504.6 631.5h1.3v1.3h-1.3zM512.2 588h1.2v1.1h-1.2zM513 599.8h0.9v1h-0.9zM512.9 581h0.7v1.2h-0.7zM513 551.2h0.9v0.9h-0.9zM515.3 603.2h1v0.9h-1zM513.6 544.6h0.7v1.1h-0.7zM512.1 568.9h1.1v1.6h-1.1zM515.6 568.5h0.8v1.3h-0.8zM511 601.1h0.8v1.3h-0.8zM512.4 554.4h0.7v1.1h-0.7zM511 600.6h1.1v1.2h-1.1zM515.8 599.9h1v1.1h-1zM515.6 581.3h1v1h-1zM512.1 613.7h1.2v1.1h-1.2zM513.3 616.1h1.3v1.2h-1.3zM513 620h0.9v1.1h-0.9zM512.5 615.9h1.2v0.9h-1.2zM518.1 623.9h0.8v0.9h-0.8zM519.3 612.7h1v1h-1zM517.2 631.8h0.8v1h-0.8zM518.3 630.9h1.4v1.2h-1.4zM516.1 632.1h1.3v1.3h-1.3zM518.3 632.4h1.4v1h-1.4zM516.9 636.3h0.9v0.9h-0.9zM517.5 627.1h0.8v1h-0.8zM524.6 597h1.2v0.9h-1.2zM525.2 567.4h1v1.3h-1zM523.8 579h1.3v1.2h-1.3zM525.5 577.3h1.3v1h-1.3zM524.8 607.3h1v1.1h-1zM524.8 588.5h0.7v0.8h-0.7zM525.9 558h0.8v0.8h-0.8zM525.8 582.2h0.8v1h-0.8zM523.8 559.4h0.8v1.1h-0.8zM523.6 599.3h1.1v1h-1.1zM524.1 622.5h1.3v1.4h-1.3zM524.3 623.6h1.4v1.4h-1.4zM525.2 630.1h0.9v1.3h-0.9zM533 573.3h0.9v1.2h-0.9zM533.6 544.8h1v0.9h-1zM534.3 551.8h1.2v1.3h-1.2zM533.2 620.6h1.3v1.1h-1.3zM533.8 615h0.9v1.2h-0.9zM532.6 620.9h1.4v1.4h-1.4zM538.2 619.9h0.7v0.9h-0.7zM536.2 607.2h1.1v0.8h-1.1zM536.4 612.9h1.2v1.6h-1.2zM537.5 632.1h0.8v1h-0.8zM537.9 631.6h1v1h-1zM538.1 633h1v1.2h-1zM538.6 632.8h1v0.9h-1zM545.1 584.5h0.8v0.8h-0.8zM545.3 574.7h0.7v0.7h-0.7zM546.3 572h0.8v1.2h-0.8zM544.2 617h1v0.9h-1zM546 626.4h1.2v1.1h-1.2zM544.9 636.6h1.2v1.1h-1.2zM555.4 599.4h0.7v1h-0.7zM554.7 544.2h1.1v1.3h-1.1zM555.5 569.7h0.9v1.2h-0.9zM553.2 558.7h0.8v1.5h-0.8zM553.4 544.7h1.1v1.6h-1.1zM554.1 626.8h1.3v1.1h-1.3zM554.1 625.7h0.9v1.4h-0.9zM552.9 624.6h1.2v1.4h-1.2zM553 623.4h1.3v1.3h-1.3zM553.9 626.3h1.2v0.9h-1.2zM557.6 634.4h1.2v1.2h-1.2zM557 636.7h1.4v1.3h-1.4zM558.8 629.4h1v0.9h-1zM557.1 635.5h1.2v1.2h-1.2zM558.2 630h1.1v1h-1.1zM559.4 629.2h1v1.3h-1zM559.5 627.4h1.1v1.4h-1.1zM567.1 589.9h0.9v0.8h-0.9zM564.8 585.4h1v1.1h-1zM567.1 600.5h1.1v1.3h-1.1zM566.6 579.8h1.2v0.7h-1.2zM567.3 589h0.9v1.2h-0.9zM567.7 610.5h0.8v0.9h-0.8zM565.7 633.8h1.1v0.8h-1.1zM566.6 623.8h1.4v1.4h-1.4zM575.1 575.1h1.2v0.7h-1.2zM576.7 614h0.8v0.9h-0.8zM575 546.7h1.3v1h-1.3zM575.8 602.3h1v1h-1zM572.6 600.1h1.2v1.2h-1.2zM575 561.5h0.9v1.2h-0.9zM574.1 602.5h1.2v0.8h-1.2zM573.6 573.5h1.3v0.9h-1.3zM573.3 560.9h1v1h-1zM572.4 601.4h0.8v1.5h-0.8zM575 621.8h1v1.2h-1zM574.3 626.7h1.3v1.2h-1.3zM574.1 630h1v1.1h-1zM579.5 632.3h0.9v1.3h-0.9zM584.7 620.8h1.3v0.9h-1.3zM584.9 598.2h1.1v0.9h-1.1zM587.3 562.9h1.2v0.7h-1.2zM585.5 617.2h1v1h-1zM584.7 596.8h0.7v1.4h-0.7zM586.2 629.1h1.2v1.3h-1.2zM585.6 628h1.3v1h-1.3zM586.3 632.9h1.3v1.1h-1.3zM586.3 636h1.1v1.1h-1.1zM586 630.2h1v0.9h-1zM594.9 570.4h1.1v0.8h-1.1zM596 556.7h1v0.7h-1zM597.8 608.1h0.9v1.2h-0.9zM597.4 599h1v1.3h-1zM597.4 583.9h1.1v1.6h-1.1zM593.7 567.5h0.9v0.9h-0.9zM596.1 627.8h1v1.3h-1zM594.2 624.4h1.4v1.1h-1.4zM594.2 625.7h1.1v1.2h-1.1zM596.2 624.7h1.4v1.3h-1.4zM594.8 625.6h1.1v1.3h-1.1zM599.1 609.4h0.9v1.3h-0.9zM598.3 625.5h0.9v1.2h-0.9zM596.9 620.2h1.1v1.6h-1.1zM599.3 629.1h1v1.3h-1zM599.3 632.4h1.3v1.4h-1.3zM605.7 617.5h0.9v1h-0.9zM605.2 578.5h1.2v1.2h-1.2zM605.6 578.1h0.9v1.2h-0.9zM607.3 623.1h1.3v1h-1.3zM608.4 602.9h1v1.4h-1zM606.9 629.5h1.2v1h-1.2zM607.2 627h1.4v1h-1.4zM605.8 637.4h1.3v0.9h-1.3zM616.3 608.5h1v0.9h-1zM617.2 549.4h0.9v1.2h-0.9zM616.1 619.1h1.2v1.2h-1.2zM616 622.8h1.3v0.9h-1.3zM615.7 571.5h1v1h-1zM614.3 560.4h0.8v1.5h-0.8zM614.7 568.1h0.8v1.6h-0.8zM613.2 593.8h1v1h-1zM616.9 550.6h1.1v1.3h-1.1zM618.2 604.5h0.9v1.6h-0.9zM614.9 626.2h1.3v1.4h-1.3zM614.2 624.1h1.1v0.8h-1.1zM621.2 606.5h0.9v1h-0.9zM618.4 615.6h0.9v0.8h-0.9zM621.6 618.1h0.8v1.4h-0.8zM621.8 622.8h0.9v1.4h-0.9zM618.1 627.8h1v0.9h-1zM618.7 630.6h0.9v1.1h-0.9zM618.1 629.7h1.4v1.2h-1.4zM619.8 637.4h1v1.3h-1zM619.2 636.2h1.1v1.2h-1.1z"/><path fill="#078a08" d="M252.2 201.8h1.1v1.2h-1.1zM250.8 204.8h0.8v0.9h-0.8zM253.1 191.1h1.3v1.3h-1.3zM251.8 201.7h1.4v1.3h-1.4zM251.6 210.8h1.3v0.9h-1.3zM251.8 188.6h1.4v0.8h-1.4zM251.7 210.4h1.3v1h-1.3zM273.1 211.3h1v1.4h-1zM274.3 200.2h1.2v1h-1.2zM274.3 189.7h0.9v1.1h-0.9zM273 211.3h1.3v0.9h-1.3zM273.2 205.5h1.1v1.5h-1.1zM275 203.4h0.9v1.1h-0.9zM274.4 197.9h1.4v1.3h-1.4zM296.8 201h1.2v1h-1.2zM297 196h0.9v1.4h-0.9zM296.5 205.7h1.2v1.4h-1.2zM295.9 197.1h0.9v1.1h-0.9zM295.8 202.6h1.4v1.2h-1.4zM297.3 191.1h1.2v1.4h-1.2zM296.6 194h1v1.3h-1zM297.1 189h0.8v1.1h-0.8zM295.4 199.9h0.9v1h-0.9zM318.3 199.1h1v1h-1zM318.4 188.7h1v1.5h-1zM317.6 191.5h1.2v1.2h-1.2zM318.2 205.2h1.2v0.9h-1.2zM318.1 205.4h1.4v1.4h-1.4zM319 200.6h1.3v1.4h-1.3zM340.4 191.1h1v1.4h-1zM341.5 200.3h0.9v1.1h-0.9zM339.5 201.8h0.9v1.3h-0.9zM338.8 203.9h1.5v1.1h-1.5zM340 188.1h1.5v1h-1.5zM340.1 197.2h1v1h-1zM340.6 199.9h1.3v1.3h-1.3zM340.7 188.4h1.4v1.3h-1.4zM352.3 219.8h1.1v0.8h-1.1zM361.2 205.6h1.3v1h-1.3zM362.4 202.3h1.1v1.1h-1.1zM361.4 205.5h1.1v1.1h-1.1zM362.1 198.7h0.9v0.7h-0.9zM360.9 205.2h0.9v1.3h-0.9zM361.3 211.5h1.2v1.3h-1.2zM363.1 197.9h1.1v0.8h-1.1zM362.8 197.6h1.1v0.9h-1.1zM360.7 210.1h1.2v0.9h-1.2zM361.3 200.3h1.2v1.2h-1.2zM362.2 194.3h1.1v0.8h-1.1zM362.8 206.2h0.9v1.3h-0.9zM363.6 192.3h1.2v1.2h-1.2zM361.7 192.3h1.1v0.9h-1.1zM360.6 203.4h1.2v1.1h-1.2zM363.8 200.3h0.9v1.1h-0.9zM364.1 216.4h1v1.3h-1zM363.8 219.7h0.9v1.2h-0.9zM364.3 222.9h1.1v1.4h-1.1zM364.4 218.7h1.2v1.4h-1.2zM363.8 202h1.1v1.2h-1.1zM363.9 220.1h1.4v1.1h-1.4zM368.1 182.9h1.3v0.9h-1.3zM368.1 198.3h0.9v1.5h-0.9zM368.5 156.8h1.3v1.5h-1.3zM368.1 162.8h1.4v0.9h-1.4zM367.2 168.9h0.8v1h-0.8zM367.8 168.6h1v1.3h-1zM367.8 200h1.1v1.1h-1.1zM368.6 201.9h1.3v1.2h-1.3zM368.6 172.5h1.5v1.4h-1.5zM367.2 186.9h1.3v1.2h-1.3zM368 203.1h1.4v1.1h-1.4zM367.2 173h1.2v1.4h-1.2zM374.6 218h1v0.8h-1zM383.2 196.6h0.9v1.1h-0.9zM384.6 211.1h0.7v1.2h-0.7zM385.6 190.9h1.1v1h-1.1zM383.7 208.5h1.2v1.3h-1.2zM385.4 204.8h1.2v1.2h-1.2zM385.1 211.7h1.2v0.8h-1.2zM383.8 209.8h0.9v1h-0.9zM384.5 213.7h1.2v0.8h-1.2zM386.2 200.8h0.8v1.6h-0.8zM386.1 204.5h0.9v0.9h-0.9zM382.4 211.3h1.1v1.5h-1.1zM385.1 213.8h0.8v1.2h-0.8zM382.8 198.4h1v1.1h-1zM386.4 209h0.9v1h-0.9zM386.6 210.4h0.9v1.1h-0.9zM389.1 159.6h0.8v0.8h-0.8zM389.2 193.9h0.9v1.1h-0.9zM390.2 172.3h1.2v1.4h-1.2zM389.2 161.1h1.3v0.8h-1.3zM390.3 186h1.5v1.4h-1.5zM389.5 177.8h1.2v1.3h-1.2zM389 156.8h1.4v1.4h-1.4zM389.8 177.1h1v1.4h-1zM399.1 220.3h1.1v1.3h-1.1zM405.8 198.9h1.3v1.1h-1.3zM404.9 219.3h1v1h-1zM406.9 198.3h1.2v0.8h-1.2zM406.2 201.4h1.1v1.2h-1.1zM407.8 192.1h0.9v1.1h-0.9zM405.4 214.1h0.9v1h-0.9zM407.7 193.4h0.7v0.8h-0.7zM408.5 198.2h0.9v1.4h-0.9zM407.4 211.7h0.9v1.5h-0.9zM405 205.7h1v1.1h-1zM408.1 217.5h0.9v1.5h-0.9zM412.9 160.6h1.1v1h-1.1zM411.7 193h1.4v0.9h-1.4zM411.9 191.7h1v1.3h-1zM412.6 208.1h1.3v1.1h-1.3zM411.4 169.1h1.1v0.9h-1.1zM412.8 178.6h1.2v1.2h-1.2zM421.3 221.9h0.9v0.9h-0.9zM420.5 222.9h0.8v1.2h-0.8zM419 217.8h1.2v0.9h-1.2zM421.2 223.1h1v1.1h-1zM421.7 221.5h1.1v1.5h-1.1zM427.9 212.9h1.2v0.7h-1.2zM429.4 196.5h1.2v0.7h-1.2zM429.7 205.1h1.1v0.9h-1.1zM428.3 195.6h0.9v0.8h-0.9zM429.8 205.1h0.7v1.1h-0.7zM427 198.1h1.3v0.7h-1.3zM429.5 214.1h0.8v1h-0.8zM429.2 201.5h1v0.9h-1zM427.2 200.1h1v1h-1zM427.6 196.9h1.3v1.3h-1.3zM427.1 196.7h0.9v1.6h-0.9zM426.7 200.9h1v0.8h-1zM426.7 218h1v0.8h-1zM427.5 194.3h0.9v1.2h-0.9zM428 191.6h1.1v0.8h-1.1zM427.3 194.7h1v1.5h-1zM427 198.7h0.8v1.2h-0.8zM430.6 217.1h1.4v1.2h-1.4zM431.3 209.1h0.9v1.2h-0.9zM434.5 193.3h0.9v1.3h-0.9zM433.6 197.3h0.9v1.5h-0.9zM434.9 158.6h1.4v1.4h-1.4zM433.1 155.3h1v1h-1zM433.6 163.8h1.4v0.9h-1.4zM434.4 192.9h1.5v1.4h-1.5zM433.5 172.3h0.9v0.9h-0.9zM434.9 207.2h1.3v0.8h-1.3zM433.6 191.6h1.2v1h-1.2zM433.3 200.4h1v1.3h-1zM433 197h1.4v1.2h-1.4zM434.2 202.4h1.4v0.9h-1.4zM432.9 174h1.5v1.4h-1.5zM434.7 168.4h1.5v1.2h-1.5zM443.5 225.7h0.8v1.1h-0.8zM440.5 225.9h0.9v0.8h-0.9zM443.7 219.2h1v1.2h-1zM451.3 191.3h0.9v1.1h-0.9zM449.2 209.9h0.9v1.1h-0.9zM451.7 191.3h1.2v0.7h-1.2zM450 212.4h1.1v0.8h-1.1zM450.5 194.5h0.8v1h-0.8zM450.4 206.3h1v1.1h-1zM450 202.7h0.8v1.2h-0.8zM450.3 195.5h1.1v0.9h-1.1zM451.6 203.1h0.7v1.2h-0.7zM448.4 220.4h0.7v1.2h-0.7zM448.7 204.8h0.7v1.2h-0.7zM451.3 218h1.1v1.6h-1.1zM452.6 202.6h1.1v1.4h-1.1zM451.9 216.4h1.2v1h-1.2zM448.6 223.8h0.9v1.1h-0.9zM451.9 212h1.1v1h-1.1zM448.2 204.2h1.1v1.2h-1.1zM452.4 209.7h1v1h-1zM452.5 206.6h1.1v1.2h-1.1zM451.7 204.3h1.3v1.3h-1.3zM452.8 222.1h1.2v1.4h-1.2zM456.6 167.8h1.1v1h-1.1zM456.4 195.8h1.3v0.8h-1.3zM456.7 188.8h1v1.3h-1zM455.6 156h1.1v1.4h-1.1zM455.5 201.6h1.5v1.5h-1.5zM455 164h1.2v1h-1.2zM455.7 193.3h1v1.1h-1zM455.1 195.7h1.4v0.9h-1.4zM456.4 186.6h0.8v0.9h-0.8zM457.1 184.7h1.2v1.2h-1.2zM455.6 190.1h1.1v1h-1.1zM456.6 167.6h0.9v0.9h-0.9zM455 159.1h1.5v1.5h-1.5zM456.1 179.9h1.1v1h-1.1zM455 210h1.4v1.3h-1.4zM456.1 192.4h1.2v0.9h-1.2zM455.5 185.3h1.5v0.9h-1.5zM455.4 158h0.8v1h-0.8zM455.1 164.4h1.1v1h-1.1zM462.9 216.6h1.1v0.9h-1.1zM464.8 217.5h1v1.1h-1zM465.8 222.5h0.8v1.1h-0.8zM466 219.4h0.7v1.3h-0.7zM466.1 218.7h0.7v1.2h-0.7zM473.4 204.7h1.2v0.9h-1.2zM471.9 201.2h1.2v1h-1.2zM472.9 191.5h1.1v1.2h-1.1zM471.9 202.9h0.9v1.3h-0.9zM471.6 201h1v1.1h-1zM473.2 221.8h0.8v1h-0.8zM472.8 215.3h0.8v0.8h-0.8zM470.7 206.8h1.2v0.9h-1.2zM474.3 207.6h1.1v1.5h-1.1zM471.7 193.9h1v0.9h-1zM474.1 213h1.2v1.5h-1.2zM474.3 203.5h1.4v1h-1.4zM474.7 206.2h1.4v1.4h-1.4zM479.2 151.6h1.3v0.9h-1.3zM478 183.2h0.9v1.1h-0.9zM477.6 201.7h0.9v1.3h-0.9zM478.8 165.3h1.2v1.1h-1.2zM478.6 175.3h0.9v0.9h-0.9zM477.6 203.4h1.1v1.2h-1.1zM478.8 195.3h1.2v1.5h-1.2zM478.8 153.2h1.4v1.2h-1.4zM478.5 172h1.1v1.2h-1.1zM477.5 178.4h1.4v0.9h-1.4zM478.8 173.5h1.4v1.4h-1.4zM477.1 211.4h1v1h-1zM478.3 152.4h1.1v0.9h-1.1zM478.2 172h1.3v1.5h-1.3zM477.4 173.3h0.9v1.3h-0.9zM484.7 230.3h1.2v0.7h-1.2zM487.4 218.3h1v0.9h-1zM485.5 222.6h0.8v0.9h-0.8zM485 225.1h1v1.2h-1zM487.4 227.9h1.1v1.4h-1.1zM487.7 229h1v1.3h-1zM484.6 229h0.8v1.6h-0.8zM496.4 195.2h0.9v1h-0.9zM494.6 209.9h1.2v1.1h-1.2zM494.2 189.9h1.1v1.3h-1.1zM492.7 218h0.8v1.2h-0.8zM495.9 203h0.9v0.8h-0.9zM493.1 211.3h0.7v0.8h-0.7zM495.5 189.7h1.3v1.1h-1.3zM497 196.1h0.9v1.3h-0.9zM492 211.3h1.1v1.5h-1.1zM492.6 213.5h0.8v1.2h-0.8zM492.3 221.1h0.8v1.3h-0.8zM493.2 197.1h0.9v1.5h-0.9zM492.5 220.5h0.8v1.1h-0.8zM496.1 219.8h1.5v1.4h-1.5zM497.1 203.4h0.9v0.9h-0.9zM496.2 218h1v1.5h-1zM496.2 202.7h1.5v0.8h-1.5zM496.6 217.3h1.4v0.9h-1.4zM495.8 215.2h1.5v0.8h-1.5zM496.8 205.5h0.9v0.9h-0.9zM499.3 163.2h1v0.7h-1zM500.6 165.6h0.9v0.7h-0.9zM499.6 180.4h0.8v1.1h-0.8zM499.3 195.6h1v1h-1zM500.2 161.2h1v1.3h-1zM501 172.5h0.8v0.8h-0.8zM501.4 178.2h1v0.9h-1zM499.5 199.5h0.7v0.9h-0.7zM500 217.9h1v0.7h-1zM499.8 196.1h0.8v1.1h-0.8zM500.3 201.5h0.8v0.9h-0.8zM499.2 170.9h1v1h-1zM500.7 160.9h1v0.8h-1zM499.9 213.3h0.9v1h-0.9zM500.6 190.2h1.2v1h-1.2zM499.6 183.2h0.7v1.1h-0.7zM499.3 173.5h1.1v1.1h-1.1zM500 191.2h1v1h-1zM498.9 173.2h1.1v1.4h-1.1zM501.9 190.6h1.1v1.2h-1.1zM502 206.5h1.2v1.6h-1.2zM498.9 176.4h0.9v1.3h-0.9zM499 166.5h0.7v1.2h-0.7zM501.5 167.8h1v1h-1zM498.7 206.6h0.8v1.2h-0.8zM501.9 166.6h1v0.9h-1zM501.5 156.3h1.1v1.5h-1.1zM507.2 219.3h0.8v1.2h-0.8zM508.5 217.8h1.1v1.2h-1.1zM507.1 217.9h0.9v1h-0.9zM506.6 217.3h1v1.5h-1zM506.3 222.5h0.9v1.1h-0.9zM506.5 220.2h1.1v1.3h-1.1zM510.4 219.2h1.1v0.9h-1.1zM506.7 219.2h0.7v1.3h-0.7zM518.5 191.3h0.9v1.3h-0.9zM516.5 216.6h1.1v0.9h-1.1zM514.9 221.1h0.8v1.2h-0.8zM516.4 189.3h0.8v1.1h-0.8zM516.8 225.9h1v0.7h-1zM516 212.2h1.1v1.3h-1.1zM517.7 224.6h0.9v0.9h-0.9zM514.8 201.9h1.1v1.6h-1.1zM517.5 224.4h1.2v1.1h-1.2zM519.1 205.9h1.2v0.9h-1.2zM515.3 193.9h0.8v1.1h-0.8zM515 197.4h1v1.4h-1zM519.4 206.8h1.3v1h-1.3zM518.8 207.2h1.5v1.3h-1.5zM519.6 221.3h0.8v1.2h-0.8zM522.8 158.2h0.8v0.7h-0.8zM521.4 185.9h1.3v0.7h-1.3zM521.4 151.1h0.9v1.2h-0.9zM521.4 176.3h0.7v1.1h-0.7zM522.7 160h1.2v1.2h-1.2zM521.2 178.2h1.2v1.1h-1.2zM521.7 190.5h0.9v1.1h-0.9zM523.3 196.9h1.1v1.3h-1.1zM522 182.6h1v0.9h-1zM521.5 202.4h1.1v0.9h-1.1zM521.5 178.7h1.1v1.2h-1.1zM523.2 183.7h1v1h-1zM522.4 168.7h0.9v0.9h-0.9zM522.7 186h0.8v1.2h-0.8zM522.6 213.9h1.2v0.9h-1.2zM523.2 172.4h0.9v1.3h-0.9zM523.7 167.2h1v1.1h-1zM522 173.4h0.9v0.8h-0.9zM523.4 217.1h1v0.9h-1zM523.5 156.7h0.9v1.2h-0.9zM521.3 187.4h1.2v1h-1.2zM521.5 175.3h1.3v1.1h-1.3zM521.8 179.4h1v1.1h-1zM521.2 203.2h0.9v1.2h-0.9zM523.7 202.7h1.2v1.2h-1.2zM523.6 201.4h1.1v1.1h-1.1zM521.3 176.5h0.9v1.6h-0.9zM521.1 200.9h0.8v1.1h-0.8zM520.7 168.5h1.1v1.1h-1.1zM523.9 194.5h1v0.8h-1zM521.4 165.2h0.7v1.4h-0.7zM524 159.8h0.9v1.6h-0.9zM521 162.6h1v1.3h-1zM529.7 233.3h1.2v0.8h-1.2zM531.5 233.7h1v0.7h-1zM531.6 221.1h1.1v1.2h-1.1zM531.4 232.3h0.9v1.1h-0.9zM530.6 231.6h0.9v0.8h-0.9zM532 232.1h0.7v1.6h-0.7zM532.3 225.1h0.9v1.5h-0.9zM532.5 219h1.2v1.3h-1.2zM540 205.5h0.9v1.1h-0.9zM536.6 212.6h0.9v0.8h-0.9zM538.5 224.1h1.2v0.7h-1.2zM538.6 189.2h1.1v1.2h-1.1zM537.9 221.1h0.9v1h-0.9zM540.6 194.5h1.1v0.8h-1.1zM539.2 214.1h0.7v1.2h-0.7zM538 215.7h1v1h-1zM539 221.5h1.1v1.2h-1.1zM540.1 213.4h0.9v0.9h-0.9zM540.9 213.3h0.9v1.1h-0.9zM536.1 201.2h1.1v1.4h-1.1zM536 217.4h0.9v1.6h-0.9zM536.4 216.1h0.7v0.8h-0.7zM539.8 225.6h0.9v1h-0.9zM540.3 208.3h1.4v1.2h-1.4zM540.9 218.9h1.1v1.3h-1.1zM545.4 170h1.2v1h-1.2zM543.7 196.4h0.7v1.2h-0.7zM544.4 196.1h1v1h-1zM544.4 213.5h1v1.2h-1zM544.2 179.4h1v1.3h-1zM543.1 188.7h1.2v1.2h-1.2zM544.5 179.4h0.9v1.3h-0.9zM544.1 162.7h0.8v1.1h-0.8zM545.4 184.8h1v1.1h-1zM543.4 158.8h1v1h-1zM545.2 161h1.2v1.1h-1.2zM543.8 151.3h0.8v0.8h-0.8zM543.2 199h1.1v1h-1.1zM544.6 165.9h0.9v1.1h-0.9zM545.3 181h1v0.8h-1zM544.7 154.5h1.2v1.1h-1.2zM545.7 222.7h0.7v1h-0.7zM544.7 203.9h1.2v1.2h-1.2zM543.5 178.6h1.2v0.8h-1.2zM545.1 182.9h1.1v1.2h-1.1zM544.7 218h1.3v0.8h-1.3zM544.2 211.7h0.9v1.1h-0.9zM544.5 174.6h0.8v0.8h-0.8zM543.3 183.2h1.1v1.1h-1.1zM546 164.9h1v1.5h-1zM546.4 191.6h0.9v1.2h-0.9zM545.9 220.1h0.9v1.1h-0.9zM543 157.1h0.8v0.8h-0.8zM542.6 202h1.2v0.9h-1.2zM546 169.4h1v1.6h-1zM545.8 152.7h0.8v1.1h-0.8zM543.3 158.4h0.9v0.9h-0.9zM546 223.6h0.8v1.1h-0.8zM545.9 219.8h1v0.9h-1zM545.8 164.3h1v1.1h-1zM546 205h0.7v1.5h-0.7zM545.9 170.6h0.9v1.6h-0.9zM550.7 230.2h1.2v1.2h-1.2zM551 228h1v0.8h-1zM552.7 225.6h0.8v1.1h-0.8zM550.9 220.3h1.3v0.8h-1.3zM552.9 217.2h0.8v1.3h-0.8zM550.6 233.9h1.2v0.7h-1.2zM551.1 224.8h1.1v1h-1.1zM553 222.3h0.8v1.2h-0.8zM554.2 219.3h0.8v1.3h-0.8zM550.2 223.3h1.1v1.1h-1.1zM554.6 223.1h0.9v1.3h-0.9zM560.1 202.1h1v0.7h-1zM559.6 223.4h1.2v1.1h-1.2zM558.8 208.4h1.2v1.2h-1.2zM561.3 206.9h0.9v0.9h-0.9zM559.1 213.8h1.3v1h-1.3zM562.8 212.4h0.9v1.1h-0.9zM558.6 221.1h0.9v1.2h-0.9zM563.8 199.7h0.7v1h-0.7zM563.1 214.9h1.3v1.1h-1.3zM562.1 218.6h1.2v1.2h-1.2zM563.3 209.1h1.3v1.5h-1.3zM563.5 221.6h1.4v0.9h-1.4zM562.7 213.2h1.1v1.3h-1.1zM566.5 151.9h1.1v1h-1.1zM565.4 205.4h0.8v1.2h-0.8zM566.6 211.9h1v0.7h-1zM566.2 214h0.7v1.1h-0.7zM567.7 170.8h0.8v1.2h-0.8zM566.5 193.8h1.1v0.9h-1.1zM565.3 214.7h1v0.8h-1zM565.3 154.8h0.9v0.9h-0.9zM565.7 163.7h0.8v1.2h-0.8zM566.6 193.3h1v1.1h-1zM567.8 223.1h1v1.1h-1zM568 217h1v0.7h-1zM566.6 193.9h1.3v1.2h-1.3zM568 170h0.9v0.7h-0.9zM566.1 163.2h0.8v0.8h-0.8zM567.7 214.3h0.8v1h-0.8zM567.4 180.7h1.2v1.1h-1.2zM566.2 217.1h1.1v1h-1.1zM567.5 168.7h1.2v1.1h-1.2zM567.2 156.5h0.9v1.2h-0.9zM568.2 194.8h0.9v1.3h-0.9zM564.9 196.6h0.7v0.9h-0.7zM568.5 155.4h0.7v1.4h-0.7zM567.9 167.6h1.1v1.5h-1.1zM565 155.4h1v1.3h-1zM568.2 204.9h1.1v1.3h-1.1zM568 179.1h1.1v1.5h-1.1zM565.2 218.1h0.8v1h-0.8zM568.5 167.9h0.8v1h-0.8zM565.3 154.9h1.1v1.1h-1.1zM568 211.3h1.2v1.4h-1.2zM573.1 227.4h1v0.9h-1zM573.5 233h0.8v0.7h-0.8zM575.3 234.4h1.1v1.1h-1.1zM572.5 235.5h1v1.2h-1zM576.5 219.9h1.1v1.2h-1.1zM576.1 232.4h0.7v1.5h-0.7zM581.4 225.6h0.8v0.9h-0.8zM584.5 195.7h0.9v1h-0.9zM580.5 207.9h1.3v0.8h-1.3zM582.1 220.9h0.7v1.3h-0.7zM581.1 207.2h1.1v1h-1.1zM581.1 200.9h0.8v1h-0.8zM580.2 222h0.7v1.1h-0.7zM580.7 198.2h1.2v1.2h-1.2zM585.2 207.4h1.2v0.8h-1.2zM585.3 210.1h0.9v1.3h-0.9zM585.8 203.1h1.1v0.9h-1.1zM580.2 215.7h0.8v1.6h-0.8zM584.9 214.1h0.7v0.8h-0.7zM583.9 225.8h1.1v0.9h-1.1zM585.4 222h1v1h-1zM585.9 224.2h0.9v1.5h-0.9zM584.3 211.5h1.3v1.3h-1.3zM584.7 220.4h0.9v0.9h-0.9zM589.9 188.9h1v1.2h-1zM588.1 178.7h0.8v0.7h-0.8zM588 194.4h1.1v0.9h-1.1zM587.8 203.1h0.8v0.8h-0.8zM588.8 216h1.2v0.9h-1.2zM588.5 156.2h0.8v0.9h-0.8zM589.2 152.3h1v1.3h-1zM587.5 204.6h1.1v1.3h-1.1zM588.2 194.8h0.8v1h-0.8zM587.7 220h0.9v0.9h-0.9zM588.3 165.5h1.2v0.9h-1.2zM588.3 209.7h1v1.2h-1zM590 177.1h1.1v0.7h-1.1zM587.8 215.4h0.8v0.8h-0.8zM588.3 174.8h0.9v1.2h-0.9zM589.3 190.8h1.2v0.9h-1.2zM587.5 188.4h1.2v1.2h-1.2zM588.3 166.2h0.8v1.3h-0.8zM589.9 221.1h0.8v1.2h-0.8zM587.4 196.3h0.7v1.1h-0.7zM587.6 221.6h0.7v0.7h-0.7zM588.2 203.3h1.3v0.9h-1.3zM590.1 182.9h0.8v1.3h-0.8zM589.9 213.1h1.2v1.1h-1.2zM586.7 209h1.1v1.3h-1.1zM587 203.2h1.1v0.9h-1.1zM590.5 188h1.2v1h-1.2zM587.5 198.4h0.8v1h-0.8zM587.1 169.2h0.9v1h-0.9zM587.1 172.7h1v1.4h-1zM590.1 154.1h1v1.2h-1zM587.1 165.5h1.1v1.2h-1.1zM590 168.1h1.1v1.3h-1.1zM590.5 156.5h1.2v1h-1.2zM590.4 180.1h0.7v1.1h-0.7zM590.2 175.8h1.2v0.9h-1.2zM587.1 195.3h1v1.4h-1zM590.1 180.6h1.2v0.8h-1.2zM597.6 231.4h1v1.1h-1zM597.4 225h0.9v0.8h-0.9zM597.1 231.5h1.3v0.8h-1.3zM595.4 229.3h0.9v0.8h-0.9zM594.8 229.9h0.7v1.5h-0.7zM594.8 224.1h1v1.4h-1zM594.4 226.8h1.1v1.5h-1.1zM594.9 221h1.1v1.5h-1.1zM594.7 224.9h0.9v1.4h-0.9zM604.9 223.9h0.8v0.9h-0.8zM605.6 222h0.8v1.1h-0.8zM604.6 225.3h0.9v0.9h-0.9zM603 205.9h1v1.1h-1zM604.8 204.3h1.1v1h-1.1zM603.1 199.6h1v0.9h-1zM604.2 203.9h1.1v1.2h-1.1zM606.3 195.2h1.2v1.2h-1.2zM603.5 196.2h0.9v1.1h-0.9zM602.2 226.6h0.9v1.2h-0.9zM608 201.9h1.1v1h-1.1zM602.8 211.4h0.8v1.5h-0.8zM602.3 215.4h1.2v1.1h-1.2zM606.5 215h1.2v1h-1.2zM606.8 203.8h1v1.3h-1zM606.2 209.7h1.3v1.1h-1.3zM609.8 166.4h1v0.8h-1zM609.5 204.3h1v1.1h-1zM610.4 208.5h0.9v1.2h-0.9zM610.3 197h1.2v1.2h-1.2zM610 193.6h1.1v1.1h-1.1zM612 188.1h0.8v1h-0.8zM611.4 215.5h1.1v1.1h-1.1zM610.5 205.6h1.1v0.7h-1.1zM609.6 164.3h1.1v1.1h-1.1zM612.2 174.6h0.8v1.1h-0.8zM609.8 169.8h1v1h-1zM610 190.9h0.9v1.1h-0.9zM611.6 214.1h1.2v0.8h-1.2zM610.8 207.6h0.9v1.2h-0.9zM611.4 187.3h1.2v0.8h-1.2zM609.4 167.9h1.3v0.8h-1.3zM611.4 213.7h1.2v0.9h-1.2zM611.8 201.8h0.9v1h-0.9zM611.5 171.9h1v0.9h-1zM610 166.9h0.9v1h-0.9zM611.1 164.9h1v0.9h-1zM611.3 194h1.1v0.8h-1.1zM609.3 215.4h1.1v0.9h-1.1zM611.1 177.2h0.8v1.3h-0.8zM610 171.8h1.1v1.1h-1.1zM609.2 165.6h0.8v0.8h-0.8zM609.5 152.9h0.8v0.9h-0.8zM609.1 204.9h1.2v1.6h-1.2zM612.2 219.5h1.2v1.1h-1.2zM612.5 166.4h1v1.1h-1zM612.5 188.2h1v1h-1zM612.5 202.8h1v1.1h-1zM609.2 173.6h0.9v1.4h-0.9zM609.5 165.2h0.9v1.1h-0.9zM612.5 203.4h0.9v1.3h-0.9zM612.3 191h0.8v0.9h-0.8zM612.1 172.2h1v1.3h-1zM609.2 169.6h1v1.3h-1zM609.2 171.8h0.9v1.2h-0.9zM608.8 197.3h1.1v0.9h-1.1zM612.1 219.8h0.9v1.4h-0.9zM612.4 187.4h1v1.5h-1zM612 193.4h1v1.5h-1zM612 171.2h1v0.9h-1zM612.2 194.7h1.1v1.2h-1.1zM619 231.3h0.9v1.2h-0.9zM618.2 236.7h0.8v0.7h-0.8zM618.3 235.7h0.9v1.3h-0.9zM617.1 217.1h1.2v1.4h-1.2zM620.1 233.4h0.9v1.1h-0.9zM620.1 230.3h1.1v1.5h-1.1zM620.3 226.6h1v1.5h-1zM620.9 221.6h0.9v1.4h-0.9zM626.9 199.1h0.7v1.2h-0.7zM628.4 210.2h0.9v1.1h-0.9zM625.8 213.3h1v1.3h-1zM629.3 193.8h1.2v1.2h-1.2zM629.1 199.8h0.9v1h-0.9zM626.6 199.6h0.7v1h-0.7zM628.3 199.4h0.8v0.8h-0.8zM624.9 200.4h0.7v1.3h-0.7zM629.3 205.3h1.1v0.9h-1.1zM625.3 194.5h1.1v1.6h-1.1zM628.2 222.6h0.7v1.2h-0.7zM629.8 196.1h0.7v1h-0.7zM624.7 207.7h1v0.8h-1zM629.6 210.6h1.4v1.4h-1.4zM632.3 176.7h1v0.8h-1zM633.8 155.1h1.1v1.1h-1.1zM631.5 166.5h1.1v1.2h-1.1zM632.2 158.1h1.1v1h-1.1zM631.9 220.7h0.8v1.3h-0.8zM631.9 180.3h0.7v1h-0.7zM632.4 197.2h0.8v1.1h-0.8zM633.8 152.3h1.1v0.8h-1.1zM631.4 213.2h1.2v0.9h-1.2zM633.6 199.3h0.7v0.8h-0.7zM631.7 205.6h1.1v1.2h-1.1zM633.4 166.2h0.8v1.2h-0.8zM633.9 177.4h0.7v1.2h-0.7zM633.6 197.4h0.8v1.2h-0.8zM634.2 184.3h0.8v1.1h-0.8zM631.4 209.9h1v0.9h-1zM634.1 151.9h0.8v1.6h-0.8zM634.2 206.6h1.1v1.6h-1.1zM631.1 196.8h0.9v1.3h-0.9zM634.3 158.7h0.8v1h-0.8zM631.5 181.2h1.1v1.5h-1.1zM631.2 203h1.2v1.2h-1.2zM631.2 212.5h0.9v1.3h-0.9zM634.7 160.4h0.8v1.4h-0.8zM630.9 212.1h1.2v1.4h-1.2zM642.3 229.6h0.8v0.9h-0.8zM639.2 217.8h1.1v0.9h-1.1zM639.9 237.5h0.9v1.2h-0.9zM641.3 230.6h0.8v1h-0.8zM639.9 220.3h1.1v0.8h-1.1zM639 237.4h0.8v1.1h-0.8zM639.2 221.2h1v1.3h-1zM642.5 232h0.9v1.5h-0.9zM648.9 206.8h0.8v0.9h-0.8zM650.9 197h1v1.3h-1zM646.7 224.5h1.2v0.7h-1.2zM651.1 206.5h1.3v0.7h-1.3zM650.4 208.6h1v0.8h-1zM646.7 225.8h1v0.8h-1zM650.4 194.5h1.3v0.9h-1.3zM652.1 197h1.1v0.9h-1.1zM646.3 210.6h0.9v1.1h-0.9zM650.8 222h0.8v1.5h-0.8zM652 199.6h1v0.8h-1zM650.3 224.1h1v1.3h-1zM646.5 201.1h0.9v0.9h-0.9zM650 225.3h1.1v1.1h-1.1zM651.7 209.4h0.8v0.9h-0.8zM650.5 209.7h1.1v1.2h-1.1zM651.1 219.3h1.2v0.9h-1.2zM651.1 202.4h0.9v1.4h-0.9zM651 213.2h0.8v1.2h-0.8zM652 215h1.2v1.2h-1.2zM654.4 211.7h1.1v1h-1.1zM654.9 160.2h0.8v1.3h-0.8zM654.6 188.6h1.2v0.9h-1.2zM655.8 168.8h1v0.9h-1zM655 206.9h0.9v1h-0.9zM654.1 152.3h1v1.3h-1zM655.4 193h1v0.8h-1zM656 207.8h1v1.1h-1zM655.3 190.2h1.1v1.1h-1.1zM654.9 213.5h1.3v0.9h-1.3zM656.1 171.4h1v1.2h-1zM655.2 198.8h0.9v0.8h-0.9zM655.6 201.1h1.2v0.8h-1.2zM654 171.6h1.3v0.8h-1.3zM654.7 152.5h0.8v1.2h-0.8zM654.1 195.1h0.8v0.7h-0.8zM654.7 157.3h1v0.8h-1zM655.7 202.1h1.2v0.7h-1.2zM653 207.7h1v0.9h-1zM653 198.7h0.9v1.3h-0.9zM656.2 169.9h1v1.5h-1zM653.2 212.2h0.8v1.4h-0.8zM656.6 151.5h0.9v1.5h-0.9zM653.2 202.5h1.1v1.2h-1.1zM653.2 214.4h1v0.9h-1zM656.3 153.5h0.7v1.2h-0.7zM653.2 213.2h1.2v1.1h-1.2zM656.4 186h1v1.1h-1zM653.2 172.7h1.1v0.9h-1.1zM314.1 612.1h0.8v1h-0.8zM314.7 608.2h1.3v0.8h-1.3zM312.6 611.2h1.2v0.8h-1.2zM312.6 612.3h1.1v1.1h-1.1zM329.4 557.7h0.8v0.7h-0.8zM328.9 579.8h1v0.8h-1zM330.1 572.8h1.2v1.1h-1.2zM331.4 561.5h0.9v1.1h-0.9zM329.4 562h0.9v0.9h-0.9zM331 590.1h1.2v1.2h-1.2zM329.2 565.8h0.9v1.2h-0.9zM328.8 580.6h0.7v1.1h-0.7zM329.6 576.9h0.8v0.9h-0.8zM329.3 547h1v1.2h-1zM329.5 545.2h0.9v1h-0.9zM331.2 548.4h1v1.2h-1zM330.4 556.5h0.8v1h-0.8zM330.1 547.8h1v0.9h-1zM330.7 576.9h1.1v1h-1.1zM330.7 569.1h0.7v1.1h-0.7zM331 583.5h1.2v1.2h-1.2zM330.1 563.8h1.1v1.1h-1.1zM331.2 547.5h0.7v0.8h-0.7zM330.4 570.7h0.9v1.1h-0.9zM330.8 556h0.9v1.1h-0.9zM329.2 593.5h1v1h-1zM330.5 549.4h1.1v0.9h-1.1zM330 551.2h1v1.2h-1zM331.4 550.7h1.2v1h-1.2zM331.4 551h0.8v0.9h-0.8zM329.1 556.5h1.1v1.2h-1.1zM331.8 582.2h0.8v1.2h-0.8zM328.3 578.2h0.8v1.3h-0.8zM331.7 593.4h0.8v1.3h-0.8zM331.8 593.8h1v1h-1zM331.8 570.5h0.8v1.1h-0.8zM328.9 575.5h0.8v0.9h-0.8zM328.5 584.6h1.1v1.5h-1.1zM331.5 560.4h0.9v1.2h-0.9zM332.8 614.5h1.1v1.2h-1.1zM333.8 611.9h0.9v0.8h-0.9zM336.3 610.6h1.1v0.8h-1.1zM336.1 612.7h1v0.9h-1zM341.9 572.3h1.1v0.9h-1.1zM341.9 605.4h0.7v1.1h-0.7zM341.3 566.8h1.1v0.8h-1.1zM341.8 566.8h0.9v1.1h-0.9zM341.9 566.2h1.1v0.8h-1.1zM340.3 607h1.2v0.9h-1.2zM341.4 603.2h1.1v0.9h-1.1zM341.5 568.9h1.3v1.1h-1.3zM340.4 590.7h1.2v0.8h-1.2zM341.5 582.7h0.7v0.8h-0.7zM340.5 585.3h1.2v1.1h-1.2zM340.9 566.2h0.9v0.8h-0.9zM342.4 602h1v1.2h-1zM341.4 562.9h1.3v0.8h-1.3zM340.7 573.2h1.1v1.2h-1.1zM341.3 561.6h1.3v0.9h-1.3zM341.2 574.6h1v0.8h-1zM341.6 571.1h1v0.9h-1zM341.7 589.8h0.7v0.9h-0.7zM342 570.6h0.8v1.3h-0.8zM340.1 583.2h0.9v1.1h-0.9zM342.7 599.6h0.8v0.8h-0.8zM342.9 603.4h0.9v1.6h-0.9zM342.8 582.4h0.7v1.2h-0.7zM339.9 593.1h1.2v0.8h-1.2zM340.5 572.6h0.8v1.5h-0.8zM350 546.6h1.1v1h-1.1zM350.5 554.6h1.3v1h-1.3zM351 568.8h1.2v0.8h-1.2zM350.4 579.8h0.8v0.9h-0.8zM349.9 552.6h1.2v1.2h-1.2zM351.7 553.1h1.2v1.3h-1.2zM349 585.5h0.8v0.8h-0.8zM351.3 548h0.9v1.3h-0.9zM349.5 568.1h0.9v1.2h-0.9zM349.6 568.3h0.8v0.9h-0.8zM349.9 557.7h0.9v1.3h-0.9zM349.3 568.8h1.2v1.1h-1.2zM349.8 555.6h1v1.2h-1zM351.3 544.1h1v0.7h-1zM352.1 594.1h0.7v1h-0.7zM350.5 569h1v0.7h-1zM350.7 568.3h0.7v1.3h-0.7zM350.5 581.7h1.3v1.3h-1.3zM350.7 567.4h1.1v0.9h-1.1zM350.8 584.5h1v0.9h-1zM351.7 582.6h1v0.8h-1zM350.4 563.5h0.8v1.3h-0.8zM349.6 562.9h1.1v1h-1.1zM352.4 549.7h0.8v1.1h-0.8zM352.3 582.6h1v1.1h-1zM352.2 567.3h0.8v1.4h-0.8zM349.2 559.2h1.1v1.6h-1.1zM349 557h1.1v1.1h-1.1zM352 570.3h1.2v1.4h-1.2zM351.6 570.6h1.1v1.4h-1.1zM349.2 551.7h0.9v1.4h-0.9zM351.9 585.7h1v1.5h-1zM352 565h1.1v1.5h-1.1zM348.9 580.7h0.8v0.9h-0.8zM349.9 547.7h0.7v1.5h-0.7zM349.8 557.4h0.7v1.4h-0.7zM349.5 557h0.9v1.2h-0.9zM352.1 561.2h1.1v1.4h-1.1zM351.9 573.2h1v0.8h-1zM353.9 617.9h1v0.8h-1zM353.4 610.7h0.9v1.2h-0.9zM353.8 615.7h0.9v1.1h-0.9zM354 608.9h0.9v0.8h-0.9zM356.4 616.2h1v1.2h-1zM353.3 615.9h0.9v1.4h-0.9zM362.8 583.9h1.1v1.2h-1.1zM360.9 609.9h1v1.1h-1zM362.9 579.4h1.2v1.2h-1.2zM361.3 608.2h0.7v0.9h-0.7zM362.8 571.7h0.8v1.2h-0.8zM360.9 576.3h0.9v0.9h-0.9zM361.8 575.6h0.9v1h-0.9zM362.1 603.8h1.1v0.7h-1.1zM361.6 596h0.9v1.2h-0.9zM362.7 567.5h0.9v1.3h-0.9zM361.5 603h1.1v0.8h-1.1zM362.9 576.1h1.2v1.3h-1.2zM362.3 602.1h1.1v1.2h-1.1zM361.6 602.2h0.8v1.2h-0.8zM360.8 579.8h1.2v0.8h-1.2zM361.1 577.6h1.1v1h-1.1zM362.8 590.8h0.9v1.2h-0.9zM361.9 558.9h1v1.1h-1zM362.6 577h1.3v1.2h-1.3zM361.9 580.5h1.2v0.8h-1.2zM361.2 599.4h1.1v1h-1.1zM360.6 565.2h1v0.8h-1zM360.9 586.4h0.9v1.5h-0.9zM363.4 589.4h0.9v0.9h-0.9zM363 564.5h0.8v0.8h-0.8zM360.5 563.3h1.2v1.2h-1.2zM363.1 567.1h0.9v1.5h-0.9zM371.1 583.1h1.1v1h-1.1zM371.2 579.5h0.8v1.1h-0.8zM370 562.3h0.9v1.1h-0.9zM372.4 576.6h1.1v1.3h-1.1zM369.8 595.5h1.2v1.1h-1.2zM370.6 592.1h0.8v0.9h-0.8zM370.1 556.4h1.2v1.2h-1.2zM372.2 593.9h1.2v1.2h-1.2zM371.3 551.1h0.8v0.9h-0.8zM370.7 594.9h1.2v1.2h-1.2zM371.1 583.1h1.1v1h-1.1zM372.2 571h1v1.1h-1zM371.7 547.5h1.1v0.7h-1.1zM371.8 559.5h0.7v1.3h-0.7zM369.9 578.7h1.2v1h-1.2zM371.6 581.9h1.3v1.1h-1.3zM371.5 586.6h1.2v1.2h-1.2zM371.8 597.9h1.1v1.2h-1.1zM372 550.2h1.2v1.1h-1.2zM371.2 590.5h1v1.2h-1zM372.8 572.4h0.8v1.3h-0.8zM368.9 576.7h0.7v1.6h-0.7zM369.9 567.4h1v1.1h-1zM372.5 594.6h0.8v1.1h-0.8zM372.6 590.5h0.9v0.9h-0.9zM369.9 566.2h0.9v1.5h-0.9zM369.9 568.3h0.9v1.3h-0.9zM368.8 584.9h0.9v1.4h-0.9zM372.7 575.1h1.1v1.2h-1.1zM369.5 558.1h1v1.4h-1zM375.9 611.7h1.1v1.1h-1.1zM375.4 611.1h1.3v0.8h-1.3zM374.4 615.7h1.2v1.1h-1.2zM373.5 618.7h1.1v1.2h-1.1zM376 618.9h1.1v1h-1.1zM373.6 611.8h0.9v1.5h-0.9zM376.5 613.6h1.1v1.6h-1.1zM373.1 615.7h0.9v1.1h-0.9zM382.8 605.1h0.9v1h-0.9zM383.1 598.6h1.2v1.1h-1.2zM382.6 589.8h1.1v1.1h-1.1zM383.2 597.5h1v1h-1zM382.8 589.1h0.8v1.1h-0.8zM381.7 564.5h0.9v0.8h-0.9zM382.3 563.3h0.8v1.1h-0.8zM381.5 562.3h1.3v1h-1.3zM382.7 571.7h0.9v1.1h-0.9zM382.2 572.8h0.8v0.9h-0.8zM382.8 592.6h0.8v0.9h-0.8zM382.3 602.7h0.7v0.9h-0.7zM381.1 573.3h1v1.1h-1zM381.2 598.5h1.3v1.1h-1.3zM382 611.6h0.7v0.7h-0.7zM382.7 580.4h0.8v1.2h-0.8zM381.4 597.5h1.3v1.2h-1.3zM383.3 559.3h1.2v0.8h-1.2zM383.2 590.6h0.9v1h-0.9zM381.4 589.7h1.3v1.1h-1.3zM383.6 585.9h0.8v1.3h-0.8zM383.8 580.9h1.1v1.5h-1.1zM380.8 589.2h1v0.9h-1zM380.6 603.9h1v0.9h-1zM381 582.7h1.1v1h-1.1zM383.4 590.5h1.1v1.4h-1.1zM381 599.7h1.1v1.1h-1.1zM383.4 562h1v0.8h-1zM383.6 568.7h1.2v1h-1.2zM391.7 582.3h1.1v1.1h-1.1zM389.6 587.9h0.9v0.8h-0.9zM392.5 552.4h0.9v1.1h-0.9zM391.4 580.6h1v1.1h-1zM392.4 581.9h0.8v1h-0.8zM392.6 559.5h1.1v1.1h-1.1zM392.4 575.9h1v1.1h-1zM391.4 570.8h1.2v0.8h-1.2zM392.6 543.7h1v0.7h-1zM391.6 558.5h0.8v0.7h-0.8zM390.6 557.8h1.3v1.2h-1.3zM391.6 600.9h1.2v1h-1.2zM391.9 572.9h1.1v1h-1.1zM390.3 564.7h1.2v1.1h-1.2zM389.5 584.3h1.3v1h-1.3zM390.2 585h1.2v1h-1.2zM390.7 576.5h1.1v0.8h-1.1zM390 581.4h0.9v1.1h-0.9zM390.7 555.9h1.3v1.1h-1.3zM391.3 556.3h1v1h-1zM389.3 582.1h1v1h-1zM392.9 578.8h1v1.3h-1zM390.2 564h1.1v0.8h-1.1zM392.7 551.9h1.1v1.6h-1.1zM393.5 602.4h0.8v1.5h-0.8zM392.8 551.2h0.9v0.8h-0.9zM393.4 583.8h1.1v0.9h-1.1zM393.1 596.8h1v1.5h-1zM389.9 565.9h0.7v0.9h-0.7zM389 592h0.8v1.4h-0.8zM396.2 614.2h1.1v1.2h-1.1zM397 613.6h0.8v1h-0.8zM394.3 615h1v0.8h-1zM393.5 614.1h1.2v1.6h-1.2zM394 615.6h1v1.3h-1zM401.7 609.4h0.9v1.3h-0.9zM402.4 583h0.7v1.2h-0.7zM402.7 571.2h1.1v1.1h-1.1zM402.2 586.7h0.8v1.1h-0.8zM402.7 599.6h1.2v1.2h-1.2zM403 600.9h1v0.9h-1zM403.6 569.8h0.9v1.3h-0.9zM402.4 559.3h1.2v1.2h-1.2zM401.9 578.3h0.8v1.1h-0.8zM402 604.1h1v0.8h-1zM402.6 608.5h1v0.7h-1zM403.4 610.1h1.2v0.7h-1.2zM401.7 583.5h1.1v1.2h-1.1zM401.6 581.2h0.9v1h-0.9zM402.1 562.9h0.8v0.8h-0.8zM403.9 566.4h1v0.8h-1zM402.4 571h0.8v0.7h-0.8zM403.8 593.1h0.8v1.3h-0.8zM402.1 608.7h1v1.2h-1zM401.5 603h1.2v1h-1.2zM402.4 573.8h1.1v1.3h-1.1zM402.7 608.6h0.7v0.9h-0.7zM401.6 566.5h1.2v1h-1.2zM403.9 565.2h1.1v1.1h-1.1zM404.2 602.1h1v1.1h-1zM401.8 566h0.7v1.1h-0.7zM404.4 566.7h0.8v0.9h-0.8zM400.9 607.3h1.1v0.9h-1.1zM401.5 560.6h1.1v1h-1.1zM401.3 560h1v1.6h-1zM404.4 588.3h0.8v1.3h-0.8zM404.2 591.5h0.8v0.9h-0.8zM404 587.8h0.8v1.1h-0.8zM401.1 579.4h0.7v0.8h-0.7zM412.4 568.7h0.9v1.1h-0.9zM409.8 598.5h1.1v1.1h-1.1zM413.1 604h1v1h-1zM412.4 573h1v0.8h-1zM411 544.3h1v1.1h-1zM409.7 589.8h1.1v1h-1.1zM411.6 586.4h0.8v0.9h-0.8zM411.7 561.1h1.1v0.8h-1.1zM412.3 562.3h1.2v0.8h-1.2zM412 590.7h0.9v0.7h-0.9zM412.6 557.6h0.8v0.9h-0.8zM412.2 554h0.9v0.9h-0.9zM410.8 571.6h0.9v0.9h-0.9zM411.8 560.4h1.2v1.3h-1.2zM412 575.1h0.9v1.1h-0.9zM411.1 557.1h0.7v1h-0.7zM411.9 560.1h1v0.7h-1zM411.5 587h1.3v0.7h-1.3zM411.3 561h1.1v0.9h-1.1zM411.5 553.3h0.8v0.8h-0.8zM413.1 590.4h0.9v0.8h-0.9zM410.7 597.9h1.1v0.7h-1.1zM410.1 600.9h1.1v0.9h-1.1zM411.5 566.4h0.9v1.1h-0.9zM412.8 566.5h1v1.5h-1zM413.5 572.3h1v1h-1zM413.5 549.7h1v1.2h-1zM413 565h1v1.4h-1zM410.6 560.3h1v1.5h-1zM409.7 584.3h0.7v1.5h-0.7zM410.4 562.9h0.8v1.6h-0.8zM413.1 562.8h0.8v1h-0.8zM410.2 568h0.8v1.4h-0.8zM416.4 614.8h1.3v1.3h-1.3zM415.7 620.3h0.9v0.9h-0.9zM415.2 620.4h0.8v1.1h-0.8zM414.8 605.9h1.1v1.1h-1.1zM415.3 617.9h1v1.2h-1zM414 621.6h1v1.5h-1zM417.6 615.7h1v1.2h-1zM422.5 580.9h0.9v0.9h-0.9zM421.9 557.6h1v0.7h-1zM423 614.9h1.3v0.8h-1.3zM422.5 588h1.2v1.1h-1.2zM422 580h0.7v0.8h-0.7zM422.8 585.6h1.3v1h-1.3zM422.6 561.8h1.2v0.8h-1.2zM422.6 569.2h0.8v1h-0.8zM421.9 582h1.2v0.8h-1.2zM422.1 600.4h0.9v1.1h-0.9zM424 566h1.3v1.1h-1.3zM422.9 612h1.2v1.1h-1.2zM422.6 598.6h1v0.9h-1zM423.5 560.1h0.7v1.3h-0.7zM423.7 612.9h1.2v1h-1.2zM422.9 590.3h1.1v0.7h-1.1zM421.8 587.6h1.3v1.3h-1.3zM422.9 583.9h1v0.7h-1zM422.4 582.8h1v0.9h-1zM424.8 601.1h1v1.1h-1zM424.7 588.3h0.9v1h-0.9zM421.9 614.3h1.1v1.5h-1.1zM424.2 585.4h1.1v1.4h-1.1zM421.9 590.3h1v1h-1zM424.1 602.2h0.9v1.4h-0.9zM424.3 597.7h0.9v1.3h-0.9zM424.3 576.3h1.2v1.4h-1.2zM421.9 589.8h0.9v1h-0.9zM431.4 587h1v1.2h-1zM432.7 572.3h1.3v1.2h-1.3zM430.7 577.8h0.9v1.2h-0.9zM432.6 574.8h1v1.2h-1zM430.3 579.2h1.1v0.8h-1.1zM430.6 603.7h1.3v0.8h-1.3zM432.2 597.9h1.3v0.8h-1.3zM432.1 557.4h0.8v1.2h-0.8zM431.4 549.1h1v1h-1zM431 602.9h0.9v1.2h-0.9zM431.5 587.2h1.2v1h-1.2zM431.5 562.9h0.7v1.1h-0.7zM433.8 579.3h1.1v0.7h-1.1zM433 558.3h1.1v0.7h-1.1zM432.3 547.7h1.1v0.9h-1.1zM430.3 603.5h1.1v1.3h-1.1zM430.5 573.1h1v1.6h-1zM430 583.5h0.9v1.2h-0.9zM433.8 546.7h0.8v1.2h-0.8zM430 589h0.7v1.4h-0.7zM433.4 562.4h1v1.4h-1zM430.2 580h0.8v1.5h-0.8zM429.6 582.2h0.9v1.1h-0.9zM433.4 561.3h0.8v1.6h-0.8zM433.9 546.8h1.2v1.1h-1.2zM429.9 598.4h0.7v1.1h-0.7zM433.8 603.2h0.9v1.2h-0.9zM433.8 551.9h0.8v1.3h-0.8zM431.1 547.4h1.1v1h-1.1zM436.7 607.9h0.7v0.9h-0.7zM437.4 607.7h1.1v0.8h-1.1zM435.1 622.7h1.1v0.8h-1.1zM437.4 613.5h0.8v1.2h-0.8zM435.7 616.1h1v0.7h-1zM438.2 607.5h1.2v1h-1.2zM437.6 621.5h1.1v1.1h-1.1zM437.7 613.1h1.2v1.2h-1.2zM438.1 607.7h0.9v0.9h-0.9zM443.3 593h0.9v1.2h-0.9zM442.1 566.7h1.3v0.9h-1.3zM443.5 579.2h1.2v1.2h-1.2zM444.5 605.2h1.1v1.1h-1.1zM442.5 567.6h1.1v0.7h-1.1zM443.3 582.4h1.1v1.1h-1.1zM442.9 605.9h0.9v1h-0.9zM443.5 594.2h1.2v1.1h-1.2zM443.2 569.6h1.1v0.8h-1.1zM444.2 565.1h1v1h-1zM443.1 562.3h0.7v0.9h-0.7zM443.8 575.3h0.8v1.2h-0.8zM443.6 605.5h0.7v1.1h-0.7zM444.3 587.9h0.8v1h-0.8zM441.8 587.8h0.9v1.4h-0.9zM444.5 586.1h1.2v1.2h-1.2zM442.2 563h0.8v1.5h-0.8zM442.1 581.9h0.8v0.9h-0.8zM442 588.7h1v0.8h-1zM442.2 569.8h0.9v1.4h-0.9zM444.8 589.1h1.1v1.3h-1.1zM444.8 615.2h0.8v0.9h-0.8zM453.2 595.2h0.9v1.3h-0.9zM453.7 546.3h0.9v1.3h-0.9zM452.5 551.2h1.1v0.7h-1.1zM454.3 599.7h1.1v0.8h-1.1zM452.8 573.6h0.9v1.1h-0.9zM451.3 609.5h1.1v1h-1.1zM453.4 611.3h1.3v1.2h-1.3zM451.7 577.4h1.1v1.3h-1.1zM453.2 590.2h1v1.2h-1zM451.2 600.3h1.2v1h-1.2zM452.4 597.7h0.8v1.2h-0.8zM453 566.4h0.9v0.7h-0.9zM450.7 580.3h1.2v1.1h-1.2zM450.9 606.3h0.9v1.1h-0.9zM453.7 590.1h1.1v1h-1.1zM451.2 578.9h1v0.7h-1zM451.7 565h1.2v1h-1.2zM453.2 562.7h0.8v0.8h-0.8zM452.7 581.5h1v0.7h-1zM454.5 589h0.8v0.7h-0.8zM452.2 585.8h1.2v1.2h-1.2zM452.7 544.9h1v0.9h-1zM453.6 553.4h1.1v0.7h-1.1zM450.3 603.5h1v1.2h-1zM453.5 577.1h1.3v1.1h-1.3zM454.3 577.8h1.1v1.5h-1.1zM451 571.3h1v0.9h-1zM450.1 586.2h1.2v0.9h-1.2zM451.3 546.8h0.9v1.1h-0.9zM450.5 607h0.7v1.2h-0.7zM454.1 548.3h0.8v1.3h-0.8zM450.8 561.8h1.1v1.5h-1.1zM450 610h0.8v0.9h-0.8zM457.2 620.5h0.9v1.1h-0.9zM457.4 605.2h0.7v0.8h-0.7zM457.5 615.2h0.9v1.3h-0.9zM457 626.2h0.7v1.1h-0.7zM457.9 624.1h1v0.9h-1zM457.4 607h1.2v0.8h-1.2zM458.3 617.3h1.1v1.4h-1.1zM455.3 606.9h0.9v1.5h-0.9zM458.1 620.1h0.9v1.5h-0.9zM458.2 621.6h1.1v1.4h-1.1zM464.5 590.9h1v1.1h-1zM464.5 605.7h1v1.2h-1zM464.2 592.8h1.1v1.2h-1.1zM464.1 575.4h1.2v1.2h-1.2zM462.7 582.5h1.1v1.1h-1.1zM464.1 611.6h0.9v0.8h-0.9zM464.4 616.6h1.2v1.1h-1.2zM462.6 594.4h1.1v0.7h-1.1zM464.7 561h1.2v0.8h-1.2zM462.6 587.8h1.1v1.2h-1.1zM463.1 603.6h1.2v0.9h-1.2zM464.1 611.8h1.1v1h-1.1zM463 605.9h1.1v0.9h-1.1zM463.2 561h0.9v0.7h-0.9zM463.9 586.5h0.9v1.3h-0.9zM463.6 597.3h1.1v0.8h-1.1zM464.4 564.3h1v1h-1zM463.2 588.6h0.8v1.1h-0.8zM462.8 617.7h1v0.9h-1zM463.7 557.7h1.2v1h-1.2zM464.7 565.1h1v1h-1zM463.5 562.9h0.9v1.1h-0.9zM463.2 618.7h1v1.2h-1zM462.8 592h0.9v1.1h-0.9zM465.2 572.3h1.1v1h-1.1zM462 599.4h1.1v0.8h-1.1zM465.2 563.7h1v1.3h-1zM465.3 606.8h0.7v1.2h-0.7zM462.6 577.5h1.1v1.2h-1.1zM473.8 570.8h1.1v0.8h-1.1zM470.7 607.7h1.1v0.8h-1.1zM474.2 548.8h0.7v1h-0.7zM472.6 573.1h1.2v0.9h-1.2zM472.4 563.6h1.1v0.9h-1.1zM473 562.4h1.1v0.8h-1.1zM473.1 547.5h0.8v1h-0.8zM474.1 571.4h1.2v1.2h-1.2zM471.7 598.1h0.9v0.9h-0.9zM472.9 547.8h1.2v0.8h-1.2zM473 587h1v0.7h-1zM472.9 553.9h0.8v0.9h-0.8zM474 555.6h0.9v0.8h-0.9zM471.7 586.5h1v0.9h-1zM472.2 602.2h1v1.2h-1zM471.9 600.2h0.7v0.8h-0.7zM471.3 579.4h1.1v1.3h-1.1zM472.8 572.7h1v1.1h-1zM471.5 597.2h0.9v1.1h-0.9zM472.9 574.6h1v1h-1zM471.4 600.3h1.2v1h-1.2zM473.4 606.6h1.3v0.9h-1.3zM474.2 564.3h0.9v1.3h-0.9zM474.1 570.1h1v1.3h-1zM475.1 602.1h0.8v1.3h-0.8zM474.9 591.1h0.8v1h-0.8zM471.2 566.1h1v1h-1zM471.6 568.5h1v1.3h-1zM470.6 612.2h0.9v1.4h-0.9zM474.7 611.1h0.9v1.6h-0.9zM474.8 577h1v0.9h-1zM470.7 587.7h0.7v1.6h-0.7zM474.6 562.2h0.8v0.8h-0.8zM475.1 575.8h0.7v1.1h-0.7zM474.4 552.7h0.8v1.3h-0.8zM471.3 569.6h0.9v0.9h-0.9zM471.9 568.8h0.7v1.1h-0.7zM470.2 600.5h0.9v1.1h-0.9zM471.3 575.3h0.8v1.5h-0.8zM478 606.9h0.9v0.9h-0.9zM476.3 608.5h0.8v1.1h-0.8zM475.9 612.1h1.3v1.2h-1.3zM477.2 626h0.9v0.9h-0.9zM477.5 615.5h1.1v1.2h-1.1zM474.9 621.2h0.9v1h-0.9zM479.2 619.6h0.7v1.3h-0.7zM478.9 607.6h1.1v1.2h-1.1zM475 617.1h0.7v1h-0.7zM478.7 623.4h0.7v1.5h-0.7zM475.1 626.2h1v1.1h-1zM484.8 606.1h1v1h-1zM484.9 568.6h1v1.2h-1zM485.1 595.7h1.2v1.2h-1.2zM485 581h0.7v1h-0.7zM483.8 601.2h0.7v0.9h-0.7zM485.4 610h1.1v0.9h-1.1zM483.3 582.4h0.7v1.1h-0.7zM483 562.4h1.3v1.2h-1.3zM483.6 590.9h1v1h-1zM484.5 611.4h0.8v0.9h-0.8zM483.5 587.5h1.1v0.8h-1.1zM484.2 557.4h1.1v1.1h-1.1zM483.6 588.1h0.9v1.3h-0.9zM483.3 562.9h1.1v1.2h-1.1zM483.6 613.7h0.7v1.3h-0.7zM483.1 614.6h1.1v0.9h-1.1zM484.4 600.6h1v1.1h-1zM483 610.2h1.3v0.8h-1.3zM483.5 615.3h0.8v1.2h-0.8zM486 571.4h0.8v1.3h-0.8zM486 617.4h1v1.5h-1zM485.9 618.2h0.7v1h-0.7zM482.6 587.7h1v0.8h-1zM486 576.5h0.8v0.9h-0.8zM482.9 617.7h1v1.1h-1zM485.6 608.5h1v1.2h-1zM485.7 583.6h0.7v0.8h-0.7zM482.8 621.6h1v1.3h-1zM485.9 593.7h0.7v1h-0.7zM482.8 562.9h1v0.9h-1zM482.7 581.6h0.9v1.5h-0.9zM485.6 595.9h1.1v0.9h-1.1zM485.7 590.8h1.2v1.3h-1.2zM494.6 601.3h0.9v0.9h-0.9zM492.6 598h0.9v1.1h-0.9zM494.6 582.2h0.8v1h-0.8zM492.4 548.6h0.8v1h-0.8zM495 590.6h1v1h-1zM491.9 610.9h1.1v0.9h-1.1zM494.2 573.6h1.1v0.8h-1.1zM493.1 556.9h1v1.1h-1zM493.5 560h0.8v1.3h-0.8zM494.7 599.7h0.8v0.8h-0.8zM492.9 594h1v1.1h-1zM495.1 599.6h1v1h-1zM491.4 581.7h0.8v0.8h-0.8zM494.4 598.2h1.1v0.9h-1.1zM492.1 581.1h0.8v0.8h-0.8zM492 598.6h0.8v0.9h-0.8zM494.4 568.4h1.3v0.9h-1.3zM493.1 552.1h1.2v1.2h-1.2zM492.1 556.4h1.2v1.1h-1.2zM492.4 546.3h0.8v1h-0.8zM492 561.4h1v1.3h-1zM491.4 575.7h0.8v1.4h-0.8zM495.1 544.9h0.8v1.5h-0.8zM495.3 580.9h0.8v1h-0.8zM491 582.8h1v1.3h-1zM490.6 598.7h1v1.5h-1zM490.8 602.9h1v0.8h-1zM490.9 607.9h0.9v0.9h-0.9zM495.4 602.9h1v1.5h-1zM491.1 596.6h0.8v1.6h-0.8zM491.7 545.4h1.1v1.4h-1.1zM495.2 571h0.8v0.8h-0.8zM491.9 568.8h0.8v1.3h-0.8zM498.8 614.4h0.9v1h-0.9zM496.8 620.6h1.3v0.9h-1.3zM498.1 606.4h1.2v1h-1.2zM498.2 617.6h1.1v0.9h-1.1zM497.3 614.5h1.1v0.8h-1.1zM495.9 608.6h1.2v1h-1.2zM498.2 608.7h0.9v1.1h-0.9zM495.5 623.9h0.8v0.9h-0.8zM496.1 607.8h0.8v1.5h-0.8zM499 618.9h1.2v1h-1.2zM504.2 588.8h1v1.2h-1zM505.4 610.1h0.8v0.9h-0.8zM505.8 572.4h0.8v0.9h-0.8zM504.9 561.4h0.8v0.7h-0.8zM505.9 571.4h1v1h-1zM504.1 612.3h1.2v1h-1.2zM504.8 596h1.1v1.1h-1.1zM503.4 559h0.8v0.9h-0.8zM503.3 594.8h1.1v0.7h-1.1zM505.6 594.6h1v1.2h-1zM505.3 597.3h1.1v0.9h-1.1zM505.4 588.7h0.9v1.3h-0.9zM503.6 569.8h0.8v1.1h-0.8zM503.9 611.8h0.8v1.2h-0.8zM505.2 616.3h1.1v1.2h-1.1zM505.3 603.5h1.2v1.3h-1.2zM504.2 572.4h0.8v1.2h-0.8zM503.4 581.4h1v1.1h-1zM503.7 621.9h0.9v0.8h-0.9zM504.5 587.3h1.3v0.8h-1.3zM504.4 578.4h1.1v1.2h-1.1zM503.4 619.6h0.9v1.3h-0.9zM506.1 567.4h1v1.5h-1zM503.4 585.1h0.7v0.9h-0.7zM505.9 585h1.1v1.1h-1.1zM506.2 571.4h0.9v1.5h-0.9zM506.4 562.3h0.9v1.2h-0.9zM502.8 580h1.1v1h-1.1zM506 598.1h1.1v1.3h-1.1zM505.8 609.5h0.9v1.6h-0.9zM503.5 606h0.9v1.6h-0.9zM505.8 589.6h0.8v1.3h-0.8zM502.8 597.1h1.1v0.9h-1.1zM506 614.5h0.7v0.9h-0.7zM503.3 568.6h1v1.2h-1zM503.3 585.4h1v1h-1zM506.3 568.1h0.8v1.1h-0.8zM505.8 582.2h1.2v1.2h-1.2zM511.7 598.7h1.1v0.9h-1.1zM513.9 573.3h0.7v1h-0.7zM512 583.5h0.7v1h-0.7zM512.9 559.7h1.2v0.8h-1.2zM511.4 589.3h1.2v1h-1.2zM514 568.3h0.8v0.8h-0.8zM513.3 572.9h1.1v1.2h-1.1zM512.4 571.5h1v1.2h-1zM512.8 543.5h1.1v0.7h-1.1zM513 565h0.9v0.8h-0.9zM511.4 596.8h1.2v1.2h-1.2zM513.9 547.1h1.1v1h-1.1zM512.8 573.9h1.3v1.2h-1.3zM513.8 589.8h1.1v1h-1.1zM513.3 569.1h0.7v1.2h-0.7zM513.5 556.8h0.8v1.2h-0.8zM511.5 586.8h0.8v0.8h-0.8zM515.1 556.8h0.7v1.5h-0.7zM515.6 595.9h1v0.9h-1zM515.4 564.3h0.9v0.9h-0.9zM516.9 614.1h1.1v1.2h-1.1zM517.6 620.4h1v1.1h-1zM518.2 626.1h0.8v0.7h-0.8zM519.7 619.5h1.2v1.3h-1.2zM516.1 610.3h0.8v1.1h-0.8zM519.7 612.5h0.8v1.4h-0.8zM515.5 625.5h1v1.6h-1zM524 571.7h0.7v0.8h-0.7zM525.2 559.8h0.8v0.8h-0.8zM524.2 567.6h1v1.1h-1zM525.7 606.3h0.8v0.8h-0.8zM524.3 584.8h0.8v1.2h-0.8zM523.8 611.6h0.9v1h-0.9zM524.8 599.1h0.7v0.7h-0.7zM523.8 620.8h0.9v1h-0.9zM524.4 600.5h0.7v0.8h-0.7zM526.2 582.1h1.1v1h-1.1zM524.5 593.7h0.9v1.2h-0.9zM524 584.6h0.8v0.9h-0.8zM524.2 561.8h1v0.7h-1zM525.2 570.4h0.8v1.2h-0.8zM525.7 595.2h0.9v1.1h-0.9zM525.6 593.5h1v1.3h-1zM526.4 585.3h0.7v0.9h-0.7zM524.6 598.8h0.9v0.9h-0.9zM526.8 621.6h0.9v1.5h-0.9zM523.6 590.8h1.1v1.1h-1.1zM523.5 598.7h1.1v1.4h-1.1zM526.7 585.5h1.1v1.3h-1.1zM526.5 595.5h1v1.3h-1zM523.8 595.6h0.9v1.3h-0.9zM526.4 562.4h0.7v0.9h-0.7zM523.7 581.6h0.7v1.5h-0.7zM526.9 600.8h0.8v1.5h-0.8zM523.7 583.7h1v0.8h-1zM523.5 580.8h1.1v0.9h-1.1zM534.1 571.4h1v1.2h-1zM534 566.4h1v0.7h-1zM533.5 593.9h1.2v1.1h-1.2zM532.7 587.2h1v0.9h-1zM535.5 577.6h0.9v0.8h-0.9zM534.7 582.4h0.9v1.2h-0.9zM533.4 582.8h1.2v1.3h-1.2zM534 545.6h0.9v0.9h-0.9zM535.4 581.8h0.9v1.1h-0.9zM534.3 554.3h1v1.3h-1zM534.5 609.4h1.2v1.3h-1.2zM532.3 594.5h1.2v0.7h-1.2zM532.8 591.1h1.1v0.7h-1.1zM534.7 600.2h1.1v1.1h-1.1zM535.4 593.6h0.9v0.9h-0.9zM533.2 603h0.9v1.3h-0.9zM533.8 569.1h1v0.8h-1zM533.2 552h1.3v1.1h-1.3zM533.1 610.3h1.1v0.7h-1.1zM535.6 545h0.9v0.9h-0.9zM536.7 587.2h0.8v1h-0.8zM536.4 577.5h1v1.1h-1zM536.4 601h0.9v1.4h-0.9zM532.2 579.6h1.1v1.1h-1.1zM536.6 597.7h0.9v1.1h-0.9zM531.8 585.6h0.8v1.2h-0.8zM532.5 550.7h1.1v1.2h-1.1zM532.8 553h0.9v1.4h-0.9zM536.6 588h0.9v1h-0.9zM532.6 552.1h1.2v0.9h-1.2zM539.5 620.8h0.8v0.8h-0.8zM539.4 615.4h1v0.7h-1zM538.1 623.9h1.3v1.1h-1.3zM538.5 613.9h1.3v0.8h-1.3zM538.1 607h0.8v1h-0.8zM537 609.8h0.8v0.8h-0.8zM539.4 605.8h1v1.1h-1zM537.7 626.6h1.3v1.1h-1.3zM540 605h1.1v1h-1.1zM539.6 621.2h1.1v1.2h-1.1zM536.1 609.8h1.1v1.4h-1.1zM540 611.6h1.2v1.2h-1.2zM535.9 626.1h1v1.4h-1zM540.1 625.5h0.9v0.9h-0.9zM540 621.1h0.8v1.1h-0.8zM544.1 619.5h1v0.9h-1zM546.7 599.6h1v1.1h-1zM546.4 565.2h0.8v0.7h-0.8zM545.8 584.4h1.1v1.1h-1.1zM545.6 561.3h1v1.1h-1zM545.3 590.9h0.8v0.8h-0.8zM544.8 619.9h1v1.1h-1zM544.5 597.3h0.8v0.7h-0.8zM544.6 617.9h1.2v0.8h-1.2zM545 593h1.2v1.1h-1.2zM544.4 565.3h1.1v0.9h-1.1zM546 570.9h1.1v0.7h-1.1zM545.2 558h0.8v1h-0.8zM545.4 566.8h1v1.3h-1zM544.4 612.8h1.1v0.7h-1.1zM545.2 561.5h0.9v0.7h-0.9zM545.8 616.9h0.7v0.7h-0.7zM545.3 608.5h1.3v1.1h-1.3zM545.5 610h1.2v1.1h-1.2zM543.9 592h0.8v0.8h-0.8zM547.1 615.6h1v0.8h-1zM546.7 561.2h1.2v1.5h-1.2zM546.6 591.9h0.8v1.2h-0.8zM543.9 621.2h0.9v1.3h-0.9zM547.3 584.8h0.7v1.2h-0.7zM546.7 582.9h1.1v1h-1.1zM546.7 620.3h0.9v1.4h-0.9zM544 567h1v1h-1zM546.9 615.2h1v0.9h-1zM544.2 582.2h1.1v1.5h-1.1zM547 572.2h1.2v1.2h-1.2zM546.6 578.9h1v1.1h-1zM546.8 606.6h1.2v1.2h-1.2zM544 621.4h0.8v1.1h-0.8zM553.6 562.7h1v0.7h-1zM554.1 573.6h1.1v1.1h-1.1zM555.5 567.6h1v1.3h-1zM554.2 564.9h0.7v0.9h-0.7zM554 604.1h0.7v1.2h-0.7zM556.3 599.7h1.1v0.9h-1.1zM555.3 595.4h0.8v1h-0.8zM553.1 577.6h1v1.3h-1zM554.5 586.4h0.8v1h-0.8zM553.2 576h1v1h-1zM555.6 575.4h0.7v1h-0.7zM554.6 605.1h1v1h-1zM555.8 563.5h0.7v1h-0.7zM554.2 567.6h0.8v1.2h-0.8zM553.6 558.9h1.3v0.8h-1.3zM555.9 581.7h0.9v1h-0.9zM552.7 609.1h0.8v1.2h-0.8zM554.6 567.6h1v0.7h-1zM555.2 603.6h1v1.3h-1zM552.2 601.4h1.1v1h-1.1zM555.2 547h1v1h-1zM556 566.1h0.9v1.4h-0.9zM556.3 561.4h0.9v1h-0.9zM553 572.1h1.1v0.9h-1.1zM551.7 588.2h1.1v1.4h-1.1zM553.3 567.5h0.8v1h-0.8zM551.9 587.5h0.8v1h-0.8zM551.9 610.3h1v1.3h-1zM552.2 599.4h0.8v1.5h-0.8zM556.4 607.2h0.7v1.2h-0.7zM552.2 620.1h1.2v1.5h-1.2zM555.7 569.7h1.1v1.1h-1.1zM556.8 584.3h0.9v1.3h-0.9zM552.3 594.5h0.9v1.3h-0.9zM556.3 557.3h1.1v1.4h-1.1zM552.1 598.3h0.9v1h-0.9zM553 556.3h0.9v1.6h-0.9zM556.7 626.2h1.2v1.2h-1.2zM558.8 608h0.8v1.1h-0.8zM558.1 624h0.8v1.1h-0.8zM559 611.2h1v1.1h-1zM557.8 610.3h1.1v1.3h-1.1zM559.1 606.2h1.2v0.7h-1.2zM559.3 625.1h1v0.9h-1zM560.4 612.3h0.8v0.7h-0.8zM557.1 606.6h1.1v1h-1.1zM557.9 626.7h0.9v0.9h-0.9zM556.9 610.9h0.8v0.8h-0.8zM560.3 624.6h1.1v1.3h-1.1zM560.1 613.6h1.1v0.9h-1.1zM560 621.7h1v1.1h-1zM560.5 618h0.8v1h-0.8zM560.5 618h1v1.3h-1zM556.4 626.6h1v1.1h-1zM556.6 626.7h0.9v1.6h-0.9zM566.1 594.9h1v1.2h-1zM564.7 583.6h1.2v0.7h-1.2zM565.2 586.2h0.9v1.2h-0.9zM565.2 588.4h1.1v0.8h-1.1zM566.6 568h0.9v1.2h-0.9zM566.1 573.2h1.2v1h-1.2zM566.7 598.8h0.8v1.2h-0.8zM565.9 578.2h0.8v1.1h-0.8zM564.8 608.6h0.8v1h-0.8zM565.5 622.1h1.2v1.2h-1.2zM566.9 587.4h0.9v1h-0.9zM567 590.4h0.8v0.9h-0.8zM565.7 611.8h1.1v0.9h-1.1zM566.5 557.8h1.2v1.3h-1.2zM565.7 622.9h0.7v1h-0.7zM565.3 561.4h0.8v1.2h-0.8zM566 558.6h0.7v0.9h-0.7zM565.2 620.5h1.1v1.2h-1.1zM566.4 616.2h0.9v1.2h-0.9zM565.5 564.9h1.2v0.8h-1.2zM564.3 603.8h0.9v1.1h-0.9zM564.1 570h1.1v1.6h-1.1zM567.1 578.8h0.7v1.5h-0.7zM567.4 562.2h0.8v1.6h-0.8zM567.3 588.8h0.8v0.8h-0.8zM567.5 559.3h0.9v1h-0.9zM567.7 571.5h0.9v1.2h-0.9zM567.3 574h1v1.1h-1zM567.3 599.9h1.2v1.3h-1.2zM567.4 560.2h1.2v0.8h-1.2zM564.2 606.5h1.1v1.5h-1.1zM564.4 587.7h0.7v1.6h-0.7zM567.1 580.4h1.2v1.4h-1.2zM575.9 593.1h1.1v1.3h-1.1zM576.1 604.8h1v1.2h-1zM574.2 620.7h0.7v1h-0.7zM572.5 599.3h1.1v0.9h-1.1zM575.6 581.1h0.9v1.1h-0.9zM573.8 560.1h1.1v1.2h-1.1zM575 580.1h0.9v1.2h-0.9zM575.6 617.1h0.9v1h-0.9zM574.9 611.1h1.1v0.8h-1.1zM575.9 602.8h0.7v1.1h-0.7zM574.5 574.9h0.8v1.1h-0.8zM575.8 608.1h0.9v0.8h-0.9zM575.2 560.4h0.9v0.9h-0.9zM573.3 614.3h1.1v1.3h-1.1zM573.7 568.2h0.9v1.1h-0.9zM573.7 601.5h1.1v1.1h-1.1zM573.9 548.3h0.9v0.9h-0.9zM575 590.3h1.1v1.2h-1.1zM574 555.6h0.8v0.9h-0.8zM576.4 551.6h0.8v1.1h-0.8zM576.2 547.7h1.2v1.2h-1.2zM574.9 571.4h0.8v1.2h-0.8zM576.6 576.6h1.1v1.5h-1.1zM577 605.1h0.9v0.9h-0.9zM572.6 593.4h1.1v1.2h-1.1zM576.3 547.8h1.1v1.5h-1.1zM576.7 569.9h0.9v1.4h-0.9zM573 576.7h1.1v1.1h-1.1zM573.8 550.2h1.2v1.5h-1.2zM576.7 547.3h0.7v1.2h-0.7zM577.5 587.8h0.9v0.8h-0.9zM576.2 563.9h1v1.6h-1zM577 609.6h0.7v0.9h-0.7zM572.2 620.9h1v0.8h-1zM572.5 602.6h1.1v1.6h-1.1zM573.5 553.9h1.1v1h-1.1zM576.7 547.5h0.7v1.1h-0.7zM576.1 570.7h1v1.2h-1zM572.4 584.2h0.9v1.2h-0.9zM578.3 618.3h1.1v0.9h-1.1zM577.9 619.5h1.2v1.1h-1.2zM578 616.8h0.8v1.2h-0.8zM580.5 606.8h1.3v0.8h-1.3zM577.9 613.5h1v0.9h-1zM580.7 609.7h0.9v0.9h-0.9zM578.9 620.1h1.1v0.8h-1.1zM580.7 610.4h0.8v1.2h-0.8zM576.9 623.6h1.1v1.2h-1.1zM576.7 625.3h1v0.9h-1zM577.7 608.5h0.8v1.3h-0.8zM580.8 623.4h1v1.5h-1zM587.1 565.7h1.1v0.8h-1.1zM585.6 561.1h1.1v1.3h-1.1zM585.7 611.4h1v1h-1zM587.2 577.1h1.2v0.8h-1.2zM586.4 568.1h0.8v0.7h-0.8zM587.1 609h0.8v0.7h-0.8zM586.4 621.3h1.3v1.1h-1.3zM585.7 562.5h0.9v1h-0.9zM585.4 608.5h1.2v0.8h-1.2zM587.4 560.5h1.2v1.2h-1.2zM586.2 574.7h1v0.8h-1zM585.2 570.9h0.8v0.9h-0.8zM585.4 575.7h0.7v1h-0.7zM585.5 595h1.2v1h-1.2zM585.6 559.9h1.1v0.8h-1.1zM586.8 563.3h1.1v1.2h-1.1zM584.7 608.7h1.2v1.2h-1.2zM586.6 583h0.9v1.3h-0.9zM586.8 559.6h1.3v1.2h-1.3zM586.6 598.6h1v1h-1zM585 623.1h0.9v1.6h-0.9zM584.7 596.8h1v1.4h-1zM587.7 561.7h1v1.1h-1zM587.4 562.3h1v0.8h-1zM587.9 588.8h0.7v1.5h-0.7zM584.4 566.8h1v1.1h-1zM587.6 599.8h1.1v1.4h-1.1zM584.5 593.9h0.9v0.8h-0.9zM584.7 595.3h0.9v1.5h-0.9zM585 572.3h1v0.8h-1zM584.4 577h1.1v0.9h-1.1zM587.4 596.7h1v1.1h-1zM585 579.5h0.8v1.4h-0.8zM587.4 618.8h0.8v0.9h-0.8zM584.8 596.4h1.2v1.1h-1.2zM587.3 572.1h1.2v1.2h-1.2zM594.5 613.7h1.2v0.9h-1.2zM595.7 587.5h0.7v1h-0.7zM596.4 554.4h1.2v1.1h-1.2zM594.8 558.6h0.9v1h-0.9zM595.4 622.2h1v1h-1zM596.2 571.6h1.3v0.9h-1.3zM597.2 618.4h0.9v1h-0.9zM593.9 613.8h1.1v0.8h-1.1zM593.9 613.1h0.9v0.9h-0.9zM594.4 548.2h1.2v0.8h-1.2zM596.6 567.8h0.8v1.1h-0.8zM593.7 608h0.9v1.2h-0.9zM594.1 572.4h1v0.7h-1zM593.8 581.4h0.9v1.3h-0.9zM594.6 580.2h1.2v1.2h-1.2zM594.9 553h0.9v0.9h-0.9zM595.2 594.9h0.9v0.8h-0.9zM597.1 606.5h0.8v1h-0.8zM595.9 588h1v0.8h-1zM596.2 571.6h1v0.9h-1zM594.8 564.4h1.2v0.8h-1.2zM594.7 589.8h0.9v0.7h-0.9zM595.7 580.4h1v1h-1zM595.8 559.3h0.9v0.9h-0.9zM593 595.2h1.1v1.4h-1.1zM597.1 616.3h0.8v1.6h-0.8zM597.2 555.3h0.9v1.1h-0.9zM592.3 608.5h1.2v1.4h-1.2zM592.9 592h0.8v1.1h-0.8zM592.6 614.7h0.9v1.2h-0.9zM592.7 606.5h0.8v1.6h-0.8zM597 546.2h0.9v1.3h-0.9zM594.1 546.1h0.7v1.2h-0.7zM597.7 616h0.8v1.1h-0.8zM592.7 598.8h1v1.1h-1zM600.5 624.6h1.2v0.7h-1.2zM599.6 622.5h1v0.9h-1zM600.7 623.5h1.1v0.9h-1.1zM599.7 610.8h0.8v0.7h-0.8zM600.9 612.2h1v0.9h-1zM599.6 626.4h0.8v0.8h-0.8zM598.1 607.1h1.1v1h-1.1zM597.2 625.2h0.7v1.5h-0.7zM597.4 611.9h0.7v0.9h-0.7zM601.2 622.4h1v1.4h-1zM597 620.1h1v1.1h-1zM601.3 616.5h1.1v1.5h-1.1zM607.6 600h1.3v1.1h-1.3zM606 572h1v0.8h-1zM606.9 608.1h0.9v0.9h-0.9zM606.9 581.2h1.1v1.2h-1.1zM607 556.4h0.9v0.8h-0.9zM605.4 572h1.3v1.1h-1.3zM607.8 582.4h1.2v0.8h-1.2zM607.8 605.9h0.9v0.8h-0.9zM606.6 585.9h1.3v1.3h-1.3zM605.2 565.6h1.1v1.3h-1.1zM607.3 624.1h1.1v0.8h-1.1zM607.5 557.6h0.7v1.3h-0.7zM605.9 556.5h1.2v1h-1.2zM605.7 595.7h0.8v0.9h-0.8zM606.6 574.5h1.1v1.1h-1.1zM606.6 615.6h1.3v0.7h-1.3zM605.5 604.2h0.8v1.1h-0.8zM607.9 558.4h1.1v0.9h-1.1zM605 569.5h1.1v1.4h-1.1zM605.3 591.8h0.9v0.8h-0.9zM608 579.9h1v1h-1zM605.2 573.7h1.2v1.1h-1.2zM604.9 587.6h0.8v1.2h-0.8zM605.3 573.7h1.1v1.2h-1.1zM608 603.8h1.1v1h-1.1zM605 600.1h0.8v1.1h-0.8zM604.9 585.9h1v1.5h-1zM608.2 574.7h1v1.6h-1zM608.4 566.2h0.9v1.3h-0.9zM608.1 609.7h0.9v1.5h-0.9zM605.3 594.6h1.2v1.2h-1.2zM617.2 544.7h0.9v0.7h-0.9zM614.6 607h1.2v1.1h-1.2zM614.5 578.7h1.3v0.8h-1.3zM613.1 614.6h1.1v0.9h-1.1zM616.1 556.2h0.8v1.1h-0.8zM614.6 594.7h1v0.8h-1zM615.5 547.1h1.2v1.2h-1.2zM616.3 611.4h1.1v1h-1.1zM617.3 582.2h1.1v0.8h-1.1zM616.1 559.2h0.8v0.8h-0.8zM614.6 610.2h1.2v0.7h-1.2zM616.4 571.9h1.2v1h-1.2zM613.6 582.3h1.3v1h-1.3zM614.7 595.5h1v1.2h-1zM616.5 572.2h1.2v0.8h-1.2zM615.3 606h0.9v1.2h-0.9zM617.1 547.8h0.9v0.9h-0.9zM614.7 592.8h0.8v0.7h-0.8zM616.5 543.1h0.7v0.8h-0.7zM614.1 550.2h1.1v0.9h-1.1zM613.1 611h0.7v0.9h-0.7zM614.8 546.2h0.8v1.5h-0.8zM616.9 567.6h1.2v1.3h-1.2zM613.7 583.5h1.1v1.2h-1.1zM617.8 579.6h0.8v1.5h-0.8zM614 572.6h1v1.3h-1zM612.9 598.5h1.1v1.2h-1.1zM614.7 547.7h1v1.5h-1zM613.2 588.1h1.1v1.1h-1.1zM614.3 569.9h0.9v1.3h-0.9zM614 563.1h1v1.4h-1zM619.2 618.6h1.3v1h-1.3zM621.4 619.5h0.8v0.9h-0.8zM618.5 610.1h1.3v0.8h-1.3zM618.1 626.1h1.2v0.9h-1.2zM619.5 615.6h1.2v0.9h-1.2zM621.2 607.6h0.8v1.2h-0.8zM621.4 610.7h0.9v1h-0.9zM618.6 611.9h0.9v0.7h-0.9zM621.5 616.7h1.1v1.5h-1.1zM621.3 626.7h0.8v1.1h-0.8zM618.2 613.3h1.1v1h-1.1zM621.6 621.1h1v1.4h-1zM621.7 624.7h0.8v0.9h-0.8z"/><path fill="#8a3aa8" d="M251.7 213.4h1.3v1h-1.3zM250.7 205h1v1.5h-1zM251.5 217.5h1.2v0.9h-1.2zM251.5 205h1.3v0.9h-1.3zM252.4 209.7h1.2v1h-1.2zM250.2 210.5h1.3v1.3h-1.3zM252.1 215.3h1.1v1.3h-1.1zM251.1 209.3h1.5v1.2h-1.5zM250.7 212h1.1v1.2h-1.1zM251.2 200.7h1.2v1.2h-1.2zM253 211.8h1.2v1.5h-1.2zM254.2 216.4h1.1v1.4h-1.1zM253.1 217h1.4v1.1h-1.4zM273.6 215.6h1v1.5h-1zM273.2 198.5h1.3v1.1h-1.3zM272.5 210.7h1.2v1.5h-1.2zM275 188.7h1.1v1.3h-1.1zM274.1 214.9h1.2v1.1h-1.2zM273.9 196.6h0.9v1h-0.9zM272.5 215.2h1.3v1.2h-1.3zM273.5 199.7h1v0.9h-1zM275.5 196.3h0.9v1.4h-0.9zM276.2 222.2h1.4v0.8h-1.4zM275.8 219.3h1.5v1h-1.5zM295.7 213.3h1.3v1.5h-1.3zM296 215.8h1.2v1.4h-1.2zM296.3 194.1h1v1.4h-1zM296.1 215.9h0.9v1.2h-0.9zM294.6 208.2h1v0.8h-1zM295.7 204.1h0.9v0.9h-0.9zM296.1 210.5h1.3v1.4h-1.3zM294.5 215.8h1.1v1.2h-1.1zM295.7 202.1h1.4v1.1h-1.4zM297.2 192.5h1.1v0.9h-1.1zM296.2 205.7h1.4v1.3h-1.4zM295.3 216.5h1.2v1.2h-1.2zM295.2 213.3h1.4v1.1h-1.4zM297.3 216.4h1.4v0.9h-1.4zM297.7 219.8h1.4v1.4h-1.4zM318.7 189.5h1.1v1h-1.1zM319 204h1.4v1.1h-1.4zM319.2 200h1.3v1.4h-1.3zM319.1 198h1.3v1.2h-1.3zM319.2 192.3h1.1v1.2h-1.1zM317.4 204.9h1.3v0.9h-1.3zM318.9 193.1h0.8v1.4h-0.8zM318.5 211.9h0.9v1.3h-0.9zM318.4 200.3h1.4v0.9h-1.4zM318.4 207.5h1.4v1.2h-1.4zM319.7 215.3h1v1.4h-1zM320.4 214.6h1.3v1.1h-1.3zM341.4 201.1h0.9v1.2h-0.9zM339.7 187.6h0.9v1.3h-0.9zM339.9 194.4h0.9v1.4h-0.9zM339.1 200.9h1.2v1.3h-1.2zM340.3 204.3h1.4v1.4h-1.4zM339.8 205.7h0.9v1.5h-0.9zM340.2 196.4h1v0.8h-1zM342.1 193h1.1v1.2h-1.1zM338.5 216.6h1.2v1h-1.2zM338.9 198.1h1.3v1.1h-1.3zM341 195.2h1.2v1.5h-1.2zM341.3 216.1h1.4v1.2h-1.4zM341.9 218.5h1.1v0.9h-1.1zM342.4 222.7h1.4v1.2h-1.4zM354.4 229.5h0.9v1h-0.9zM353.3 234.1h1.4v1h-1.4zM353.3 229.2h1.2v1.2h-1.2zM352.9 222.8h1.1v1.1h-1.1zM362.5 195.4h0.7v0.8h-0.7zM361 205.8h1v0.9h-1zM363.5 192.5h1.2v0.9h-1.2zM361 222.1h1v1.3h-1zM361 219.1h1.2v0.9h-1.2zM363.6 222.3h1.3v1.3h-1.3zM365.2 221.8h0.8v1.2h-0.8zM364.2 207.3h1.3v1.5h-1.3zM364.1 219.5h0.8v1.3h-0.8zM366.9 171.6h1.3v1.3h-1.3zM367.8 168.2h1.3v1h-1.3zM368.1 187.4h1.4v0.9h-1.4zM368.9 162.2h0.9v0.8h-0.9zM367.9 156.3h1.3v1.3h-1.3zM367.1 203.8h1.3v1.5h-1.3zM368.1 209.2h1.2v1.1h-1.2zM368.7 198.2h1v1h-1zM368.1 209h1.4v1.4h-1.4zM367.8 207h1.2v1.2h-1.2zM367 182.8h1.3v1.1h-1.3zM376.5 221h1.3v1.3h-1.3zM375.8 233.7h0.9v1.2h-0.9zM376.4 223.4h1.1v1h-1.1zM384.2 220.6h1.2v1.4h-1.2zM386.6 213h1.5v1.1h-1.5zM386.1 202.8h1.1v1h-1.1zM385.7 208.8h0.9v0.8h-0.9zM389.5 180.1h0.9v1.3h-0.9zM390.1 194.4h0.9v1.3h-0.9zM390.4 183.3h1.1v1.1h-1.1zM390.3 165.2h1.1v0.8h-1.1zM389.7 188.7h1.2v1.3h-1.2zM389.7 179.6h0.9v0.9h-0.9zM389.3 158.9h0.8v1.1h-0.8zM390.2 182.2h1.5v0.9h-1.5zM397.9 236.8h1.2v1.1h-1.2zM396.5 238.2h1.1v1.5h-1.1zM397.1 238.5h1.2v0.8h-1.2zM398 221.5h1v1.3h-1zM405.4 196.7h0.9v0.9h-0.9zM408.1 213.6h1.3v0.9h-1.3zM408 202.7h1.5v0.9h-1.5zM407.8 202.2h1v1.4h-1zM408.1 213.2h1.1v1.4h-1.1zM408.5 213.4h1.1v1h-1.1zM408.1 211.6h1.1v1h-1.1zM412.6 207h1.5v1.1h-1.5zM412.4 190.2h1.2v1.4h-1.2zM411.7 204.2h0.9v1.2h-0.9zM412 199.4h1.2v1.4h-1.2zM412.9 202.9h1.1v1.1h-1.1zM412.9 178.1h0.9v1.3h-0.9zM411.4 195.7h1.4v1.5h-1.4zM412.8 165.1h0.9v1.4h-0.9zM411.4 189.8h1.5v0.9h-1.5zM412.3 210.7h1.2v1.3h-1.2zM412.1 209.4h1v0.9h-1zM412 181.7h1.3v1.2h-1.3zM412.3 192.9h0.8v0.8h-0.8zM411.1 182h1.3v1h-1.3zM420.6 230.1h0.9v0.8h-0.9zM428.1 192.7h0.8v1.3h-0.8zM427.8 203h0.8v1h-0.8zM429 204h0.8v1.2h-0.8zM431.1 209.7h1.2v1.4h-1.2zM430 214.2h1.2v1.4h-1.2zM430.5 211h1.1v0.9h-1.1zM430.2 221.4h1.3v0.9h-1.3zM430.7 208.6h1.1v1.4h-1.1zM433.5 169.8h1.2v0.8h-1.2zM435 166.8h1.2v1h-1.2zM434.4 179.9h1.2v1.3h-1.2zM434.6 159.3h1.3v1.1h-1.3zM433.1 212h1.3v1.1h-1.3zM434.8 178h1.5v1h-1.5zM434.9 159.9h1.4v0.9h-1.4zM433 174.8h1.1v1.4h-1.1zM434.5 160.3h1.4v1.2h-1.4zM434.5 193h1.2v1.5h-1.2zM434.3 166.3h1v1.2h-1zM434.6 202.6h0.8v0.9h-0.8zM434.4 162.4h1v1.3h-1zM442.5 226.9h1.3v0.8h-1.3zM449.9 212.4h1.3v0.7h-1.3zM448.4 221.9h1.1v1.2h-1.1zM450.2 205.1h1.2v1.1h-1.2zM451.8 203.7h1.1v1.2h-1.1zM452 209.6h1.2v1.2h-1.2zM457.1 195.6h1.3v0.9h-1.3zM455.6 161.6h1v1.5h-1zM455.5 152.9h1.2v0.9h-1.2zM455.7 207h1.2v1h-1.2zM456.7 210.5h1.3v0.8h-1.3zM456.6 157.9h1.3v1.1h-1.3zM455 164.8h1.3v1h-1.3zM455.8 168.5h1.1v1h-1.1zM456 182.5h1v1.1h-1zM464.4 227.1h0.7v1.2h-0.7zM463.4 216.9h0.7v0.8h-0.7zM464.7 230.7h0.9v1.5h-0.9zM464.8 231.5h1v1h-1zM463.7 229.7h1.1v0.9h-1.1zM463.5 238.1h0.9v1.4h-0.9zM462.7 230.6h0.9v0.9h-0.9zM474.9 201.2h1.2v1h-1.2zM474.6 218.4h1.1v0.9h-1.1zM475.1 216.7h1v1.5h-1zM475.3 201.4h1.1v1.2h-1.1zM474.9 212.2h1v1.3h-1zM474.9 218.6h1.2v1h-1.2zM478.3 204.7h0.8v1.3h-0.8zM479.2 175h0.9v0.8h-0.9zM479.1 184.2h1.4v1.1h-1.4zM477.7 201.4h1.1v1.1h-1.1zM477.3 166.7h1.1v0.9h-1.1zM477.5 206.9h1.1v1.4h-1.1zM477.9 200.9h1.1v0.9h-1.1zM479.4 172.8h0.9v0.8h-0.9zM485.2 233.3h1.2v1.1h-1.2zM485.6 240.1h1v0.9h-1zM485.1 231.6h1.3v1.3h-1.3zM485.3 231.9h1v1.4h-1zM494 228.7h0.9v1.4h-0.9zM496.8 210h1.4v1.2h-1.4zM497.1 202.2h0.9v1.4h-0.9zM497.1 218.4h0.8v1.5h-0.8zM497 204.8h0.9v1h-0.9zM496.4 210.3h1.2v1.1h-1.2zM501.1 206.2h1.2v1h-1.2zM499.7 167.5h0.9v1.1h-0.9zM500.9 214.6h0.8v0.8h-0.8zM500.9 197h1v1.3h-1zM500.1 228.1h1.2v1.3h-1.2zM509.2 233.1h0.9v1.2h-0.9zM508.3 237.2h0.8v0.9h-0.8zM507.4 243.9h1.2v1.1h-1.2zM507.1 246.9h1.2v1.3h-1.2zM518.3 224.6h1v1.1h-1zM519 218.4h1.1v1.1h-1.1zM518.9 203.5h1v0.9h-1zM519.4 219.8h1v1.4h-1zM519 224.4h0.8v1.1h-0.8zM519.4 220.2h1.2v1.2h-1.2zM519.2 215.5h1.1v1.3h-1.1zM523.6 198h0.8v0.7h-0.8zM523.1 151.8h1.2v1h-1.2zM523.1 155.8h1.2v1.1h-1.2zM522.8 185.8h0.8v1.1h-0.8zM523 227h1v0.8h-1zM522.2 229.7h1v1.4h-1zM530.5 235.4h0.9v1.3h-0.9zM530.4 235.8h1v1.1h-1zM530.1 242.4h0.8v1.2h-0.8zM530.9 235.7h1.2v0.9h-1.2zM530.5 245.3h1.1v1.3h-1.1zM537.1 228.8h1v1.2h-1zM540.3 218.8h1.2v1.2h-1.2zM540.6 223.7h1v1.4h-1zM541.1 213.2h1.2v1.1h-1.2zM541.2 216.5h0.8v1h-0.8zM540.1 208.3h0.9v1.3h-0.9zM540.7 210.6h1.4v1.2h-1.4zM540.6 223.5h1.4v1.2h-1.4zM544.3 212.1h0.7v1h-0.7zM544.1 215h1.2v1.3h-1.2zM543.7 223.2h0.9v1.2h-0.9zM544.3 229.7h1.3v1.2h-1.3zM544 224.7h1v1.1h-1zM543.9 230.5h0.9v1.1h-0.9zM552.4 240.9h1v1.3h-1zM551.6 248.5h0.9v1.1h-0.9zM552.1 237.5h1.2v0.9h-1.2zM552.6 249.4h0.9v1.4h-0.9zM552.5 242.7h1.2v0.9h-1.2zM552.9 241.3h1.4v1.3h-1.4zM551.3 248.4h1.4v1.1h-1.4zM562 214.9h1.2v1.1h-1.2zM563.3 201.5h1.1v1h-1.1zM562.8 209.9h1v1h-1zM562.3 203h1.1v1.1h-1.1zM563.4 201.5h0.8v1.4h-0.8zM565.6 228.5h1.3v0.8h-1.3zM566.4 230.5h1.3v1.3h-1.3zM566.1 224.9h1v1.1h-1zM566.3 225.3h0.9v1.5h-0.9zM566.8 228.7h0.9v1h-0.9zM573.6 245.2h1.1v1h-1.1zM583 226.9h1v1.1h-1zM584.4 210.7h1v1.2h-1zM585.3 219.3h1.1v1.5h-1.1zM584.4 218.4h1.3v1.4h-1.3zM584.8 203.4h1.3v0.9h-1.3zM585.5 211.4h1.2v1.2h-1.2zM584.3 203.2h1v1.5h-1zM584.3 218.2h1.4v0.9h-1.4zM588 151.6h1.2v0.9h-1.2zM594.7 247.1h1.3v1.2h-1.3zM596.2 238.9h1v1.5h-1zM607.1 221.3h1.1v1.4h-1.1zM607.1 210.2h1.4v1.1h-1.4zM607.3 208.2h1.3v1.1h-1.3zM607 217.5h1.3v1.2h-1.3zM610 229.9h1.3v1.2h-1.3zM610.2 226.7h1.3v1.1h-1.3zM611.2 234.4h1v1.3h-1zM618.2 241.7h1.4v0.8h-1.4zM618.4 244.6h1.2v1.5h-1.2zM618.7 241.5h1v1.3h-1zM618.9 246.5h1.3v1.1h-1.3zM618.7 248.5h1v0.9h-1zM618 239.4h1.4v1.5h-1.4zM625.3 229.3h1.1v1.2h-1.1zM629.2 214.5h0.9v1.2h-0.9zM629.8 213.7h1.4v1.3h-1.4zM629.5 217.3h1.5v1h-1.5zM629.6 210.2h0.8v1.4h-0.8zM629.7 204.4h1.5v1.4h-1.5zM629.6 223.7h0.9v1.4h-0.9zM628.2 223.5h1.5v1.4h-1.5zM628.6 212.8h1.2v1h-1.2zM632.1 181.4h1.3v1h-1.3zM632.1 224.1h1.1v0.8h-1.1zM633 235.5h0.9v0.9h-0.9zM632.8 232h1.2v1.3h-1.2zM632.4 227.6h1.3v1.2h-1.3zM632.1 233.4h1.1v1.2h-1.1zM640.5 248h0.9v1.4h-0.9zM641.1 244.3h1.3v1h-1.3zM651.7 216.4h0.8v1.3h-0.8zM651.7 223.5h1v0.8h-1zM651.5 220.5h1.4v1.2h-1.4zM651.7 222.8h1.2v1.1h-1.2zM650.9 224.3h1.3v1h-1.3zM655.3 217.5h0.8v0.9h-0.8zM150.3 607.8h2.4v2.4h-2.4zM314 624.8h1.3v1.2h-1.3zM313.6 614.5h1.1v1.5h-1.1zM314.4 615.5h0.9v1.3h-0.9zM329.1 572.9h0.8v0.9h-0.8zM329.1 584.2h1v1.1h-1zM330.3 605.5h1.4v1.2h-1.4zM330.7 598.6h0.9v1.2h-0.9zM329.7 595h1v1h-1zM333.9 621h1.3v1.3h-1.3zM333.8 623.2h1v1.1h-1zM340.3 563.5h1.3v1.1h-1.3zM342 620.6h1.3v1.2h-1.3zM340.8 611.4h1v1.4h-1zM341.8 614.1h0.9v1.3h-0.9zM350.2 562.5h1v1h-1zM349.2 587.4h0.9v1.2h-0.9zM351.3 560.6h1.1v1.2h-1.1zM350.2 568.5h0.7v1.2h-0.7zM349.2 581h1.3v1.2h-1.3zM350.7 600.5h1.4v0.9h-1.4zM351.5 596.1h1.2v1.4h-1.2zM350.4 596.6h1.4v0.9h-1.4zM351 599h1v1.3h-1zM350.4 597.3h1.4v1.1h-1.4zM356 617.2h0.9v0.8h-0.9zM353.3 630.5h1.2v0.9h-1.2zM355 630.9h1.1v1.1h-1.1zM362.8 588.7h1v0.9h-1zM361.7 599h1.3v1.1h-1.3zM362.1 603.8h0.9v0.9h-0.9zM361.5 612.7h1v0.9h-1zM362.1 614.5h0.8v1.4h-0.8zM370.9 569.5h1.3v0.9h-1.3zM370.9 597.4h0.7v1.2h-0.7zM370.2 590.3h1.3v1h-1.3zM370.5 549.2h1.1v1.1h-1.1zM370 583.7h1v0.7h-1zM369.7 601.8h1v1.4h-1zM371 599h1.3v1.1h-1.3zM370.8 599.5h1v1.5h-1zM371.3 606.6h1.3v1.3h-1.3zM375.7 615.9h0.9v1.1h-0.9zM375.8 622.4h0.9v1.3h-0.9zM375.4 627.8h1v1.4h-1zM375.2 625.4h0.8v1.2h-0.8zM375.5 628.5h1.1v1.2h-1.1zM382.8 586.4h1.3v0.9h-1.3zM381.2 606.7h1.1v0.8h-1.1zM381.5 601h1.3v1h-1.3zM382.8 613.1h1.2v1.2h-1.2zM382.4 624.5h1.2v0.9h-1.2zM392.1 545.8h1v1.2h-1zM391.7 583.5h1.1v1h-1.1zM389.8 588.8h1.2v1h-1.2zM391.7 562.7h1v1.3h-1zM390.5 603.3h1v0.9h-1zM391.4 611.7h1.3v0.9h-1.3zM389.5 603.5h1.3v1.1h-1.3zM395.4 623.1h1v1.3h-1zM395.1 622h1.2v1.5h-1.2zM402.2 565.2h1v1.2h-1zM402.3 625.8h1.1v0.8h-1.1zM402.3 617.8h0.9v1.3h-0.9zM402.4 614.3h1.3v1h-1.3zM412.8 585.1h1.1v0.8h-1.1zM410 606.5h1.4v1.1h-1.4zM410.2 605.3h1.1v1.3h-1.1zM412 610.9h1.3v1.1h-1.3zM415.6 624.7h0.9v1h-0.9zM414.5 630.2h1v1.3h-1zM416.4 628.2h1.2v1.2h-1.2zM422.4 601h0.7v0.9h-0.7zM422.1 615.7h1.4v0.9h-1.4zM431.3 550.8h0.9v1.3h-0.9zM433.4 561.7h0.8v0.9h-0.8zM432.3 602.5h0.8v0.8h-0.8zM430.4 606.8h1.2v1.2h-1.2zM432.1 613.6h1v1.4h-1zM431.9 610.4h1v1.2h-1zM435.9 633.7h1v1.2h-1zM436.7 631.8h1.2v1.1h-1.2zM436.1 624.8h1.3v1.5h-1.3zM442.9 563.2h0.8v1h-0.8zM442.9 609.5h0.8v0.9h-0.8zM444.1 628.1h0.9v1.1h-0.9zM443.1 618.1h1.2v1.5h-1.2zM442.9 626.1h1.2v1h-1.2zM442.6 630h1.2v1.4h-1.2zM453.7 591.6h0.9v0.8h-0.9zM453.2 618.8h1.3v1h-1.3zM451.7 619.8h1.2v0.9h-1.2zM452.7 614.8h1.1v1h-1.1zM457.4 617h0.9v1.2h-0.9zM455.3 628.1h0.9v1.2h-0.9zM455.7 636.9h1v0.9h-1zM465 565.8h1v1.1h-1zM463.1 623.8h1.4v1.3h-1.4zM464 630.9h1.2v1.1h-1.2zM463.1 627.7h0.8v1.1h-0.8zM472.2 572h1.1v0.9h-1.1zM471.8 616.5h1v1.4h-1zM476.3 632.3h1.1v1h-1.1zM476.3 627.5h1.4v0.9h-1.4zM475.5 627.1h0.9v1.4h-0.9zM476.6 628.7h1.2v1h-1.2zM483.6 629.7h1.2v1h-1.2zM493.8 570.8h1v1h-1zM493 590.6h1v0.8h-1zM494.5 551.7h1.2v1h-1.2zM491.9 621.5h1.1v0.9h-1.1zM493 620.9h0.9v1h-0.9zM496.9 613h0.8v0.8h-0.8zM497.7 637h1.3v0.9h-1.3zM498 632.7h0.9v1.2h-0.9zM497.2 628.5h1.3v1.3h-1.3zM503.5 580.5h0.7v0.9h-0.7zM503.7 632.1h1.3v0.8h-1.3zM505.4 622.2h1.1v1.2h-1.1zM504.4 627h1.1v0.8h-1.1zM514.3 615.7h1.1v0.9h-1.1zM517.2 629.6h1v1.1h-1zM517.1 629h1.1v1.4h-1.1zM516.6 634.6h1v1.5h-1zM518.4 628.1h1.4v1.1h-1.4zM526.1 612.9h0.7v1.1h-0.7zM525.8 578.7h1.2v0.7h-1.2zM524.1 627.5h1.4v0.8h-1.4zM523.9 630.1h1.4v1h-1.4zM535.8 601.7h0.9v1.2h-0.9zM534.4 544.5h0.8v0.8h-0.8zM532.6 616h1.1v0.8h-1.1zM533.2 620.2h1v1.3h-1zM532.2 617.5h1.3v0.8h-1.3zM536.7 622h1.2v1.2h-1.2zM538.2 635.1h1.4v1.2h-1.4zM538.3 632.2h1.3v0.8h-1.3zM546.5 614.4h1v0.8h-1zM544.8 609.9h1.1v1.2h-1.1zM546.4 585.3h0.8v0.8h-0.8zM544.1 569.6h0.9v1h-0.9zM545.1 635.4h1.2v1h-1.2zM546.1 626.1h0.9v1.2h-0.9zM545.7 626.1h1.2v1.3h-1.2zM544.6 633.7h1v1.2h-1zM552.8 606.3h0.7v0.7h-0.7zM555.9 614.4h0.9v0.8h-0.9zM553.8 590.4h1v1.1h-1zM552.6 610.4h1.3v1.1h-1.3zM554.4 629.6h1.3v1.3h-1.3zM555.6 620.7h1.4v1.4h-1.4zM552.6 621.2h1.3v1.2h-1.3zM553.7 621h1.2v1.4h-1.2zM557.9 627.9h1.2v1h-1.2zM559.4 631.5h0.8v1.3h-0.8zM557.6 636.7h1.2v0.8h-1.2zM559.2 633.8h1v1h-1zM565.6 578.7h0.8v1.2h-0.8zM564.9 623.3h1v1.5h-1zM565.7 629.4h1.2v1.3h-1.2zM573 626.7h1.4v1.3h-1.4zM574.9 621.4h1.2v1.5h-1.2zM579.1 624.9h1v0.8h-1zM579 630h0.8v1h-0.8zM579 627.4h1.1v0.9h-1.1zM579.8 628.5h1.3v1.1h-1.3zM578.7 630.8h1v1.2h-1zM578.7 633.4h1.4v1h-1.4zM586.5 578.1h1.1v1.3h-1.1zM585.2 625.1h0.9v0.9h-0.9zM586 628.5h0.9v0.8h-0.9zM595.6 594.5h0.8v1.2h-0.8zM596.5 590.9h1.2v1h-1.2zM596.6 595.2h1v0.9h-1zM595.7 625.4h1v0.8h-1zM594.1 626.1h1v0.9h-1zM599.6 606.5h1v1.2h-1zM599.9 631.4h1.3v0.8h-1.3zM597.8 631.5h1.3v1.1h-1.3zM599.3 632.4h1.2v1.1h-1.2zM605.5 627.8h1.4v1h-1.4zM607.4 624.9h0.9v1.1h-0.9zM617.1 620.1h0.9v0.9h-0.9zM615.3 626.7h0.9v1.2h-0.9zM614.1 625.7h1.2v1.1h-1.2zM616.1 623.2h1.3v1.4h-1.3zM615.8 627.4h0.9v1.2h-0.9zM618.6 614.2h0.8v1h-0.8zM618.8 631.6h1.4v1.5h-1.4zM619.4 628.5h1.1v1.4h-1.1zM618.5 634.4h1.2v1.5h-1.2z"/><path fill="#b8b41c" d="M273.4 195.1h1.4v1h-1.4zM273.8 211.5h1v1.3h-1zM296.7 194.3h1v1.1h-1zM295.8 199.3h1.2v1.2h-1.2zM297.2 194.8h1.1v1.4h-1.1zM295.5 198.9h0.9v1h-0.9zM318.1 197.2h1.1v1.2h-1.1zM319.4 189.8h1.4v1.1h-1.4zM316.7 211.3h1.1v1h-1.1zM317.1 209.4h1.2v0.9h-1.2zM340.6 192.3h1.4v1.1h-1.4zM339.6 207.7h1.2v1h-1.2zM339.1 207.7h1v1.5h-1zM340.7 197.2h0.9v1h-0.9zM340.2 200.4h1.3v1.3h-1.3zM341.4 200.3h1v1.1h-1zM340.9 203.6h0.9v1.3h-0.9zM353.9 236.5h0.9v0.9h-0.9zM361.6 199.8h0.7v0.8h-0.7zM361.9 195.5h0.7v1.1h-0.7zM360.6 215.1h0.9v1.3h-0.9zM360.9 218.2h1.3v1.5h-1.3zM374.9 217.5h1.1v1.1h-1.1zM375.3 224.3h1.1v1h-1.1zM385.4 206.8h1.1v0.8h-1.1zM384.9 209.4h0.7v1.1h-0.7zM382.5 217.1h1.2v1.3h-1.2zM383.6 196.5h1.1v0.8h-1.1zM385.5 193.7h1.1v0.7h-1.1zM386 193.7h1.1v1.1h-1.1zM397.8 217.1h0.9v1.2h-0.9zM397.6 229.2h1.2v1.1h-1.2zM398 234.8h0.9v1.3h-0.9zM396.7 235.8h0.9v1h-0.9zM398.4 224.8h1v1.3h-1zM405.8 198.2h0.8v0.9h-0.8zM406.6 205.4h1.2v1h-1.2zM407.8 202.9h1.2v0.9h-1.2zM405.5 206.4h1v1.1h-1zM407.8 191.8h1.3v1.2h-1.3zM406.9 214.7h1v0.9h-1zM407.4 201.1h0.7v0.8h-0.7zM405.3 200.4h1v1.1h-1zM405.7 220.5h1v1.4h-1zM421.9 219.1h1.2v1.1h-1.2zM421.6 219h1v1.2h-1zM419.1 226.2h1v1h-1zM419.9 229.9h1.3v1.4h-1.3zM419.3 235.1h1.3v0.9h-1.3zM429 219.9h0.8v1.3h-0.8zM428 212h0.9v0.8h-0.9zM430.8 198.4h0.8v1.2h-0.8zM429.5 218.2h1.1v1h-1.1zM442.6 233.9h1v0.9h-1zM442.3 231.1h0.8v1.1h-0.8zM441.2 235.7h1.2v0.9h-1.2zM442.4 236.7h1.2v1h-1.2zM450.8 192h0.9v0.7h-0.9zM452 192h0.9v0.8h-0.9zM449.2 206.1h0.7v1.3h-0.7zM463.9 236.5h0.9v1.4h-0.9zM473.2 220.7h1v1h-1zM487 219.9h1.2v0.8h-1.2zM485.5 215.9h0.9v1.3h-0.9zM488 229.4h0.7v1h-0.7zM485.1 246.8h1.1v1.2h-1.1zM486.6 240.4h0.9v1.1h-0.9zM494.3 208.3h1.3v1.3h-1.3zM496.7 208.8h0.8v1.3h-0.8zM501 203.4h0.7v0.9h-0.7zM499.5 177.5h0.8v0.7h-0.8zM499.3 169.7h1v1.3h-1zM501.6 215.9h1.1v1.3h-1.1zM499.7 232.3h1.1v1.1h-1.1zM507.8 229h0.9v0.9h-0.9zM509.5 224h0.8v1.2h-0.8zM518.1 209.1h1.1v1h-1.1zM516.6 225.7h1.1v0.8h-1.1zM517.9 215.9h0.9v1.2h-0.9zM514.7 198.6h1v1.6h-1zM518.7 191.7h0.8v1.2h-0.8zM515.3 226.4h1v1.2h-1zM521.5 219.3h1.1v1.1h-1.1zM521.9 168.3h0.8v1.1h-0.8zM529.7 223.6h1v1.3h-1zM530.6 247.4h1.3v1.1h-1.3zM529.3 239.2h1.3v1.2h-1.3zM539 190.9h1.1v1.1h-1.1zM538 205.5h0.8v1.1h-0.8zM540.5 214.7h1.1v1h-1.1zM539.3 224.9h1.1v0.9h-1.1zM539.6 225.5h1.2v1h-1.2zM544.5 165.4h1.1v1.2h-1.1zM544 163.7h1.2v0.9h-1.2zM543.5 208h0.9v0.9h-0.9zM542.8 183.3h1v0.8h-1zM543 206.6h1.2v1.6h-1.2zM543.6 226.9h1.3v1.4h-1.3zM551.9 229.4h0.8v0.8h-0.8zM552.6 241.4h1v1h-1zM551.3 240.6h0.8v0.8h-0.8zM551.7 249.4h1.1v1.2h-1.1zM552.3 248.9h1.2v0.8h-1.2zM561.8 209.2h0.8v1.1h-0.8zM558.3 217.2h1v1.3h-1zM558.9 227.6h1.2v1.3h-1.2zM560 228.4h1.4v1h-1.4zM567.8 151.8h1.1v1.1h-1.1zM566.6 150.5h0.8v1.2h-0.8zM565.7 192.5h0.8v1h-0.8zM566.2 218.3h1.3v0.7h-1.3zM565.3 171.9h0.9v1.2h-0.9zM564.8 220.2h1v1.1h-1zM565 207.1h0.9v1.1h-0.9zM564.8 164.8h0.9v1.4h-0.9zM568.5 180.4h0.8v1.3h-0.8zM565.2 153h0.8v1.1h-0.8zM567.2 231.6h1v0.8h-1zM565.7 230.9h1.4v1.4h-1.4zM575.8 216.5h1v1.3h-1zM575.4 232h1.3v1h-1.3zM573.6 225.8h1.2v1.3h-1.2zM584.1 193.4h0.8v1.1h-0.8zM585.3 190.9h0.7v1h-0.7zM584.3 221.5h1v0.8h-1zM587.5 187.4h1.2v0.9h-1.2zM589 179.5h1v0.9h-1zM587.9 196.4h0.9v1h-0.9zM588.8 190.1h1.2v0.8h-1.2zM587.7 199.8h1v0.7h-1zM588.8 180.5h1.1v0.7h-1.1zM589 193.4h1.3v1.2h-1.3zM590.6 171.5h0.7v1h-0.7zM590 212.3h0.7v1h-0.7zM588.5 228.9h0.9v1h-0.9zM596.8 243.7h0.8v1.1h-0.8zM595.1 239.4h1.2v1.5h-1.2zM605 192.1h0.8v0.9h-0.8zM602.7 222.2h1.1v1.2h-1.1zM611 194.3h1.1v1.2h-1.1zM611.3 195.5h0.7v1.1h-0.7zM611.9 159.9h0.9v1.2h-0.9zM610.6 225.1h1.3v1.2h-1.3zM612.7 223.7h0.9v1.6h-0.9zM619.5 219.2h1.1v1.2h-1.1zM617.3 239.7h1v1.2h-1zM617.4 239.5h0.9v1.5h-0.9zM617.5 245.8h1.1v1.5h-1.1zM626.9 205.8h1.2v0.8h-1.2zM626.1 192.1h0.9v1h-0.9zM627.3 190.9h1.1v0.8h-1.1zM625.6 213.8h1.2v0.9h-1.2zM629.4 200h1.1v0.8h-1.1zM631.6 159.9h0.7v1.3h-0.7zM632.6 221.4h1.1v1.2h-1.1zM631.5 211.2h1v1h-1zM631.7 187.7h1.2v0.9h-1.2zM631.9 166.5h1.3v1.2h-1.3zM634.6 170.3h1v1.1h-1zM631.3 215.6h1.1v0.8h-1.1zM634.6 218.1h0.8v1.4h-0.8zM634.2 170.2h1.2v1.4h-1.2zM631.2 180.5h0.9v1h-0.9zM634.2 213.8h1.2v1.3h-1.2zM633.9 226.5h1v1.4h-1zM640.1 217.2h0.9v0.9h-0.9zM642.6 222.5h0.9v1.5h-0.9zM639.8 249.5h1.4v1.4h-1.4zM641.6 239h0.9v1.1h-0.9zM650.2 188.9h0.8v1h-0.8zM651.1 209h1.2v1h-1.2zM649.9 210.6h1.2v0.9h-1.2zM656 170.2h1.2v1.2h-1.2zM655.8 149.7h0.8v1.1h-0.8zM653.4 175.3h1.3v1.2h-1.3zM654.9 186.4h1.1v0.9h-1.1zM654.6 184.8h0.8v0.9h-0.8zM654.9 205.7h0.9v1.3h-0.9zM656.3 160.7h1.1v1.5h-1.1zM656.3 157.7h0.9v1.4h-0.9zM653.2 200h1.2v1.4h-1.2zM654.5 219.4h1.4v1.3h-1.4zM315.4 608.6h1v1.1h-1zM312.6 611.9h1.1v1.4h-1.1zM329.5 549.6h1.1v1.3h-1.1zM331.2 575.1h0.7v0.8h-0.7zM330.1 567.6h1.2v1.1h-1.2zM329.8 576.6h1.2v0.7h-1.2zM329.5 544.9h1v1h-1zM330.4 569.9h0.7v0.7h-0.7zM328.2 593.2h1v1h-1zM331.9 579.7h0.9v1.6h-0.9zM328.8 557.9h0.8v0.8h-0.8zM329 564.8h0.9v0.9h-0.9zM328.7 597.2h1.3v1.3h-1.3zM329.2 593.9h1.2v1.4h-1.2zM329.6 601.6h0.8v1.1h-0.8zM329.5 599.8h1.1v1.3h-1.1zM330.1 595.4h1.3v0.9h-1.3zM334.4 611.6h1.3v0.8h-1.3zM334.9 624.5h0.9v0.8h-0.9zM341.6 607.4h1.1v0.8h-1.1zM341.1 580.7h1.1v1.1h-1.1zM342.3 576.2h1v1.2h-1zM341.5 607.7h1.1v1h-1.1zM341.9 586.7h1v1h-1zM339.9 564.2h1.1v1.4h-1.1zM340 598.3h0.9v1.2h-0.9zM339.9 565.2h1v1.6h-1zM342.1 619.6h1.3v0.9h-1.3zM351.6 550.1h1.2v1.3h-1.2zM349.2 583.5h1.2v1.1h-1.2zM351 559.2h1.2v1.2h-1.2zM349.2 589.1h1.2v1h-1.2zM349 584.7h1v0.7h-1zM350.1 582.4h1.2v1.3h-1.2zM349.2 553.8h0.9v0.8h-0.9zM349.4 596.7h1v1h-1zM350.4 606.9h0.9v1.4h-0.9zM351.1 608.2h1.1v1.3h-1.1zM353.4 614.6h0.8v1.1h-0.8zM355 619.5h1.3v1.1h-1.3zM361 608.5h1v0.7h-1zM362.2 598.1h0.8v1h-0.8zM363.4 608.3h0.8v0.8h-0.8zM361.7 617.6h1.1v1.3h-1.1zM369.5 593h1.1v0.8h-1.1zM371.7 563.9h0.9v1.1h-0.9zM371.4 557.4h1v1.1h-1zM372.3 573.1h0.9v1h-0.9zM369.6 547.8h1.2v1h-1.2zM370.1 602.2h0.9v1.1h-0.9zM370.4 605.1h1v1.2h-1zM375.2 622.3h1.3v0.9h-1.3zM374.3 620.3h1.3v0.9h-1.3zM376 621.7h1.2v1h-1.2zM375.5 626.2h0.9v1.1h-0.9zM375.7 622.1h1.4v1.3h-1.4zM382.2 559.9h0.7v0.9h-0.7zM383 568.5h1.1v1.1h-1.1zM381.2 593.8h1v1.3h-1zM383 583.7h1.1v1.3h-1.1zM381.8 592h1.1v1.2h-1.1zM384 610h0.7v1.1h-0.7zM380.7 593.3h1.1v1.1h-1.1zM381 561.2h1.1v1.2h-1.1zM383.8 608.9h0.9v1.1h-0.9zM382.8 616.4h0.9v0.8h-0.9zM381.9 613.6h1.2v1.2h-1.2zM391.8 558.5h0.9v0.8h-0.9zM391.4 557.5h1.3v0.8h-1.3zM389.2 594.8h1.3v1h-1.3zM390.4 566.4h0.9v0.9h-0.9zM389.7 576.7h0.8v1.1h-0.8zM390 567.7h1v1.3h-1zM390.9 609.8h1.2v1h-1.2zM391.1 604.5h1.3v1h-1.3zM394.8 617.2h0.9v1.2h-0.9zM396 623.3h1.2v0.8h-1.2zM394.3 628h1.2v1.1h-1.2zM403.2 562.3h0.8v0.8h-0.8zM402.6 568.4h0.7v0.9h-0.7zM403.2 565.9h0.7v1.2h-0.7zM401.7 584.8h0.8v0.7h-0.8zM403.2 590.6h1.1v0.7h-1.1zM402.1 614.6h1.2v1.1h-1.2zM411 588.2h0.9v1.2h-0.9zM412 563.1h0.7v1.2h-0.7zM410.8 585.4h0.7v1h-0.7zM413.7 589.5h0.7v0.8h-0.7zM413.7 588.1h1.1v1.4h-1.1zM410.3 555.5h1.1v1.3h-1.1zM411.9 605.5h1v0.9h-1zM417 621.7h0.8v1.2h-0.8zM416.2 628.7h1.3v0.9h-1.3zM416.9 624.7h0.9v0.9h-0.9zM422.1 606.5h0.8v1.2h-0.8zM423.2 557.3h1.1v0.8h-1.1zM422.3 624.3h1.3v1.2h-1.3zM423.1 615.9h1.4v1.1h-1.4zM422.3 615.7h1.3v1.3h-1.3zM431.2 548.4h0.9v1.2h-0.9zM433 577.5h0.8v1.2h-0.8zM430.5 576.7h1v0.7h-1zM429.9 577.1h0.8v0.8h-0.8zM434 623.3h1.1v0.9h-1.1zM435.3 626.1h1.4v1.1h-1.4zM437.1 628.4h0.9v1.4h-0.9zM435.4 629.1h0.9v1.3h-0.9zM442.7 587.5h0.8v1.2h-0.8zM443.2 558.9h0.9v0.8h-0.9zM442.3 573.5h1.1v0.9h-1.1zM443.1 615h1.1v1.1h-1.1zM444.6 565.5h0.9v1.4h-0.9zM441.9 595.6h1.2v1.5h-1.2zM444.7 599.1h1v1.2h-1zM444.9 567.3h0.9v0.9h-0.9zM442.9 626.6h1.3v1.2h-1.3zM452.8 600h1.2v0.9h-1.2zM452.6 605.7h0.8v1.1h-0.8zM451.5 560.9h1v1.1h-1zM451.6 592.1h0.8v0.8h-0.8zM452.3 561.2h1.1v0.9h-1.1zM453.9 557.2h0.7v1.3h-0.7zM455.8 625.5h0.8v1.1h-0.8zM458.2 620.9h0.8v1.6h-0.8zM458.4 609.2h0.8v1.1h-0.8zM458.5 611h0.8v0.9h-0.8zM464.3 573.5h1v0.9h-1zM465.1 588.1h1v1h-1zM463 565.7h0.7v1.1h-0.7zM462.4 577.8h1v0.9h-1zM462 565.9h1.1v1.2h-1.1zM462.2 563.8h0.8v1.5h-0.8zM463.5 625.7h1.3v1.4h-1.3zM463 632.6h1.3v0.9h-1.3zM472.3 568.4h0.7v0.9h-0.7zM472.2 606.7h0.8v1.2h-0.8zM472.9 597.2h0.7v0.8h-0.7zM474.4 608.7h1.2v1.1h-1.2zM472.6 573.3h1.1v1.3h-1.1zM474.4 596h1.2v0.9h-1.2zM474.7 595.6h1.1v1.6h-1.1zM472 556.7h0.8v1.4h-0.8zM470.4 582.8h1v0.9h-1zM470.4 581.7h0.8v1h-0.8zM475.9 605.9h1v1h-1zM477.3 633.6h1v0.8h-1zM483.4 585.2h0.8v0.8h-0.8zM485.3 599.9h1.3v1h-1.3zM483.1 582.9h0.8v0.9h-0.8zM484.6 598.5h1.1v0.9h-1.1zM484.1 592.5h1.2v0.7h-1.2zM484.6 589.2h0.9v0.8h-0.9zM482.5 603.4h1.1v1.3h-1.1zM483.3 624.2h1.2v0.9h-1.2zM483.9 624.7h1.1v1h-1.1zM483.4 634.8h1v1.3h-1zM483.6 623.5h0.9v1h-0.9zM491.1 600.8h0.8v0.8h-0.8zM493.7 606.1h1.1v1.3h-1.1zM492.2 553.2h1.2v1.3h-1.2zM493.6 571.9h1.3v1.2h-1.3zM495.4 584.1h0.8v0.7h-0.8zM495 566.6h1.2v1.3h-1.2zM495.7 586.1h1.1v1.4h-1.1zM494.6 564.9h0.8v0.8h-0.8zM497.6 614.2h0.8v0.8h-0.8zM496.4 632.8h0.8v1.3h-0.8zM504 592.6h1v1.2h-1zM504.4 609.9h0.7v0.9h-0.7zM503.4 574.9h0.8v1h-0.8zM503.4 560.6h1.1v1h-1.1zM505.9 592.6h1v1.1h-1zM514.1 606.4h0.8v0.7h-0.8zM513.8 576.8h1.2v1.2h-1.2zM514.6 545.2h0.9v1h-0.9zM513.1 604.7h0.8v0.9h-0.8zM513.3 618.9h1v1.2h-1zM514.1 614.5h0.9v1.3h-0.9zM519 626.7h1.2v1h-1.2zM518.5 612.6h1.2v1.3h-1.2zM516.9 636.4h1.1v1.2h-1.1zM526.6 589.2h1v1.4h-1zM525.2 624.1h1.2v1.2h-1.2zM535.4 562.2h1v0.8h-1zM534.1 570.2h1.3v1h-1.3zM534.5 584.4h0.8v0.8h-0.8zM535.4 604.2h1v1.2h-1zM532.2 578.1h1.2v0.9h-1.2zM533.2 551.6h1.2v1h-1.2zM531.7 597.3h0.8v1h-0.8zM531.5 584.7h0.7v1h-0.7zM531.8 586.9h0.7v0.9h-0.7zM534.8 614.2h1v1.2h-1zM533.7 615.3h0.8v1h-0.8zM538.4 636.9h1v1.3h-1zM538.9 631.5h1.1v1.2h-1.1zM546.3 595.7h1v1.3h-1zM543.9 606.7h0.9v1.4h-0.9zM543.9 599.8h0.7v1.5h-0.7zM546.7 568.9h0.8v1.2h-0.8zM546.5 623.3h0.8v1.4h-0.8zM544.9 624.4h1.3v0.8h-1.3zM545.1 633.1h1.1v1.4h-1.1zM552.8 613.2h1.2v1h-1.2zM554.7 612.5h1.2v0.8h-1.2zM555.1 614.4h0.9v1h-0.9zM554.3 624.4h1.4v1.4h-1.4zM553.1 626.8h1.4v1h-1.4zM558.7 606.4h0.8v1.1h-0.8zM566.4 612.1h1.2v1.1h-1.2zM566.7 616.4h0.8v1.2h-0.8zM566.7 599.1h1v1.1h-1zM565.8 583h1v1.2h-1zM567.1 564.4h0.7v1h-0.7zM567.2 569.2h1.1v1h-1.1zM573.8 613.7h1.2v0.9h-1.2zM576.1 589.4h1v0.7h-1zM572.5 621.2h1.1v1.5h-1.1zM572.3 604h1v1.1h-1zM573.6 548.6h1.1v1.3h-1.1zM573.2 574.4h0.8v1.4h-0.8zM573.7 626.1h1.4v1.3h-1.4zM574.3 626.6h1.1v1.1h-1.1zM574.5 629.2h0.8v0.9h-0.8zM577.9 621.8h1.3v1.3h-1.3zM580.3 617.4h0.7v1.2h-0.7zM579.9 628.8h0.8v1h-0.8zM587.5 605h0.9v1.3h-0.9zM587.3 598.6h0.9v1h-0.9zM587.9 617.6h0.7v1.3h-0.7zM585.6 626.3h1.3v1.4h-1.3zM586.2 630.7h1.1v1.5h-1.1zM593.9 597.3h1v1.2h-1zM595 574h1.2v0.8h-1.2zM596.3 618.3h1.3v1.1h-1.3zM594.7 556.6h1.1v0.9h-1.1zM595.6 599.8h1.2v1.3h-1.2zM596.7 556.5h0.8v1.1h-0.8zM593.7 556h1.1v1.2h-1.1zM594.1 554.9h0.9v1.4h-0.9zM592.8 596.6h0.7v1.1h-0.7zM593.9 627.3h1.3v1.1h-1.3zM594.4 629.1h1.3v0.9h-1.3zM601.3 613.1h0.7v0.9h-0.7zM598.3 637.9h1.3v1h-1.3zM598.2 629.1h1v1.1h-1zM607.6 593.5h1.1v0.8h-1.1zM606.8 619.8h1.3v1.1h-1.3zM605.4 622.8h1v1h-1zM607.3 559.7h1.1v1.1h-1.1zM604.8 620.2h0.9v1.2h-0.9zM607.7 586.4h1.1v1.1h-1.1zM608.2 612.3h0.9v1.2h-0.9zM607.3 635.8h0.9v1.4h-0.9zM614.8 593.5h0.8v0.9h-0.8zM613.7 593.8h1.1v1.2h-1.1zM614.5 562.6h1.1v1.2h-1.1zM615.5 554.2h1.2v0.7h-1.2zM615.4 548.3h0.8v0.9h-0.8zM614.6 554.4h1v0.9h-1zM616.8 626h1v1h-1zM615.4 626.9h1.3v1.5h-1.3zM615.7 624.1h1.1v0.9h-1.1z"/><rect x="378.3" y="219.8" width="5" height="1" fill="#2ccbee" opacity="0.8"/><rect x="400.4" y="219.6" width="5" height="1" fill="#2ccbee" opacity="0.8"/><rect x="422.4" y="219.4" width="5" height="1" fill="#2ccbee" opacity="0.8"/><rect x="444.5" y="219.2" width="5" height="1" fill="#2ccbee" opacity="0.8"/><rect x="466.6" y="219.0" width="5" height="1" fill="#2ccbee" opacity="0.8"/><rect x="488.7" y="218.4" width="5" height="1" fill="#2ccbee" opacity="0.8"/><rect x="510.7" y="217.8" width="5" height="1" fill="#2ccbee" opacity="0.8"/><rect x="532.8" y="217.8" width="5" height="1" fill="#2ccbee" opacity="0.8"/><rect x="554.9" y="217.8" width="5" height="1" fill="#2ccbee" opacity="0.8"/><rect x="577.0" y="217.8" width="5" height="1" fill="#2ccbee" opacity="0.8"/><rect x="599.0" y="217.8" width="5" height="1" fill="#2ccbee" opacity="0.8"/><rect x="621.1" y="217.8" width="5" height="1" fill="#2ccbee" opacity="0.8"/><rect x="643.2" y="217.8" width="5" height="1" fill="#2ccbee" opacity="0.8"/></g><path d="M235.5,542.5 235.9,541.8 236.2,541.1 236.6,540.5 237.0,539.8 237.3,539.1 235.4,539.4 235.6,539.9 236.7,541.0 237.8,542.0 238.9,543.1 240.1,544.1 241.2,545.2 242.2,546.1 243.3,547.1 244.3,548.0 245.3,549.0 246.4,549.9 247.2,550.7 247.9,551.8 248.7,553.1 249.5,554.4 250.2,555.6 251.0,556.9 251.8,558.2 254.6,556.6 253.8,555.3 253.1,554.0 252.3,552.6 251.6,551.3 250.9,550.0 250.0,548.5 248.8,547.3 247.8,546.4 246.8,545.4 245.8,544.4 244.8,543.4 243.8,542.4 242.7,541.4 241.7,540.3 240.6,539.2 239.5,538.1 238.4,537.0 236.4,535.4 233.7,537.0 233.3,537.7 232.9,538.3 232.5,539.0 232.1,539.6 231.7,540.3Z" fill="#e8232a" stroke="#e8232a" stroke-width="0.6" stroke-linejoin="round"/><path d="M337.5,554.4 340.2,556.0 342.9,557.7 345.6,559.3 348.3,561.0 351.0,562.7 353.7,564.3 356.3,560.1 353.7,558.3 351.1,556.6 348.4,554.9 345.8,553.1 343.1,551.4 340.5,549.6Z" fill="#e8232a" stroke="#e8232a" stroke-width="0.6" stroke-linejoin="round"/><path d="M384.8,569.5 385.6,569.8 386.4,570.0 387.2,570.3 388.0,570.6 388.8,570.8 388.6,570.5 389.7,572.0 391.1,573.8 392.5,575.6 393.9,577.4 395.3,579.2 396.7,581.0 400.5,578.2 399.2,576.3 397.9,574.5 396.6,572.6 395.3,570.7 394.0,568.9 392.4,566.7 390.7,565.8 389.9,565.4 389.1,565.1 388.4,564.8 387.6,564.4 386.8,564.1Z" fill="#e8232a" stroke="#e8232a" stroke-width="0.6" stroke-linejoin="round"/><path d="M426.6,574.7 427.6,574.7 428.6,574.7 429.6,574.7 430.6,574.7 431.6,574.7 430.9,573.9 432.3,576.2 434.2,578.9 436.0,581.6 437.8,584.4 439.6,587.1 441.5,589.8 445.3,587.4 443.6,584.6 441.9,581.8 440.2,579.0 438.5,576.2 436.8,573.3 434.7,570.1 432.0,569.2 431.0,569.0 430.0,568.9 429.0,568.8 428.0,568.6 427.0,568.5Z" fill="#e8232a" stroke="#e8232a" stroke-width="0.6" stroke-linejoin="round"/><path d="M471.5,578.6 473.0,577.8 474.2,577.4 475.2,577.3 476.2,577.3 477.2,577.6 478.2,578.2 479.3,579.1 480.5,580.4 481.6,582.1 482.8,584.2 483.9,586.7 485.0,589.6 489.4,588.0 488.3,584.9 487.2,582.1 486.0,579.6 484.6,577.4 483.1,575.5 481.5,573.9 479.6,572.7 477.6,571.8 475.4,571.5 473.1,571.6 470.9,572.1 468.9,573.0Z" fill="#e8232a" stroke="#e8232a" stroke-width="0.6" stroke-linejoin="round"/><path d="M516.5,576.3 517.2,575.8 517.5,575.7 517.9,575.7 518.6,575.9 519.5,576.4 520.6,577.2 521.8,578.4 523.1,580.0 524.6,581.9 526.1,584.2 527.6,586.8 529.2,589.8 533.2,587.8 531.6,584.7 530.1,581.8 528.6,579.3 527.1,577.0 525.6,575.1 524.1,573.4 522.6,572.0 521.0,571.0 519.2,570.3 517.3,570.0 515.3,570.3 513.9,570.9Z" fill="#e8232a" stroke="#e8232a" stroke-width="0.6" stroke-linejoin="round"/><path d="M556.5,579.7 557.3,579.4 558.1,579.1 558.9,578.8 559.7,578.5 560.5,578.1 558.7,577.3 560.3,579.4 562.3,582.0 564.3,584.6 566.3,587.2 568.3,589.8 570.4,592.4 574.0,589.6 572.2,587.0 570.3,584.3 568.4,581.6 566.5,578.9 564.6,576.2 562.3,573.1 558.9,572.7 558.1,572.9 557.2,573.0 556.4,573.2 555.6,573.4 554.7,573.5Z" fill="#e8232a" stroke="#e8232a" stroke-width="0.6" stroke-linejoin="round"/><path d="M592.8,580.8 594.2,580.9 595.5,581.1 596.7,581.5 597.9,582.1 599.2,582.8 600.4,583.8 601.7,584.9 602.9,586.3 604.2,587.9 605.4,589.6 606.6,591.6 607.9,593.9 612.1,591.7 611.0,589.3 609.8,587.0 608.5,584.9 607.1,583.0 605.7,581.2 604.2,579.6 602.6,578.2 600.9,577.0 599.2,576.0 597.3,575.3 595.4,574.7 593.6,574.4Z" fill="#e8232a" stroke="#e8232a" stroke-width="0.6" stroke-linejoin="round"/><path d="M635.3,585.3 635.4,584.4 635.5,583.4 635.6,582.5 635.7,581.6 635.8,580.7 635.7,580.6 636.0,580.4 636.7,579.5 637.5,578.7 638.2,577.9 638.9,577.1 637.9,577.1 636.9,577.2 637.7,577.9 638.4,578.6 639.2,579.4 640.0,580.1 640.6,580.6 641.4,581.7 642.3,583.1 643.2,584.4 644.1,585.7 645.0,587.1 645.9,588.4 650.1,585.6 649.1,584.3 648.2,582.9 647.3,581.6 646.4,580.3 645.5,578.9 644.4,577.4 643.4,576.4 642.6,575.7 641.9,575.0 641.1,574.2 640.3,573.5 637.7,572.1 635.2,573.7 634.5,574.6 633.7,575.4 633.0,576.2 632.3,577.0 631.1,578.4 630.8,580.1 630.7,581.1 630.6,582.0 630.5,582.9 630.4,583.8 630.3,584.7Z" fill="#e8232a" stroke="#e8232a" stroke-width="0.6" stroke-linejoin="round"/><rect x="57.30" y="1.50" width="5.30" height="319.90" fill="#000"/><rect x="669.10" y="1.50" width="5.20" height="319.90" fill="#000"/><rect x="57.30" y="1.50" width="617.00" height="4.50" fill="#000"/><rect x="57.30" y="316.70" width="617.00" height="4.70" fill="#000"/><rect x="51.10" y="385.90" width="4.70" height="318.70" fill="#000"/><rect x="663.10" y="385.90" width="4.40" height="318.70" fill="#000"/><rect x="51.10" y="385.90" width="616.40" height="4.80" fill="#000"/><rect x="51.10" y="700.20" width="616.40" height="4.40" fill="#000"/><line x1="53.20" y1="279.88" x2="58.00" y2="279.88" stroke="#000" stroke-width="4.0" stroke-linecap="round"/><text x="45.5" y="288.88" font-size="25" text-anchor="end">1</text><line x1="53.20" y1="240.46" x2="58.00" y2="240.46" stroke="#000" stroke-width="4.0" stroke-linecap="round"/><text x="45.5" y="249.46" font-size="25" text-anchor="end">2</text><line x1="53.20" y1="201.04" x2="58.00" y2="201.04" stroke="#000" stroke-width="4.0" stroke-linecap="round"/><text x="45.5" y="210.04000000000002" font-size="25" text-anchor="end">3</text><line x1="53.20" y1="161.62" x2="58.00" y2="161.62" stroke="#000" stroke-width="4.0" stroke-linecap="round"/><text x="45.5" y="170.62" font-size="25" text-anchor="end">4</text><line x1="53.20" y1="122.20" x2="58.00" y2="122.20" stroke="#000" stroke-width="4.0" stroke-linecap="round"/><text x="45.5" y="131.2" font-size="25" text-anchor="end">5</text><line x1="53.20" y1="82.78" x2="58.00" y2="82.78" stroke="#000" stroke-width="4.0" stroke-linecap="round"/><text x="45.5" y="91.78" font-size="25" text-anchor="end">6</text><line x1="53.20" y1="43.36" x2="58.00" y2="43.36" stroke="#000" stroke-width="4.0" stroke-linecap="round"/><text x="45.5" y="52.360000000000014" font-size="25" text-anchor="end">7</text><line x1="215.10" y1="320.00" x2="215.10" y2="326.40" stroke="#000" stroke-width="4.0" stroke-linecap="round"/><text x="215.1" y="352" font-size="25" text-anchor="middle">2</text><line x1="368.70" y1="320.00" x2="368.70" y2="326.40" stroke="#000" stroke-width="4.0" stroke-linecap="round"/><text x="368.7" y="352" font-size="25" text-anchor="middle">4</text><line x1="522.90" y1="320.00" x2="522.90" y2="326.40" stroke="#000" stroke-width="4.0" stroke-linecap="round"/><text x="522.9" y="352" font-size="25" text-anchor="middle">6</text><text x="672" y="352" font-size="25" text-anchor="start">s</text><text x="7.0" y="22" font-size="25" text-anchor="start">kHz</text><text x="72.9" y="40.4" font-size="24" text-anchor="start" textLength="114.5" lengthAdjust="spacingAndGlyphs" style="stroke-width:0.55px">Male solo</text><line x1="46.70" y1="663.15" x2="52.00" y2="663.15" stroke="#000" stroke-width="4.0" stroke-linecap="round"/><text x="39" y="671.4499999999999" font-size="25" text-anchor="end">1</text><line x1="46.70" y1="623.90" x2="52.00" y2="623.90" stroke="#000" stroke-width="4.0" stroke-linecap="round"/><text x="39" y="632.1999999999999" font-size="25" text-anchor="end">2</text><line x1="46.70" y1="584.65" x2="52.00" y2="584.65" stroke="#000" stroke-width="4.0" stroke-linecap="round"/><text x="39" y="592.9499999999999" font-size="25" text-anchor="end">3</text><line x1="46.70" y1="545.40" x2="52.00" y2="545.40" stroke="#000" stroke-width="4.0" stroke-linecap="round"/><text x="39" y="553.6999999999999" font-size="25" text-anchor="end">4</text><line x1="46.70" y1="506.15" x2="52.00" y2="506.15" stroke="#000" stroke-width="4.0" stroke-linecap="round"/><text x="39" y="514.4499999999999" font-size="25" text-anchor="end">5</text><line x1="46.70" y1="466.90" x2="52.00" y2="466.90" stroke="#000" stroke-width="4.0" stroke-linecap="round"/><text x="39" y="475.2" font-size="25" text-anchor="end">6</text><line x1="46.70" y1="427.65" x2="52.00" y2="427.65" stroke="#000" stroke-width="4.0" stroke-linecap="round"/><text x="39" y="435.95" font-size="25" text-anchor="end">7</text><line x1="208.20" y1="703.00" x2="208.20" y2="709.50" stroke="#000" stroke-width="4.0" stroke-linecap="round"/><text x="208.2" y="734.8" font-size="25" text-anchor="middle">2</text><line x1="362.10" y1="703.00" x2="362.10" y2="709.50" stroke="#000" stroke-width="4.0" stroke-linecap="round"/><text x="361.3" y="734.8" font-size="25" text-anchor="middle">4</text><line x1="516.10" y1="703.00" x2="516.10" y2="709.50" stroke="#000" stroke-width="4.0" stroke-linecap="round"/><text x="516.1" y="734.8" font-size="25" text-anchor="middle">6</text><text x="665.5" y="735.5" font-size="25" text-anchor="start">s</text><text x="0.2" y="406.7" font-size="25" text-anchor="start">kHz</text><text x="73.2" y="427.4" font-size="24.5" text-anchor="start" textLength="56" lengthAdjust="spacingAndGlyphs" style="stroke-width:0.55px">Duet</text></svg></body></html>
